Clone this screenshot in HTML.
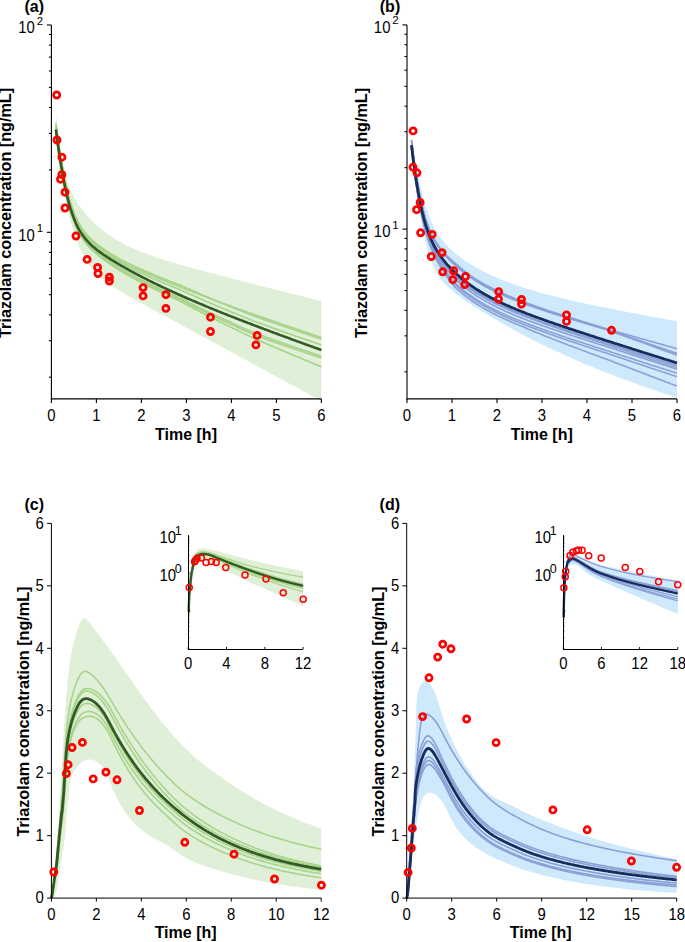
<!DOCTYPE html><html><head><meta charset="utf-8"><style>html,body{margin:0;padding:0;background:#fff;overflow:hidden}svg{display:block}</style></head><body><svg width="685" height="942" viewBox="0 0 685 942" font-family="'Liberation Sans', sans-serif">
<rect width="685" height="942" fill="#fff"/>
<path d="M55.9 113.5L57.0 124.1L58.1 133.6L59.2 142.2L60.3 149.8L61.5 156.5L62.6 162.5L63.7 167.8L64.8 172.4L65.9 176.6L67.0 180.3L68.1 183.7L69.2 186.7L70.3 189.4L71.5 192.0L72.6 194.3L73.7 196.5L74.8 198.5L75.9 200.4L77.0 202.2L78.1 203.9L79.2 205.5L80.3 207.1L81.5 208.6L82.6 210.1L83.7 211.5L84.8 212.8L85.9 214.1L87.0 215.4L88.1 216.7L89.2 217.9L90.3 219.0L91.4 220.2L92.6 221.3L93.7 222.4L94.8 223.4L95.9 224.5L97.0 225.5L98.1 226.5L99.2 227.4L100.3 228.4L101.4 229.3L102.6 230.2L103.7 231.0L104.8 231.9L105.9 232.7L107.0 233.5L108.1 234.3L109.2 235.1L110.3 235.8L111.4 236.6L112.6 237.3L113.7 238.0L114.8 238.7L115.9 239.4L117.0 240.1L118.1 240.7L119.2 241.3L120.3 242.0L121.4 242.6L122.6 243.2L123.7 243.8L124.8 244.3L125.9 244.9L127.0 245.5L128.1 246.0L129.2 246.5L130.3 247.1L131.4 247.6L132.6 248.1L133.7 248.6L134.8 249.1L135.9 249.5L137.0 250.0L138.1 250.5L139.2 250.9L140.3 251.4L141.4 251.8L142.5 252.3L143.7 252.7L144.8 253.1L145.9 253.6L147.0 254.0L148.1 254.4L149.2 254.8L150.3 255.2L151.4 255.6L152.5 256.0L153.7 256.4L154.8 256.7L155.9 257.1L157.0 257.5L158.1 257.9L159.2 258.2L160.3 258.6L161.4 259.0L162.5 259.3L163.7 259.7L164.8 260.0L165.9 260.4L167.0 260.7L168.1 261.1L169.2 261.4L170.3 261.7L171.4 262.1L172.5 262.4L173.7 262.7L174.8 263.1L175.9 263.4L177.0 263.7L178.1 264.1L179.2 264.4L180.3 264.7L181.4 265.0L182.5 265.3L183.7 265.6L184.8 266.0L185.9 266.3L187.0 266.6L188.1 266.9L189.2 267.2L190.3 267.5L191.4 267.8L192.5 268.1L193.6 268.4L194.8 268.7L195.9 269.0L197.0 269.3L198.1 269.6L199.2 269.9L200.3 270.2L201.4 270.5L202.5 270.8L203.6 271.1L204.8 271.4L205.9 271.7L207.0 272.0L208.1 272.3L209.2 272.6L210.3 272.9L211.4 273.2L212.5 273.5L213.6 273.8L214.8 274.1L215.9 274.3L217.0 274.6L218.1 274.9L219.2 275.2L220.3 275.5L221.4 275.8L222.5 276.1L223.6 276.4L224.8 276.6L225.9 276.9L227.0 277.2L228.1 277.5L229.2 277.8L230.3 278.1L231.4 278.4L232.5 278.7L233.6 278.9L234.8 279.2L235.9 279.5L237.0 279.8L238.1 280.1L239.2 280.4L240.3 280.6L241.4 280.9L242.5 281.2L243.6 281.5L244.7 281.8L245.9 282.1L247.0 282.3L248.1 282.6L249.2 282.9L250.3 283.2L251.4 283.5L252.5 283.7L253.6 284.0L254.7 284.3L255.9 284.6L257.0 284.9L258.1 285.2L259.2 285.4L260.3 285.7L261.4 286.0L262.5 286.3L263.6 286.6L264.7 286.8L265.9 287.1L267.0 287.4L268.1 287.7L269.2 288.0L270.3 288.2L271.4 288.5L272.5 288.8L273.6 289.1L274.7 289.4L275.9 289.6L277.0 289.9L278.1 290.2L279.2 290.5L280.3 290.8L281.4 291.0L282.5 291.3L283.6 291.6L284.7 291.9L285.9 292.2L287.0 292.4L288.1 292.7L289.2 293.0L290.3 293.3L291.4 293.6L292.5 293.8L293.6 294.1L294.7 294.4L295.8 294.7L297.0 295.0L298.1 295.2L299.2 295.5L300.3 295.8L301.4 296.1L302.5 296.4L303.6 296.6L304.7 296.9L305.8 297.2L307.0 297.5L308.1 297.8L309.2 298.0L310.3 298.3L311.4 298.6L312.5 298.9L313.6 299.2L314.7 299.4L315.8 299.7L317.0 300.0L318.1 300.3L319.2 300.6L320.3 300.8L321.4 301.1L321.4 401.0L320.3 400.4L319.2 399.8L318.1 399.2L317.0 398.6L315.8 398.0L314.7 397.4L313.6 396.8L312.5 396.2L311.4 395.6L310.3 395.0L309.2 394.4L308.1 393.8L307.0 393.2L305.8 392.6L304.7 392.0L303.6 391.4L302.5 390.8L301.4 390.2L300.3 389.6L299.2 389.0L298.1 388.4L297.0 387.8L295.8 387.1L294.7 386.5L293.6 385.9L292.5 385.3L291.4 384.7L290.3 384.1L289.2 383.5L288.1 382.9L287.0 382.3L285.9 381.7L284.7 381.1L283.6 380.5L282.5 379.9L281.4 379.3L280.3 378.7L279.2 378.1L278.1 377.5L277.0 376.9L275.9 376.3L274.7 375.7L273.6 375.1L272.5 374.5L271.4 373.9L270.3 373.3L269.2 372.7L268.1 372.1L267.0 371.5L265.9 370.9L264.7 370.3L263.6 369.7L262.5 369.1L261.4 368.5L260.3 367.9L259.2 367.3L258.1 366.7L257.0 366.1L255.9 365.5L254.7 364.9L253.6 364.2L252.5 363.6L251.4 363.0L250.3 362.4L249.2 361.8L248.1 361.2L247.0 360.6L245.9 360.0L244.7 359.4L243.6 358.8L242.5 358.2L241.4 357.6L240.3 357.0L239.2 356.4L238.1 355.8L237.0 355.2L235.9 354.6L234.8 354.0L233.6 353.4L232.5 352.8L231.4 352.2L230.3 351.6L229.2 351.0L228.1 350.4L227.0 349.8L225.9 349.2L224.8 348.6L223.6 348.0L222.5 347.4L221.4 346.8L220.3 346.2L219.2 345.6L218.1 345.0L217.0 344.4L215.9 343.8L214.8 343.2L213.6 342.6L212.5 342.0L211.4 341.3L210.3 340.7L209.2 340.1L208.1 339.5L207.0 338.9L205.9 338.3L204.8 337.7L203.6 337.1L202.5 336.5L201.4 335.9L200.3 335.3L199.2 334.7L198.1 334.1L197.0 333.5L195.9 332.9L194.8 332.3L193.6 331.7L192.5 331.1L191.4 330.5L190.3 329.9L189.2 329.3L188.1 328.7L187.0 328.1L185.9 327.5L184.8 326.9L183.7 326.3L182.5 325.7L181.4 325.1L180.3 324.5L179.2 323.9L178.1 323.3L177.0 322.7L175.9 322.1L174.8 321.5L173.7 320.9L172.5 320.3L171.4 319.6L170.3 319.0L169.2 318.4L168.1 317.8L167.0 317.2L165.9 316.6L164.8 316.0L163.7 315.4L162.5 314.8L161.4 314.2L160.3 313.6L159.2 313.0L158.1 312.4L157.0 311.8L155.9 311.2L154.8 310.6L153.7 310.0L152.5 309.4L151.4 308.8L150.3 308.2L149.2 307.5L148.1 306.9L147.0 306.3L145.9 305.7L144.8 305.1L143.7 304.5L142.5 303.9L141.4 303.3L140.3 302.7L139.2 302.1L138.1 301.4L137.0 300.8L135.9 300.2L134.8 299.6L133.7 299.0L132.6 298.3L131.4 297.7L130.3 297.1L129.2 296.4L128.1 295.8L127.0 295.2L125.9 294.5L124.8 293.9L123.7 293.2L122.6 292.6L121.4 291.9L120.3 291.3L119.2 290.6L118.1 289.9L117.0 289.2L115.9 288.5L114.8 287.8L113.7 287.1L112.6 286.4L111.4 285.6L110.3 284.9L109.2 284.1L108.1 283.3L107.0 282.5L105.9 281.7L104.8 280.9L103.7 280.0L102.6 279.1L101.4 278.2L100.3 277.2L99.2 276.2L98.1 275.2L97.0 274.1L95.9 273.0L94.8 271.8L93.7 270.6L92.6 269.3L91.4 267.9L90.3 266.5L89.2 265.0L88.1 263.5L87.0 261.8L85.9 260.0L84.8 258.2L83.7 256.2L82.6 254.1L81.5 251.9L80.3 249.5L79.2 247.0L78.1 244.4L77.0 241.6L75.9 238.6L74.8 235.5L73.7 232.2L72.6 228.7L71.5 225.0L70.3 221.0L69.2 216.9L68.1 212.6L67.0 208.1L65.9 203.3L64.8 198.4L63.7 193.2L62.6 187.8L61.5 182.2L60.3 176.3L59.2 170.2L58.1 163.6L57.0 154.8L55.9 135.0 Z" fill="#e0efd8" stroke="none"/>
<path d="M55.9 123.3L57.0 131.7L58.1 139.7L59.2 147.3L60.3 154.6L61.5 161.4L62.6 167.8L63.7 173.8L64.8 179.4L65.9 184.7L67.0 189.5L68.1 194.0L69.2 198.2L70.3 202.1L71.5 205.6L72.6 208.9L73.7 211.9L74.8 214.7L75.9 217.3L77.0 219.7L78.1 221.9L79.2 223.9L80.3 225.8L81.5 227.6L82.6 229.2L83.7 230.7L84.8 232.2L85.9 233.5L87.0 234.8L88.1 236.0L89.2 237.2L90.3 238.3L91.4 239.4L92.6 240.4L93.7 241.3L94.8 242.3L95.9 243.2L97.0 244.1L98.1 245.0L99.2 245.8L100.3 246.6L101.4 247.4L102.6 248.2L103.7 249.0L104.8 249.7L105.9 250.5L107.0 251.2L108.1 251.9L109.2 252.7L110.3 253.4L111.4 254.1L112.6 254.8L113.7 255.5L114.8 256.1L115.9 256.8L117.0 257.5L118.1 258.1L119.2 258.8L120.3 259.4L121.4 260.0L122.6 260.5L123.7 261.1L124.8 261.6L125.9 262.2L127.0 262.7L128.1 263.2L129.2 263.8L130.3 264.3L131.4 264.8L132.6 265.3L133.7 265.9L134.8 266.4L135.9 266.9L137.0 267.4L138.1 267.9L139.2 268.4L140.3 268.9L141.4 269.4L142.5 269.9L143.7 270.4L144.8 270.9L145.9 271.3L147.0 271.8L148.1 272.3L149.2 272.8L150.3 273.2L151.4 273.7L152.5 274.2L153.7 274.6L154.8 275.1L155.9 275.6L157.0 276.0L158.1 276.5L159.2 276.9L160.3 277.4L161.4 277.8L162.5 278.3L163.7 278.7L164.8 279.2L165.9 279.6L167.0 280.0L168.1 280.5L169.2 280.9L170.3 281.3L171.4 281.8L172.5 282.2L173.7 282.6L174.8 283.0L175.9 283.5L177.0 283.9L178.1 284.3L179.2 284.7L180.3 285.1L181.4 285.6L182.5 286.2L183.7 286.7L184.8 287.2L185.9 287.7L187.0 288.2L188.1 288.7L189.2 289.1L190.3 289.6L191.4 290.1L192.5 290.6L193.6 291.1L194.8 291.6L195.9 292.1L197.0 292.6L198.1 293.1L199.2 293.5L200.3 294.0L201.4 294.5L202.5 295.0L203.6 295.4L204.8 295.9L205.9 296.4L207.0 296.9L208.1 297.3L209.2 297.8L210.3 298.3L211.4 298.8L212.5 299.2L213.6 299.7L214.8 300.2L215.9 300.6L217.0 301.1L218.1 301.5L219.2 302.0L220.3 302.5L221.4 302.9L222.5 303.4L223.6 303.8L224.8 304.3L225.9 304.7L227.0 305.2L228.1 305.7L229.2 306.1L230.3 306.6L231.4 307.0L232.5 307.5L233.6 307.9L234.8 308.4L235.9 308.8L237.0 309.2L238.1 309.7L239.2 310.1L240.3 310.6L241.4 311.0L242.5 311.5L243.6 311.9L244.7 312.4L245.9 312.8L247.0 313.2L248.1 313.7L249.2 314.1L250.3 314.6L251.4 315.0L252.5 315.4L253.6 315.9L254.7 316.3L255.9 316.7L257.0 317.1L258.1 317.5L259.2 317.9L260.3 318.3L261.4 318.6L262.5 319.0L263.6 319.4L264.7 319.8L265.9 320.2L267.0 320.6L268.1 321.0L269.2 321.3L270.3 321.7L271.4 322.1L272.5 322.5L273.6 322.9L274.7 323.3L275.9 323.7L277.0 324.0L278.1 324.4L279.2 324.8L280.3 325.2L281.4 325.6L282.5 325.9L283.6 326.3L284.7 326.7L285.9 327.1L287.0 327.5L288.1 327.8L289.2 328.2L290.3 328.6L291.4 329.0L292.5 329.3L293.6 329.7L294.7 330.1L295.8 330.5L297.0 330.8L298.1 331.2L299.2 331.6L300.3 332.0L301.4 332.3L302.5 332.7L303.6 333.1L304.7 333.5L305.8 333.8L307.0 334.2L308.1 334.6L309.2 335.0L310.3 335.3L311.4 335.7L312.5 336.1L313.6 336.4L314.7 336.8L315.8 337.2L317.0 337.6L318.1 337.9L319.2 338.3L320.3 338.7L321.4 339.0" fill="none" stroke="#a8d48a" stroke-width="1.7"/>
<path d="M55.9 123.3L57.0 131.7L58.1 139.8L59.2 147.4L60.3 154.7L61.5 161.5L62.6 168.0L63.7 174.0L64.8 179.7L65.9 184.9L67.0 189.8L68.1 194.4L69.2 198.6L70.3 202.4L71.5 206.0L72.6 209.3L73.7 212.4L74.8 215.2L75.9 217.8L77.0 220.2L78.1 222.5L79.2 224.5L80.3 226.4L81.5 228.2L82.6 229.9L83.7 231.5L84.8 232.9L85.9 234.3L87.0 235.6L88.1 236.9L89.2 238.1L90.3 239.2L91.4 240.3L92.6 241.3L93.7 242.4L94.8 243.3L95.9 244.3L97.0 245.2L98.1 246.1L99.2 246.9L100.3 247.8L101.4 248.6L102.6 249.4L103.7 250.2L104.8 251.0L105.9 251.8L107.0 252.6L108.1 253.3L109.2 254.1L110.3 254.8L111.4 255.6L112.6 256.3L113.7 257.0L114.8 257.7L115.9 258.4L117.0 259.1L118.1 259.8L119.2 260.5L120.3 261.1L121.4 261.7L122.6 262.2L123.7 262.8L124.8 263.3L125.9 263.9L127.0 264.4L128.1 264.9L129.2 265.5L130.3 266.0L131.4 266.5L132.6 267.0L133.7 267.6L134.8 268.1L135.9 268.6L137.0 269.1L138.1 269.6L139.2 270.1L140.3 270.6L141.4 271.1L142.5 271.6L143.7 272.1L144.8 272.6L145.9 273.0L147.0 273.5L148.1 274.0L149.2 274.5L150.3 274.9L151.4 275.4L152.5 275.9L153.7 276.3L154.8 276.8L155.9 277.3L157.0 277.7L158.1 278.2L159.2 278.6L160.3 279.1L161.4 279.5L162.5 280.0L163.7 280.4L164.8 280.9L165.9 281.3L167.0 281.7L168.1 282.2L169.2 282.6L170.3 283.0L171.4 283.5L172.5 283.9L173.7 284.3L174.8 284.7L175.9 285.2L177.0 285.6L178.1 286.0L179.2 286.4L180.3 286.8L181.4 287.3L182.5 287.7L183.7 288.2L184.8 288.7L185.9 289.1L187.0 289.6L188.1 290.0L189.2 290.4L190.3 290.9L191.4 291.3L192.5 291.8L193.6 292.2L194.8 292.7L195.9 293.1L197.0 293.5L198.1 294.0L199.2 294.4L200.3 294.8L201.4 295.3L202.5 295.7L203.6 296.1L204.8 296.5L205.9 297.0L207.0 297.4L208.1 297.8L209.2 298.2L210.3 298.6L211.4 299.1L212.5 299.5L213.6 299.9L214.8 300.3L215.9 300.7L217.0 301.1L218.1 301.6L219.2 302.0L220.3 302.4L221.4 302.8L222.5 303.2L223.6 303.6L224.8 304.0L225.9 304.4L227.0 304.8L228.1 305.2L229.2 305.6L230.3 306.0L231.4 306.4L232.5 306.8L233.6 307.2L234.8 307.6L235.9 308.0L237.0 308.4L238.1 308.8L239.2 309.2L240.3 309.6L241.4 310.0L242.5 310.4L243.6 310.8L244.7 311.2L245.9 311.6L247.0 312.0L248.1 312.4L249.2 312.8L250.3 313.2L251.4 313.5L252.5 313.9L253.6 314.3L254.7 314.7L255.9 315.1L257.0 315.5L258.1 315.9L259.2 316.3L260.3 316.7L261.4 317.0L262.5 317.4L263.6 317.8L264.7 318.2L265.9 318.6L267.0 319.0L268.1 319.4L269.2 319.7L270.3 320.1L271.4 320.5L272.5 320.9L273.6 321.3L274.7 321.7L275.9 322.1L277.0 322.4L278.1 322.8L279.2 323.2L280.3 323.6L281.4 324.0L282.5 324.3L283.6 324.7L284.7 325.1L285.9 325.5L287.0 325.9L288.1 326.2L289.2 326.6L290.3 327.0L291.4 327.4L292.5 327.7L293.6 328.1L294.7 328.5L295.8 328.9L297.0 329.2L298.1 329.6L299.2 330.0L300.3 330.4L301.4 330.7L302.5 331.1L303.6 331.5L304.7 331.9L305.8 332.2L307.0 332.6L308.1 333.0L309.2 333.4L310.3 333.7L311.4 334.1L312.5 334.5L313.6 334.8L314.7 335.2L315.8 335.6L317.0 336.0L318.1 336.3L319.2 336.7L320.3 337.1L321.4 337.4" fill="none" stroke="#a8d48a" stroke-width="1.7"/>
<path d="M55.9 125.3L57.0 133.7L58.1 141.8L59.2 149.4L60.3 156.7L61.5 163.5L62.6 169.9L63.7 176.0L64.8 181.6L65.9 186.9L67.0 191.8L68.1 196.3L69.2 200.5L70.3 204.4L71.5 208.0L72.6 211.3L73.7 214.3L74.8 217.2L75.9 219.8L77.0 222.2L78.1 224.4L79.2 226.5L80.3 228.4L81.5 230.2L82.6 231.8L83.7 233.4L84.8 234.9L85.9 236.2L87.0 237.6L88.1 238.8L89.2 240.0L90.3 241.1L91.4 242.2L92.6 243.2L93.7 244.2L94.8 245.2L95.9 246.1L97.0 247.1L98.1 247.9L99.2 248.8L100.3 249.7L101.4 250.5L102.6 251.3L103.7 252.1L104.8 252.9L105.9 253.7L107.0 254.4L108.1 255.2L109.2 255.9L110.3 256.7L111.4 257.4L112.6 258.1L113.7 258.8L114.8 259.5L115.9 260.2L117.0 260.9L118.1 261.6L119.2 262.3L120.3 262.9L121.4 263.5L122.6 264.1L123.7 264.6L124.8 265.2L125.9 265.8L127.0 266.3L128.1 266.9L129.2 267.4L130.3 268.0L131.4 268.5L132.6 269.1L133.7 269.6L134.8 270.1L135.9 270.7L137.0 271.2L138.1 271.7L139.2 272.2L140.3 272.8L141.4 273.3L142.5 273.8L143.7 274.3L144.8 274.8L145.9 275.3L147.0 275.8L148.1 276.3L149.2 276.8L150.3 277.3L151.4 277.8L152.5 278.3L153.7 278.8L154.8 279.2L155.9 279.7L157.0 280.2L158.1 280.7L159.2 281.1L160.3 281.6L161.4 282.1L162.5 282.6L163.7 283.0L164.8 283.5L165.9 283.9L167.0 284.4L168.1 284.8L169.2 285.3L170.3 285.8L171.4 286.2L172.5 286.6L173.7 287.1L174.8 287.5L175.9 288.0L177.0 288.4L178.1 288.9L179.2 289.3L180.3 289.7L181.4 290.3L182.5 290.8L183.7 291.3L184.8 291.8L185.9 292.3L187.0 292.8L188.1 293.3L189.2 293.8L190.3 294.3L191.4 294.8L192.5 295.3L193.6 295.8L194.8 296.3L195.9 296.8L197.0 297.3L198.1 297.8L199.2 298.3L200.3 298.8L201.4 299.2L202.5 299.7L203.6 300.2L204.8 300.7L205.9 301.2L207.0 301.7L208.1 302.1L209.2 302.6L210.3 303.1L211.4 303.6L212.5 304.0L213.6 304.5L214.8 305.0L215.9 305.5L217.0 305.9L218.1 306.4L219.2 306.9L220.3 307.3L221.4 307.8L222.5 308.3L223.6 308.7L224.8 309.2L225.9 309.7L227.0 310.1L228.1 310.6L229.2 311.0L230.3 311.5L231.4 312.0L232.5 312.4L233.6 312.9L234.8 313.3L235.9 313.8L237.0 314.2L238.1 314.7L239.2 315.1L240.3 315.6L241.4 316.0L242.5 316.5L243.6 316.9L244.7 317.4L245.9 317.8L247.0 318.3L248.1 318.7L249.2 319.2L250.3 319.6L251.4 320.1L252.5 320.5L253.6 321.0L254.7 321.4L255.9 321.8L257.0 322.2L258.1 322.6L259.2 323.0L260.3 323.4L261.4 323.8L262.5 324.2L263.6 324.6L264.7 325.0L265.9 325.4L267.0 325.8L268.1 326.2L269.2 326.6L270.3 327.0L271.4 327.4L272.5 327.8L273.6 328.2L274.7 328.6L275.9 329.0L277.0 329.4L278.1 329.8L279.2 330.2L280.3 330.6L281.4 331.0L282.5 331.4L283.6 331.8L284.7 332.2L285.9 332.6L287.0 332.9L288.1 333.3L289.2 333.7L290.3 334.1L291.4 334.5L292.5 334.9L293.6 335.3L294.7 335.7L295.8 336.1L297.0 336.5L298.1 336.8L299.2 337.2L300.3 337.6L301.4 338.0L302.5 338.4L303.6 338.8L304.7 339.2L305.8 339.6L307.0 339.9L308.1 340.3L309.2 340.7L310.3 341.1L311.4 341.5L312.5 341.9L313.6 342.3L314.7 342.6L315.8 343.0L317.0 343.4L318.1 343.8L319.2 344.2L320.3 344.6L321.4 344.9" fill="none" stroke="#a8d48a" stroke-width="1.7"/>
<path d="M55.9 130.3L57.0 138.7L58.1 146.8L59.2 154.4L60.3 161.7L61.5 168.5L62.6 175.0L63.7 181.0L64.8 186.7L65.9 191.9L67.0 196.8L68.1 201.4L69.2 205.6L70.3 209.4L71.5 213.0L72.6 216.3L73.7 219.4L74.8 222.2L75.9 224.8L77.0 227.2L78.1 229.5L79.2 231.5L80.3 233.4L81.5 235.2L82.6 236.9L83.7 238.5L84.8 239.9L85.9 241.3L87.0 242.6L88.1 243.9L89.2 245.1L90.3 246.2L91.4 247.3L92.6 248.3L93.7 249.4L94.8 250.3L95.9 251.3L97.0 252.2L98.1 253.1L99.2 253.9L100.3 254.8L101.4 255.6L102.6 256.4L103.7 257.2L104.8 258.0L105.9 258.8L107.0 259.6L108.1 260.3L109.2 261.1L110.3 261.8L111.4 262.6L112.6 263.3L113.7 264.0L114.8 264.7L115.9 265.4L117.0 266.1L118.1 266.8L119.2 267.5L120.3 268.1L121.4 268.8L122.6 269.4L123.7 270.1L124.8 270.7L125.9 271.3L127.0 271.9L128.1 272.5L129.2 273.2L130.3 273.8L131.4 274.4L132.6 275.0L133.7 275.6L134.8 276.2L135.9 276.8L137.0 277.3L138.1 277.9L139.2 278.5L140.3 279.1L141.4 279.7L142.5 280.2L143.7 280.8L144.8 281.4L145.9 281.9L147.0 282.5L148.1 283.1L149.2 283.6L150.3 284.2L151.4 284.7L152.5 285.3L153.7 285.8L154.8 286.4L155.9 286.9L157.0 287.4L158.1 288.0L159.2 288.5L160.3 289.0L161.4 289.6L162.5 290.1L163.7 290.6L164.8 291.1L165.9 291.7L167.0 292.2L168.1 292.7L169.2 293.2L170.3 293.7L171.4 294.2L172.5 294.7L173.7 295.2L174.8 295.7L175.9 296.2L177.0 296.7L178.1 297.2L179.2 297.7L180.3 298.3L181.4 298.8L182.5 299.4L183.7 299.9L184.8 300.5L185.9 301.0L187.0 301.6L188.1 302.1L189.2 302.7L190.3 303.2L191.4 303.8L192.5 304.3L193.6 304.9L194.8 305.4L195.9 306.0L197.0 306.5L198.1 307.0L199.2 307.6L200.3 308.1L201.4 308.7L202.5 309.2L203.6 309.7L204.8 310.2L205.9 310.8L207.0 311.3L208.1 311.8L209.2 312.4L210.3 312.9L211.4 313.4L212.5 313.9L213.6 314.4L214.8 315.0L215.9 315.5L217.0 316.0L218.1 316.5L219.2 317.0L220.3 317.6L221.4 318.1L222.5 318.6L223.6 319.1L224.8 319.6L225.9 320.1L227.0 320.6L228.1 321.1L229.2 321.6L230.3 322.1L231.4 322.6L232.5 323.2L233.6 323.7L234.8 324.2L235.9 324.7L237.0 325.2L238.1 325.7L239.2 326.2L240.3 326.7L241.4 327.2L242.5 327.7L243.6 328.2L244.7 328.7L245.9 329.2L247.0 329.6L248.1 330.1L249.2 330.6L250.3 331.1L251.4 331.6L252.5 332.1L253.6 332.6L254.7 333.1L255.9 333.5L257.0 333.9L258.1 334.3L259.2 334.7L260.3 335.1L261.4 335.5L262.5 335.9L263.6 336.3L264.7 336.7L265.9 337.1L267.0 337.5L268.1 337.8L269.2 338.2L270.3 338.6L271.4 339.0L272.5 339.4L273.6 339.8L274.7 340.2L275.9 340.6L277.0 341.0L278.1 341.4L279.2 341.7L280.3 342.1L281.4 342.5L282.5 342.9L283.6 343.3L284.7 343.7L285.9 344.1L287.0 344.4L288.1 344.8L289.2 345.2L290.3 345.6L291.4 346.0L292.5 346.4L293.6 346.8L294.7 347.1L295.8 347.5L297.0 347.9L298.1 348.3L299.2 348.7L300.3 349.0L301.4 349.4L302.5 349.8L303.6 350.2L304.7 350.6L305.8 350.9L307.0 351.3L308.1 351.7L309.2 352.1L310.3 352.5L311.4 352.8L312.5 353.2L313.6 353.6L314.7 354.0L315.8 354.4L317.0 354.7L318.1 355.1L319.2 355.5L320.3 355.9L321.4 356.2" fill="none" stroke="#a8d48a" stroke-width="1.7"/>
<path d="M55.9 131.3L57.0 139.7L58.1 147.8L59.2 155.5L60.3 162.7L61.5 169.6L62.6 176.1L63.7 182.1L64.8 187.8L65.9 193.1L67.0 198.0L68.1 202.5L69.2 206.8L70.3 210.7L71.5 214.3L72.6 217.6L73.7 220.7L74.8 223.5L75.9 226.1L77.0 228.6L78.1 230.8L79.2 232.9L80.3 234.8L81.5 236.6L82.6 238.3L83.7 239.9L84.8 241.4L85.9 242.8L87.0 244.1L88.1 245.4L89.2 246.6L90.3 247.8L91.4 248.9L92.6 249.9L93.7 250.9L94.8 251.9L95.9 252.9L97.0 253.8L98.1 254.7L99.2 255.6L100.3 256.5L101.4 257.3L102.6 258.2L103.7 259.0L104.8 259.8L105.9 260.6L107.0 261.4L108.1 262.2L109.2 262.9L110.3 263.7L111.4 264.4L112.6 265.2L113.7 265.9L114.8 266.6L115.9 267.3L117.0 268.1L118.1 268.8L119.2 269.5L120.3 270.1L121.4 270.8L122.6 271.4L123.7 272.0L124.8 272.6L125.9 273.2L127.0 273.8L128.1 274.4L129.2 275.0L130.3 275.6L131.4 276.2L132.6 276.8L133.7 277.4L134.8 278.0L135.9 278.6L137.0 279.1L138.1 279.7L139.2 280.3L140.3 280.9L141.4 281.4L142.5 282.0L143.7 282.5L144.8 283.1L145.9 283.6L147.0 284.2L148.1 284.7L149.2 285.3L150.3 285.8L151.4 286.4L152.5 286.9L153.7 287.4L154.8 288.0L155.9 288.5L157.0 289.0L158.1 289.5L159.2 290.0L160.3 290.6L161.4 291.1L162.5 291.6L163.7 292.1L164.8 292.6L165.9 293.1L167.0 293.6L168.1 294.1L169.2 294.6L170.3 295.1L171.4 295.6L172.5 296.1L173.7 296.6L174.8 297.1L175.9 297.6L177.0 298.1L178.1 298.6L179.2 299.1L180.3 299.6L181.4 300.1L182.5 300.7L183.7 301.3L184.8 301.8L185.9 302.4L187.0 303.0L188.1 303.5L189.2 304.1L190.3 304.6L191.4 305.2L192.5 305.8L193.6 306.3L194.8 306.9L195.9 307.4L197.0 308.0L198.1 308.5L199.2 309.1L200.3 309.6L201.4 310.2L202.5 310.7L203.6 311.2L204.8 311.8L205.9 312.3L207.0 312.9L208.1 313.4L209.2 313.9L210.3 314.5L211.4 315.0L212.5 315.5L213.6 316.1L214.8 316.6L215.9 317.1L217.0 317.6L218.1 318.2L219.2 318.7L220.3 319.2L221.4 319.8L222.5 320.3L223.6 320.8L224.8 321.3L225.9 321.8L227.0 322.4L228.1 322.9L229.2 323.4L230.3 323.9L231.4 324.4L232.5 324.9L233.6 325.5L234.8 326.0L235.9 326.5L237.0 327.0L238.1 327.5L239.2 328.0L240.3 328.5L241.4 329.0L242.5 329.5L243.6 330.1L244.7 330.6L245.9 331.1L247.0 331.6L248.1 332.1L249.2 332.6L250.3 333.1L251.4 333.6L252.5 334.1L253.6 334.6L254.7 335.1L255.9 335.5L257.0 335.9L258.1 336.3L259.2 336.7L260.3 337.1L261.4 337.5L262.5 337.9L263.6 338.2L264.7 338.6L265.9 339.0L267.0 339.4L268.1 339.8L269.2 340.2L270.3 340.6L271.4 341.0L272.5 341.4L273.6 341.7L274.7 342.1L275.9 342.5L277.0 342.9L278.1 343.3L279.2 343.7L280.3 344.1L281.4 344.4L282.5 344.8L283.6 345.2L284.7 345.6L285.9 346.0L287.0 346.4L288.1 346.7L289.2 347.1L290.3 347.5L291.4 347.9L292.5 348.3L293.6 348.6L294.7 349.0L295.8 349.4L297.0 349.8L298.1 350.2L299.2 350.5L300.3 350.9L301.4 351.3L302.5 351.7L303.6 352.0L304.7 352.4L305.8 352.8L307.0 353.2L308.1 353.5L309.2 353.9L310.3 354.3L311.4 354.7L312.5 355.1L313.6 355.4L314.7 355.8L315.8 356.2L317.0 356.5L318.1 356.9L319.2 357.3L320.3 357.7L321.4 358.0" fill="none" stroke="#a8d48a" stroke-width="1.7"/>
<path d="M55.9 131.3L57.0 139.7L58.1 147.8L59.2 155.5L60.3 162.8L61.5 169.7L62.6 176.1L63.7 182.2L64.8 187.9L65.9 193.2L67.0 198.1L68.1 202.7L69.2 206.9L70.3 210.8L71.5 214.4L72.6 217.8L73.7 220.8L74.8 223.7L75.9 226.3L77.0 228.8L78.1 231.0L79.2 233.1L80.3 235.1L81.5 236.9L82.6 238.6L83.7 240.2L84.8 241.7L85.9 243.1L87.0 244.4L88.1 245.7L89.2 246.9L90.3 248.1L91.4 249.2L92.6 250.3L93.7 251.3L94.8 252.3L95.9 253.3L97.0 254.2L98.1 255.1L99.2 256.0L100.3 256.9L101.4 257.8L102.6 258.6L103.7 259.4L104.8 260.3L105.9 261.1L107.0 261.9L108.1 262.6L109.2 263.4L110.3 264.2L111.4 264.9L112.6 265.7L113.7 266.4L114.8 267.2L115.9 267.9L117.0 268.6L118.1 269.4L119.2 270.1L120.3 270.7L121.4 271.4L122.6 272.0L123.7 272.7L124.8 273.3L125.9 273.9L127.0 274.6L128.1 275.2L129.2 275.8L130.3 276.4L131.4 277.0L132.6 277.7L133.7 278.3L134.8 278.9L135.9 279.5L137.0 280.1L138.1 280.7L139.2 281.2L140.3 281.8L141.4 282.4L142.5 283.0L143.7 283.6L144.8 284.1L145.9 284.7L147.0 285.3L148.1 285.8L149.2 286.4L150.3 287.0L151.4 287.5L152.5 288.1L153.7 288.6L154.8 289.2L155.9 289.7L157.0 290.3L158.1 290.8L159.2 291.4L160.3 291.9L161.4 292.4L162.5 293.0L163.7 293.5L164.8 294.0L165.9 294.6L167.0 295.1L168.1 295.6L169.2 296.1L170.3 296.7L171.4 297.2L172.5 297.7L173.7 298.2L174.8 298.7L175.9 299.2L177.0 299.7L178.1 300.2L179.2 300.7L180.3 301.3L181.4 301.9L182.5 302.5L183.7 303.1L184.8 303.6L185.9 304.2L187.0 304.8L188.1 305.4L189.2 306.0L190.3 306.6L191.4 307.2L192.5 307.8L193.6 308.4L194.8 308.9L195.9 309.5L197.0 310.1L198.1 310.7L199.2 311.2L200.3 311.8L201.4 312.4L202.5 313.0L203.6 313.5L204.8 314.1L205.9 314.7L207.0 315.2L208.1 315.8L209.2 316.4L210.3 316.9L211.4 317.5L212.5 318.1L213.6 318.6L214.8 319.2L215.9 319.7L217.0 320.3L218.1 320.8L219.2 321.4L220.3 322.0L221.4 322.5L222.5 323.1L223.6 323.6L224.8 324.2L225.9 324.7L227.0 325.3L228.1 325.8L229.2 326.3L230.3 326.9L231.4 327.4L232.5 328.0L233.6 328.5L234.8 329.1L235.9 329.6L237.0 330.1L238.1 330.7L239.2 331.2L240.3 331.8L241.4 332.3L242.5 332.8L243.6 333.4L244.7 333.9L245.9 334.4L247.0 335.0L248.1 335.5L249.2 336.0L250.3 336.6L251.4 337.1L252.5 337.6L253.6 338.2L254.7 338.7L255.9 339.2L257.0 339.7L258.1 340.1L259.2 340.6L260.3 341.1L261.4 341.6L262.5 342.1L263.6 342.5L264.7 343.0L265.9 343.5L267.0 344.0L268.1 344.4L269.2 344.9L270.3 345.4L271.4 345.9L272.5 346.3L273.6 346.8L274.7 347.3L275.9 347.8L277.0 348.2L278.1 348.7L279.2 349.2L280.3 349.6L281.4 350.1L282.5 350.6L283.6 351.1L284.7 351.5L285.9 352.0L287.0 352.5L288.1 352.9L289.2 353.4L290.3 353.9L291.4 354.3L292.5 354.8L293.6 355.3L294.7 355.7L295.8 356.2L297.0 356.7L298.1 357.1L299.2 357.6L300.3 358.1L301.4 358.5L302.5 359.0L303.6 359.5L304.7 359.9L305.8 360.4L307.0 360.8L308.1 361.3L309.2 361.8L310.3 362.2L311.4 362.7L312.5 363.2L313.6 363.6L314.7 364.1L315.8 364.5L317.0 365.0L318.1 365.5L319.2 365.9L320.3 366.4L321.4 366.8" fill="none" stroke="#a8d48a" stroke-width="1.7"/>
<path d="M55.9 129.3L57.0 137.7L58.1 145.7L59.2 153.3L60.3 160.5L61.5 167.3L62.6 173.8L63.7 179.8L64.8 185.4L65.9 190.6L67.0 195.5L68.1 200.0L69.2 204.1L70.3 208.0L71.5 211.5L72.6 214.8L73.7 217.8L74.8 220.6L75.9 223.2L77.0 225.6L78.1 227.8L79.2 229.8L80.3 231.7L81.5 233.4L82.6 235.1L83.7 236.6L84.8 238.0L85.9 239.4L87.0 240.7L88.1 241.9L89.2 243.0L90.3 244.1L91.4 245.2L92.6 246.2L93.7 247.2L94.8 248.1L95.9 249.0L97.0 249.9L98.1 250.8L99.2 251.6L100.3 252.4L101.4 253.2L102.6 254.0L103.7 254.8L104.8 255.5L105.9 256.2L107.0 257.0L108.1 257.7L109.2 258.4L110.3 259.1L111.4 259.8L112.6 260.5L113.7 261.2L114.8 261.9L115.9 262.5L117.0 263.2L118.1 263.8L119.2 264.5L120.3 265.1L121.4 265.8L122.6 266.4L123.7 267.1L124.8 267.7L125.9 268.3L127.0 268.9L128.1 269.5L129.2 270.2L130.3 270.8L131.4 271.4L132.6 272.0L133.7 272.6L134.8 273.2L135.9 273.8L137.0 274.3L138.1 274.9L139.2 275.5L140.3 276.1L141.4 276.7L142.5 277.2L143.7 277.8L144.8 278.4L145.9 278.9L147.0 279.5L148.1 280.1L149.2 280.6L150.3 281.2L151.4 281.7L152.5 282.3L153.7 282.8L154.8 283.4L155.9 283.9L157.0 284.4L158.1 285.0L159.2 285.5L160.3 286.0L161.4 286.6L162.5 287.1L163.7 287.6L164.8 288.1L165.9 288.7L167.0 289.2L168.1 289.7L169.2 290.2L170.3 290.7L171.4 291.2L172.5 291.7L173.7 292.2L174.8 292.7L175.9 293.2L177.0 293.7L178.1 294.2L179.2 294.7L180.3 295.2L181.4 295.7L182.5 296.2L183.7 296.7L184.8 297.2L185.9 297.7L187.0 298.2L188.1 298.7L189.2 299.1L190.3 299.6L191.4 300.1L192.5 300.6L193.6 301.0L194.8 301.5L195.9 302.0L197.0 302.5L198.1 302.9L199.2 303.4L200.3 303.9L201.4 304.3L202.5 304.8L203.6 305.3L204.8 305.7L205.9 306.2L207.0 306.6L208.1 307.1L209.2 307.6L210.3 308.0L211.4 308.5L212.5 308.9L213.6 309.4L214.8 309.8L215.9 310.3L217.0 310.7L218.1 311.2L219.2 311.6L220.3 312.1L221.4 312.5L222.5 313.0L223.6 313.4L224.8 313.9L225.9 314.3L227.0 314.7L228.1 315.2L229.2 315.6L230.3 316.1L231.4 316.5L232.5 316.9L233.6 317.4L234.8 317.8L235.9 318.2L237.0 318.7L238.1 319.1L239.2 319.5L240.3 320.0L241.4 320.4L242.5 320.8L243.6 321.2L244.7 321.7L245.9 322.1L247.0 322.5L248.1 323.0L249.2 323.4L250.3 323.8L251.4 324.2L252.5 324.7L253.6 325.1L254.7 325.5L255.9 325.9L257.0 326.3L258.1 326.8L259.2 327.2L260.3 327.6L261.4 328.0L262.5 328.4L263.6 328.9L264.7 329.3L265.9 329.7L267.0 330.1L268.1 330.5L269.2 330.9L270.3 331.4L271.4 331.8L272.5 332.2L273.6 332.6L274.7 333.0L275.9 333.4L277.0 333.8L278.1 334.2L279.2 334.7L280.3 335.1L281.4 335.5L282.5 335.9L283.6 336.3L284.7 336.7L285.9 337.1L287.0 337.5L288.1 337.9L289.2 338.3L290.3 338.7L291.4 339.2L292.5 339.6L293.6 340.0L294.7 340.4L295.8 340.8L297.0 341.2L298.1 341.6L299.2 342.0L300.3 342.4L301.4 342.8L302.5 343.2L303.6 343.6L304.7 344.0L305.8 344.4L307.0 344.8L308.1 345.2L309.2 345.6L310.3 346.0L311.4 346.4L312.5 346.8L313.6 347.2L314.7 347.6L315.8 348.0L317.0 348.4L318.1 348.8L319.2 349.2L320.3 349.6L321.4 350.0" fill="none" stroke="#325a24" stroke-width="2.6"/>
<path d="M411.5 136.5L412.6 143.8L413.7 150.9L414.8 157.6L415.9 163.9L417.1 169.9L418.2 175.6L419.3 181.0L420.4 186.0L421.5 190.8L422.6 195.2L423.7 199.4L424.8 203.3L425.9 206.9L427.1 210.3L428.2 213.5L429.3 216.4L430.4 219.2L431.5 221.8L432.6 224.2L433.7 226.5L434.8 228.6L435.9 230.6L437.1 232.5L438.2 234.2L439.3 235.9L440.4 237.5L441.5 239.0L442.6 240.5L443.7 241.8L444.8 243.2L445.9 244.4L447.0 245.6L448.2 246.8L449.3 247.9L450.4 249.0L451.5 250.0L452.6 251.0L453.7 252.0L454.8 252.9L455.9 253.8L457.0 254.7L458.2 255.6L459.3 256.5L460.4 257.3L461.5 258.1L462.6 258.9L463.7 259.7L464.8 260.5L465.9 261.2L467.0 261.9L468.2 262.7L469.3 263.4L470.4 264.1L471.5 264.7L472.6 265.4L473.7 266.1L474.8 266.7L475.9 267.4L477.0 268.0L478.2 268.6L479.3 269.2L480.4 269.8L481.5 270.4L482.6 271.0L483.7 271.5L484.8 272.1L485.9 272.7L487.0 273.2L488.2 273.8L489.3 274.3L490.4 274.8L491.5 275.3L492.6 275.8L493.7 276.3L494.8 276.8L495.9 277.3L497.0 277.8L498.1 278.3L499.3 278.7L500.4 279.2L501.5 279.7L502.6 280.1L503.7 280.6L504.8 281.0L505.9 281.4L507.0 281.9L508.1 282.3L509.3 282.7L510.4 283.1L511.5 283.5L512.6 283.9L513.7 284.3L514.8 284.7L515.9 285.1L517.0 285.5L518.1 285.9L519.3 286.2L520.4 286.6L521.5 287.0L522.6 287.3L523.7 287.7L524.8 288.1L525.9 288.4L527.0 288.8L528.1 289.1L529.3 289.4L530.4 289.8L531.5 290.1L532.6 290.5L533.7 290.8L534.8 291.1L535.9 291.4L537.0 291.7L538.1 292.1L539.3 292.4L540.4 292.7L541.5 293.0L542.6 293.3L543.7 293.6L544.8 293.9L545.9 294.2L547.0 294.5L548.1 294.8L549.2 295.1L550.4 295.4L551.5 295.6L552.6 295.9L553.7 296.2L554.8 296.5L555.9 296.8L557.0 297.0L558.1 297.3L559.2 297.6L560.4 297.9L561.5 298.1L562.6 298.4L563.7 298.7L564.8 298.9L565.9 299.2L567.0 299.4L568.1 299.7L569.2 300.0L570.4 300.2L571.5 300.5L572.6 300.7L573.7 301.0L574.8 301.2L575.9 301.5L577.0 301.7L578.1 302.0L579.2 302.2L580.4 302.4L581.5 302.7L582.6 302.9L583.7 303.2L584.8 303.4L585.9 303.7L587.0 303.9L588.1 304.1L589.2 304.4L590.4 304.6L591.5 304.8L592.6 305.1L593.7 305.3L594.8 305.5L595.9 305.8L597.0 306.0L598.1 306.2L599.2 306.4L600.3 306.7L601.5 306.9L602.6 307.1L603.7 307.3L604.8 307.6L605.9 307.8L607.0 308.0L608.1 308.2L609.2 308.5L610.3 308.7L611.5 308.9L612.6 309.1L613.7 309.3L614.8 309.6L615.9 309.8L617.0 310.0L618.1 310.2L619.2 310.4L620.3 310.6L621.5 310.9L622.6 311.1L623.7 311.3L624.8 311.5L625.9 311.7L627.0 311.9L628.1 312.1L629.2 312.4L630.3 312.6L631.5 312.8L632.6 313.0L633.7 313.2L634.8 313.4L635.9 313.6L637.0 313.8L638.1 314.0L639.2 314.3L640.3 314.5L641.5 314.7L642.6 314.9L643.7 315.1L644.8 315.3L645.9 315.5L647.0 315.7L648.1 315.9L649.2 316.1L650.3 316.3L651.4 316.5L652.6 316.7L653.7 317.0L654.8 317.2L655.9 317.4L657.0 317.6L658.1 317.8L659.2 318.0L660.3 318.2L661.4 318.4L662.6 318.6L663.7 318.8L664.8 319.0L665.9 319.2L667.0 319.4L668.1 319.6L669.2 319.8L670.3 320.0L671.4 320.2L672.6 320.4L673.7 320.6L674.8 320.8L675.9 321.0L677.0 321.2L677.0 397.8L675.9 397.5L674.8 397.1L673.7 396.7L672.6 396.4L671.4 396.0L670.3 395.6L669.2 395.3L668.1 394.9L667.0 394.5L665.9 394.2L664.8 393.8L663.7 393.4L662.6 393.0L661.4 392.7L660.3 392.3L659.2 391.9L658.1 391.5L657.0 391.1L655.9 390.8L654.8 390.4L653.7 390.0L652.6 389.6L651.4 389.2L650.3 388.8L649.2 388.5L648.1 388.1L647.0 387.7L645.9 387.3L644.8 386.9L643.7 386.5L642.6 386.1L641.5 385.7L640.3 385.3L639.2 384.9L638.1 384.5L637.0 384.1L635.9 383.7L634.8 383.3L633.7 382.9L632.6 382.5L631.5 382.1L630.3 381.7L629.2 381.3L628.1 380.9L627.0 380.5L625.9 380.1L624.8 379.7L623.7 379.2L622.6 378.8L621.5 378.4L620.3 378.0L619.2 377.6L618.1 377.2L617.0 376.7L615.9 376.3L614.8 375.9L613.7 375.5L612.6 375.0L611.5 374.6L610.3 374.2L609.2 373.7L608.1 373.3L607.0 372.9L605.9 372.4L604.8 372.0L603.7 371.6L602.6 371.1L601.5 370.7L600.3 370.2L599.2 369.8L598.1 369.3L597.0 368.9L595.9 368.4L594.8 368.0L593.7 367.5L592.6 367.1L591.5 366.6L590.4 366.2L589.2 365.7L588.1 365.3L587.0 364.8L585.9 364.3L584.8 363.9L583.7 363.4L582.6 362.9L581.5 362.5L580.4 362.0L579.2 361.5L578.1 361.0L577.0 360.5L575.9 360.1L574.8 359.6L573.7 359.1L572.6 358.6L571.5 358.1L570.4 357.6L569.2 357.1L568.1 356.7L567.0 356.2L565.9 355.7L564.8 355.2L563.7 354.7L562.6 354.2L561.5 353.6L560.4 353.1L559.2 352.6L558.1 352.1L557.0 351.6L555.9 351.1L554.8 350.6L553.7 350.1L552.6 349.5L551.5 349.0L550.4 348.5L549.2 348.0L548.1 347.4L547.0 346.9L545.9 346.4L544.8 345.8L543.7 345.3L542.6 344.7L541.5 344.2L540.4 343.6L539.3 343.1L538.1 342.5L537.0 342.0L535.9 341.4L534.8 340.9L533.7 340.3L532.6 339.8L531.5 339.2L530.4 338.6L529.3 338.1L528.1 337.5L527.0 336.9L525.9 336.3L524.8 335.7L523.7 335.2L522.6 334.6L521.5 334.0L520.4 333.4L519.3 332.8L518.1 332.2L517.0 331.6L515.9 331.0L514.8 330.4L513.7 329.8L512.6 329.2L511.5 328.6L510.4 328.0L509.3 327.4L508.1 326.7L507.0 326.1L505.9 325.5L504.8 324.9L503.7 324.2L502.6 323.6L501.5 323.0L500.4 322.3L499.3 321.7L498.1 321.1L497.0 320.4L495.9 319.8L494.8 319.1L493.7 318.5L492.6 317.8L491.5 317.1L490.4 316.5L489.3 315.8L488.2 315.1L487.0 314.5L485.9 313.8L484.8 313.1L483.7 312.4L482.6 311.8L481.5 311.1L480.4 310.4L479.3 309.7L478.2 309.0L477.0 308.3L475.9 307.6L474.8 306.9L473.7 306.1L472.6 305.4L471.5 304.7L470.4 304.0L469.3 303.2L468.2 302.5L467.0 301.7L465.9 301.0L464.8 300.2L463.7 299.4L462.6 298.7L461.5 297.9L460.4 297.1L459.3 296.3L458.2 295.4L457.0 294.6L455.9 293.7L454.8 292.9L453.7 292.0L452.6 291.1L451.5 290.1L450.4 289.1L449.3 288.1L448.2 287.1L447.0 286.0L445.9 284.9L444.8 283.7L443.7 282.4L442.6 281.1L441.5 279.7L440.4 278.2L439.3 276.6L438.2 274.8L437.1 273.0L435.9 271.0L434.8 268.8L433.7 266.5L432.6 263.9L431.5 261.1L430.4 258.1L429.3 254.8L428.2 251.2L427.1 247.3L425.9 243.1L424.8 238.5L423.7 233.5L422.6 228.1L421.5 222.2L420.4 216.0L419.3 209.3L418.2 202.2L417.1 194.6L415.9 186.6L414.8 178.2L413.7 169.3L412.6 160.1L411.5 150.5 Z" fill="#cde9fb" stroke="none"/>
<path d="M411.5 140.1L412.6 149.3L413.7 157.8L414.8 165.9L415.9 173.4L417.1 180.4L418.2 186.8L419.3 192.8L420.4 198.3L421.5 203.4L422.6 208.0L423.7 212.3L424.8 216.3L425.9 219.9L427.1 223.2L428.2 226.3L429.3 229.2L430.4 231.7L431.5 234.1L432.6 236.3L433.7 238.4L434.8 240.3L435.9 242.1L437.1 243.8L438.2 245.5L439.3 247.0L440.4 248.4L441.5 249.8L442.6 251.2L443.7 252.4L444.8 253.7L445.9 254.8L447.0 256.0L448.2 257.1L449.3 258.1L450.4 259.1L451.5 260.1L452.6 261.1L453.7 262.0L454.8 262.9L455.9 263.9L457.0 264.9L458.2 265.9L459.3 266.9L460.4 267.8L461.5 268.7L462.6 269.6L463.7 270.5L464.8 271.3L465.9 272.2L467.0 273.0L468.2 273.8L469.3 274.6L470.4 275.4L471.5 276.1L472.6 276.9L473.7 277.6L474.8 278.4L475.9 279.1L477.0 279.8L478.2 280.5L479.3 281.1L480.4 281.8L481.5 282.5L482.6 283.1L483.7 283.7L484.8 284.4L485.9 285.0L487.0 285.6L488.2 286.2L489.3 286.8L490.4 287.3L491.5 287.9L492.6 288.5L493.7 289.0L494.8 289.6L495.9 290.1L497.0 290.7L498.1 291.2L499.3 291.7L500.4 292.2L501.5 292.7L502.6 293.2L503.7 293.7L504.8 294.2L505.9 294.7L507.0 295.2L508.1 295.7L509.3 296.1L510.4 296.6L511.5 297.1L512.6 297.5L513.7 298.0L514.8 298.4L515.9 298.9L517.0 299.3L518.1 299.7L519.3 300.2L520.4 300.6L521.5 301.0L522.6 301.4L523.7 301.9L524.8 302.3L525.9 302.7L527.0 303.1L528.1 303.5L529.3 303.9L530.4 304.3L531.5 304.7L532.6 305.1L533.7 305.5L534.8 305.9L535.9 306.3L537.0 306.7L538.1 307.0L539.3 307.4L540.4 307.8L541.5 308.2L542.6 308.6L543.7 308.9L544.8 309.3L545.9 309.7L547.0 310.1L548.1 310.4L549.2 310.8L550.4 311.2L551.5 311.5L552.6 311.9L553.7 312.3L554.8 312.6L555.9 313.0L557.0 313.3L558.1 313.7L559.2 314.1L560.4 314.4L561.5 314.8L562.6 315.1L563.7 315.5L564.8 315.8L565.9 316.2L567.0 316.5L568.1 316.9L569.2 317.2L570.4 317.6L571.5 317.9L572.6 318.3L573.7 318.6L574.8 319.0L575.9 319.3L577.0 319.7L578.1 320.0L579.2 320.4L580.4 320.7L581.5 321.1L582.6 321.4L583.7 321.7L584.8 322.1L585.9 322.4L587.0 322.8L588.1 323.1L589.2 323.5L590.4 323.8L591.5 324.1L592.6 324.5L593.7 324.8L594.8 325.2L595.9 325.5L597.0 325.8L598.1 326.2L599.2 326.5L600.3 326.8L601.5 327.2L602.6 327.5L603.7 327.9L604.8 328.2L605.9 328.5L607.0 328.9L608.1 329.2L609.2 329.5L610.3 329.9L611.5 330.2L612.6 330.5L613.7 330.8L614.8 331.1L615.9 331.4L617.0 331.8L618.1 332.1L619.2 332.4L620.3 332.7L621.5 333.0L622.6 333.3L623.7 333.7L624.8 334.0L625.9 334.3L627.0 334.6L628.1 334.9L629.2 335.2L630.3 335.5L631.5 335.9L632.6 336.2L633.7 336.5L634.8 336.8L635.9 337.1L637.0 337.4L638.1 337.7L639.2 338.1L640.3 338.4L641.5 338.7L642.6 339.0L643.7 339.3L644.8 339.6L645.9 339.9L647.0 340.2L648.1 340.6L649.2 340.9L650.3 341.2L651.4 341.5L652.6 341.8L653.7 342.1L654.8 342.4L655.9 342.8L657.0 343.1L658.1 343.4L659.2 343.7L660.3 344.0L661.4 344.3L662.6 344.6L663.7 344.9L664.8 345.3L665.9 345.6L667.0 345.9L668.1 346.2L669.2 346.5L670.3 346.8L671.4 347.1L672.6 347.4L673.7 347.8L674.8 348.1L675.9 348.4L677.0 348.7" fill="none" stroke="#8b9fd6" stroke-width="1.6"/>
<path d="M411.5 140.1L412.6 149.3L413.7 157.8L414.8 165.9L415.9 173.4L417.1 180.4L418.2 186.8L419.3 192.8L420.4 198.3L421.5 203.4L422.6 208.0L423.7 212.3L424.8 216.3L425.9 219.9L427.1 223.2L428.2 226.3L429.3 229.2L430.4 231.8L431.5 234.2L432.6 236.4L433.7 238.5L434.8 240.5L435.9 242.4L437.1 244.1L438.2 245.8L439.3 247.4L440.4 248.9L441.5 250.3L442.6 251.7L443.7 253.0L444.8 254.3L445.9 255.5L447.0 256.6L448.2 257.8L449.3 258.9L450.4 260.0L451.5 261.0L452.6 262.0L453.7 263.0L454.8 263.9L455.9 264.9L457.0 265.9L458.2 266.9L459.3 267.9L460.4 268.8L461.5 269.7L462.6 270.6L463.7 271.5L464.8 272.3L465.9 273.2L467.0 274.0L468.2 274.8L469.3 275.6L470.4 276.4L471.5 277.1L472.6 277.9L473.7 278.6L474.8 279.4L475.9 280.1L477.0 280.8L478.2 281.5L479.3 282.1L480.4 282.8L481.5 283.5L482.6 284.1L483.7 284.7L484.8 285.4L485.9 286.0L487.0 286.6L488.2 287.2L489.3 287.8L490.4 288.3L491.5 288.9L492.6 289.5L493.7 290.0L494.8 290.6L495.9 291.1L497.0 291.7L498.1 292.2L499.3 292.7L500.4 293.2L501.5 293.7L502.6 294.2L503.7 294.7L504.8 295.2L505.9 295.7L507.0 296.2L508.1 296.7L509.3 297.1L510.4 297.6L511.5 298.1L512.6 298.5L513.7 299.0L514.8 299.4L515.9 299.9L517.0 300.3L518.1 300.7L519.3 301.2L520.4 301.6L521.5 302.0L522.6 302.4L523.7 302.9L524.8 303.3L525.9 303.7L527.0 304.1L528.1 304.5L529.3 304.9L530.4 305.3L531.5 305.7L532.6 306.0L533.7 306.4L534.8 306.8L535.9 307.2L537.0 307.6L538.1 308.0L539.3 308.3L540.4 308.7L541.5 309.1L542.6 309.5L543.7 309.8L544.8 310.2L545.9 310.6L547.0 310.9L548.1 311.3L549.2 311.7L550.4 312.0L551.5 312.4L552.6 312.8L553.7 313.1L554.8 313.5L555.9 313.8L557.0 314.2L558.1 314.5L559.2 314.9L560.4 315.2L561.5 315.6L562.6 315.9L563.7 316.3L564.8 316.6L565.9 317.0L567.0 317.3L568.1 317.7L569.2 318.0L570.4 318.4L571.5 318.7L572.6 319.1L573.7 319.4L574.8 319.7L575.9 320.1L577.0 320.4L578.1 320.8L579.2 321.1L580.4 321.4L581.5 321.8L582.6 322.1L583.7 322.5L584.8 322.8L585.9 323.1L587.0 323.5L588.1 323.8L589.2 324.1L590.4 324.5L591.5 324.8L592.6 325.2L593.7 325.5L594.8 325.8L595.9 326.2L597.0 326.5L598.1 326.8L599.2 327.2L600.3 327.5L601.5 327.8L602.6 328.2L603.7 328.5L604.8 328.8L605.9 329.1L607.0 329.5L608.1 329.8L609.2 330.1L610.3 330.5L611.5 330.9L612.6 331.3L613.7 331.7L614.8 332.0L615.9 332.4L617.0 332.8L618.1 333.2L619.2 333.6L620.3 334.0L621.5 334.3L622.6 334.7L623.7 335.1L624.8 335.5L625.9 335.9L627.0 336.3L628.1 336.6L629.2 337.0L630.3 337.4L631.5 337.8L632.6 338.2L633.7 338.6L634.8 338.9L635.9 339.3L637.0 339.7L638.1 340.1L639.2 340.5L640.3 340.8L641.5 341.2L642.6 341.6L643.7 342.0L644.8 342.4L645.9 342.7L647.0 343.1L648.1 343.5L649.2 343.9L650.3 344.3L651.4 344.6L652.6 345.0L653.7 345.4L654.8 345.8L655.9 346.2L657.0 346.5L658.1 346.9L659.2 347.3L660.3 347.7L661.4 348.1L662.6 348.5L663.7 348.8L664.8 349.2L665.9 349.6L667.0 350.0L668.1 350.4L669.2 350.7L670.3 351.1L671.4 351.5L672.6 351.9L673.7 352.3L674.8 352.6L675.9 353.0L677.0 353.4" fill="none" stroke="#8b9fd6" stroke-width="1.6"/>
<path d="M411.5 141.1L412.6 150.3L413.7 158.8L414.8 166.9L415.9 174.4L417.1 181.4L418.2 187.8L419.3 193.8L420.4 199.3L421.5 204.4L422.6 209.0L423.7 213.3L424.8 217.3L425.9 220.9L427.1 224.2L428.2 227.3L429.3 230.2L430.4 232.8L431.5 235.2L432.6 237.4L433.7 239.5L434.8 241.5L435.9 243.4L437.1 245.1L438.2 246.8L439.3 248.4L440.4 249.9L441.5 251.3L442.6 252.7L443.7 254.0L444.8 255.3L445.9 256.5L447.0 257.6L448.2 258.8L449.3 259.9L450.4 261.0L451.5 262.0L452.6 263.0L453.7 264.0L454.8 264.9L455.9 265.9L457.0 266.9L458.2 267.9L459.3 268.8L460.4 269.8L461.5 270.7L462.6 271.6L463.7 272.4L464.8 273.3L465.9 274.1L467.0 274.9L468.2 275.7L469.3 276.5L470.4 277.3L471.5 278.1L472.6 278.8L473.7 279.5L474.8 280.3L475.9 281.0L477.0 281.7L478.2 282.4L479.3 283.0L480.4 283.7L481.5 284.3L482.6 285.0L483.7 285.6L484.8 286.2L485.9 286.8L487.0 287.4L488.2 288.0L489.3 288.6L490.4 289.2L491.5 289.7L492.6 290.3L493.7 290.9L494.8 291.4L495.9 291.9L497.0 292.5L498.1 293.0L499.3 293.5L500.4 294.0L501.5 294.5L502.6 295.0L503.7 295.5L504.8 296.0L505.9 296.5L507.0 296.9L508.1 297.4L509.3 297.9L510.4 298.3L511.5 298.8L512.6 299.3L513.7 299.7L514.8 300.1L515.9 300.6L517.0 301.0L518.1 301.4L519.3 301.9L520.4 302.3L521.5 302.7L522.6 303.1L523.7 303.5L524.8 304.0L525.9 304.4L527.0 304.8L528.1 305.2L529.3 305.5L530.4 305.9L531.5 306.3L532.6 306.7L533.7 307.1L534.8 307.5L535.9 307.9L537.0 308.2L538.1 308.6L539.3 309.0L540.4 309.4L541.5 309.7L542.6 310.1L543.7 310.5L544.8 310.8L545.9 311.2L547.0 311.6L548.1 311.9L549.2 312.3L550.4 312.6L551.5 313.0L552.6 313.4L553.7 313.7L554.8 314.1L555.9 314.4L557.0 314.8L558.1 315.1L559.2 315.5L560.4 315.8L561.5 316.2L562.6 316.5L563.7 316.9L564.8 317.2L565.9 317.5L567.0 317.9L568.1 318.2L569.2 318.6L570.4 318.9L571.5 319.3L572.6 319.6L573.7 319.9L574.8 320.3L575.9 320.6L577.0 320.9L578.1 321.3L579.2 321.6L580.4 321.9L581.5 322.3L582.6 322.6L583.7 323.0L584.8 323.3L585.9 323.6L587.0 324.0L588.1 324.3L589.2 324.6L590.4 324.9L591.5 325.3L592.6 325.6L593.7 325.9L594.8 326.3L595.9 326.6L597.0 326.9L598.1 327.3L599.2 327.6L600.3 327.9L601.5 328.2L602.6 328.6L603.7 328.9L604.8 329.2L605.9 329.6L607.0 329.9L608.1 330.2L609.2 330.5L610.3 330.9L611.5 331.3L612.6 331.7L613.7 332.1L614.8 332.5L615.9 333.0L617.0 333.4L618.1 333.8L619.2 334.2L620.3 334.6L621.5 335.0L622.6 335.4L623.7 335.8L624.8 336.2L625.9 336.6L627.0 337.0L628.1 337.4L629.2 337.8L630.3 338.2L631.5 338.6L632.6 339.0L633.7 339.4L634.8 339.8L635.9 340.2L637.0 340.6L638.1 341.0L639.2 341.4L640.3 341.8L641.5 342.2L642.6 342.6L643.7 343.0L644.8 343.4L645.9 343.8L647.0 344.2L648.1 344.6L649.2 345.1L650.3 345.5L651.4 345.9L652.6 346.3L653.7 346.7L654.8 347.1L655.9 347.5L657.0 347.9L658.1 348.3L659.2 348.7L660.3 349.1L661.4 349.5L662.6 349.9L663.7 350.3L664.8 350.7L665.9 351.1L667.0 351.5L668.1 351.9L669.2 352.3L670.3 352.7L671.4 353.1L672.6 353.5L673.7 353.9L674.8 354.3L675.9 354.7L677.0 355.1" fill="none" stroke="#8b9fd6" stroke-width="1.6"/>
<path d="M411.5 146.1L412.6 155.3L413.7 164.0L414.8 172.2L415.9 179.8L417.1 186.8L418.2 193.4L419.3 199.4L420.4 205.0L421.5 210.2L422.6 215.0L423.7 219.3L424.8 223.4L425.9 227.1L427.1 230.5L428.2 233.7L429.3 236.6L430.4 239.4L431.5 242.0L432.6 244.4L433.7 246.6L434.8 248.7L435.9 250.8L437.1 252.7L438.2 254.5L439.3 256.2L440.4 257.8L441.5 259.4L442.6 261.0L443.7 262.4L444.8 263.8L445.9 265.2L447.0 266.5L448.2 267.8L449.3 269.1L450.4 270.3L451.5 271.5L452.6 272.7L453.7 273.8L454.8 274.9L455.9 275.9L457.0 277.0L458.2 277.9L459.3 278.9L460.4 279.9L461.5 280.8L462.6 281.7L463.7 282.6L464.8 283.5L465.9 284.3L467.0 285.2L468.2 286.0L469.3 286.8L470.4 287.6L471.5 288.4L472.6 289.2L473.7 289.9L474.8 290.6L475.9 291.4L477.0 292.1L478.2 292.8L479.3 293.5L480.4 294.2L481.5 294.8L482.6 295.5L483.7 296.2L484.8 296.8L485.9 297.4L487.0 298.1L488.2 298.7L489.3 299.3L490.4 299.9L491.5 300.5L492.6 301.0L493.7 301.6L494.8 302.2L495.9 302.7L497.0 303.3L498.1 303.8L499.3 304.4L500.4 304.9L501.5 305.4L502.6 305.9L503.7 306.4L504.8 307.0L505.9 307.5L507.0 308.0L508.1 308.4L509.3 308.9L510.4 309.4L511.5 309.9L512.6 310.4L513.7 310.8L514.8 311.3L515.9 311.8L517.0 312.2L518.1 312.7L519.3 313.1L520.4 313.6L521.5 314.0L522.6 314.4L523.7 314.9L524.8 315.3L525.9 315.7L527.0 316.2L528.1 316.6L529.3 317.0L530.4 317.4L531.5 317.8L532.6 318.3L533.7 318.7L534.8 319.1L535.9 319.5L537.0 319.9L538.1 320.3L539.3 320.7L540.4 321.1L541.5 321.5L542.6 321.9L543.7 322.3L544.8 322.7L545.9 323.0L547.0 323.4L548.1 323.8L549.2 324.2L550.4 324.6L551.5 325.0L552.6 325.4L553.7 325.7L554.8 326.1L555.9 326.5L557.0 326.9L558.1 327.2L559.2 327.6L560.4 328.0L561.5 328.4L562.6 328.7L563.7 329.1L564.8 329.5L565.9 329.8L567.0 330.2L568.1 330.6L569.2 330.9L570.4 331.3L571.5 331.7L572.6 332.0L573.7 332.4L574.8 332.8L575.9 333.1L577.0 333.5L578.1 333.9L579.2 334.2L580.4 334.6L581.5 334.9L582.6 335.3L583.7 335.7L584.8 336.0L585.9 336.4L587.0 336.7L588.1 337.1L589.2 337.5L590.4 337.8L591.5 338.2L592.6 338.5L593.7 338.9L594.8 339.2L595.9 339.6L597.0 339.9L598.1 340.3L599.2 340.7L600.3 341.0L601.5 341.4L602.6 341.7L603.7 342.1L604.8 342.4L605.9 342.8L607.0 343.1L608.1 343.5L609.2 343.8L610.3 344.2L611.5 344.6L612.6 344.9L613.7 345.3L614.8 345.6L615.9 346.0L617.0 346.3L618.1 346.7L619.2 347.1L620.3 347.4L621.5 347.8L622.6 348.1L623.7 348.5L624.8 348.9L625.9 349.2L627.0 349.6L628.1 349.9L629.2 350.3L630.3 350.6L631.5 351.0L632.6 351.4L633.7 351.7L634.8 352.1L635.9 352.4L637.0 352.8L638.1 353.1L639.2 353.5L640.3 353.9L641.5 354.2L642.6 354.6L643.7 354.9L644.8 355.3L645.9 355.6L647.0 356.0L648.1 356.3L649.2 356.7L650.3 357.1L651.4 357.4L652.6 357.8L653.7 358.1L654.8 358.5L655.9 358.8L657.0 359.2L658.1 359.5L659.2 359.9L660.3 360.3L661.4 360.6L662.6 361.0L663.7 361.3L664.8 361.7L665.9 362.0L667.0 362.4L668.1 362.7L669.2 363.1L670.3 363.5L671.4 363.8L672.6 364.2L673.7 364.5L674.8 364.9L675.9 365.2L677.0 365.6" fill="none" stroke="#8b9fd6" stroke-width="1.6"/>
<path d="M411.5 146.6L412.6 155.9L413.7 164.6L414.8 172.8L415.9 180.4L417.1 187.5L418.2 194.1L419.3 200.2L420.4 205.8L421.5 211.0L422.6 215.8L423.7 220.2L424.8 224.2L425.9 228.0L427.1 231.5L428.2 234.7L429.3 237.6L430.4 240.4L431.5 243.0L432.6 245.4L433.7 247.7L434.8 249.9L435.9 251.9L437.1 253.8L438.2 255.7L439.3 257.4L440.4 259.1L441.5 260.7L442.6 262.3L443.7 263.8L444.8 265.2L445.9 266.6L447.0 268.0L448.2 269.3L449.3 270.5L450.4 271.8L451.5 273.0L452.6 274.2L453.7 275.4L454.8 276.5L455.9 277.5L457.0 278.5L458.2 279.5L459.3 280.5L460.4 281.4L461.5 282.3L462.6 283.2L463.7 284.1L464.8 285.0L465.9 285.8L467.0 286.7L468.2 287.5L469.3 288.3L470.4 289.1L471.5 289.8L472.6 290.6L473.7 291.3L474.8 292.1L475.9 292.8L477.0 293.5L478.2 294.2L479.3 294.9L480.4 295.5L481.5 296.2L482.6 296.9L483.7 297.5L484.8 298.1L485.9 298.8L487.0 299.4L488.2 300.0L489.3 300.6L490.4 301.2L491.5 301.7L492.6 302.3L493.7 302.9L494.8 303.4L495.9 304.0L497.0 304.5L498.1 305.0L499.3 305.6L500.4 306.1L501.5 306.6L502.6 307.1L503.7 307.6L504.8 308.1L505.9 308.6L507.0 309.1L508.1 309.6L509.3 310.0L510.4 310.5L511.5 311.0L512.6 311.5L513.7 311.9L514.8 312.4L515.9 312.8L517.0 313.3L518.1 313.7L519.3 314.1L520.4 314.6L521.5 315.0L522.6 315.4L523.7 315.9L524.8 316.3L525.9 316.8L527.0 317.2L528.1 317.6L529.3 318.0L530.4 318.5L531.5 318.9L532.6 319.3L533.7 319.7L534.8 320.1L535.9 320.6L537.0 321.0L538.1 321.4L539.3 321.8L540.4 322.2L541.5 322.6L542.6 323.0L543.7 323.4L544.8 323.8L545.9 324.2L547.0 324.6L548.1 325.0L549.2 325.4L550.4 325.7L551.5 326.1L552.6 326.5L553.7 326.9L554.8 327.3L555.9 327.7L557.0 328.1L558.1 328.4L559.2 328.8L560.4 329.2L561.5 329.6L562.6 330.0L563.7 330.3L564.8 330.7L565.9 331.1L567.0 331.5L568.1 331.8L569.2 332.2L570.4 332.6L571.5 333.0L572.6 333.3L573.7 333.7L574.8 334.1L575.9 334.4L577.0 334.8L578.1 335.2L579.2 335.5L580.4 335.9L581.5 336.3L582.6 336.6L583.7 337.0L584.8 337.4L585.9 337.7L587.0 338.1L588.1 338.5L589.2 338.8L590.4 339.2L591.5 339.6L592.6 339.9L593.7 340.3L594.8 340.7L595.9 341.0L597.0 341.4L598.1 341.7L599.2 342.1L600.3 342.5L601.5 342.8L602.6 343.2L603.7 343.5L604.8 343.9L605.9 344.3L607.0 344.6L608.1 345.0L609.2 345.3L610.3 345.7L611.5 346.1L612.6 346.4L613.7 346.8L614.8 347.2L615.9 347.5L617.0 347.9L618.1 348.3L619.2 348.6L620.3 349.0L621.5 349.4L622.6 349.7L623.7 350.1L624.8 350.4L625.9 350.8L627.0 351.2L628.1 351.5L629.2 351.9L630.3 352.3L631.5 352.6L632.6 353.0L633.7 353.4L634.8 353.7L635.9 354.1L637.0 354.4L638.1 354.8L639.2 355.2L640.3 355.5L641.5 355.9L642.6 356.3L643.7 356.6L644.8 357.0L645.9 357.4L647.0 357.7L648.1 358.1L649.2 358.4L650.3 358.8L651.4 359.2L652.6 359.5L653.7 359.9L654.8 360.3L655.9 360.6L657.0 361.0L658.1 361.3L659.2 361.7L660.3 362.1L661.4 362.4L662.6 362.8L663.7 363.1L664.8 363.5L665.9 363.9L667.0 364.2L668.1 364.6L669.2 365.0L670.3 365.3L671.4 365.7L672.6 366.0L673.7 366.4L674.8 366.8L675.9 367.1L677.0 367.5" fill="none" stroke="#8b9fd6" stroke-width="1.6"/>
<path d="M411.5 147.1L412.6 156.4L413.7 165.2L414.8 173.4L415.9 181.1L417.1 188.3L418.2 194.9L419.3 201.1L420.4 206.8L421.5 212.0L422.6 216.9L423.7 221.4L424.8 225.5L425.9 229.3L427.1 232.8L428.2 236.1L429.3 239.1L430.4 241.9L431.5 244.6L432.6 247.0L433.7 249.4L434.8 251.5L435.9 253.6L437.1 255.6L438.2 257.4L439.3 259.2L440.4 260.9L441.5 262.6L442.6 264.2L443.7 265.7L444.8 267.2L445.9 268.6L447.0 270.0L448.2 271.4L449.3 272.7L450.4 273.9L451.5 275.2L452.6 276.4L453.7 277.6L454.8 278.8L455.9 279.8L457.0 280.9L458.2 281.8L459.3 282.8L460.4 283.8L461.5 284.7L462.6 285.6L463.7 286.5L464.8 287.4L465.9 288.2L467.0 289.1L468.2 289.9L469.3 290.7L470.4 291.5L471.5 292.3L472.6 293.1L473.7 293.8L474.8 294.5L475.9 295.3L477.0 296.0L478.2 296.7L479.3 297.4L480.4 298.1L481.5 298.7L482.6 299.4L483.7 300.1L484.8 300.7L485.9 301.3L487.0 302.0L488.2 302.6L489.3 303.2L490.4 303.8L491.5 304.4L492.6 304.9L493.7 305.5L494.8 306.1L495.9 306.6L497.0 307.2L498.1 307.7L499.3 308.3L500.4 308.8L501.5 309.3L502.6 309.8L503.7 310.3L504.8 310.9L505.9 311.4L507.0 311.9L508.1 312.3L509.3 312.8L510.4 313.3L511.5 313.8L512.6 314.3L513.7 314.7L514.8 315.2L515.9 315.7L517.0 316.1L518.1 316.6L519.3 317.0L520.4 317.5L521.5 317.9L522.6 318.3L523.7 318.8L524.8 319.2L525.9 319.6L527.0 320.0L528.1 320.5L529.3 320.9L530.4 321.3L531.5 321.7L532.6 322.1L533.7 322.5L534.8 322.9L535.9 323.3L537.0 323.7L538.1 324.1L539.3 324.5L540.4 324.9L541.5 325.3L542.6 325.7L543.7 326.1L544.8 326.4L545.9 326.8L547.0 327.2L548.1 327.6L549.2 328.0L550.4 328.4L551.5 328.7L552.6 329.1L553.7 329.5L554.8 329.9L555.9 330.2L557.0 330.6L558.1 331.0L559.2 331.3L560.4 331.7L561.5 332.1L562.6 332.4L563.7 332.8L564.8 333.2L565.9 333.5L567.0 333.9L568.1 334.3L569.2 334.6L570.4 335.0L571.5 335.4L572.6 335.7L573.7 336.1L574.8 336.4L575.9 336.8L577.0 337.1L578.1 337.5L579.2 337.9L580.4 338.2L581.5 338.6L582.6 338.9L583.7 339.3L584.8 339.6L585.9 340.0L587.0 340.3L588.1 340.7L589.2 341.0L590.4 341.4L591.5 341.7L592.6 342.1L593.7 342.5L594.8 342.8L595.9 343.2L597.0 343.5L598.1 343.9L599.2 344.2L600.3 344.6L601.5 344.9L602.6 345.2L603.7 345.6L604.8 345.9L605.9 346.3L607.0 346.6L608.1 347.0L609.2 347.3L610.3 347.7L611.5 348.1L612.6 348.4L613.7 348.8L614.8 349.1L615.9 349.5L617.0 349.9L618.1 350.2L619.2 350.6L620.3 350.9L621.5 351.3L622.6 351.7L623.7 352.0L624.8 352.4L625.9 352.7L627.0 353.1L628.1 353.5L629.2 353.8L630.3 354.2L631.5 354.5L632.6 354.9L633.7 355.2L634.8 355.6L635.9 356.0L637.0 356.3L638.1 356.7L639.2 357.0L640.3 357.4L641.5 357.8L642.6 358.1L643.7 358.5L644.8 358.8L645.9 359.2L647.0 359.5L648.1 359.9L649.2 360.3L650.3 360.6L651.4 361.0L652.6 361.3L653.7 361.7L654.8 362.0L655.9 362.4L657.0 362.8L658.1 363.1L659.2 363.5L660.3 363.8L661.4 364.2L662.6 364.6L663.7 364.9L664.8 365.3L665.9 365.6L667.0 366.0L668.1 366.3L669.2 366.7L670.3 367.0L671.4 367.4L672.6 367.8L673.7 368.1L674.8 368.5L675.9 368.8L677.0 369.2" fill="none" stroke="#8b9fd6" stroke-width="1.6"/>
<path d="M411.5 147.6L412.6 157.0L413.7 165.9L414.8 174.2L415.9 182.0L417.1 189.3L418.2 196.0L419.3 202.2L420.4 208.0L421.5 213.4L422.6 218.3L423.7 222.9L424.8 227.1L425.9 231.0L427.1 234.6L428.2 238.0L429.3 241.1L430.4 244.0L431.5 246.7L432.6 249.3L433.7 251.7L434.8 254.0L435.9 256.1L437.1 258.2L438.2 260.2L439.3 262.0L440.4 263.8L441.5 265.6L442.6 267.2L443.7 268.9L444.8 270.4L445.9 272.0L447.0 273.4L448.2 274.9L449.3 276.3L450.4 277.7L451.5 279.0L452.6 280.3L453.7 281.6L454.8 282.8L455.9 283.9L457.0 284.9L458.2 285.9L459.3 286.9L460.4 287.8L461.5 288.7L462.6 289.6L463.7 290.5L464.8 291.4L465.9 292.2L467.0 293.1L468.2 293.9L469.3 294.7L470.4 295.5L471.5 296.2L472.6 297.0L473.7 297.7L474.8 298.5L475.9 299.2L477.0 299.9L478.2 300.6L479.3 301.3L480.4 301.9L481.5 302.6L482.6 303.3L483.7 303.9L484.8 304.5L485.9 305.2L487.0 305.8L488.2 306.4L489.3 307.0L490.4 307.6L491.5 308.1L492.6 308.7L493.7 309.3L494.8 309.8L495.9 310.4L497.0 310.9L498.1 311.4L499.3 312.0L500.4 312.5L501.5 313.0L502.6 313.5L503.7 314.0L504.8 314.5L505.9 315.0L507.0 315.5L508.1 316.0L509.3 316.4L510.4 316.9L511.5 317.4L512.6 317.9L513.7 318.3L514.8 318.8L515.9 319.2L517.0 319.7L518.1 320.1L519.3 320.5L520.4 321.0L521.5 321.4L522.6 321.8L523.7 322.3L524.8 322.7L525.9 323.1L527.0 323.6L528.1 324.0L529.3 324.4L530.4 324.8L531.5 325.3L532.6 325.7L533.7 326.1L534.8 326.5L535.9 326.9L537.0 327.3L538.1 327.7L539.3 328.1L540.4 328.5L541.5 328.9L542.6 329.3L543.7 329.7L544.8 330.1L545.9 330.5L547.0 330.9L548.1 331.3L549.2 331.7L550.4 332.1L551.5 332.4L552.6 332.8L553.7 333.2L554.8 333.6L555.9 334.0L557.0 334.3L558.1 334.7L559.2 335.1L560.4 335.5L561.5 335.9L562.6 336.2L563.7 336.6L564.8 337.0L565.9 337.3L567.0 337.7L568.1 338.1L569.2 338.5L570.4 338.8L571.5 339.2L572.6 339.6L573.7 339.9L574.8 340.3L575.9 340.7L577.0 341.0L578.1 341.4L579.2 341.8L580.4 342.1L581.5 342.5L582.6 342.8L583.7 343.2L584.8 343.6L585.9 343.9L587.0 344.3L588.1 344.6L589.2 345.0L590.4 345.4L591.5 345.7L592.6 346.1L593.7 346.4L594.8 346.8L595.9 347.2L597.0 347.5L598.1 347.9L599.2 348.2L600.3 348.6L601.5 348.9L602.6 349.3L603.7 349.7L604.8 350.0L605.9 350.4L607.0 350.7L608.1 351.1L609.2 351.4L610.3 351.8L611.5 352.2L612.6 352.5L613.7 352.9L614.8 353.2L615.9 353.6L617.0 353.9L618.1 354.3L619.2 354.7L620.3 355.0L621.5 355.4L622.6 355.7L623.7 356.1L624.8 356.5L625.9 356.8L627.0 357.2L628.1 357.5L629.2 357.9L630.3 358.2L631.5 358.6L632.6 359.0L633.7 359.3L634.8 359.7L635.9 360.0L637.0 360.4L638.1 360.7L639.2 361.1L640.3 361.5L641.5 361.8L642.6 362.2L643.7 362.5L644.8 362.9L645.9 363.2L647.0 363.6L648.1 363.9L649.2 364.3L650.3 364.7L651.4 365.0L652.6 365.4L653.7 365.7L654.8 366.1L655.9 366.4L657.0 366.8L658.1 367.1L659.2 367.5L660.3 367.9L661.4 368.2L662.6 368.6L663.7 368.9L664.8 369.3L665.9 369.6L667.0 370.0L668.1 370.3L669.2 370.7L670.3 371.1L671.4 371.4L672.6 371.8L673.7 372.1L674.8 372.5L675.9 372.8L677.0 373.2" fill="none" stroke="#8b9fd6" stroke-width="1.6"/>
<path d="M411.5 148.1L412.6 157.6L413.7 166.5L414.8 174.8L415.9 182.6L417.1 189.9L418.2 196.7L419.3 203.0L420.4 208.8L421.5 214.1L422.6 219.1L423.7 223.7L424.8 228.0L425.9 231.9L427.1 235.5L428.2 238.9L429.3 242.1L430.4 245.0L431.5 247.8L432.6 250.4L433.7 252.8L434.8 255.1L435.9 257.3L437.1 259.3L438.2 261.3L439.3 263.2L440.4 265.0L441.5 266.8L442.6 268.5L443.7 270.1L444.8 271.7L445.9 273.3L447.0 274.8L448.2 276.2L449.3 277.7L450.4 279.1L451.5 280.4L452.6 281.8L453.7 283.1L454.8 284.3L455.9 285.4L457.0 286.5L458.2 287.4L459.3 288.4L460.4 289.4L461.5 290.3L462.6 291.2L463.7 292.1L464.8 293.0L465.9 293.8L467.0 294.7L468.2 295.5L469.3 296.3L470.4 297.1L471.5 297.9L472.6 298.7L473.7 299.4L474.8 300.1L475.9 300.9L477.0 301.6L478.2 302.3L479.3 303.0L480.4 303.7L481.5 304.3L482.6 305.0L483.7 305.7L484.8 306.3L485.9 306.9L487.0 307.6L488.2 308.2L489.3 308.8L490.4 309.4L491.5 310.0L492.6 310.5L493.7 311.1L494.8 311.7L495.9 312.2L497.0 312.8L498.1 313.3L499.3 313.9L500.4 314.4L501.5 314.9L502.6 315.4L503.7 315.9L504.8 316.5L505.9 317.0L507.0 317.5L508.1 317.9L509.3 318.4L510.4 318.9L511.5 319.4L512.6 319.9L513.7 320.3L514.8 320.8L515.9 321.3L517.0 321.7L518.1 322.2L519.3 322.6L520.4 323.1L521.5 323.5L522.6 323.9L523.7 324.4L524.8 324.8L525.9 325.3L527.0 325.7L528.1 326.1L529.3 326.6L530.4 327.0L531.5 327.4L532.6 327.8L533.7 328.3L534.8 328.7L535.9 329.1L537.0 329.5L538.1 329.9L539.3 330.3L540.4 330.7L541.5 331.1L542.6 331.5L543.7 331.9L544.8 332.3L545.9 332.7L547.0 333.1L548.1 333.5L549.2 333.9L550.4 334.3L551.5 334.7L552.6 335.1L553.7 335.5L554.8 335.9L555.9 336.3L557.0 336.6L558.1 337.0L559.2 337.4L560.4 337.8L561.5 338.2L562.6 338.6L563.7 338.9L564.8 339.3L565.9 339.7L567.0 340.1L568.1 340.4L569.2 340.8L570.4 341.2L571.5 341.6L572.6 341.9L573.7 342.3L574.8 342.7L575.9 343.1L577.0 343.4L578.1 343.8L579.2 344.2L580.4 344.5L581.5 344.9L582.6 345.3L583.7 345.7L584.8 346.0L585.9 346.4L587.0 346.8L588.1 347.1L589.2 347.5L590.4 347.9L591.5 348.2L592.6 348.6L593.7 349.0L594.8 349.3L595.9 349.7L597.0 350.0L598.1 350.4L599.2 350.8L600.3 351.1L601.5 351.5L602.6 351.9L603.7 352.2L604.8 352.6L605.9 352.9L607.0 353.3L608.1 353.7L609.2 354.0L610.3 354.4L611.5 354.8L612.6 355.2L613.7 355.5L614.8 355.9L615.9 356.3L617.0 356.6L618.1 357.0L619.2 357.4L620.3 357.8L621.5 358.1L622.6 358.5L623.7 358.9L624.8 359.3L625.9 359.6L627.0 360.0L628.1 360.4L629.2 360.7L630.3 361.1L631.5 361.5L632.6 361.9L633.7 362.2L634.8 362.6L635.9 363.0L637.0 363.4L638.1 363.7L639.2 364.1L640.3 364.5L641.5 364.8L642.6 365.2L643.7 365.6L644.8 365.9L645.9 366.3L647.0 366.7L648.1 367.1L649.2 367.4L650.3 367.8L651.4 368.2L652.6 368.5L653.7 368.9L654.8 369.3L655.9 369.7L657.0 370.0L658.1 370.4L659.2 370.8L660.3 371.1L661.4 371.5L662.6 371.9L663.7 372.2L664.8 372.6L665.9 373.0L667.0 373.4L668.1 373.7L669.2 374.1L670.3 374.5L671.4 374.8L672.6 375.2L673.7 375.6L674.8 376.0L675.9 376.3L677.0 376.7" fill="none" stroke="#8b9fd6" stroke-width="1.6"/>
<path d="M411.5 148.1L412.6 157.6L413.7 166.6L414.8 175.0L415.9 182.9L417.1 190.2L418.2 197.0L419.3 203.4L420.4 209.3L421.5 214.7L422.6 219.7L423.7 224.4L424.8 228.7L425.9 232.7L427.1 236.4L428.2 239.9L429.3 243.1L430.4 246.1L431.5 248.9L432.6 251.5L433.7 254.0L434.8 256.4L435.9 258.7L437.1 260.8L438.2 262.9L439.3 264.8L440.4 266.7L441.5 268.6L442.6 270.3L443.7 272.0L444.8 273.7L445.9 275.3L447.0 276.9L448.2 278.4L449.3 279.9L450.4 281.4L451.5 282.8L452.6 284.2L453.7 285.6L454.8 286.9L455.9 288.0L457.0 289.1L458.2 290.0L459.3 291.0L460.4 292.0L461.5 292.9L462.6 293.8L463.7 294.7L464.8 295.6L465.9 296.4L467.0 297.3L468.2 298.1L469.3 298.9L470.4 299.7L471.5 300.5L472.6 301.3L473.7 302.0L474.8 302.7L475.9 303.5L477.0 304.2L478.2 304.9L479.3 305.6L480.4 306.3L481.5 306.9L482.6 307.6L483.7 308.3L484.8 308.9L485.9 309.5L487.0 310.2L488.2 310.8L489.3 311.4L490.4 312.0L491.5 312.6L492.6 313.1L493.7 313.7L494.8 314.3L495.9 314.8L497.0 315.4L498.1 315.9L499.3 316.5L500.4 317.0L501.5 317.5L502.6 318.0L503.7 318.5L504.8 319.1L505.9 319.6L507.0 320.1L508.1 320.5L509.3 321.0L510.4 321.5L511.5 322.0L512.6 322.5L513.7 322.9L514.8 323.4L515.9 323.9L517.0 324.3L518.1 324.8L519.3 325.2L520.4 325.7L521.5 326.1L522.6 326.6L523.7 327.1L524.8 327.5L525.9 328.0L527.0 328.5L528.1 329.0L529.3 329.5L530.4 329.9L531.5 330.4L532.6 330.9L533.7 331.3L534.8 331.8L535.9 332.3L537.0 332.7L538.1 333.2L539.3 333.6L540.4 334.1L541.5 334.5L542.6 335.0L543.7 335.4L544.8 335.9L545.9 336.3L547.0 336.8L548.1 337.2L549.2 337.6L550.4 338.1L551.5 338.5L552.6 338.9L553.7 339.4L554.8 339.8L555.9 340.2L557.0 340.7L558.1 341.1L559.2 341.5L560.4 342.0L561.5 342.4L562.6 342.8L563.7 343.2L564.8 343.7L565.9 344.1L567.0 344.5L568.1 344.9L569.2 345.4L570.4 345.8L571.5 346.2L572.6 346.6L573.7 347.0L574.8 347.5L575.9 347.9L577.0 348.3L578.1 348.7L579.2 349.1L580.4 349.5L581.5 350.0L582.6 350.4L583.7 350.8L584.8 351.2L585.9 351.6L587.0 352.0L588.1 352.4L589.2 352.9L590.4 353.3L591.5 353.7L592.6 354.1L593.7 354.5L594.8 354.9L595.9 355.3L597.0 355.7L598.1 356.1L599.2 356.5L600.3 357.0L601.5 357.4L602.6 357.8L603.7 358.2L604.8 358.6L605.9 359.0L607.0 359.4L608.1 359.8L609.2 360.2L610.3 360.6L611.5 361.1L612.6 361.5L613.7 361.9L614.8 362.4L615.9 362.8L617.0 363.2L618.1 363.6L619.2 364.1L620.3 364.5L621.5 364.9L622.6 365.3L623.7 365.8L624.8 366.2L625.9 366.6L627.0 367.0L628.1 367.5L629.2 367.9L630.3 368.3L631.5 368.7L632.6 369.2L633.7 369.6L634.8 370.0L635.9 370.4L637.0 370.9L638.1 371.3L639.2 371.7L640.3 372.1L641.5 372.6L642.6 373.0L643.7 373.4L644.8 373.8L645.9 374.2L647.0 374.7L648.1 375.1L649.2 375.5L650.3 375.9L651.4 376.4L652.6 376.8L653.7 377.2L654.8 377.6L655.9 378.1L657.0 378.5L658.1 378.9L659.2 379.3L660.3 379.7L661.4 380.2L662.6 380.6L663.7 381.0L664.8 381.4L665.9 381.9L667.0 382.3L668.1 382.7L669.2 383.1L670.3 383.6L671.4 384.0L672.6 384.4L673.7 384.8L674.8 385.2L675.9 385.7L677.0 386.1" fill="none" stroke="#8b9fd6" stroke-width="1.6"/>
<path d="M411.5 145.1L412.6 154.3L413.7 163.0L414.8 171.1L415.9 178.6L417.1 185.7L418.2 192.2L419.3 198.2L420.4 203.8L421.5 208.9L422.6 213.6L423.7 218.0L424.8 222.0L425.9 225.7L427.1 229.1L428.2 232.2L429.3 235.2L430.4 237.9L431.5 240.4L432.6 242.7L433.7 245.0L434.8 247.0L435.9 249.0L437.1 250.9L438.2 252.6L439.3 254.3L440.4 255.9L441.5 257.5L442.6 258.9L443.7 260.4L444.8 261.7L445.9 263.1L447.0 264.4L448.2 265.6L449.3 266.8L450.4 268.0L451.5 269.1L452.6 270.3L453.7 271.3L454.8 272.4L455.9 273.4L457.0 274.5L458.2 275.4L459.3 276.4L460.4 277.4L461.5 278.3L462.6 279.2L463.7 280.1L464.8 281.0L465.9 281.8L467.0 282.7L468.2 283.5L469.3 284.3L470.4 285.1L471.5 285.9L472.6 286.7L473.7 287.4L474.8 288.1L475.9 288.9L477.0 289.6L478.2 290.3L479.3 291.0L480.4 291.7L481.5 292.3L482.6 293.0L483.7 293.7L484.8 294.3L485.9 294.9L487.0 295.6L488.2 296.2L489.3 296.8L490.4 297.4L491.5 298.0L492.6 298.5L493.7 299.1L494.8 299.7L495.9 300.2L497.0 300.8L498.1 301.3L499.3 301.9L500.4 302.4L501.5 302.9L502.6 303.4L503.7 303.9L504.8 304.5L505.9 305.0L507.0 305.5L508.1 305.9L509.3 306.4L510.4 306.9L511.5 307.4L512.6 307.9L513.7 308.3L514.8 308.8L515.9 309.3L517.0 309.7L518.1 310.2L519.3 310.6L520.4 311.1L521.5 311.5L522.6 311.9L523.7 312.4L524.8 312.8L525.9 313.2L527.0 313.7L528.1 314.1L529.3 314.5L530.4 314.9L531.5 315.4L532.6 315.8L533.7 316.2L534.8 316.6L535.9 317.0L537.0 317.4L538.1 317.8L539.3 318.2L540.4 318.6L541.5 319.0L542.6 319.4L543.7 319.8L544.8 320.2L545.9 320.6L547.0 321.0L548.1 321.4L549.2 321.8L550.4 322.2L551.5 322.5L552.6 322.9L553.7 323.3L554.8 323.7L555.9 324.1L557.0 324.4L558.1 324.8L559.2 325.2L560.4 325.6L561.5 326.0L562.6 326.3L563.7 326.7L564.8 327.1L565.9 327.4L567.0 327.8L568.1 328.2L569.2 328.6L570.4 328.9L571.5 329.3L572.6 329.7L573.7 330.0L574.8 330.4L575.9 330.8L577.0 331.1L578.1 331.5L579.2 331.9L580.4 332.2L581.5 332.6L582.6 332.9L583.7 333.3L584.8 333.7L585.9 334.0L587.0 334.4L588.1 334.7L589.2 335.1L590.4 335.5L591.5 335.8L592.6 336.2L593.7 336.5L594.8 336.9L595.9 337.3L597.0 337.6L598.1 338.0L599.2 338.3L600.3 338.7L601.5 339.0L602.6 339.4L603.7 339.8L604.8 340.1L605.9 340.5L607.0 340.8L608.1 341.2L609.2 341.5L610.3 341.9L611.5 342.2L612.6 342.6L613.7 343.0L614.8 343.3L615.9 343.7L617.0 344.0L618.1 344.4L619.2 344.7L620.3 345.1L621.5 345.4L622.6 345.8L623.7 346.1L624.8 346.5L625.9 346.8L627.0 347.2L628.1 347.5L629.2 347.9L630.3 348.2L631.5 348.6L632.6 349.0L633.7 349.3L634.8 349.7L635.9 350.0L637.0 350.4L638.1 350.7L639.2 351.1L640.3 351.4L641.5 351.8L642.6 352.1L643.7 352.5L644.8 352.8L645.9 353.2L647.0 353.5L648.1 353.9L649.2 354.2L650.3 354.6L651.4 354.9L652.6 355.3L653.7 355.6L654.8 356.0L655.9 356.3L657.0 356.7L658.1 357.0L659.2 357.4L660.3 357.7L661.4 358.1L662.6 358.4L663.7 358.8L664.8 359.1L665.9 359.5L667.0 359.8L668.1 360.2L669.2 360.5L670.3 360.9L671.4 361.2L672.6 361.6L673.7 361.9L674.8 362.3L675.9 362.6L677.0 363.0" fill="none" stroke="#182d5c" stroke-width="2.8"/>
<path d="M51.4 898.1L51.6 896.7L51.8 895.2L52.0 893.7L52.2 892.2L52.3 890.7L52.5 889.1L52.7 887.4L52.9 885.8L53.1 884.1L53.3 882.4L53.5 880.6L53.7 878.9L53.9 877.0L54.0 875.2L54.2 873.4L54.4 871.5L54.6 869.6L54.8 867.6L55.0 865.7L55.2 863.7L55.4 861.6L55.6 859.5L55.7 857.4L55.9 855.2L56.1 853.0L56.3 850.7L56.5 848.4L56.7 846.1L56.9 843.7L57.1 841.3L57.3 838.9L57.4 836.5L57.6 834.0L57.8 831.5L58.0 829.0L58.2 826.5L58.4 824.8L58.6 822.0L58.8 819.2L59.0 816.2L59.1 813.2L59.3 810.2L59.5 807.1L59.7 803.9L59.9 800.7L60.1 797.4L60.3 794.1L60.5 790.7L60.7 787.3L60.8 783.9L61.0 780.4L61.2 777.0L61.4 773.5L61.6 770.0L61.8 766.5L62.0 763.0L62.2 759.6L62.4 756.2L62.5 752.8L62.7 749.5L62.9 746.2L63.1 742.9L63.3 739.7L63.5 736.6L63.7 733.5L63.9 730.5L64.1 727.5L64.2 724.6L64.4 721.8L64.6 719.0L64.8 716.2L65.0 713.6L65.2 711.0L65.4 708.4L65.6 705.9L65.8 703.5L65.9 701.1L66.1 698.7L66.3 696.4L66.5 694.1L66.7 691.9L66.9 689.8L67.1 687.6L67.3 685.6L67.5 683.5L67.6 681.6L67.8 679.7L68.0 677.8L68.2 676.0L68.4 674.3L68.6 672.6L68.8 671.0L69.0 669.5L69.2 668.0L69.3 666.5L69.5 665.1L69.7 663.8L69.9 662.5L70.1 661.2L70.3 660.0L70.5 658.8L70.7 657.6L70.9 656.5L71.0 655.4L71.2 654.3L71.4 653.3L71.6 652.3L71.8 651.3L72.0 650.4L72.2 649.4L72.4 648.5L72.6 647.6L72.7 646.7L72.9 645.9L73.1 645.1L73.3 644.3L73.5 643.5L73.7 642.7L73.9 641.9L74.7 638.7L75.5 635.8L76.4 633.1L77.2 630.5L78.0 628.2L78.8 625.9L79.7 623.8L80.5 621.9L81.3 620.4L82.2 619.2L83.0 618.4L83.8 618.0L84.6 618.0L85.5 618.3L86.3 618.8L87.1 619.5L87.9 620.4L88.8 621.3L89.6 622.4L90.4 623.5L91.2 624.7L92.1 625.8L92.9 627.0L93.7 628.2L94.6 629.4L95.4 630.5L96.2 631.6L97.0 632.7L97.9 633.8L98.7 634.9L99.5 636.0L100.3 637.1L101.2 638.2L102.0 639.3L102.8 640.4L103.7 641.5L104.5 642.6L105.3 643.7L106.1 644.8L107.0 645.9L107.8 647.0L108.6 648.2L109.4 649.3L110.3 650.4L111.1 651.6L111.9 652.7L112.8 653.9L113.6 655.0L114.4 656.2L115.2 657.4L116.1 658.5L116.9 659.7L117.7 660.9L118.5 662.0L119.4 663.2L120.2 664.4L121.0 665.6L121.8 666.8L122.7 668.0L123.5 669.1L124.3 670.3L125.2 671.5L126.0 672.7L126.8 673.9L127.6 675.1L128.5 676.3L129.3 677.5L130.1 678.7L130.9 679.9L131.8 681.1L132.6 682.3L133.4 683.5L134.3 684.6L135.1 685.8L135.9 687.0L136.7 688.2L137.6 689.4L138.4 690.6L139.2 691.7L140.0 692.9L140.9 694.1L141.7 695.2L142.5 696.4L143.3 697.6L144.2 698.7L145.0 699.9L145.8 701.0L146.7 702.1L147.5 703.3L148.3 704.4L149.1 705.5L150.0 706.7L150.8 707.8L151.6 708.9L152.4 710.0L153.3 711.1L154.1 712.2L154.9 713.3L155.8 714.3L156.6 715.4L157.4 716.5L158.2 717.5L159.1 718.6L159.9 719.6L160.7 720.7L161.5 721.7L162.4 722.7L163.2 723.7L164.0 724.8L164.9 725.8L165.7 726.8L166.5 727.8L167.3 728.7L168.2 729.7L169.0 730.7L169.8 731.6L170.6 732.6L171.5 733.5L172.3 734.5L173.1 735.4L173.9 736.3L174.8 737.3L175.6 738.2L176.4 739.1L177.3 740.0L178.1 740.9L178.9 741.8L179.7 742.6L180.6 743.5L181.4 744.4L182.2 745.2L183.0 746.1L183.9 746.9L184.7 747.7L185.5 748.5L186.4 749.3L187.2 750.1L188.0 750.9L188.8 751.7L189.7 752.5L190.5 753.3L191.3 754.0L192.1 754.8L193.0 755.5L193.8 756.3L194.6 757.0L195.5 757.7L196.3 758.4L197.1 759.2L197.9 759.9L198.8 760.5L199.6 761.2L200.4 761.9L201.2 762.6L202.1 763.3L202.9 763.9L203.7 764.6L204.5 765.2L205.4 765.9L206.2 766.5L207.0 767.1L207.9 767.8L208.7 768.4L209.5 769.0L210.3 769.6L211.2 770.2L212.0 770.8L212.8 771.4L213.6 772.0L214.5 772.6L215.3 773.2L216.1 773.8L217.0 774.4L217.8 775.0L218.6 775.6L219.4 776.1L220.3 776.7L221.1 777.3L221.9 777.9L222.7 778.4L223.6 779.0L224.4 779.6L225.2 780.1L226.1 780.7L226.9 781.3L227.7 781.8L228.5 782.4L229.4 782.9L230.2 783.5L231.0 784.1L231.8 784.6L232.7 785.2L233.5 785.7L234.3 786.3L235.1 786.8L236.0 787.4L236.8 787.9L237.6 788.5L238.5 789.0L239.3 789.5L240.1 790.0L240.9 790.6L241.8 791.1L242.6 791.6L243.4 792.1L244.2 792.6L245.1 793.1L245.9 793.6L246.7 794.1L247.6 794.6L248.4 795.1L249.2 795.6L250.0 796.1L250.9 796.6L251.7 797.1L252.5 797.5L253.3 798.0L254.2 798.5L255.0 799.0L255.8 799.4L256.7 799.9L257.5 800.3L258.3 800.8L259.1 801.3L260.0 801.7L260.8 802.2L261.6 802.6L262.4 803.1L263.3 803.5L264.1 803.9L264.9 804.4L265.7 804.8L266.6 805.2L267.4 805.7L268.2 806.1L269.1 806.5L269.9 806.9L270.7 807.3L271.5 807.8L272.4 808.2L273.2 808.6L274.0 809.0L274.8 809.4L275.7 809.8L276.5 810.2L277.3 810.6L278.2 811.0L279.0 811.4L279.8 811.8L280.6 812.2L281.5 812.5L282.3 812.9L283.1 813.3L283.9 813.7L284.8 814.1L285.6 814.4L286.4 814.8L287.3 815.2L288.1 815.5L288.9 815.9L289.7 816.3L290.6 816.6L291.4 817.0L292.2 817.3L293.0 817.7L293.9 818.0L294.7 818.4L295.5 818.7L296.3 819.1L297.2 819.4L298.0 819.8L298.8 820.1L299.7 820.4L300.5 820.8L301.3 821.1L302.1 821.4L303.0 821.7L303.8 822.1L304.6 822.4L305.4 822.7L306.3 823.0L307.1 823.4L307.9 823.7L308.8 824.0L309.6 824.3L310.4 824.6L311.2 824.9L312.1 825.2L312.9 825.5L313.7 825.8L314.5 826.1L315.4 826.4L316.2 826.7L317.0 827.0L317.9 827.3L318.7 827.6L319.5 827.9L320.3 828.2L321.2 828.5L321.2 889.7L320.3 889.6L319.5 889.5L318.7 889.4L317.9 889.4L317.0 889.3L316.2 889.2L315.4 889.1L314.5 889.0L313.7 888.9L312.9 888.8L312.1 888.7L311.2 888.7L310.4 888.6L309.6 888.5L308.8 888.4L307.9 888.3L307.1 888.2L306.3 888.1L305.4 888.0L304.6 887.9L303.8 887.8L303.0 887.7L302.1 887.6L301.3 887.5L300.5 887.4L299.7 887.3L298.8 887.2L298.0 887.1L297.2 887.0L296.3 886.9L295.5 886.7L294.7 886.6L293.9 886.5L293.0 886.4L292.2 886.3L291.4 886.2L290.6 886.1L289.7 885.9L288.9 885.8L288.1 885.7L287.3 885.6L286.4 885.5L285.6 885.3L284.8 885.2L283.9 885.1L283.1 885.0L282.3 884.8L281.5 884.7L280.6 884.6L279.8 884.4L279.0 884.3L278.2 884.2L277.3 884.0L276.5 883.9L275.7 883.8L274.8 883.6L274.0 883.5L273.2 883.3L272.4 883.2L271.5 883.1L270.7 882.9L269.9 882.8L269.1 882.6L268.2 882.5L267.4 882.3L266.6 882.2L265.7 882.0L264.9 881.8L264.1 881.7L263.3 881.5L262.4 881.4L261.6 881.2L260.8 881.0L260.0 880.9L259.1 880.7L258.3 880.5L257.5 880.4L256.7 880.2L255.8 880.0L255.0 879.8L254.2 879.7L253.3 879.5L252.5 879.3L251.7 879.1L250.9 878.9L250.0 878.7L249.2 878.6L248.4 878.4L247.6 878.2L246.7 878.0L245.9 877.8L245.1 877.6L244.2 877.4L243.4 877.2L242.6 877.0L241.8 876.8L240.9 876.6L240.1 876.4L239.3 876.1L238.5 875.9L237.6 875.7L236.8 875.5L236.0 875.3L235.1 875.0L234.3 874.8L233.5 874.6L232.7 874.4L231.8 874.1L231.0 873.9L230.2 873.7L229.4 873.4L228.5 873.2L227.7 873.0L226.9 872.7L226.1 872.5L225.2 872.2L224.4 872.0L223.6 871.7L222.7 871.5L221.9 871.3L221.1 871.0L220.3 870.8L219.4 870.5L218.6 870.3L217.8 870.0L217.0 869.8L216.1 869.5L215.3 869.3L214.5 869.0L213.6 868.8L212.8 868.5L212.0 868.3L211.2 868.0L210.3 867.7L209.5 867.5L208.7 867.2L207.9 866.9L207.0 866.7L206.2 866.4L205.4 866.1L204.5 865.8L203.7 865.5L202.9 865.3L202.1 865.0L201.2 864.7L200.4 864.4L199.6 864.0L198.8 863.7L197.9 863.4L197.1 863.1L196.3 862.7L195.5 862.4L194.6 862.1L193.8 861.7L193.0 861.3L192.1 861.0L191.3 860.6L190.5 860.2L189.7 859.8L188.8 859.4L188.0 858.9L187.2 858.5L186.4 858.1L185.5 857.6L184.7 857.1L183.9 856.7L183.0 856.2L182.2 855.7L181.4 855.2L180.6 854.6L179.7 854.1L178.9 853.5L178.1 853.0L177.3 852.4L176.4 851.8L175.6 851.3L174.8 850.7L173.9 850.1L173.1 849.5L172.3 848.9L171.5 848.3L170.6 847.8L169.8 847.2L169.0 846.6L168.2 846.1L167.3 845.5L166.5 845.0L165.7 844.5L164.9 844.0L164.0 843.5L163.2 843.0L162.4 842.6L161.5 842.1L160.7 841.7L159.9 841.2L159.1 840.8L158.2 840.4L157.4 839.9L156.6 839.5L155.8 839.1L154.9 838.6L154.1 838.2L153.3 837.7L152.4 837.3L151.6 836.8L150.8 836.3L150.0 835.8L149.1 835.3L148.3 834.8L147.5 834.2L146.7 833.7L145.8 833.1L145.0 832.5L144.2 831.9L143.3 831.3L142.5 830.7L141.7 830.0L140.9 829.3L140.0 828.6L139.2 827.9L138.4 827.2L137.6 826.4L136.7 825.7L135.9 824.9L135.1 824.0L134.3 823.2L133.4 822.3L132.6 821.4L131.8 820.5L130.9 819.6L130.1 818.6L129.3 817.6L128.5 816.5L127.6 815.5L126.8 814.4L126.0 813.2L125.2 812.1L124.3 810.9L123.5 809.6L122.7 808.3L121.8 807.0L121.0 805.6L120.2 804.2L119.4 802.7L118.5 801.2L117.7 799.6L116.9 798.0L116.1 796.3L115.2 794.5L114.4 792.7L113.6 790.7L112.8 788.7L111.9 786.6L111.1 784.5L110.3 782.3L109.4 780.2L108.6 778.1L107.8 776.2L107.0 774.4L106.1 772.7L105.3 771.2L104.5 769.8L103.7 768.5L102.8 767.3L102.0 766.3L101.2 765.3L100.3 764.5L99.5 763.7L98.7 763.0L97.9 762.4L97.0 761.8L96.2 761.3L95.4 760.9L94.6 760.5L93.7 760.2L92.9 759.9L92.1 759.7L91.2 759.5L90.4 759.5L89.6 759.4L88.8 759.5L87.9 759.6L87.1 759.8L86.3 760.0L85.5 760.3L84.6 760.7L83.8 761.1L83.0 761.5L82.2 762.1L81.3 762.6L80.5 763.3L79.7 764.0L78.8 764.8L78.0 765.6L77.2 766.5L76.4 767.6L75.5 768.7L74.7 770.0L73.9 771.4L73.7 771.8L73.5 772.1L73.3 772.5L73.1 772.9L72.9 773.3L72.7 773.8L72.6 774.2L72.4 774.7L72.2 775.2L72.0 775.7L71.8 776.2L71.6 776.8L71.4 777.4L71.2 778.0L71.0 778.6L70.9 779.3L70.7 780.1L70.5 780.9L70.3 781.8L70.1 782.8L69.9 783.8L69.7 785.0L69.5 786.3L69.3 787.8L69.2 789.6L69.0 791.6L68.8 794.1L68.6 796.8L68.4 799.6L68.2 802.2L68.0 800.5L67.8 801.9L67.6 803.5L67.5 805.3L67.3 807.3L67.1 809.4L66.9 811.7L66.7 814.0L66.5 816.4L66.3 818.9L66.1 821.4L65.9 823.9L65.8 826.3L65.6 828.7L65.4 831.0L65.2 833.2L65.0 835.2L64.8 837.1L64.6 838.8L64.4 840.4L64.2 841.9L64.1 843.3L63.9 844.7L63.7 846.1L63.5 847.4L63.3 848.7L63.1 850.0L62.9 851.2L62.7 852.4L62.5 853.6L62.4 854.8L62.2 855.9L62.0 857.1L61.8 858.2L61.6 859.3L61.4 860.4L61.2 861.6L61.0 862.7L60.8 863.9L60.7 865.0L60.5 866.2L60.3 867.4L60.1 868.6L59.9 869.9L59.7 871.2L59.5 872.6L59.3 874.0L59.1 875.4L59.0 876.8L58.8 878.1L58.6 879.5L58.4 880.9L58.2 882.2L58.0 883.5L57.8 884.8L57.6 886.0L57.4 887.1L57.3 888.2L57.1 889.2L56.9 890.1L56.7 890.9L56.5 891.6L56.3 892.2L56.1 892.7L55.9 893.1L55.7 893.5L55.6 893.8L55.4 894.1L55.2 894.5L55.0 894.8L54.8 895.1L54.6 895.4L54.4 895.7L54.2 895.9L54.0 896.2L53.9 896.4L53.7 896.7L53.5 896.9L53.3 897.1L53.1 897.3L52.9 897.4L52.7 897.6L52.5 897.7L52.3 897.8L52.2 897.9L52.0 898.0L51.8 898.1L51.6 898.1L51.4 898.1 Z" fill="#e0efd8" stroke="none"/>
<path d="M51.4 898.1L51.6 897.1L51.8 896.0L52.0 894.9L52.2 893.7L52.3 892.5L52.5 891.1L52.7 889.7L52.9 888.3L53.1 886.8L53.3 885.3L53.5 883.8L53.7 882.3L53.9 880.8L54.0 879.3L54.2 877.8L54.4 876.3L54.6 874.9L54.8 873.5L55.0 872.1L55.2 870.6L55.4 869.2L55.6 867.7L55.7 866.1L55.9 864.5L56.1 862.9L56.3 861.1L56.5 859.3L56.7 857.4L56.9 855.5L57.1 853.4L57.3 851.3L57.4 849.2L57.6 847.0L57.8 844.8L58.0 842.6L58.2 840.4L58.4 838.4L58.6 836.1L58.8 833.8L59.0 831.5L59.1 829.3L59.3 827.0L59.5 824.7L59.7 822.5L59.9 820.2L60.1 817.9L60.3 815.6L60.5 813.2L60.7 810.9L60.8 808.5L61.0 806.1L61.2 803.6L61.4 801.2L61.6 798.7L61.8 796.2L62.0 795.9L62.2 793.3L62.4 790.8L62.5 788.2L62.7 785.7L62.9 783.1L63.1 780.5L63.3 777.8L63.5 775.1L63.7 772.4L63.9 769.7L64.1 766.9L64.2 764.1L64.4 761.2L64.6 758.2L64.8 755.1L65.0 752.0L65.2 748.9L65.4 745.9L65.6 743.0L65.8 740.3L65.9 737.8L66.1 735.5L66.3 733.3L66.5 731.2L66.7 729.2L66.9 727.3L67.1 725.5L67.3 723.8L67.5 722.2L67.6 720.6L67.8 719.1L68.0 717.7L68.2 716.3L68.4 715.0L68.6 713.8L68.8 712.5L69.0 711.3L69.2 710.2L69.3 709.1L69.5 708.1L69.7 707.0L69.9 706.0L70.1 705.1L70.3 704.1L70.5 703.2L70.7 702.3L70.9 701.5L71.0 700.6L71.2 699.8L71.4 699.0L71.6 698.2L71.8 697.5L72.0 696.7L72.2 696.0L72.4 695.3L72.6 694.6L72.7 693.9L72.9 693.3L73.1 692.6L73.3 692.0L73.5 691.3L73.7 690.7L73.9 690.1L74.7 687.6L75.5 685.2L76.4 683.1L77.2 681.0L78.0 679.1L78.8 677.4L79.7 675.9L80.5 674.6L81.3 673.5L82.2 672.6L83.0 671.9L83.8 671.5L84.6 671.3L85.5 671.3L86.3 671.5L87.1 671.8L87.9 672.2L88.8 672.6L89.6 673.2L90.4 673.8L91.2 674.5L92.1 675.2L92.9 675.9L93.7 676.7L94.6 677.5L95.4 678.3L96.2 679.1L97.0 680.0L97.9 680.9L98.7 681.9L99.5 682.9L100.3 683.9L101.2 685.0L102.0 686.1L102.8 687.3L103.7 688.5L104.5 689.7L105.3 691.0L106.1 692.3L107.0 693.6L107.8 695.0L108.6 696.4L109.4 697.8L110.3 699.2L111.1 700.6L111.9 702.1L112.8 703.5L113.6 704.9L114.4 706.3L115.2 707.7L116.1 709.1L116.9 710.4L117.7 711.8L118.5 713.1L119.4 714.5L120.2 715.8L121.0 717.1L121.8 718.4L122.7 719.7L123.5 721.0L124.3 722.3L125.2 723.6L126.0 724.9L126.8 726.1L127.6 727.4L128.5 728.6L129.3 729.8L130.1 731.0L130.9 732.3L131.8 733.4L132.6 734.6L133.4 735.8L134.3 737.0L135.1 738.2L135.9 739.3L136.7 740.5L137.6 741.6L138.4 742.7L139.2 743.8L140.0 744.9L140.9 746.0L141.7 747.1L142.5 748.2L143.3 749.3L144.2 750.4L145.0 751.4L145.8 752.5L146.7 753.5L147.5 754.5L148.3 755.5L149.1 756.6L150.0 757.6L150.8 758.6L151.6 759.5L152.4 760.5L153.3 761.5L154.1 762.5L154.9 763.4L155.8 764.4L156.6 765.3L157.4 766.2L158.2 767.2L159.1 768.1L159.9 769.0L160.7 769.9L161.5 770.8L162.4 771.7L163.2 772.5L164.0 773.4L164.9 774.3L165.7 775.1L166.5 776.0L167.3 776.8L168.2 777.6L169.0 778.5L169.8 779.3L170.6 780.1L171.5 780.9L172.3 781.7L173.1 782.5L173.9 783.3L174.8 784.1L175.6 784.8L176.4 785.6L177.3 786.4L178.1 787.1L178.9 787.9L179.7 788.6L180.6 789.3L181.4 790.1L182.2 790.7L183.0 791.4L183.9 792.0L184.7 792.7L185.5 793.3L186.4 794.0L187.2 794.6L188.0 795.2L188.8 795.8L189.7 796.4L190.5 797.0L191.3 797.6L192.1 798.2L193.0 798.8L193.8 799.3L194.6 799.9L195.5 800.5L196.3 801.0L197.1 801.6L197.9 802.1L198.8 802.7L199.6 803.2L200.4 803.8L201.2 804.3L202.1 804.8L202.9 805.3L203.7 805.8L204.5 806.3L205.4 806.8L206.2 807.3L207.0 807.8L207.9 808.3L208.7 808.8L209.5 809.2L210.3 809.7L211.2 810.2L212.0 810.6L212.8 811.1L213.6 811.6L214.5 812.0L215.3 812.4L216.1 812.9L217.0 813.3L217.8 813.8L218.6 814.2L219.4 814.6L220.3 815.0L221.1 815.5L221.9 815.9L222.7 816.3L223.6 816.7L224.4 817.1L225.2 817.5L226.1 817.9L226.9 818.3L227.7 818.7L228.5 819.1L229.4 819.5L230.2 819.9L231.0 820.3L231.8 820.7L232.7 821.1L233.5 821.5L234.3 821.9L235.1 822.2L236.0 822.6L236.8 823.0L237.6 823.4L238.5 823.7L239.3 824.1L240.1 824.5L240.9 824.8L241.8 825.2L242.6 825.5L243.4 825.9L244.2 826.2L245.1 826.6L245.9 826.9L246.7 827.3L247.6 827.6L248.4 827.9L249.2 828.3L250.0 828.6L250.9 828.9L251.7 829.2L252.5 829.6L253.3 829.9L254.2 830.2L255.0 830.5L255.8 830.8L256.7 831.1L257.5 831.4L258.3 831.7L259.1 832.0L260.0 832.3L260.8 832.6L261.6 832.9L262.4 833.2L263.3 833.5L264.1 833.8L264.9 834.1L265.7 834.4L266.6 834.7L267.4 834.9L268.2 835.2L269.1 835.5L269.9 835.8L270.7 836.0L271.5 836.3L272.4 836.6L273.2 836.8L274.0 837.1L274.8 837.4L275.7 837.6L276.5 837.9L277.3 838.1L278.2 838.4L279.0 838.6L279.8 838.9L280.6 839.1L281.5 839.4L282.3 839.6L283.1 839.8L283.9 840.1L284.8 840.3L285.6 840.6L286.4 840.8L287.3 841.0L288.1 841.3L288.9 841.5L289.7 841.7L290.6 841.9L291.4 842.2L292.2 842.4L293.0 842.6L293.9 842.8L294.7 843.0L295.5 843.3L296.3 843.5L297.2 843.7L298.0 843.9L298.8 844.1L299.7 844.3L300.5 844.5L301.3 844.7L302.1 844.9L303.0 845.1L303.8 845.3L304.6 845.5L305.4 845.7L306.3 845.9L307.1 846.1L307.9 846.3L308.8 846.5L309.6 846.7L310.4 846.9L311.2 847.1L312.1 847.3L312.9 847.4L313.7 847.6L314.5 847.8L315.4 848.0L316.2 848.2L317.0 848.3L317.9 848.5L318.7 848.7L319.5 848.9L320.3 849.0L321.2 849.2" fill="none" stroke="#a8d48a" stroke-width="1.6"/>
<path d="M51.4 898.1L51.6 897.2L51.8 896.3L52.0 895.3L52.2 894.2L52.3 893.1L52.5 891.8L52.7 890.5L52.9 889.2L53.1 887.8L53.3 886.3L53.5 884.9L53.7 883.4L53.9 882.0L54.0 880.6L54.2 879.3L54.4 878.0L54.6 876.7L54.8 875.4L55.0 874.2L55.2 872.9L55.4 871.7L55.6 870.4L55.7 869.0L55.9 867.6L56.1 866.2L56.3 864.6L56.5 863.0L56.7 861.2L56.9 859.4L57.1 857.4L57.3 855.5L57.4 853.4L57.6 851.3L57.8 849.2L58.0 847.1L58.2 845.0L58.4 843.0L58.6 840.8L58.8 838.7L59.0 836.7L59.1 834.6L59.3 832.6L59.5 830.6L59.7 828.7L59.9 826.7L60.1 824.7L60.3 822.7L60.5 820.7L60.7 818.7L60.8 816.7L61.0 814.6L61.2 812.5L61.4 810.4L61.6 808.3L61.8 806.1L62.0 806.8L62.2 804.6L62.4 802.3L62.5 800.1L62.7 797.7L62.9 795.4L63.1 793.0L63.3 790.5L63.5 788.0L63.7 785.4L63.9 782.8L64.1 780.1L64.2 777.2L64.4 774.3L64.6 771.2L64.8 768.0L65.0 764.8L65.2 761.5L65.4 758.4L65.6 755.4L65.8 752.6L65.9 750.1L66.1 747.7L66.3 745.5L66.5 743.5L66.7 741.6L66.9 739.8L67.1 738.2L67.3 736.6L67.5 735.1L67.6 733.7L67.8 732.3L68.0 731.0L68.2 729.8L68.4 728.6L68.6 727.5L68.8 726.4L69.0 725.3L69.2 724.3L69.3 723.3L69.5 722.4L69.7 721.4L69.9 720.5L70.1 719.7L70.3 718.8L70.5 718.0L70.7 717.2L70.9 716.5L71.0 715.7L71.2 715.0L71.4 714.3L71.6 713.5L71.8 712.9L72.0 712.2L72.2 711.5L72.4 710.9L72.6 710.3L72.7 709.7L72.9 709.0L73.1 708.5L73.3 707.9L73.5 707.3L73.7 706.7L73.9 706.2L74.7 703.9L75.5 701.7L76.4 699.7L77.2 697.8L78.0 696.1L78.8 694.6L79.7 693.3L80.5 692.1L81.3 691.1L82.2 690.4L83.0 689.8L83.8 689.4L84.6 689.1L85.5 688.9L86.3 688.7L87.1 688.6L87.9 688.5L88.8 688.6L89.6 688.7L90.4 688.9L91.2 689.2L92.1 689.5L92.9 689.9L93.7 690.3L94.6 690.7L95.4 691.2L96.2 691.7L97.0 692.3L97.9 693.0L98.7 693.6L99.5 694.4L100.3 695.2L101.2 696.0L102.0 696.9L102.8 697.8L103.7 698.8L104.5 699.8L105.3 700.9L106.1 702.0L107.0 703.2L107.8 704.3L108.6 705.5L109.4 706.7L110.3 708.1L111.1 709.7L111.9 711.3L112.8 712.8L113.6 714.3L114.4 715.9L115.2 717.4L116.1 718.9L116.9 720.4L117.7 721.9L118.5 723.4L119.4 724.8L120.2 726.3L121.0 727.7L121.8 729.1L122.7 730.6L123.5 732.0L124.3 733.4L125.2 734.7L126.0 736.1L126.8 737.5L127.6 738.8L128.5 740.2L129.3 741.5L130.1 742.8L130.9 744.1L131.8 745.4L132.6 746.7L133.4 747.9L134.3 749.2L135.1 750.4L135.9 751.7L136.7 752.9L137.6 754.1L138.4 755.3L139.2 756.5L140.0 757.7L140.9 758.9L141.7 760.0L142.5 761.2L143.3 762.3L144.2 763.5L145.0 764.6L145.8 765.7L146.7 766.8L147.5 767.9L148.3 769.0L149.1 770.1L150.0 771.1L150.8 772.2L151.6 773.2L152.4 774.3L153.3 775.3L154.1 776.3L154.9 777.3L155.8 778.3L156.6 779.3L157.4 780.3L158.2 781.2L159.1 782.2L159.9 783.2L160.7 784.1L161.5 785.0L162.4 786.0L163.2 786.9L164.0 787.8L164.9 788.7L165.7 789.6L166.5 790.5L167.3 791.4L168.2 792.2L169.0 793.1L169.8 794.0L170.6 794.8L171.5 795.7L172.3 796.5L173.1 797.3L173.9 798.1L174.8 799.0L175.6 799.8L176.4 800.6L177.3 801.4L178.1 802.2L178.9 802.9L179.7 803.7L180.6 804.5L181.4 805.3L182.2 806.0L183.0 806.7L183.9 807.3L184.7 808.0L185.5 808.7L186.4 809.4L187.2 810.0L188.0 810.7L188.8 811.3L189.7 812.0L190.5 812.6L191.3 813.2L192.1 813.9L193.0 814.5L193.8 815.1L194.6 815.7L195.5 816.3L196.3 816.9L197.1 817.5L197.9 818.1L198.8 818.7L199.6 819.2L200.4 819.8L201.2 820.4L202.1 820.9L202.9 821.5L203.7 822.0L204.5 822.6L205.4 823.1L206.2 823.6L207.0 824.2L207.9 824.7L208.7 825.2L209.5 825.7L210.3 826.2L211.2 826.7L212.0 827.2L212.8 827.7L213.6 828.2L214.5 828.7L215.3 829.1L216.1 829.6L217.0 830.1L217.8 830.5L218.6 831.0L219.4 831.5L220.3 831.9L221.1 832.4L221.9 832.8L222.7 833.2L223.6 833.7L224.4 834.1L225.2 834.5L226.1 835.0L226.9 835.4L227.7 835.8L228.5 836.2L229.4 836.6L230.2 837.0L231.0 837.4L231.8 837.9L232.7 838.3L233.5 838.7L234.3 839.0L235.1 839.4L236.0 839.8L236.8 840.2L237.6 840.6L238.5 841.0L239.3 841.3L240.1 841.7L240.9 842.1L241.8 842.5L242.6 842.8L243.4 843.2L244.2 843.5L245.1 843.9L245.9 844.2L246.7 844.6L247.6 844.9L248.4 845.3L249.2 845.6L250.0 845.9L250.9 846.3L251.7 846.6L252.5 846.9L253.3 847.2L254.2 847.5L255.0 847.9L255.8 848.2L256.7 848.5L257.5 848.8L258.3 849.1L259.1 849.4L260.0 849.7L260.8 850.0L261.6 850.3L262.4 850.6L263.3 850.9L264.1 851.2L264.9 851.4L265.7 851.7L266.6 852.0L267.4 852.3L268.2 852.6L269.1 852.8L269.9 853.1L270.7 853.4L271.5 853.6L272.4 853.9L273.2 854.2L274.0 854.4L274.8 854.7L275.7 854.9L276.5 855.2L277.3 855.4L278.2 855.7L279.0 855.9L279.8 856.2L280.6 856.4L281.5 856.6L282.3 856.9L283.1 857.1L283.9 857.3L284.8 857.6L285.6 857.8L286.4 858.0L287.3 858.2L288.1 858.5L288.9 858.7L289.7 858.9L290.6 859.1L291.4 859.3L292.2 859.5L293.0 859.8L293.9 860.0L294.7 860.2L295.5 860.4L296.3 860.6L297.2 860.8L298.0 861.0L298.8 861.2L299.7 861.4L300.5 861.6L301.3 861.8L302.1 861.9L303.0 862.1L303.8 862.3L304.6 862.5L305.4 862.7L306.3 862.9L307.1 863.1L307.9 863.2L308.8 863.4L309.6 863.6L310.4 863.8L311.2 863.9L312.1 864.1L312.9 864.3L313.7 864.4L314.5 864.6L315.4 864.8L316.2 864.9L317.0 865.1L317.9 865.3L318.7 865.4L319.5 865.6L320.3 865.7L321.2 865.9" fill="none" stroke="#a8d48a" stroke-width="1.6"/>
<path d="M51.4 898.1L51.6 897.2L51.8 896.3L52.0 895.3L52.2 894.3L52.3 893.1L52.5 891.9L52.7 890.6L52.9 889.3L53.1 887.9L53.3 886.5L53.5 885.0L53.7 883.6L53.9 882.2L54.0 880.8L54.2 879.5L54.4 878.2L54.6 876.9L54.8 875.7L55.0 874.5L55.2 873.3L55.4 872.0L55.6 870.7L55.7 869.4L55.9 868.0L56.1 866.6L56.3 865.1L56.5 863.5L56.7 861.7L56.9 859.9L57.1 858.0L57.3 856.0L57.4 854.0L57.6 851.9L57.8 849.8L58.0 847.7L58.2 845.6L58.4 843.6L58.6 841.5L58.8 839.4L59.0 837.4L59.1 835.4L59.3 833.4L59.5 831.4L59.7 829.5L59.9 827.6L60.1 825.6L60.3 823.7L60.5 821.7L60.7 819.8L60.8 817.8L61.0 815.8L61.2 813.8L61.4 811.7L61.6 809.6L61.8 807.5L62.0 808.3L62.2 806.1L62.4 803.9L62.5 801.7L62.7 799.4L62.9 797.1L63.1 794.7L63.3 792.2L63.5 789.8L63.7 787.2L63.9 784.6L64.1 781.9L64.2 779.0L64.4 776.1L64.6 773.0L64.8 769.8L65.0 766.5L65.2 763.2L65.4 760.1L65.6 757.1L65.8 754.3L65.9 751.8L66.1 749.4L66.3 747.2L66.5 745.2L66.7 743.3L66.9 741.6L67.1 739.9L67.3 738.3L67.5 736.9L67.6 735.4L67.8 734.1L68.0 732.8L68.2 731.6L68.4 730.4L68.6 729.3L68.8 728.2L69.0 727.2L69.2 726.2L69.3 725.2L69.5 724.3L69.7 723.4L69.9 722.5L70.1 721.7L70.3 720.9L70.5 720.0L70.7 719.3L70.9 718.5L71.0 717.8L71.2 717.0L71.4 716.3L71.6 715.6L71.8 715.0L72.0 714.3L72.2 713.7L72.4 713.0L72.6 712.4L72.7 711.8L72.9 711.2L73.1 710.6L73.3 710.0L73.5 709.5L73.7 708.9L73.9 708.4L74.7 706.1L75.5 704.0L76.4 702.0L77.2 700.1L78.0 698.5L78.8 697.0L79.7 695.6L80.5 694.5L81.3 693.6L82.2 692.8L83.0 692.2L83.8 691.8L84.6 691.5L85.5 691.3L86.3 691.2L87.1 691.2L87.9 691.2L88.8 691.4L89.6 691.6L90.4 691.9L91.2 692.2L92.1 692.6L92.9 693.0L93.7 693.5L94.6 694.0L95.4 694.6L96.2 695.2L97.0 695.9L97.9 696.6L98.7 697.3L99.5 698.2L100.3 699.0L101.2 700.0L102.0 701.0L102.8 702.0L103.7 703.1L104.5 704.2L105.3 705.4L106.1 706.6L107.0 707.9L107.8 709.2L108.6 710.5L109.4 711.8L110.3 713.3L111.1 714.9L111.9 716.5L112.8 718.1L113.6 719.6L114.4 721.2L115.2 722.7L116.1 724.3L116.9 725.8L117.7 727.3L118.5 728.8L119.4 730.3L120.2 731.7L121.0 733.2L121.8 734.6L122.7 736.1L123.5 737.5L124.3 738.9L125.2 740.3L126.0 741.6L126.8 743.0L127.6 744.4L128.5 745.7L129.3 747.0L130.1 748.3L130.9 749.7L131.8 750.9L132.6 752.2L133.4 753.5L134.3 754.8L135.1 756.0L135.9 757.2L136.7 758.5L137.6 759.7L138.4 760.9L139.2 762.1L140.0 763.2L140.9 764.4L141.7 765.6L142.5 766.7L143.3 767.8L144.2 769.0L145.0 770.1L145.8 771.2L146.7 772.3L147.5 773.3L148.3 774.4L149.1 775.5L150.0 776.5L150.8 777.6L151.6 778.6L152.4 779.6L153.3 780.6L154.1 781.6L154.9 782.6L155.8 783.6L156.6 784.6L157.4 785.5L158.2 786.5L159.1 787.4L159.9 788.4L160.7 789.3L161.5 790.2L162.4 791.2L163.2 792.1L164.0 793.0L164.9 793.8L165.7 794.7L166.5 795.6L167.3 796.5L168.2 797.3L169.0 798.2L169.8 799.0L170.6 799.9L171.5 800.7L172.3 801.5L173.1 802.3L173.9 803.1L174.8 803.9L175.6 804.7L176.4 805.5L177.3 806.3L178.1 807.1L178.9 807.8L179.7 808.6L180.6 809.4L181.4 810.1L182.2 810.8L183.0 811.5L183.9 812.1L184.7 812.8L185.5 813.4L186.4 814.0L187.2 814.7L188.0 815.3L188.8 815.9L189.7 816.5L190.5 817.1L191.3 817.7L192.1 818.3L193.0 818.9L193.8 819.5L194.6 820.1L195.5 820.7L196.3 821.2L197.1 821.8L197.9 822.4L198.8 822.9L199.6 823.5L200.4 824.0L201.2 824.6L202.1 825.1L202.9 825.6L203.7 826.1L204.5 826.7L205.4 827.2L206.2 827.7L207.0 828.2L207.9 828.7L208.7 829.2L209.5 829.7L210.3 830.1L211.2 830.6L212.0 831.1L212.8 831.6L213.6 832.0L214.5 832.5L215.3 832.9L216.1 833.4L217.0 833.8L217.8 834.3L218.6 834.7L219.4 835.1L220.3 835.6L221.1 836.0L221.9 836.4L222.7 836.8L223.6 837.2L224.4 837.6L225.2 838.0L226.1 838.4L226.9 838.8L227.7 839.2L228.5 839.6L229.4 840.0L230.2 840.4L231.0 840.8L231.8 841.2L232.7 841.5L233.5 841.9L234.3 842.3L235.1 842.7L236.0 843.0L236.8 843.4L237.6 843.7L238.5 844.1L239.3 844.4L240.1 844.8L240.9 845.1L241.8 845.5L242.6 845.8L243.4 846.1L244.2 846.5L245.1 846.8L245.9 847.1L246.7 847.5L247.6 847.8L248.4 848.1L249.2 848.4L250.0 848.7L250.9 849.0L251.7 849.3L252.5 849.6L253.3 849.9L254.2 850.2L255.0 850.5L255.8 850.8L256.7 851.1L257.5 851.4L258.3 851.7L259.1 852.0L260.0 852.2L260.8 852.5L261.6 852.8L262.4 853.1L263.3 853.3L264.1 853.6L264.9 853.9L265.7 854.1L266.6 854.4L267.4 854.6L268.2 854.9L269.1 855.1L269.9 855.4L270.7 855.6L271.5 855.9L272.4 856.1L273.2 856.4L274.0 856.6L274.8 856.8L275.7 857.1L276.5 857.3L277.3 857.5L278.2 857.8L279.0 858.0L279.8 858.2L280.6 858.4L281.5 858.6L282.3 858.9L283.1 859.1L283.9 859.3L284.8 859.5L285.6 859.7L286.4 859.9L287.3 860.1L288.1 860.3L288.9 860.5L289.7 860.7L290.6 860.9L291.4 861.1L292.2 861.3L293.0 861.5L293.9 861.7L294.7 861.9L295.5 862.1L296.3 862.3L297.2 862.4L298.0 862.6L298.8 862.8L299.7 863.0L300.5 863.2L301.3 863.3L302.1 863.5L303.0 863.7L303.8 863.9L304.6 864.0L305.4 864.2L306.3 864.4L307.1 864.5L307.9 864.7L308.8 864.9L309.6 865.0L310.4 865.2L311.2 865.3L312.1 865.5L312.9 865.6L313.7 865.8L314.5 866.0L315.4 866.1L316.2 866.3L317.0 866.4L317.9 866.5L318.7 866.7L319.5 866.8L320.3 867.0L321.2 867.1" fill="none" stroke="#a8d48a" stroke-width="1.6"/>
<path d="M51.4 898.1L51.6 897.4L51.8 896.6L52.0 895.7L52.2 894.8L52.3 893.7L52.5 892.6L52.7 891.5L52.9 890.2L53.1 889.0L53.3 887.7L53.5 886.4L53.7 885.1L53.9 883.8L54.0 882.5L54.2 881.3L54.4 880.2L54.6 879.1L54.8 878.0L55.0 876.9L55.2 875.8L55.4 874.7L55.6 873.6L55.7 872.4L55.9 871.2L56.1 869.9L56.3 868.6L56.5 867.1L56.7 865.5L56.9 863.8L57.1 862.0L57.3 860.2L57.4 858.2L57.6 856.3L57.8 854.3L58.0 852.3L58.2 850.3L58.4 848.3L58.6 846.3L58.8 844.3L59.0 842.4L59.1 840.6L59.3 838.8L59.5 837.0L59.7 835.2L59.9 833.4L60.1 831.6L60.3 829.9L60.5 828.1L60.7 826.3L60.8 824.6L61.0 822.8L61.2 820.9L61.4 819.1L61.6 817.2L61.8 815.2L62.0 816.3L62.2 814.3L62.4 812.3L62.5 810.3L62.7 808.2L62.9 806.0L63.1 803.8L63.3 801.5L63.5 799.2L63.7 796.8L63.9 794.3L64.1 791.7L64.2 789.0L64.4 786.2L64.6 783.2L64.8 780.1L65.0 776.8L65.2 773.6L65.4 770.4L65.6 767.5L65.8 764.7L65.9 762.1L66.1 759.8L66.3 757.6L66.5 755.5L66.7 753.6L66.9 751.9L67.1 750.2L67.3 748.7L67.5 747.2L67.6 745.8L67.8 744.5L68.0 743.3L68.2 742.3L68.4 741.1L68.6 739.9L68.8 738.7L69.0 737.6L69.2 736.6L69.3 735.6L69.5 734.7L69.7 733.8L69.9 732.9L70.1 732.1L70.3 731.3L70.5 730.5L70.7 729.7L70.9 729.0L71.0 728.3L71.2 727.6L71.4 726.9L71.6 726.3L71.8 725.7L72.0 725.0L72.2 724.4L72.4 723.8L72.6 723.2L72.7 722.7L72.9 722.1L73.1 721.6L73.3 721.0L73.5 720.5L73.7 720.0L73.9 719.5L74.7 717.3L75.5 715.4L76.4 713.5L77.2 711.8L78.0 710.2L78.8 708.9L79.7 707.6L80.5 706.6L81.3 705.7L82.2 705.0L83.0 704.5L83.8 704.0L84.6 703.7L85.5 703.6L86.3 703.4L87.1 703.4L87.9 703.5L88.8 703.6L89.6 703.8L90.4 704.1L91.2 704.4L92.1 704.8L92.9 705.2L93.7 705.7L94.6 706.2L95.4 706.8L96.2 707.4L97.0 708.1L97.9 708.9L98.7 709.7L99.5 710.6L100.3 711.5L101.2 712.5L102.0 713.6L102.8 714.7L103.7 715.9L104.5 717.2L105.3 718.5L106.1 719.8L107.0 721.2L107.8 722.7L108.6 724.2L109.4 725.7L110.3 727.3L111.1 728.9L111.9 730.5L112.8 732.1L113.6 733.7L114.4 735.3L115.2 736.8L116.1 738.4L116.9 739.9L117.7 741.4L118.5 742.8L119.4 744.3L120.2 745.7L121.0 747.2L121.8 748.6L122.7 750.0L123.5 751.3L124.3 752.7L125.2 754.0L126.0 755.3L126.8 756.7L127.6 757.9L128.5 759.2L129.3 760.5L130.1 761.7L130.9 763.0L131.8 764.2L132.6 765.4L133.4 766.6L134.3 767.7L135.1 768.9L135.9 770.0L136.7 771.2L137.6 772.3L138.4 773.4L139.2 774.5L140.0 775.5L140.9 776.6L141.7 777.7L142.5 778.7L143.3 779.7L144.2 780.8L145.0 781.8L145.8 782.8L146.7 783.7L147.5 784.7L148.3 785.7L149.1 786.6L150.0 787.6L150.8 788.5L151.6 789.4L152.4 790.3L153.3 791.2L154.1 792.1L154.9 793.0L155.8 793.8L156.6 794.7L157.4 795.5L158.2 796.4L159.1 797.2L159.9 798.0L160.7 798.9L161.5 799.7L162.4 800.5L163.2 801.3L164.0 802.1L164.9 802.9L165.7 803.6L166.5 804.4L167.3 805.2L168.2 805.9L169.0 806.7L169.8 807.4L170.6 808.2L171.5 808.9L172.3 809.7L173.1 810.4L173.9 811.1L174.8 811.8L175.6 812.5L176.4 813.2L177.3 813.9L178.1 814.6L178.9 815.3L179.7 816.0L180.6 816.7L181.4 817.3L182.2 818.0L183.0 818.6L183.9 819.3L184.7 819.9L185.5 820.5L186.4 821.1L187.2 821.7L188.0 822.3L188.8 822.9L189.7 823.5L190.5 824.1L191.3 824.7L192.1 825.2L193.0 825.8L193.8 826.4L194.6 826.9L195.5 827.5L196.3 828.0L197.1 828.6L197.9 829.1L198.8 829.6L199.6 830.2L200.4 830.7L201.2 831.2L202.1 831.7L202.9 832.2L203.7 832.7L204.5 833.2L205.4 833.7L206.2 834.2L207.0 834.6L207.9 835.1L208.7 835.6L209.5 836.0L210.3 836.5L211.2 837.0L212.0 837.4L212.8 837.8L213.6 838.3L214.5 838.7L215.3 839.1L216.1 839.6L217.0 840.0L217.8 840.4L218.6 840.8L219.4 841.2L220.3 841.6L221.1 842.0L221.9 842.4L222.7 842.8L223.6 843.2L224.4 843.6L225.2 844.0L226.1 844.4L226.9 844.7L227.7 845.1L228.5 845.5L229.4 845.9L230.2 846.2L231.0 846.6L231.8 846.9L232.7 847.3L233.5 847.7L234.3 848.0L235.1 848.4L236.0 848.7L236.8 849.0L237.6 849.4L238.5 849.7L239.3 850.0L240.1 850.4L240.9 850.7L241.8 851.0L242.6 851.3L243.4 851.7L244.2 852.0L245.1 852.3L245.9 852.6L246.7 852.9L247.6 853.2L248.4 853.5L249.2 853.8L250.0 854.1L250.9 854.4L251.7 854.6L252.5 854.9L253.3 855.2L254.2 855.5L255.0 855.8L255.8 856.0L256.7 856.3L257.5 856.6L258.3 856.9L259.1 857.1L260.0 857.4L260.8 857.6L261.6 857.9L262.4 858.1L263.3 858.4L264.1 858.6L264.9 858.9L265.7 859.1L266.6 859.4L267.4 859.6L268.2 859.9L269.1 860.1L269.9 860.3L270.7 860.6L271.5 860.8L272.4 861.0L273.2 861.2L274.0 861.5L274.8 861.7L275.7 861.9L276.5 862.1L277.3 862.3L278.2 862.5L279.0 862.7L279.8 863.0L280.6 863.2L281.5 863.4L282.3 863.6L283.1 863.8L283.9 864.0L284.8 864.2L285.6 864.4L286.4 864.6L287.3 864.7L288.1 864.9L288.9 865.1L289.7 865.3L290.6 865.5L291.4 865.7L292.2 865.9L293.0 866.0L293.9 866.2L294.7 866.4L295.5 866.6L296.3 866.7L297.2 866.9L298.0 867.1L298.8 867.2L299.7 867.4L300.5 867.6L301.3 867.7L302.1 867.9L303.0 868.1L303.8 868.2L304.6 868.4L305.4 868.5L306.3 868.7L307.1 868.8L307.9 869.0L308.8 869.1L309.6 869.3L310.4 869.4L311.2 869.6L312.1 869.7L312.9 869.9L313.7 870.0L314.5 870.1L315.4 870.3L316.2 870.4L317.0 870.5L317.9 870.7L318.7 870.8L319.5 870.9L320.3 871.1L321.2 871.2" fill="none" stroke="#a8d48a" stroke-width="1.6"/>
<path d="M51.4 898.1L51.6 897.5L51.8 896.8L52.0 896.1L52.2 895.2L52.3 894.4L52.5 893.4L52.7 892.4L52.9 891.3L53.1 890.2L53.3 889.1L53.5 888.0L53.7 886.8L53.9 885.7L54.0 884.6L54.2 883.6L54.4 882.5L54.6 881.6L54.8 880.6L55.0 879.6L55.2 878.7L55.4 877.7L55.6 876.7L55.7 875.6L55.9 874.6L56.1 873.4L56.3 872.2L56.5 870.8L56.7 869.4L56.9 867.8L57.1 866.1L57.3 864.4L57.4 862.6L57.6 860.8L57.8 858.9L58.0 857.0L58.2 855.1L58.4 853.2L58.6 851.3L58.8 849.5L59.0 847.6L59.1 845.9L59.3 844.1L59.5 842.4L59.7 840.7L59.9 839.0L60.1 837.3L60.3 835.6L60.5 833.9L60.7 832.2L60.8 830.5L61.0 828.8L61.2 827.1L61.4 825.4L61.6 823.6L61.8 821.8L62.0 822.5L62.2 820.7L62.4 818.8L62.5 816.9L62.7 814.9L62.9 812.9L63.1 810.8L63.3 808.7L63.5 806.5L63.7 804.3L63.9 802.0L64.1 799.6L64.2 797.1L64.4 794.4L64.6 791.7L64.8 788.7L65.0 785.7L65.2 782.6L65.4 779.6L65.6 776.8L65.8 774.1L65.9 771.5L66.1 769.1L66.3 766.9L66.5 764.8L66.7 762.8L66.9 761.0L67.1 759.2L67.3 757.6L67.5 756.0L67.6 754.6L67.8 753.2L68.0 752.0L68.2 751.4L68.4 750.0L68.6 748.5L68.8 747.1L69.0 745.8L69.2 744.6L69.3 743.5L69.5 742.5L69.7 741.6L69.9 740.6L70.1 739.8L70.3 739.0L70.5 738.2L70.7 737.4L70.9 736.7L71.0 736.0L71.2 735.3L71.4 734.6L71.6 734.0L71.8 733.3L72.0 732.7L72.2 732.1L72.4 731.6L72.6 731.0L72.7 730.4L72.9 729.9L73.1 729.4L73.3 728.9L73.5 728.4L73.7 727.9L73.9 727.4L74.7 725.3L75.5 723.5L76.4 721.7L77.2 720.1L78.0 718.7L78.8 717.4L79.7 716.2L80.5 715.2L81.3 714.4L82.2 713.7L83.0 713.1L83.8 712.7L84.6 712.4L85.5 712.1L86.3 711.8L87.1 711.6L87.9 711.5L88.8 711.5L89.6 711.5L90.4 711.6L91.2 711.7L92.1 711.9L92.9 712.2L93.7 712.5L94.6 712.8L95.4 713.2L96.2 713.7L97.0 714.2L97.9 714.8L98.7 715.5L99.5 716.2L100.3 717.0L101.2 717.8L102.0 718.8L102.8 719.7L103.7 720.8L104.5 721.9L105.3 723.1L106.1 724.3L107.0 725.6L107.8 727.0L108.6 728.4L109.4 729.8L110.3 731.3L111.1 733.0L111.9 734.7L112.8 736.4L113.6 738.0L114.4 739.7L115.2 741.3L116.1 742.9L116.9 744.4L117.7 745.9L118.5 747.5L119.4 749.0L120.2 750.4L121.0 751.9L121.8 753.3L122.7 754.7L123.5 756.1L124.3 757.5L125.2 758.9L126.0 760.2L126.8 761.5L127.6 762.8L128.5 764.1L129.3 765.4L130.1 766.6L130.9 767.9L131.8 769.1L132.6 770.3L133.4 771.5L134.3 772.7L135.1 773.8L135.9 775.0L136.7 776.1L137.6 777.2L138.4 778.3L139.2 779.4L140.0 780.5L140.9 781.5L141.7 782.6L142.5 783.6L143.3 784.6L144.2 785.7L145.0 786.6L145.8 787.6L146.7 788.6L147.5 789.6L148.3 790.5L149.1 791.4L150.0 792.4L150.8 793.3L151.6 794.2L152.4 795.1L153.3 795.9L154.1 796.8L154.9 797.7L155.8 798.5L156.6 799.3L157.4 800.2L158.2 801.0L159.1 801.8L159.9 802.6L160.7 803.4L161.5 804.2L162.4 805.0L163.2 805.8L164.0 806.6L164.9 807.4L165.7 808.1L166.5 808.9L167.3 809.7L168.2 810.4L169.0 811.2L169.8 811.9L170.6 812.7L171.5 813.4L172.3 814.2L173.1 814.9L173.9 815.6L174.8 816.3L175.6 817.1L176.4 817.8L177.3 818.5L178.1 819.2L178.9 819.9L179.7 820.5L180.6 821.2L181.4 821.9L182.2 822.5L183.0 823.2L183.9 823.8L184.7 824.4L185.5 825.0L186.4 825.6L187.2 826.2L188.0 826.8L188.8 827.3L189.7 827.9L190.5 828.5L191.3 829.0L192.1 829.6L193.0 830.1L193.8 830.7L194.6 831.2L195.5 831.7L196.3 832.3L197.1 832.8L197.9 833.3L198.8 833.8L199.6 834.3L200.4 834.8L201.2 835.3L202.1 835.8L202.9 836.3L203.7 836.7L204.5 837.2L205.4 837.7L206.2 838.1L207.0 838.6L207.9 839.0L208.7 839.5L209.5 839.9L210.3 840.4L211.2 840.8L212.0 841.2L212.8 841.6L213.6 842.1L214.5 842.5L215.3 842.9L216.1 843.3L217.0 843.7L217.8 844.1L218.6 844.5L219.4 844.9L220.3 845.3L221.1 845.6L221.9 846.0L222.7 846.4L223.6 846.8L224.4 847.1L225.2 847.5L226.1 847.9L226.9 848.2L227.7 848.6L228.5 849.0L229.4 849.3L230.2 849.7L231.0 850.0L231.8 850.4L232.7 850.7L233.5 851.0L234.3 851.4L235.1 851.7L236.0 852.0L236.8 852.4L237.6 852.7L238.5 853.0L239.3 853.3L240.1 853.6L240.9 854.0L241.8 854.3L242.6 854.6L243.4 854.9L244.2 855.2L245.1 855.5L245.9 855.8L246.7 856.1L247.6 856.4L248.4 856.6L249.2 856.9L250.0 857.2L250.9 857.5L251.7 857.8L252.5 858.0L253.3 858.3L254.2 858.6L255.0 858.8L255.8 859.1L256.7 859.4L257.5 859.6L258.3 859.9L259.1 860.1L260.0 860.4L260.8 860.6L261.6 860.9L262.4 861.1L263.3 861.4L264.1 861.6L264.9 861.8L265.7 862.1L266.6 862.3L267.4 862.5L268.2 862.8L269.1 863.0L269.9 863.2L270.7 863.4L271.5 863.7L272.4 863.9L273.2 864.1L274.0 864.3L274.8 864.5L275.7 864.7L276.5 864.9L277.3 865.1L278.2 865.3L279.0 865.5L279.8 865.7L280.6 865.9L281.5 866.1L282.3 866.3L283.1 866.5L283.9 866.7L284.8 866.9L285.6 867.1L286.4 867.3L287.3 867.5L288.1 867.6L288.9 867.8L289.7 868.0L290.6 868.2L291.4 868.4L292.2 868.5L293.0 868.7L293.9 868.9L294.7 869.0L295.5 869.2L296.3 869.4L297.2 869.5L298.0 869.7L298.8 869.9L299.7 870.0L300.5 870.2L301.3 870.3L302.1 870.5L303.0 870.6L303.8 870.8L304.6 870.9L305.4 871.1L306.3 871.2L307.1 871.4L307.9 871.5L308.8 871.7L309.6 871.8L310.4 872.0L311.2 872.1L312.1 872.2L312.9 872.4L313.7 872.5L314.5 872.6L315.4 872.8L316.2 872.9L317.0 873.0L317.9 873.2L318.7 873.3L319.5 873.4L320.3 873.5L321.2 873.7" fill="none" stroke="#a8d48a" stroke-width="1.6"/>
<path d="M51.4 898.1L51.6 897.5L51.8 896.8L52.0 896.1L52.2 895.3L52.3 894.4L52.5 893.5L52.7 892.5L52.9 891.4L53.1 890.4L53.3 889.3L53.5 888.1L53.7 887.0L53.9 885.9L54.0 884.9L54.2 883.8L54.4 882.8L54.6 881.9L54.8 880.9L55.0 880.0L55.2 879.0L55.4 878.1L55.6 877.1L55.7 876.1L55.9 875.0L56.1 873.9L56.3 872.7L56.5 871.4L56.7 869.9L56.9 868.4L57.1 866.8L57.3 865.1L57.4 863.3L57.6 861.5L57.8 859.7L58.0 857.8L58.2 856.0L58.4 854.1L58.6 852.2L58.8 850.4L59.0 848.6L59.1 846.9L59.3 845.1L59.5 843.4L59.7 841.7L59.9 840.1L60.1 838.4L60.3 836.7L60.5 835.1L60.7 833.5L60.8 831.8L61.0 830.1L61.2 828.5L61.4 826.8L61.6 825.0L61.8 823.3L62.0 823.9L62.2 822.1L62.4 820.3L62.5 818.4L62.7 816.5L62.9 814.6L63.1 812.6L63.3 810.5L63.5 808.4L63.7 806.2L63.9 803.9L64.1 801.6L64.2 799.2L64.4 796.6L64.6 793.9L64.8 791.1L65.0 788.1L65.2 785.1L65.4 782.2L65.6 779.4L65.8 776.7L65.9 774.2L66.1 771.9L66.3 769.6L66.5 767.5L66.7 765.6L66.9 763.7L67.1 762.0L67.3 760.3L67.5 758.8L67.6 757.3L67.8 756.0L68.0 754.7L68.2 754.4L68.4 752.9L68.6 751.4L68.8 749.9L69.0 748.6L69.2 747.3L69.3 746.2L69.5 745.2L69.7 744.2L69.9 743.3L70.1 742.5L70.3 741.7L70.5 740.9L70.7 740.1L70.9 739.4L71.0 738.7L71.2 738.1L71.4 737.4L71.6 736.8L71.8 736.2L72.0 735.6L72.2 735.1L72.4 734.5L72.6 734.0L72.7 733.5L72.9 733.0L73.1 732.5L73.3 732.0L73.5 731.5L73.7 731.0L73.9 730.6L74.7 728.7L75.5 727.0L76.4 725.4L77.2 723.9L78.0 722.6L78.8 721.4L79.7 720.4L80.5 719.6L81.3 718.9L82.2 718.3L83.0 717.8L83.8 717.5L84.6 717.3L85.5 717.1L86.3 716.7L87.1 716.5L87.9 716.4L88.8 716.3L89.6 716.3L90.4 716.4L91.2 716.5L92.1 716.6L92.9 716.9L93.7 717.2L94.6 717.5L95.4 717.9L96.2 718.3L97.0 718.8L97.9 719.4L98.7 720.0L99.5 720.7L100.3 721.5L101.2 722.3L102.0 723.2L102.8 724.2L103.7 725.2L104.5 726.4L105.3 727.5L106.1 728.8L107.0 730.1L107.8 731.5L108.6 732.9L109.4 734.4L110.3 736.0L111.1 737.8L111.9 739.6L112.8 741.4L113.6 743.1L114.4 744.9L115.2 746.6L116.1 748.2L116.9 749.9L117.7 751.5L118.5 753.1L119.4 754.6L120.2 756.2L121.0 757.7L121.8 759.2L122.7 760.7L123.5 762.1L124.3 763.6L125.2 765.0L126.0 766.4L126.8 767.7L127.6 769.1L128.5 770.4L129.3 771.7L130.1 773.0L130.9 774.3L131.8 775.6L132.6 776.8L133.4 778.0L134.3 779.2L135.1 780.4L135.9 781.6L136.7 782.7L137.6 783.9L138.4 785.0L139.2 786.1L140.0 787.2L140.9 788.3L141.7 789.3L142.5 790.4L143.3 791.4L144.2 792.4L145.0 793.4L145.8 794.4L146.7 795.4L147.5 796.3L148.3 797.3L149.1 798.2L150.0 799.1L150.8 800.0L151.6 800.9L152.4 801.8L153.3 802.7L154.1 803.5L154.9 804.4L155.8 805.2L156.6 806.1L157.4 806.9L158.2 807.7L159.1 808.5L159.9 809.3L160.7 810.1L161.5 810.9L162.4 811.7L163.2 812.5L164.0 813.2L164.9 814.0L165.7 814.8L166.5 815.6L167.3 816.3L168.2 817.1L169.0 817.9L169.8 818.6L170.6 819.4L171.5 820.2L172.3 820.9L173.1 821.7L173.9 822.4L174.8 823.2L175.6 823.9L176.4 824.7L177.3 825.4L178.1 826.1L178.9 826.8L179.7 827.5L180.6 828.2L181.4 828.9L182.2 829.6L183.0 830.2L183.9 830.8L184.7 831.4L185.5 832.0L186.4 832.5L187.2 833.1L188.0 833.7L188.8 834.2L189.7 834.8L190.5 835.3L191.3 835.8L192.1 836.4L193.0 836.9L193.8 837.4L194.6 837.9L195.5 838.4L196.3 838.9L197.1 839.4L197.9 839.8L198.8 840.3L199.6 840.8L200.4 841.3L201.2 841.7L202.1 842.2L202.9 842.6L203.7 843.0L204.5 843.5L205.4 843.9L206.2 844.3L207.0 844.8L207.9 845.2L208.7 845.6L209.5 846.0L210.3 846.4L211.2 846.8L212.0 847.2L212.8 847.6L213.6 848.0L214.5 848.4L215.3 848.8L216.1 849.1L217.0 849.5L217.8 849.9L218.6 850.3L219.4 850.6L220.3 851.0L221.1 851.3L221.9 851.7L222.7 852.1L223.6 852.4L224.4 852.8L225.2 853.1L226.1 853.4L226.9 853.8L227.7 854.1L228.5 854.5L229.4 854.8L230.2 855.1L231.0 855.4L231.8 855.8L232.7 856.1L233.5 856.4L234.3 856.7L235.1 857.1L236.0 857.4L236.8 857.7L237.6 858.0L238.5 858.3L239.3 858.6L240.1 858.9L240.9 859.2L241.8 859.5L242.6 859.8L243.4 860.0L244.2 860.3L245.1 860.6L245.9 860.9L246.7 861.2L247.6 861.4L248.4 861.7L249.2 862.0L250.0 862.2L250.9 862.5L251.7 862.8L252.5 863.0L253.3 863.3L254.2 863.5L255.0 863.8L255.8 864.0L256.7 864.3L257.5 864.5L258.3 864.8L259.1 865.0L260.0 865.2L260.8 865.5L261.6 865.7L262.4 865.9L263.3 866.2L264.1 866.4L264.9 866.6L265.7 866.8L266.6 867.0L267.4 867.3L268.2 867.5L269.1 867.7L269.9 867.9L270.7 868.1L271.5 868.3L272.4 868.5L273.2 868.7L274.0 868.9L274.8 869.1L275.7 869.3L276.5 869.5L277.3 869.7L278.2 869.9L279.0 870.1L279.8 870.3L280.6 870.5L281.5 870.7L282.3 870.8L283.1 871.0L283.9 871.2L284.8 871.4L285.6 871.6L286.4 871.7L287.3 871.9L288.1 872.1L288.9 872.3L289.7 872.4L290.6 872.6L291.4 872.8L292.2 872.9L293.0 873.1L293.9 873.2L294.7 873.4L295.5 873.6L296.3 873.7L297.2 873.9L298.0 874.0L298.8 874.2L299.7 874.3L300.5 874.5L301.3 874.6L302.1 874.8L303.0 874.9L303.8 875.1L304.6 875.2L305.4 875.3L306.3 875.5L307.1 875.6L307.9 875.8L308.8 875.9L309.6 876.0L310.4 876.2L311.2 876.3L312.1 876.4L312.9 876.6L313.7 876.7L314.5 876.8L315.4 876.9L316.2 877.1L317.0 877.2L317.9 877.3L318.7 877.4L319.5 877.5L320.3 877.7L321.2 877.8" fill="none" stroke="#a8d48a" stroke-width="1.6"/>
<path d="M51.4 898.1L51.6 897.3L51.8 896.4L52.0 895.5L52.2 894.5L52.3 893.4L52.5 892.2L52.7 890.9L52.9 889.6L53.1 888.2L53.3 886.9L53.5 885.5L53.7 884.1L53.9 882.7L54.0 881.4L54.2 880.1L54.4 878.8L54.6 877.7L54.8 876.5L55.0 875.3L55.2 874.2L55.4 873.0L55.6 871.8L55.7 870.6L55.9 869.3L56.1 868.0L56.3 866.5L56.5 864.9L56.7 863.3L56.9 861.5L57.1 859.6L57.3 857.7L57.4 855.7L57.6 853.7L57.8 851.6L58.0 849.6L58.2 847.5L58.4 845.4L58.6 843.4L58.8 841.4L59.0 839.4L59.1 837.6L59.3 835.7L59.5 833.9L59.7 832.0L59.9 830.2L60.1 828.4L60.3 826.6L60.5 824.8L60.7 823.0L60.8 821.1L61.0 819.3L61.2 817.4L61.4 815.5L61.6 813.5L61.8 811.5L62.0 812.8L62.2 810.7L62.4 808.6L62.5 806.5L62.7 804.3L62.9 802.1L63.1 799.8L63.3 797.4L63.5 795.0L63.7 792.5L63.9 789.9L64.1 787.2L64.2 784.4L64.4 781.5L64.6 778.4L64.8 775.1L65.0 771.7L65.2 768.4L65.4 765.2L65.6 762.1L65.8 759.3L65.9 756.8L66.1 754.4L66.3 752.2L66.5 750.2L66.7 748.4L66.9 746.7L67.1 745.1L67.3 743.6L67.5 742.1L67.6 740.8L67.8 739.5L68.0 738.3L68.2 737.1L68.4 736.0L68.6 734.9L68.8 733.9L69.0 732.9L69.2 732.0L69.3 731.1L69.5 730.2L69.7 729.3L69.9 728.5L70.1 727.7L70.3 726.9L70.5 726.1L70.7 725.4L70.9 724.6L71.0 723.9L71.2 723.2L71.4 722.6L71.6 721.9L71.8 721.3L72.0 720.6L72.2 720.0L72.4 719.4L72.6 718.8L72.7 718.2L72.9 717.7L73.1 717.1L73.3 716.5L73.5 716.0L73.7 715.5L73.9 715.0L74.7 712.8L75.5 710.7L76.4 708.8L77.2 707.0L78.0 705.4L78.8 704.0L79.7 702.7L80.5 701.7L81.3 700.8L82.2 700.1L83.0 699.5L83.8 699.1L84.6 698.8L85.5 698.6L86.3 698.6L87.1 698.7L87.9 698.8L88.8 699.1L89.6 699.4L90.4 699.7L91.2 700.1L92.1 700.6L92.9 701.1L93.7 701.6L94.6 702.2L95.4 702.9L96.2 703.6L97.0 704.4L97.9 705.2L98.7 706.1L99.5 707.0L100.3 708.0L101.2 709.1L102.0 710.3L102.8 711.4L103.7 712.7L104.5 714.0L105.3 715.4L106.1 716.8L107.0 718.2L107.8 719.7L108.6 721.2L109.4 722.8L110.3 724.3L111.1 725.9L111.9 727.5L112.8 729.0L113.6 730.6L114.4 732.1L115.2 733.6L116.1 735.1L116.9 736.6L117.7 738.0L118.5 739.5L119.4 740.9L120.2 742.3L121.0 743.7L121.8 745.1L122.7 746.4L123.5 747.8L124.3 749.1L125.2 750.4L126.0 751.7L126.8 753.0L127.6 754.3L128.5 755.5L129.3 756.8L130.1 758.0L130.9 759.2L131.8 760.4L132.6 761.6L133.4 762.8L134.3 764.0L135.1 765.1L135.9 766.2L136.7 767.4L137.6 768.5L138.4 769.6L139.2 770.7L140.0 771.7L140.9 772.8L141.7 773.9L142.5 774.9L143.3 775.9L144.2 777.0L145.0 778.0L145.8 779.0L146.7 779.9L147.5 780.9L148.3 781.9L149.1 782.8L150.0 783.8L150.8 784.7L151.6 785.6L152.4 786.6L153.3 787.5L154.1 788.4L154.9 789.3L155.8 790.1L156.6 791.0L157.4 791.9L158.2 792.7L159.1 793.6L159.9 794.4L160.7 795.2L161.5 796.0L162.4 796.9L163.2 797.7L164.0 798.5L164.9 799.2L165.7 800.0L166.5 800.8L167.3 801.6L168.2 802.3L169.0 803.1L169.8 803.8L170.6 804.6L171.5 805.3L172.3 806.0L173.1 806.7L173.9 807.5L174.8 808.2L175.6 808.9L176.4 809.6L177.3 810.2L178.1 810.9L178.9 811.6L179.7 812.3L180.6 812.9L181.4 813.6L182.2 814.3L183.0 814.9L183.9 815.5L184.7 816.2L185.5 816.8L186.4 817.4L187.2 818.1L188.0 818.7L188.8 819.3L189.7 819.9L190.5 820.5L191.3 821.1L192.1 821.7L193.0 822.3L193.8 822.8L194.6 823.4L195.5 824.0L196.3 824.6L197.1 825.1L197.9 825.7L198.8 826.2L199.6 826.8L200.4 827.3L201.2 827.8L202.1 828.3L202.9 828.9L203.7 829.4L204.5 829.9L205.4 830.4L206.2 830.9L207.0 831.4L207.9 831.9L208.7 832.4L209.5 832.9L210.3 833.3L211.2 833.8L212.0 834.3L212.8 834.7L213.6 835.2L214.5 835.6L215.3 836.1L216.1 836.5L217.0 837.0L217.8 837.4L218.6 837.8L219.4 838.2L220.3 838.7L221.1 839.1L221.9 839.5L222.7 839.9L223.6 840.3L224.4 840.7L225.2 841.1L226.1 841.5L226.9 841.9L227.7 842.3L228.5 842.6L229.4 843.0L230.2 843.4L231.0 843.8L231.8 844.1L232.7 844.5L233.5 844.9L234.3 845.2L235.1 845.6L236.0 845.9L236.8 846.3L237.6 846.6L238.5 847.0L239.3 847.3L240.1 847.7L240.9 848.0L241.8 848.3L242.6 848.7L243.4 849.0L244.2 849.3L245.1 849.6L245.9 849.9L246.7 850.3L247.6 850.6L248.4 850.9L249.2 851.2L250.0 851.5L250.9 851.8L251.7 852.1L252.5 852.4L253.3 852.7L254.2 853.0L255.0 853.2L255.8 853.5L256.7 853.8L257.5 854.1L258.3 854.4L259.1 854.6L260.0 854.9L260.8 855.2L261.6 855.4L262.4 855.7L263.3 855.9L264.1 856.2L264.9 856.5L265.7 856.7L266.6 857.0L267.4 857.2L268.2 857.4L269.1 857.7L269.9 857.9L270.7 858.2L271.5 858.4L272.4 858.6L273.2 858.9L274.0 859.1L274.8 859.3L275.7 859.6L276.5 859.8L277.3 860.0L278.2 860.2L279.0 860.4L279.8 860.6L280.6 860.9L281.5 861.1L282.3 861.3L283.1 861.5L283.9 861.7L284.8 861.9L285.6 862.1L286.4 862.3L287.3 862.5L288.1 862.7L288.9 862.9L289.7 863.1L290.6 863.3L291.4 863.4L292.2 863.6L293.0 863.8L293.9 864.0L294.7 864.2L295.5 864.4L296.3 864.5L297.2 864.7L298.0 864.9L298.8 865.1L299.7 865.2L300.5 865.4L301.3 865.6L302.1 865.7L303.0 865.9L303.8 866.1L304.6 866.2L305.4 866.4L306.3 866.5L307.1 866.7L307.9 866.9L308.8 867.0L309.6 867.2L310.4 867.3L311.2 867.5L312.1 867.6L312.9 867.8L313.7 867.9L314.5 868.0L315.4 868.2L316.2 868.3L317.0 868.5L317.9 868.6L318.7 868.8L319.5 868.9L320.3 869.0L321.2 869.2" fill="none" stroke="#325a24" stroke-width="2.8"/>
<path d="M188.5 612.1L188.6 608.2L188.7 605.0L188.8 602.3L188.8 599.9L188.9 597.8L189.0 595.9L189.1 594.1L189.2 592.5L189.2 591.1L189.3 589.7L189.4 588.4L189.5 587.2L189.6 586.0L189.6 585.0L189.7 583.9L189.8 582.9L189.9 582.0L190.0 581.1L190.1 580.2L190.1 579.3L190.2 578.5L190.3 577.7L190.4 576.9L190.5 576.1L190.5 575.4L190.6 574.7L190.7 574.0L190.8 573.3L190.9 572.7L190.9 572.0L191.0 571.4L191.1 570.8L191.2 570.5L191.3 569.8L191.3 569.2L191.4 568.6L191.5 568.0L191.6 567.5L191.7 566.9L191.7 566.3L191.8 565.8L191.9 565.2L192.0 564.7L192.1 564.1L192.1 563.6L192.2 563.1L192.3 562.6L192.4 562.2L192.5 561.7L192.5 561.2L192.6 560.8L192.7 560.4L192.8 559.9L192.9 559.5L192.9 559.2L193.0 558.8L193.1 558.4L193.2 558.1L193.3 557.7L193.3 557.4L193.4 557.1L193.5 556.8L193.6 556.5L193.7 556.2L193.8 556.0L193.8 555.7L193.9 555.4L194.0 555.2L194.1 555.0L194.2 554.8L194.2 554.5L194.3 554.3L194.4 554.1L194.5 553.9L194.6 553.7L194.6 553.6L194.7 553.4L194.8 553.2L194.9 553.0L195.0 552.9L195.0 552.7L195.1 552.6L195.2 552.4L195.3 552.3L195.4 552.1L195.4 552.0L195.5 551.9L195.6 551.8L195.7 551.7L195.8 551.6L195.8 551.5L195.9 551.4L196.0 551.3L196.1 551.2L196.2 551.1L196.2 551.0L196.3 550.9L196.4 550.8L196.5 550.8L196.6 550.7L196.6 550.6L196.7 550.5L196.8 550.5L196.9 550.4L197.0 550.3L197.1 550.3L197.1 550.2L197.2 550.2L197.3 550.1L197.4 550.0L197.5 550.0L197.5 549.9L197.6 549.9L197.7 549.8L197.8 549.8L198.1 549.6L198.5 549.4L198.8 549.2L199.2 549.1L199.5 548.9L199.9 548.8L200.2 548.7L200.6 548.5L200.9 548.5L201.3 548.4L201.6 548.3L202.0 548.3L202.4 548.3L202.7 548.3L203.1 548.4L203.4 548.4L203.8 548.5L204.1 548.5L204.5 548.6L204.8 548.6L205.2 548.7L205.5 548.8L205.9 548.9L206.2 548.9L206.6 549.0L206.9 549.1L207.3 549.1L207.6 549.2L208.0 549.3L208.3 549.3L208.7 549.4L209.0 549.5L209.4 549.5L209.8 549.6L210.1 549.7L210.5 549.8L210.8 549.8L211.2 549.9L211.5 550.0L211.9 550.0L212.2 550.1L212.6 550.2L212.9 550.3L213.3 550.3L213.6 550.4L214.0 550.5L214.3 550.6L214.7 550.7L215.0 550.7L215.4 550.8L215.7 550.9L216.1 551.0L216.4 551.1L216.8 551.1L217.1 551.2L217.5 551.3L217.9 551.4L218.2 551.5L218.6 551.6L218.9 551.6L219.3 551.7L219.6 551.8L220.0 551.9L220.3 552.0L220.7 552.1L221.0 552.2L221.4 552.3L221.7 552.3L222.1 552.4L222.4 552.5L222.8 552.6L223.1 552.7L223.5 552.8L223.8 552.9L224.2 553.0L224.5 553.1L224.9 553.2L225.3 553.3L225.6 553.4L226.0 553.5L226.3 553.5L226.7 553.6L227.0 553.7L227.4 553.8L227.7 553.9L228.1 554.0L228.4 554.1L228.8 554.2L229.1 554.3L229.5 554.4L229.8 554.5L230.2 554.6L230.5 554.7L230.9 554.8L231.2 554.9L231.6 555.0L231.9 555.1L232.3 555.2L232.6 555.3L233.0 555.4L233.4 555.5L233.7 555.6L234.1 555.7L234.4 555.8L234.8 555.9L235.1 556.0L235.5 556.0L235.8 556.1L236.2 556.2L236.5 556.3L236.9 556.4L237.2 556.5L237.6 556.6L237.9 556.7L238.3 556.8L238.6 556.9L239.0 557.0L239.3 557.1L239.7 557.2L240.0 557.3L240.4 557.4L240.8 557.5L241.1 557.6L241.5 557.7L241.8 557.8L242.2 557.9L242.5 557.9L242.9 558.0L243.2 558.1L243.6 558.2L243.9 558.3L244.3 558.4L244.6 558.5L245.0 558.6L245.3 558.7L245.7 558.8L246.0 558.9L246.4 558.9L246.7 559.0L247.1 559.1L247.4 559.2L247.8 559.3L248.1 559.4L248.5 559.5L248.9 559.6L249.2 559.6L249.6 559.7L249.9 559.8L250.3 559.9L250.6 560.0L251.0 560.1L251.3 560.1L251.7 560.2L252.0 560.3L252.4 560.4L252.7 560.5L253.1 560.5L253.4 560.6L253.8 560.7L254.1 560.8L254.5 560.9L254.8 560.9L255.2 561.0L255.5 561.1L255.9 561.2L256.2 561.3L256.6 561.3L257.0 561.4L257.3 561.5L257.7 561.6L258.0 561.7L258.4 561.7L258.7 561.8L259.1 561.9L259.4 562.0L259.8 562.0L260.1 562.1L260.5 562.2L260.8 562.3L261.2 562.4L261.5 562.4L261.9 562.5L262.2 562.6L262.6 562.7L262.9 562.8L263.3 562.8L263.6 562.9L264.0 563.0L264.4 563.1L264.7 563.2L265.1 563.2L265.4 563.3L265.8 563.4L266.1 563.5L266.5 563.6L266.8 563.6L267.2 563.7L267.5 563.8L267.9 563.9L268.2 564.0L268.6 564.0L268.9 564.1L269.3 564.2L269.6 564.3L270.0 564.4L270.3 564.4L270.7 564.5L271.0 564.6L271.4 564.7L271.7 564.8L272.1 564.8L272.5 564.9L272.8 565.0L273.2 565.1L273.5 565.2L273.9 565.2L274.2 565.3L274.6 565.4L274.9 565.5L275.3 565.5L275.6 565.6L276.0 565.7L276.3 565.8L276.7 565.9L277.0 565.9L277.4 566.0L277.7 566.1L278.1 566.2L278.4 566.2L278.8 566.3L279.1 566.4L279.5 566.5L279.9 566.5L280.2 566.6L280.6 566.7L280.9 566.8L281.3 566.9L281.6 566.9L282.0 567.0L282.3 567.1L282.7 567.2L283.0 567.2L283.4 567.3L283.7 567.4L284.1 567.5L284.4 567.5L284.8 567.6L285.1 567.7L285.5 567.8L285.8 567.8L286.2 567.9L286.5 568.0L286.9 568.0L287.2 568.1L287.6 568.2L288.0 568.3L288.3 568.3L288.7 568.4L289.0 568.5L289.4 568.6L289.7 568.6L290.1 568.7L290.4 568.8L290.8 568.9L291.1 568.9L291.5 569.0L291.8 569.1L292.2 569.1L292.5 569.2L292.9 569.3L293.2 569.4L293.6 569.4L293.9 569.5L294.3 569.6L294.6 569.6L295.0 569.7L295.4 569.8L295.7 569.9L296.1 569.9L296.4 570.0L296.8 570.1L297.1 570.1L297.5 570.2L297.8 570.3L298.2 570.3L298.5 570.4L298.9 570.5L299.2 570.5L299.6 570.6L299.9 570.7L300.3 570.8L300.6 570.8L301.0 570.9L301.3 571.0L301.7 571.0L302.0 571.1L302.4 571.2L302.7 571.2L303.1 571.3L303.1 606.2L302.7 606.1L302.4 605.9L302.0 605.7L301.7 605.6L301.3 605.4L301.0 605.3L300.6 605.1L300.3 604.9L299.9 604.8L299.6 604.6L299.2 604.5L298.9 604.3L298.5 604.1L298.2 604.0L297.8 603.8L297.5 603.7L297.1 603.5L296.8 603.3L296.4 603.2L296.1 603.0L295.7 602.9L295.4 602.7L295.0 602.5L294.6 602.4L294.3 602.2L293.9 602.1L293.6 601.9L293.2 601.7L292.9 601.6L292.5 601.4L292.2 601.3L291.8 601.1L291.5 600.9L291.1 600.8L290.8 600.6L290.4 600.5L290.1 600.3L289.7 600.1L289.4 600.0L289.0 599.8L288.7 599.7L288.3 599.5L288.0 599.3L287.6 599.2L287.2 599.0L286.9 598.9L286.5 598.7L286.2 598.5L285.8 598.4L285.5 598.2L285.1 598.1L284.8 597.9L284.4 597.7L284.1 597.6L283.7 597.4L283.4 597.3L283.0 597.1L282.7 596.9L282.3 596.8L282.0 596.6L281.6 596.4L281.3 596.3L280.9 596.1L280.6 596.0L280.2 595.8L279.9 595.6L279.5 595.5L279.1 595.3L278.8 595.2L278.4 595.0L278.1 594.8L277.7 594.7L277.4 594.5L277.0 594.4L276.7 594.2L276.3 594.0L276.0 593.9L275.6 593.7L275.3 593.6L274.9 593.4L274.6 593.2L274.2 593.1L273.9 592.9L273.5 592.8L273.2 592.6L272.8 592.4L272.5 592.3L272.1 592.1L271.7 592.0L271.4 591.8L271.0 591.6L270.7 591.5L270.3 591.3L270.0 591.2L269.6 591.0L269.3 590.8L268.9 590.7L268.6 590.5L268.2 590.4L267.9 590.2L267.5 590.0L267.2 589.9L266.8 589.7L266.5 589.6L266.1 589.4L265.8 589.2L265.4 589.1L265.1 588.9L264.7 588.8L264.4 588.6L264.0 588.4L263.6 588.3L263.3 588.1L262.9 588.0L262.6 587.8L262.2 587.7L261.9 587.5L261.5 587.3L261.2 587.2L260.8 587.0L260.5 586.9L260.1 586.7L259.8 586.6L259.4 586.5L259.1 586.3L258.7 586.2L258.4 586.0L258.0 585.9L257.7 585.7L257.3 585.6L257.0 585.4L256.6 585.3L256.2 585.1L255.9 585.0L255.5 584.9L255.2 584.7L254.8 584.6L254.5 584.4L254.1 584.3L253.8 584.1L253.4 584.0L253.1 583.9L252.7 583.7L252.4 583.6L252.0 583.4L251.7 583.3L251.3 583.1L251.0 583.0L250.6 582.8L250.3 582.7L249.9 582.5L249.6 582.3L249.2 582.2L248.9 582.0L248.5 581.8L248.1 581.7L247.8 581.5L247.4 581.3L247.1 581.2L246.7 581.0L246.4 580.8L246.0 580.6L245.7 580.4L245.3 580.3L245.0 580.1L244.6 579.9L244.3 579.7L243.9 579.5L243.6 579.3L243.2 579.1L242.9 578.9L242.5 578.7L242.2 578.5L241.8 578.3L241.5 578.1L241.1 577.9L240.8 577.6L240.4 577.4L240.0 577.2L239.7 577.0L239.3 576.9L239.0 576.7L238.6 576.5L238.3 576.3L237.9 576.1L237.6 575.9L237.2 575.8L236.9 575.6L236.5 575.5L236.2 575.3L235.8 575.2L235.5 575.0L235.1 574.9L234.8 574.8L234.4 574.6L234.1 574.5L233.7 574.4L233.4 574.3L233.0 574.2L232.6 574.0L232.3 573.9L231.9 573.8L231.6 573.7L231.2 573.5L230.9 573.4L230.5 573.3L230.2 573.1L229.8 573.0L229.5 572.9L229.1 572.7L228.8 572.6L228.4 572.4L228.1 572.3L227.7 572.1L227.4 572.0L227.0 571.8L226.7 571.7L226.3 571.5L226.0 571.3L225.6 571.2L225.3 571.0L224.9 570.8L224.5 570.6L224.2 570.5L223.8 570.3L223.5 570.1L223.1 569.9L222.8 569.7L222.4 569.5L222.1 569.3L221.7 569.1L221.4 568.9L221.0 568.7L220.7 568.5L220.3 568.3L220.0 568.0L219.6 567.8L219.3 567.6L218.9 567.3L218.6 567.1L218.2 566.9L217.9 566.6L217.5 566.4L217.1 566.1L216.8 565.8L216.4 565.6L216.1 565.3L215.7 565.0L215.4 564.7L215.0 564.4L214.7 564.2L214.3 563.8L214.0 563.5L213.6 563.2L213.3 562.9L212.9 562.6L212.6 562.3L212.2 562.1L211.9 561.8L211.5 561.6L211.2 561.4L210.8 561.2L210.5 561.0L210.1 560.9L209.8 560.8L209.4 560.6L209.0 560.5L208.7 560.4L208.3 560.4L208.0 560.3L207.6 560.2L207.3 560.1L206.9 560.1L206.6 560.1L206.2 560.0L205.9 560.0L205.5 560.0L205.2 559.9L204.8 559.9L204.5 559.9L204.1 559.9L203.8 559.9L203.4 560.0L203.1 560.0L202.7 560.0L202.4 560.1L202.0 560.1L201.6 560.2L201.3 560.2L200.9 560.3L200.6 560.4L200.2 560.5L199.9 560.6L199.5 560.7L199.2 560.8L198.8 560.9L198.5 561.1L198.1 561.2L197.8 561.4L197.7 561.5L197.6 561.5L197.5 561.6L197.5 561.6L197.4 561.7L197.3 561.7L197.2 561.8L197.1 561.8L197.1 561.9L197.0 562.0L196.9 562.1L196.8 562.1L196.7 562.2L196.6 562.3L196.6 562.4L196.5 562.5L196.4 562.6L196.3 562.7L196.2 562.8L196.2 563.0L196.1 563.1L196.0 563.3L195.9 563.5L195.8 563.7L195.8 564.0L195.7 564.3L195.6 564.7L195.5 565.1L195.4 565.6L195.4 566.0L195.3 565.7L195.2 566.0L195.1 566.2L195.0 566.6L195.0 566.9L194.9 567.3L194.8 567.7L194.7 568.2L194.6 568.7L194.6 569.2L194.5 569.7L194.4 570.2L194.3 570.8L194.2 571.4L194.2 571.9L194.1 572.5L194.0 573.0L193.9 573.5L193.8 574.0L193.8 574.4L193.7 574.8L193.6 575.3L193.5 575.7L193.4 576.1L193.3 576.5L193.3 577.0L193.2 577.4L193.1 577.8L193.0 578.3L192.9 578.7L192.9 579.1L192.8 579.6L192.7 580.0L192.6 580.5L192.5 581.0L192.5 581.5L192.4 582.0L192.3 582.5L192.2 583.0L192.1 583.6L192.1 584.2L192.0 584.8L191.9 585.5L191.8 586.2L191.7 587.0L191.7 587.9L191.6 588.8L191.5 589.8L191.4 590.8L191.3 591.9L191.3 593.1L191.2 594.4L191.1 595.7L191.0 597.1L190.9 598.6L190.9 600.2L190.8 601.8L190.7 603.5L190.6 605.2L190.5 607.0L190.5 608.8L190.4 610.5L190.3 612.2L190.2 613.7L190.1 614.9L190.1 616.1L190.0 616.6L189.9 616.6L189.8 616.6L189.7 616.6L189.6 616.6L189.6 616.6L189.5 616.6L189.4 616.6L189.3 616.6L189.2 616.6L189.2 616.6L189.1 616.6L189.0 616.6L188.9 616.6L188.8 616.6L188.8 616.6L188.7 616.6L188.6 616.6L188.5 616.6 Z" fill="#e0efd8" stroke="none"/>
<path d="M188.6 612.8L188.7 609.3L188.8 606.3L188.8 603.7L188.9 601.4L189.0 599.3L189.1 597.5L189.2 595.8L189.2 594.3L189.3 592.9L189.4 591.7L189.5 590.5L189.6 589.5L189.6 588.5L189.7 587.5L189.8 586.7L189.9 585.8L190.0 585.0L190.1 584.1L190.1 583.3L190.2 582.6L190.3 581.8L190.4 581.0L190.5 580.2L190.5 579.4L190.6 578.6L190.7 577.9L190.8 577.1L190.9 576.4L190.9 575.7L191.0 575.0L191.1 574.4L191.2 573.9L191.3 573.2L191.3 572.6L191.4 572.0L191.5 571.5L191.6 571.0L191.7 570.4L191.7 569.9L191.8 569.4L191.9 569.0L192.0 568.5L192.1 568.0L192.1 567.6L192.2 567.1L192.3 566.7L192.4 566.3L192.5 565.8L192.5 565.4L192.6 565.0L192.7 565.0L192.8 564.6L192.9 564.2L192.9 563.8L193.0 563.4L193.1 563.0L193.2 562.6L193.3 562.3L193.3 561.9L193.4 561.6L193.5 561.2L193.6 560.8L193.7 560.5L193.8 560.1L193.8 559.8L193.9 559.4L194.0 559.1L194.1 558.7L194.2 558.4L194.2 558.1L194.3 557.8L194.4 557.5L194.5 557.3L194.6 557.1L194.6 556.9L194.7 556.7L194.8 556.5L194.9 556.3L195.0 556.2L195.0 556.0L195.1 555.9L195.2 555.7L195.3 555.6L195.4 555.5L195.4 555.3L195.5 555.2L195.6 555.1L195.7 555.0L195.8 554.9L195.8 554.8L195.9 554.7L196.0 554.6L196.1 554.5L196.2 554.5L196.2 554.4L196.3 554.3L196.4 554.2L196.5 554.2L196.6 554.1L196.6 554.0L196.7 554.0L196.8 553.9L196.9 553.8L197.0 553.8L197.1 553.7L197.1 553.6L197.2 553.6L197.3 553.5L197.4 553.5L197.5 553.4L197.5 553.4L197.6 553.3L197.7 553.3L197.8 553.2L198.1 553.0L198.5 552.8L198.8 552.7L199.2 552.5L199.5 552.4L199.9 552.3L200.2 552.1L200.6 552.0L200.9 552.0L201.3 551.9L201.6 551.8L202.0 551.8L202.4 551.8L202.7 551.8L203.1 551.8L203.4 551.8L203.8 551.9L204.1 551.9L204.5 551.9L204.8 552.0L205.2 552.0L205.5 552.1L205.9 552.1L206.2 552.2L206.6 552.3L206.9 552.3L207.3 552.4L207.6 552.4L208.0 552.5L208.3 552.6L208.7 552.7L209.0 552.7L209.4 552.8L209.8 552.9L210.1 553.0L210.5 553.1L210.8 553.2L211.2 553.3L211.5 553.4L211.9 553.5L212.2 553.6L212.6 553.7L212.9 553.9L213.3 554.0L213.6 554.1L214.0 554.2L214.3 554.3L214.7 554.4L215.0 554.6L215.4 554.7L215.7 554.8L216.1 554.9L216.4 555.0L216.8 555.2L217.1 555.3L217.5 555.4L217.9 555.5L218.2 555.6L218.6 555.8L218.9 555.9L219.3 556.0L219.6 556.1L220.0 556.2L220.3 556.4L220.7 556.5L221.0 556.6L221.4 556.7L221.7 556.8L222.1 557.0L222.4 557.1L222.8 557.2L223.1 557.3L223.5 557.4L223.8 557.6L224.2 557.7L224.5 557.8L224.9 557.9L225.3 558.0L225.6 558.2L226.0 558.3L226.3 558.4L226.7 558.5L227.0 558.6L227.4 558.8L227.7 558.9L228.1 559.0L228.4 559.1L228.8 559.2L229.1 559.4L229.5 559.5L229.8 559.6L230.2 559.7L230.5 559.8L230.9 559.9L231.2 560.1L231.6 560.2L231.9 560.3L232.3 560.4L232.6 560.5L233.0 560.6L233.4 560.8L233.7 560.9L234.1 561.0L234.4 561.1L234.8 561.2L235.1 561.3L235.5 561.4L235.8 561.6L236.2 561.7L236.5 561.8L236.9 561.9L237.2 562.0L237.6 562.1L237.9 562.2L238.3 562.4L238.6 562.5L239.0 562.6L239.3 562.7L239.7 562.8L240.0 562.9L240.4 563.0L240.8 563.2L241.1 563.3L241.5 563.4L241.8 563.5L242.2 563.6L242.5 563.7L242.9 563.8L243.2 563.9L243.6 564.0L243.9 564.2L244.3 564.3L244.6 564.4L245.0 564.5L245.3 564.6L245.7 564.7L246.0 564.8L246.4 564.9L246.7 564.9L247.1 565.0L247.4 565.1L247.8 565.2L248.1 565.3L248.5 565.4L248.9 565.5L249.2 565.6L249.6 565.7L249.9 565.8L250.3 565.9L250.6 566.0L251.0 566.1L251.3 566.2L251.7 566.3L252.0 566.4L252.4 566.5L252.7 566.6L253.1 566.7L253.4 566.7L253.8 566.8L254.1 566.9L254.5 567.0L254.8 567.1L255.2 567.2L255.5 567.3L255.9 567.4L256.2 567.5L256.6 567.5L257.0 567.6L257.3 567.7L257.7 567.8L258.0 567.9L258.4 568.0L258.7 568.1L259.1 568.1L259.4 568.2L259.8 568.3L260.1 568.4L260.5 568.5L260.8 568.6L261.2 568.6L261.5 568.7L261.9 568.8L262.2 568.9L262.6 569.0L262.9 569.1L263.3 569.1L263.6 569.2L264.0 569.3L264.4 569.4L264.7 569.5L265.1 569.6L265.4 569.6L265.8 569.7L266.1 569.8L266.5 569.9L266.8 570.0L267.2 570.1L267.5 570.1L267.9 570.2L268.2 570.3L268.6 570.4L268.9 570.5L269.3 570.5L269.6 570.6L270.0 570.7L270.3 570.8L270.7 570.9L271.0 570.9L271.4 571.0L271.7 571.1L272.1 571.2L272.5 571.3L272.8 571.3L273.2 571.4L273.5 571.5L273.9 571.6L274.2 571.6L274.6 571.7L274.9 571.8L275.3 571.9L275.6 571.9L276.0 572.0L276.3 572.1L276.7 572.2L277.0 572.2L277.4 572.3L277.7 572.4L278.1 572.5L278.4 572.5L278.8 572.6L279.1 572.7L279.5 572.8L279.9 572.8L280.2 572.9L280.6 573.0L280.9 573.1L281.3 573.1L281.6 573.2L282.0 573.3L282.3 573.3L282.7 573.4L283.0 573.5L283.4 573.6L283.7 573.6L284.1 573.7L284.4 573.8L284.8 573.8L285.1 573.9L285.5 574.0L285.8 574.0L286.2 574.1L286.5 574.2L286.9 574.2L287.2 574.3L287.6 574.4L288.0 574.5L288.3 574.5L288.7 574.6L289.0 574.7L289.4 574.7L289.7 574.8L290.1 574.9L290.4 574.9L290.8 575.0L291.1 575.1L291.5 575.1L291.8 575.2L292.2 575.2L292.5 575.3L292.9 575.4L293.2 575.4L293.6 575.5L293.9 575.6L294.3 575.6L294.6 575.7L295.0 575.8L295.4 575.8L295.7 575.9L296.1 575.9L296.4 576.0L296.8 576.1L297.1 576.1L297.5 576.2L297.8 576.3L298.2 576.3L298.5 576.4L298.9 576.4L299.2 576.5L299.6 576.6L299.9 576.6L300.3 576.7L300.6 576.7L301.0 576.8L301.3 576.9L301.7 576.9L302.0 577.0L302.4 577.0L302.7 577.1L303.1 577.1" fill="none" stroke="#a8d48a" stroke-width="1.3"/>
<path d="M188.7 611.0L188.8 607.9L188.8 605.2L188.9 602.8L189.0 600.7L189.1 598.7L189.2 597.0L189.2 595.5L189.3 594.1L189.4 592.9L189.5 591.8L189.6 590.8L189.6 589.8L189.7 589.0L189.8 588.1L189.9 587.3L190.0 586.5L190.1 585.7L190.1 584.9L190.2 584.2L190.3 583.4L190.4 582.6L190.5 581.8L190.5 581.0L190.6 580.2L190.7 579.4L190.8 578.6L190.9 577.9L190.9 577.1L191.0 576.4L191.1 575.8L191.2 575.2L191.3 574.5L191.3 573.9L191.4 573.4L191.5 572.8L191.6 572.3L191.7 571.8L191.7 571.3L191.8 570.9L191.9 570.4L192.0 570.0L192.1 569.6L192.1 569.1L192.2 568.7L192.3 568.3L192.4 567.9L192.5 567.5L192.5 567.1L192.6 566.7L192.7 566.8L192.8 566.4L192.9 566.0L192.9 565.7L193.0 565.3L193.1 564.9L193.2 564.5L193.3 564.1L193.3 563.7L193.4 563.4L193.5 563.0L193.6 562.6L193.7 562.2L193.8 561.8L193.8 561.4L193.9 561.0L194.0 560.6L194.1 560.2L194.2 559.8L194.2 559.5L194.3 559.1L194.4 558.8L194.5 558.6L194.6 558.3L194.6 558.1L194.7 557.9L194.8 557.7L194.9 557.6L195.0 557.4L195.0 557.3L195.1 557.1L195.2 557.0L195.3 556.8L195.4 556.7L195.4 556.6L195.5 556.5L195.6 556.4L195.7 556.3L195.8 556.2L195.8 556.1L195.9 556.0L196.0 555.9L196.1 555.8L196.2 555.8L196.2 555.7L196.3 555.6L196.4 555.5L196.5 555.5L196.6 555.4L196.6 555.3L196.7 555.3L196.8 555.2L196.9 555.1L197.0 555.1L197.1 555.0L197.1 555.0L197.2 554.9L197.3 554.9L197.4 554.8L197.5 554.8L197.5 554.7L197.6 554.7L197.7 554.6L197.8 554.6L198.1 554.4L198.5 554.2L198.8 554.0L199.2 553.9L199.5 553.7L199.9 553.6L200.2 553.5L200.6 553.4L200.9 553.3L201.3 553.2L201.6 553.2L202.0 553.2L202.4 553.1L202.7 553.1L203.1 553.1L203.4 553.1L203.8 553.1L204.1 553.1L204.5 553.1L204.8 553.1L205.2 553.2L205.5 553.2L205.9 553.2L206.2 553.2L206.6 553.3L206.9 553.3L207.3 553.4L207.6 553.4L208.0 553.5L208.3 553.5L208.7 553.6L209.0 553.6L209.4 553.7L209.8 553.8L210.1 553.9L210.5 553.9L210.8 554.0L211.2 554.1L211.5 554.2L211.9 554.3L212.2 554.4L212.6 554.5L212.9 554.6L213.3 554.7L213.6 554.9L214.0 555.0L214.3 555.1L214.7 555.3L215.0 555.4L215.4 555.6L215.7 555.7L216.1 555.8L216.4 556.0L216.8 556.1L217.1 556.2L217.5 556.4L217.9 556.5L218.2 556.7L218.6 556.8L218.9 556.9L219.3 557.1L219.6 557.2L220.0 557.4L220.3 557.5L220.7 557.6L221.0 557.8L221.4 557.9L221.7 558.1L222.1 558.2L222.4 558.3L222.8 558.5L223.1 558.6L223.5 558.7L223.8 558.9L224.2 559.0L224.5 559.2L224.9 559.3L225.3 559.4L225.6 559.6L226.0 559.7L226.3 559.9L226.7 560.0L227.0 560.1L227.4 560.3L227.7 560.4L228.1 560.6L228.4 560.7L228.8 560.8L229.1 561.0L229.5 561.1L229.8 561.2L230.2 561.4L230.5 561.5L230.9 561.7L231.2 561.8L231.6 561.9L231.9 562.1L232.3 562.2L232.6 562.3L233.0 562.5L233.4 562.6L233.7 562.8L234.1 562.9L234.4 563.0L234.8 563.2L235.1 563.3L235.5 563.4L235.8 563.6L236.2 563.7L236.5 563.8L236.9 564.0L237.2 564.1L237.6 564.2L237.9 564.4L238.3 564.5L238.6 564.7L239.0 564.8L239.3 564.9L239.7 565.1L240.0 565.2L240.4 565.3L240.8 565.5L241.1 565.6L241.5 565.7L241.8 565.9L242.2 566.0L242.5 566.1L242.9 566.3L243.2 566.4L243.6 566.6L243.9 566.7L244.3 566.8L244.6 566.9L245.0 567.1L245.3 567.2L245.7 567.3L246.0 567.4L246.4 567.5L246.7 567.7L247.1 567.8L247.4 567.9L247.8 568.0L248.1 568.2L248.5 568.3L248.9 568.4L249.2 568.5L249.6 568.6L249.9 568.8L250.3 568.9L250.6 569.0L251.0 569.1L251.3 569.2L251.7 569.4L252.0 569.5L252.4 569.6L252.7 569.7L253.1 569.8L253.4 570.0L253.8 570.1L254.1 570.2L254.5 570.3L254.8 570.4L255.2 570.5L255.5 570.7L255.9 570.8L256.2 570.9L256.6 571.0L257.0 571.1L257.3 571.2L257.7 571.3L258.0 571.5L258.4 571.6L258.7 571.7L259.1 571.8L259.4 571.9L259.8 572.0L260.1 572.1L260.5 572.3L260.8 572.4L261.2 572.5L261.5 572.6L261.9 572.7L262.2 572.8L262.6 572.9L262.9 573.0L263.3 573.1L263.6 573.3L264.0 573.4L264.4 573.5L264.7 573.6L265.1 573.7L265.4 573.8L265.8 573.9L266.1 574.0L266.5 574.1L266.8 574.2L267.2 574.4L267.5 574.5L267.9 574.6L268.2 574.7L268.6 574.8L268.9 574.9L269.3 575.0L269.6 575.1L270.0 575.2L270.3 575.3L270.7 575.4L271.0 575.5L271.4 575.6L271.7 575.8L272.1 575.9L272.5 576.0L272.8 576.1L273.2 576.2L273.5 576.3L273.9 576.4L274.2 576.5L274.6 576.6L274.9 576.7L275.3 576.8L275.6 576.9L276.0 577.0L276.3 577.1L276.7 577.2L277.0 577.3L277.4 577.4L277.7 577.5L278.1 577.6L278.4 577.7L278.8 577.8L279.1 577.9L279.5 578.0L279.9 578.1L280.2 578.2L280.6 578.3L280.9 578.4L281.3 578.5L281.6 578.6L282.0 578.7L282.3 578.8L282.7 578.9L283.0 579.0L283.4 579.1L283.7 579.2L284.1 579.3L284.4 579.4L284.8 579.5L285.1 579.6L285.5 579.7L285.8 579.8L286.2 579.9L286.5 580.0L286.9 580.1L287.2 580.1L287.6 580.2L288.0 580.3L288.3 580.4L288.7 580.5L289.0 580.6L289.4 580.7L289.7 580.8L290.1 580.9L290.4 581.0L290.8 581.1L291.1 581.2L291.5 581.2L291.8 581.3L292.2 581.4L292.5 581.5L292.9 581.6L293.2 581.7L293.6 581.8L293.9 581.9L294.3 582.0L294.6 582.0L295.0 582.1L295.4 582.2L295.7 582.3L296.1 582.4L296.4 582.5L296.8 582.6L297.1 582.6L297.5 582.7L297.8 582.8L298.2 582.9L298.5 583.0L298.9 583.1L299.2 583.1L299.6 583.2L299.9 583.3L300.3 583.4L300.6 583.5L301.0 583.6L301.3 583.6L301.7 583.7L302.0 583.8L302.4 583.9L302.7 584.0L303.1 584.0" fill="none" stroke="#a8d48a" stroke-width="1.3"/>
<path d="M188.7 611.3L188.8 608.1L188.8 605.4L188.9 603.0L189.0 600.8L189.1 598.9L189.2 597.2L189.2 595.7L189.3 594.3L189.4 593.1L189.5 592.0L189.6 591.0L189.6 590.0L189.7 589.2L189.8 588.3L189.9 587.5L190.0 586.7L190.1 586.0L190.1 585.2L190.2 584.4L190.3 583.6L190.4 582.8L190.5 582.0L190.5 581.2L190.6 580.4L190.7 579.6L190.8 578.8L190.9 578.1L190.9 577.4L191.0 576.6L191.1 576.0L191.2 575.3L191.3 574.7L191.3 574.1L191.4 573.6L191.5 573.0L191.6 572.5L191.7 572.0L191.7 571.5L191.8 571.1L191.9 570.6L192.0 570.2L192.1 569.8L192.1 569.4L192.2 568.9L192.3 568.5L192.4 568.1L192.5 567.7L192.5 567.3L192.6 566.9L192.7 567.1L192.8 566.7L192.9 566.3L192.9 565.9L193.0 565.5L193.1 565.2L193.2 564.8L193.3 564.4L193.3 564.0L193.4 563.6L193.5 563.2L193.6 562.8L193.7 562.4L193.8 562.0L193.8 561.6L193.9 561.2L194.0 560.8L194.1 560.4L194.2 560.0L194.2 559.6L194.3 559.3L194.4 559.0L194.5 558.8L194.6 558.5L194.6 558.3L194.7 558.1L194.8 557.9L194.9 557.7L195.0 557.6L195.0 557.4L195.1 557.3L195.2 557.2L195.3 557.0L195.4 556.9L195.4 556.8L195.5 556.7L195.6 556.6L195.7 556.5L195.8 556.4L195.8 556.3L195.9 556.2L196.0 556.1L196.1 556.0L196.2 555.9L196.2 555.9L196.3 555.8L196.4 555.7L196.5 555.7L196.6 555.6L196.6 555.5L196.7 555.5L196.8 555.4L196.9 555.3L197.0 555.3L197.1 555.2L197.1 555.2L197.2 555.1L197.3 555.0L197.4 555.0L197.5 554.9L197.5 554.9L197.6 554.8L197.7 554.8L197.8 554.7L198.1 554.6L198.5 554.4L198.8 554.2L199.2 554.0L199.5 553.9L199.9 553.8L200.2 553.7L200.6 553.6L200.9 553.5L201.3 553.4L201.6 553.4L202.0 553.4L202.4 553.3L202.7 553.3L203.1 553.3L203.4 553.3L203.8 553.3L204.1 553.3L204.5 553.3L204.8 553.4L205.2 553.4L205.5 553.4L205.9 553.5L206.2 553.5L206.6 553.5L206.9 553.6L207.3 553.6L207.6 553.7L208.0 553.8L208.3 553.8L208.7 553.9L209.0 554.0L209.4 554.0L209.8 554.1L210.1 554.2L210.5 554.3L210.8 554.4L211.2 554.5L211.5 554.6L211.9 554.7L212.2 554.8L212.6 554.9L212.9 555.1L213.3 555.2L213.6 555.3L214.0 555.5L214.3 555.6L214.7 555.8L215.0 555.9L215.4 556.0L215.7 556.2L216.1 556.3L216.4 556.5L216.8 556.6L217.1 556.8L217.5 556.9L217.9 557.1L218.2 557.2L218.6 557.4L218.9 557.5L219.3 557.6L219.6 557.8L220.0 557.9L220.3 558.1L220.7 558.2L221.0 558.4L221.4 558.5L221.7 558.7L222.1 558.8L222.4 558.9L222.8 559.1L223.1 559.2L223.5 559.4L223.8 559.5L224.2 559.7L224.5 559.8L224.9 560.0L225.3 560.1L225.6 560.2L226.0 560.4L226.3 560.5L226.7 560.7L227.0 560.8L227.4 561.0L227.7 561.1L228.1 561.2L228.4 561.4L228.8 561.5L229.1 561.7L229.5 561.8L229.8 562.0L230.2 562.1L230.5 562.2L230.9 562.4L231.2 562.5L231.6 562.7L231.9 562.8L232.3 562.9L232.6 563.1L233.0 563.2L233.4 563.4L233.7 563.5L234.1 563.7L234.4 563.8L234.8 563.9L235.1 564.1L235.5 564.2L235.8 564.4L236.2 564.5L236.5 564.6L236.9 564.8L237.2 564.9L237.6 565.1L237.9 565.2L238.3 565.3L238.6 565.5L239.0 565.6L239.3 565.8L239.7 565.9L240.0 566.0L240.4 566.2L240.8 566.3L241.1 566.5L241.5 566.6L241.8 566.7L242.2 566.9L242.5 567.0L242.9 567.2L243.2 567.3L243.6 567.4L243.9 567.6L244.3 567.7L244.6 567.8L245.0 567.9L245.3 568.1L245.7 568.2L246.0 568.3L246.4 568.4L246.7 568.6L247.1 568.7L247.4 568.8L247.8 568.9L248.1 569.1L248.5 569.2L248.9 569.3L249.2 569.4L249.6 569.5L249.9 569.7L250.3 569.8L250.6 569.9L251.0 570.0L251.3 570.2L251.7 570.3L252.0 570.4L252.4 570.5L252.7 570.6L253.1 570.8L253.4 570.9L253.8 571.0L254.1 571.1L254.5 571.2L254.8 571.4L255.2 571.5L255.5 571.6L255.9 571.7L256.2 571.8L256.6 571.9L257.0 572.1L257.3 572.2L257.7 572.3L258.0 572.4L258.4 572.5L258.7 572.6L259.1 572.7L259.4 572.9L259.8 573.0L260.1 573.1L260.5 573.2L260.8 573.3L261.2 573.4L261.5 573.5L261.9 573.6L262.2 573.7L262.6 573.9L262.9 574.0L263.3 574.1L263.6 574.2L264.0 574.3L264.4 574.4L264.7 574.5L265.1 574.6L265.4 574.7L265.8 574.8L266.1 575.0L266.5 575.1L266.8 575.2L267.2 575.3L267.5 575.4L267.9 575.5L268.2 575.6L268.6 575.7L268.9 575.8L269.3 575.9L269.6 576.0L270.0 576.1L270.3 576.2L270.7 576.4L271.0 576.5L271.4 576.6L271.7 576.7L272.1 576.8L272.5 576.9L272.8 577.0L273.2 577.1L273.5 577.2L273.9 577.3L274.2 577.4L274.6 577.5L274.9 577.6L275.3 577.7L275.6 577.8L276.0 577.9L276.3 578.0L276.7 578.1L277.0 578.2L277.4 578.3L277.7 578.4L278.1 578.5L278.4 578.6L278.8 578.7L279.1 578.8L279.5 578.9L279.9 579.0L280.2 579.1L280.6 579.2L280.9 579.3L281.3 579.4L281.6 579.5L282.0 579.6L282.3 579.7L282.7 579.8L283.0 579.8L283.4 579.9L283.7 580.0L284.1 580.1L284.4 580.2L284.8 580.3L285.1 580.4L285.5 580.5L285.8 580.6L286.2 580.7L286.5 580.8L286.9 580.9L287.2 581.0L287.6 581.0L288.0 581.1L288.3 581.2L288.7 581.3L289.0 581.4L289.4 581.5L289.7 581.6L290.1 581.7L290.4 581.8L290.8 581.8L291.1 581.9L291.5 582.0L291.8 582.1L292.2 582.2L292.5 582.3L292.9 582.4L293.2 582.4L293.6 582.5L293.9 582.6L294.3 582.7L294.6 582.8L295.0 582.9L295.4 582.9L295.7 583.0L296.1 583.1L296.4 583.2L296.8 583.3L297.1 583.4L297.5 583.4L297.8 583.5L298.2 583.6L298.5 583.7L298.9 583.8L299.2 583.8L299.6 583.9L299.9 584.0L300.3 584.1L300.6 584.1L301.0 584.2L301.3 584.3L301.7 584.4L302.0 584.5L302.4 584.5L302.7 584.6L303.1 584.7" fill="none" stroke="#a8d48a" stroke-width="1.3"/>
<path d="M188.8 610.1L188.8 607.3L188.9 604.9L189.0 602.7L189.1 600.7L189.2 599.0L189.2 597.4L189.3 596.1L189.4 594.8L189.5 593.7L189.6 592.7L189.6 591.8L189.7 590.9L189.8 590.1L189.9 589.3L190.0 588.6L190.1 587.8L190.1 587.0L190.2 586.3L190.3 585.5L190.4 584.7L190.5 583.8L190.5 583.0L190.6 582.2L190.7 581.3L190.8 580.5L190.9 579.7L190.9 579.0L191.0 578.2L191.1 577.5L191.2 576.8L191.3 576.2L191.3 575.6L191.4 575.0L191.5 574.5L191.6 573.9L191.7 573.4L191.7 573.0L191.8 572.5L191.9 572.1L192.0 571.6L192.1 571.2L192.1 570.8L192.2 570.4L192.3 570.0L192.4 569.6L192.5 569.2L192.5 568.8L192.6 568.4L192.7 568.6L192.8 568.3L192.9 567.9L192.9 567.5L193.0 567.1L193.1 566.7L193.2 566.3L193.3 565.9L193.3 565.5L193.4 565.1L193.5 564.7L193.6 564.3L193.7 563.9L193.8 563.5L193.8 563.0L193.9 562.6L194.0 562.1L194.1 561.7L194.2 561.3L194.2 560.9L194.3 560.6L194.4 560.2L194.5 560.0L194.6 559.7L194.6 559.5L194.7 559.2L194.8 559.0L194.9 558.9L195.0 558.7L195.0 558.5L195.1 558.4L195.2 558.2L195.3 558.1L195.4 558.0L195.4 557.9L195.5 557.7L195.6 557.6L195.7 557.5L195.8 557.4L195.8 557.3L195.9 557.2L196.0 557.1L196.1 557.0L196.2 557.0L196.2 556.9L196.3 556.8L196.4 556.7L196.5 556.6L196.6 556.6L196.6 556.5L196.7 556.4L196.8 556.4L196.9 556.3L197.0 556.3L197.1 556.2L197.1 556.1L197.2 556.1L197.3 556.0L197.4 556.0L197.5 555.9L197.5 555.9L197.6 555.8L197.7 555.8L197.8 555.7L198.1 555.5L198.5 555.4L198.8 555.2L199.2 555.0L199.5 554.9L199.9 554.8L200.2 554.7L200.6 554.6L200.9 554.5L201.3 554.5L201.6 554.4L202.0 554.4L202.4 554.3L202.7 554.3L203.1 554.3L203.4 554.3L203.8 554.3L204.1 554.3L204.5 554.4L204.8 554.4L205.2 554.4L205.5 554.4L205.9 554.5L206.2 554.5L206.6 554.6L206.9 554.6L207.3 554.7L207.6 554.7L208.0 554.8L208.3 554.9L208.7 554.9L209.0 555.0L209.4 555.1L209.8 555.2L210.1 555.3L210.5 555.4L210.8 555.5L211.2 555.6L211.5 555.8L211.9 555.9L212.2 556.0L212.6 556.2L212.9 556.3L213.3 556.5L213.6 556.6L214.0 556.8L214.3 557.0L214.7 557.1L215.0 557.3L215.4 557.4L215.7 557.6L216.1 557.7L216.4 557.9L216.8 558.1L217.1 558.2L217.5 558.4L217.9 558.5L218.2 558.7L218.6 558.8L218.9 559.0L219.3 559.1L219.6 559.3L220.0 559.4L220.3 559.6L220.7 559.7L221.0 559.9L221.4 560.0L221.7 560.2L222.1 560.3L222.4 560.5L222.8 560.6L223.1 560.8L223.5 560.9L223.8 561.1L224.2 561.2L224.5 561.4L224.9 561.5L225.3 561.7L225.6 561.8L226.0 562.0L226.3 562.1L226.7 562.3L227.0 562.4L227.4 562.5L227.7 562.7L228.1 562.8L228.4 563.0L228.8 563.1L229.1 563.2L229.5 563.4L229.8 563.5L230.2 563.7L230.5 563.8L230.9 563.9L231.2 564.1L231.6 564.2L231.9 564.4L232.3 564.5L232.6 564.6L233.0 564.8L233.4 564.9L233.7 565.0L234.1 565.2L234.4 565.3L234.8 565.5L235.1 565.6L235.5 565.7L235.8 565.9L236.2 566.0L236.5 566.1L236.9 566.3L237.2 566.4L237.6 566.5L237.9 566.7L238.3 566.8L238.6 566.9L239.0 567.1L239.3 567.2L239.7 567.4L240.0 567.5L240.4 567.6L240.8 567.8L241.1 567.9L241.5 568.0L241.8 568.2L242.2 568.3L242.5 568.4L242.9 568.6L243.2 568.7L243.6 568.9L243.9 569.0L244.3 569.1L244.6 569.2L245.0 569.4L245.3 569.5L245.7 569.6L246.0 569.8L246.4 569.9L246.7 570.0L247.1 570.2L247.4 570.3L247.8 570.4L248.1 570.6L248.5 570.7L248.9 570.8L249.2 570.9L249.6 571.1L249.9 571.2L250.3 571.3L250.6 571.5L251.0 571.6L251.3 571.7L251.7 571.8L252.0 572.0L252.4 572.1L252.7 572.2L253.1 572.3L253.4 572.5L253.8 572.6L254.1 572.7L254.5 572.8L254.8 573.0L255.2 573.1L255.5 573.2L255.9 573.3L256.2 573.4L256.6 573.6L257.0 573.7L257.3 573.8L257.7 573.9L258.0 574.1L258.4 574.2L258.7 574.3L259.1 574.4L259.4 574.5L259.8 574.6L260.1 574.8L260.5 574.9L260.8 575.0L261.2 575.1L261.5 575.2L261.9 575.4L262.2 575.5L262.6 575.6L262.9 575.7L263.3 575.8L263.6 575.9L264.0 576.0L264.4 576.2L264.7 576.3L265.1 576.4L265.4 576.5L265.8 576.6L266.1 576.7L266.5 576.9L266.8 577.0L267.2 577.1L267.5 577.2L267.9 577.3L268.2 577.4L268.6 577.5L268.9 577.7L269.3 577.8L269.6 577.9L270.0 578.0L270.3 578.1L270.7 578.2L271.0 578.3L271.4 578.4L271.7 578.5L272.1 578.7L272.5 578.8L272.8 578.9L273.2 579.0L273.5 579.1L273.9 579.2L274.2 579.3L274.6 579.4L274.9 579.5L275.3 579.6L275.6 579.7L276.0 579.8L276.3 579.9L276.7 580.1L277.0 580.2L277.4 580.3L277.7 580.4L278.1 580.5L278.4 580.6L278.8 580.7L279.1 580.8L279.5 580.9L279.9 581.0L280.2 581.1L280.6 581.2L280.9 581.3L281.3 581.4L281.6 581.5L282.0 581.6L282.3 581.7L282.7 581.8L283.0 581.9L283.4 582.0L283.7 582.1L284.1 582.2L284.4 582.3L284.8 582.4L285.1 582.5L285.5 582.6L285.8 582.7L286.2 582.8L286.5 582.9L286.9 583.0L287.2 583.1L287.6 583.2L288.0 583.3L288.3 583.4L288.7 583.5L289.0 583.6L289.4 583.6L289.7 583.7L290.1 583.8L290.4 583.9L290.8 584.0L291.1 584.1L291.5 584.2L291.8 584.3L292.2 584.4L292.5 584.5L292.9 584.6L293.2 584.7L293.6 584.7L293.9 584.8L294.3 584.9L294.6 585.0L295.0 585.1L295.4 585.2L295.7 585.3L296.1 585.4L296.4 585.4L296.8 585.5L297.1 585.6L297.5 585.7L297.8 585.8L298.2 585.9L298.5 586.0L298.9 586.0L299.2 586.1L299.6 586.2L299.9 586.3L300.3 586.4L300.6 586.5L301.0 586.5L301.3 586.6L301.7 586.7L302.0 586.8L302.4 586.9L302.7 586.9L303.1 587.0" fill="none" stroke="#a8d48a" stroke-width="1.3"/>
<path d="M188.8 612.6L188.8 609.8L188.9 607.3L189.0 605.1L189.1 603.2L189.2 601.4L189.2 599.8L189.3 598.4L189.4 597.2L189.5 596.1L189.6 595.0L189.6 594.1L189.7 593.2L189.8 592.4L189.9 591.6L190.0 590.8L190.1 590.0L190.1 589.2L190.2 588.4L190.3 587.6L190.4 586.8L190.5 585.9L190.5 585.0L190.6 584.2L190.7 583.3L190.8 582.4L190.9 581.6L190.9 580.8L191.0 580.0L191.1 579.3L191.2 578.6L191.3 577.9L191.3 577.2L191.4 576.6L191.5 576.1L191.6 575.5L191.7 575.0L191.7 574.5L191.8 574.0L191.9 573.5L192.0 573.1L192.1 572.6L192.1 572.2L192.2 571.8L192.3 571.4L192.4 571.0L192.5 570.6L192.5 570.2L192.6 569.8L192.7 569.9L192.8 569.5L192.9 569.2L192.9 568.8L193.0 568.4L193.1 568.0L193.2 567.6L193.3 567.2L193.3 566.8L193.4 566.4L193.5 566.0L193.6 565.6L193.7 565.2L193.8 564.7L193.8 564.3L193.9 563.8L194.0 563.4L194.1 562.9L194.2 562.5L194.2 562.1L194.3 561.8L194.4 561.4L194.5 561.1L194.6 560.8L194.6 560.6L194.7 560.3L194.8 560.1L194.9 559.9L195.0 559.7L195.0 559.5L195.1 559.4L195.2 559.2L195.3 559.1L195.4 559.0L195.4 558.8L195.5 558.7L195.6 558.5L195.7 558.4L195.8 558.3L195.8 558.1L195.9 558.0L196.0 557.9L196.1 557.8L196.2 557.7L196.2 557.7L196.3 557.6L196.4 557.5L196.5 557.4L196.6 557.3L196.6 557.3L196.7 557.2L196.8 557.1L196.9 557.1L197.0 557.0L197.1 557.0L197.1 556.9L197.2 556.8L197.3 556.8L197.4 556.7L197.5 556.7L197.5 556.6L197.6 556.6L197.7 556.5L197.8 556.5L198.1 556.3L198.5 556.1L198.8 556.0L199.2 555.8L199.5 555.7L199.9 555.5L200.2 555.4L200.6 555.4L200.9 555.3L201.3 555.2L201.6 555.2L202.0 555.1L202.4 555.1L202.7 555.1L203.1 555.1L203.4 555.0L203.8 555.0L204.1 555.0L204.5 555.0L204.8 555.0L205.2 555.0L205.5 555.1L205.9 555.1L206.2 555.1L206.6 555.1L206.9 555.2L207.3 555.2L207.6 555.3L208.0 555.3L208.3 555.4L208.7 555.4L209.0 555.5L209.4 555.6L209.8 555.7L210.1 555.8L210.5 555.9L210.8 556.0L211.2 556.1L211.5 556.2L211.9 556.3L212.2 556.5L212.6 556.6L212.9 556.7L213.3 556.9L213.6 557.0L214.0 557.2L214.3 557.4L214.7 557.6L215.0 557.7L215.4 557.9L215.7 558.1L216.1 558.2L216.4 558.4L216.8 558.6L217.1 558.7L217.5 558.9L217.9 559.0L218.2 559.2L218.6 559.4L218.9 559.5L219.3 559.7L219.6 559.9L220.0 560.0L220.3 560.2L220.7 560.3L221.0 560.5L221.4 560.7L221.7 560.8L222.1 561.0L222.4 561.1L222.8 561.3L223.1 561.4L223.5 561.6L223.8 561.7L224.2 561.9L224.5 562.0L224.9 562.2L225.3 562.3L225.6 562.5L226.0 562.6L226.3 562.8L226.7 562.9L227.0 563.1L227.4 563.2L227.7 563.4L228.1 563.5L228.4 563.7L228.8 563.8L229.1 564.0L229.5 564.1L229.8 564.3L230.2 564.4L230.5 564.5L230.9 564.7L231.2 564.8L231.6 565.0L231.9 565.1L232.3 565.3L232.6 565.4L233.0 565.5L233.4 565.7L233.7 565.8L234.1 565.9L234.4 566.1L234.8 566.2L235.1 566.4L235.5 566.5L235.8 566.6L236.2 566.8L236.5 566.9L236.9 567.1L237.2 567.2L237.6 567.4L237.9 567.5L238.3 567.6L238.6 567.8L239.0 567.9L239.3 568.1L239.7 568.2L240.0 568.4L240.4 568.5L240.8 568.6L241.1 568.8L241.5 568.9L241.8 569.1L242.2 569.2L242.5 569.4L242.9 569.5L243.2 569.7L243.6 569.8L243.9 570.0L244.3 570.1L244.6 570.2L245.0 570.4L245.3 570.5L245.7 570.6L246.0 570.8L246.4 570.9L246.7 571.0L247.1 571.2L247.4 571.3L247.8 571.4L248.1 571.6L248.5 571.7L248.9 571.8L249.2 572.0L249.6 572.1L249.9 572.2L250.3 572.4L250.6 572.5L251.0 572.6L251.3 572.7L251.7 572.9L252.0 573.0L252.4 573.1L252.7 573.3L253.1 573.4L253.4 573.5L253.8 573.6L254.1 573.8L254.5 573.9L254.8 574.0L255.2 574.1L255.5 574.3L255.9 574.4L256.2 574.5L256.6 574.6L257.0 574.8L257.3 574.9L257.7 575.0L258.0 575.1L258.4 575.3L258.7 575.4L259.1 575.5L259.4 575.6L259.8 575.7L260.1 575.9L260.5 576.0L260.8 576.1L261.2 576.2L261.5 576.3L261.9 576.5L262.2 576.6L262.6 576.7L262.9 576.8L263.3 576.9L263.6 577.1L264.0 577.2L264.4 577.3L264.7 577.4L265.1 577.5L265.4 577.7L265.8 577.8L266.1 577.9L266.5 578.0L266.8 578.1L267.2 578.2L267.5 578.4L267.9 578.5L268.2 578.6L268.6 578.7L268.9 578.8L269.3 578.9L269.6 579.1L270.0 579.2L270.3 579.3L270.7 579.4L271.0 579.5L271.4 579.6L271.7 579.8L272.1 579.9L272.5 580.0L272.8 580.1L273.2 580.2L273.5 580.3L273.9 580.4L274.2 580.5L274.6 580.7L274.9 580.8L275.3 580.9L275.6 581.0L276.0 581.1L276.3 581.2L276.7 581.3L277.0 581.4L277.4 581.5L277.7 581.6L278.1 581.8L278.4 581.9L278.8 582.0L279.1 582.1L279.5 582.2L279.9 582.3L280.2 582.4L280.6 582.5L280.9 582.6L281.3 582.7L281.6 582.8L282.0 582.9L282.3 583.0L282.7 583.1L283.0 583.2L283.4 583.3L283.7 583.4L284.1 583.6L284.4 583.7L284.8 583.8L285.1 583.9L285.5 584.0L285.8 584.1L286.2 584.2L286.5 584.3L286.9 584.4L287.2 584.5L287.6 584.6L288.0 584.7L288.3 584.8L288.7 584.9L289.0 585.0L289.4 585.1L289.7 585.2L290.1 585.3L290.4 585.3L290.8 585.4L291.1 585.5L291.5 585.6L291.8 585.7L292.2 585.8L292.5 585.9L292.9 586.0L293.2 586.1L293.6 586.2L293.9 586.3L294.3 586.4L294.6 586.5L295.0 586.6L295.4 586.7L295.7 586.8L296.1 586.9L296.4 586.9L296.8 587.0L297.1 587.1L297.5 587.2L297.8 587.3L298.2 587.4L298.5 587.5L298.9 587.6L299.2 587.7L299.6 587.7L299.9 587.8L300.3 587.9L300.6 588.0L301.0 588.1L301.3 588.2L301.7 588.3L302.0 588.4L302.4 588.4L302.7 588.5L303.1 588.6" fill="none" stroke="#a8d48a" stroke-width="1.3"/>
<path d="M188.8 610.1L188.9 607.6L189.0 605.4L189.1 603.4L189.2 601.7L189.2 600.1L189.3 598.7L189.4 597.5L189.5 596.4L189.6 595.3L189.6 594.4L189.7 593.5L189.8 592.7L189.9 591.9L190.0 591.1L190.1 590.3L190.1 589.5L190.2 588.8L190.3 588.0L190.4 587.1L190.5 586.3L190.5 585.4L190.6 584.5L190.7 583.6L190.8 582.8L190.9 581.9L190.9 581.1L191.0 580.3L191.1 579.6L191.2 578.9L191.3 578.2L191.3 577.6L191.4 576.9L191.5 576.4L191.6 575.8L191.7 575.3L191.7 574.8L191.8 574.3L191.9 573.8L192.0 573.4L192.1 573.0L192.1 572.5L192.2 572.1L192.3 571.7L192.4 571.3L192.5 570.9L192.5 570.5L192.6 570.1L192.7 570.3L192.8 569.9L192.9 569.5L192.9 569.1L193.0 568.7L193.1 568.3L193.2 567.9L193.3 567.5L193.3 567.1L193.4 566.7L193.5 566.3L193.6 565.9L193.7 565.5L193.8 565.1L193.8 564.6L193.9 564.2L194.0 563.8L194.1 563.3L194.2 562.9L194.2 562.5L194.3 562.1L194.4 561.8L194.5 561.5L194.6 561.2L194.6 560.9L194.7 560.7L194.8 560.4L194.9 560.2L195.0 560.0L195.0 559.8L195.1 559.7L195.2 559.5L195.3 559.4L195.4 559.3L195.4 559.2L195.5 559.0L195.6 558.8L195.7 558.7L195.8 558.5L195.8 558.4L195.9 558.3L196.0 558.2L196.1 558.1L196.2 558.0L196.2 557.9L196.3 557.9L196.4 557.8L196.5 557.7L196.6 557.6L196.6 557.6L196.7 557.5L196.8 557.4L196.9 557.4L197.0 557.3L197.1 557.3L197.1 557.2L197.2 557.1L197.3 557.1L197.4 557.0L197.5 557.0L197.5 556.9L197.6 556.9L197.7 556.8L197.8 556.8L198.1 556.6L198.5 556.4L198.8 556.3L199.2 556.2L199.5 556.0L199.9 555.9L200.2 555.8L200.6 555.8L200.9 555.7L201.3 555.6L201.6 555.6L202.0 555.6L202.4 555.5L202.7 555.5L203.1 555.5L203.4 555.5L203.8 555.5L204.1 555.5L204.5 555.5L204.8 555.5L205.2 555.5L205.5 555.5L205.9 555.5L206.2 555.5L206.6 555.6L206.9 555.6L207.3 555.6L207.6 555.7L208.0 555.7L208.3 555.8L208.7 555.9L209.0 555.9L209.4 556.0L209.8 556.1L210.1 556.2L210.5 556.3L210.8 556.4L211.2 556.5L211.5 556.6L211.9 556.8L212.2 556.9L212.6 557.0L212.9 557.2L213.3 557.3L213.6 557.5L214.0 557.7L214.3 557.9L214.7 558.1L215.0 558.3L215.4 558.5L215.7 558.6L216.1 558.8L216.4 559.0L216.8 559.2L217.1 559.4L217.5 559.5L217.9 559.7L218.2 559.9L218.6 560.1L218.9 560.2L219.3 560.4L219.6 560.6L220.0 560.8L220.3 560.9L220.7 561.1L221.0 561.3L221.4 561.5L221.7 561.6L222.1 561.8L222.4 562.0L222.8 562.1L223.1 562.3L223.5 562.5L223.8 562.6L224.2 562.8L224.5 563.0L224.9 563.1L225.3 563.3L225.6 563.5L226.0 563.6L226.3 563.8L226.7 563.9L227.0 564.1L227.4 564.3L227.7 564.4L228.1 564.6L228.4 564.7L228.8 564.9L229.1 565.0L229.5 565.2L229.8 565.3L230.2 565.5L230.5 565.6L230.9 565.8L231.2 565.9L231.6 566.1L231.9 566.2L232.3 566.4L232.6 566.5L233.0 566.7L233.4 566.8L233.7 567.0L234.1 567.1L234.4 567.3L234.8 567.4L235.1 567.6L235.5 567.7L235.8 567.9L236.2 568.0L236.5 568.2L236.9 568.3L237.2 568.5L237.6 568.6L237.9 568.8L238.3 569.0L238.6 569.1L239.0 569.3L239.3 569.4L239.7 569.6L240.0 569.8L240.4 569.9L240.8 570.1L241.1 570.3L241.5 570.4L241.8 570.6L242.2 570.8L242.5 570.9L242.9 571.1L243.2 571.2L243.6 571.4L243.9 571.6L244.3 571.7L244.6 571.9L245.0 572.0L245.3 572.2L245.7 572.3L246.0 572.4L246.4 572.6L246.7 572.7L247.1 572.9L247.4 573.0L247.8 573.1L248.1 573.3L248.5 573.4L248.9 573.6L249.2 573.7L249.6 573.8L249.9 574.0L250.3 574.1L250.6 574.2L251.0 574.4L251.3 574.5L251.7 574.7L252.0 574.8L252.4 574.9L252.7 575.1L253.1 575.2L253.4 575.3L253.8 575.4L254.1 575.6L254.5 575.7L254.8 575.8L255.2 576.0L255.5 576.1L255.9 576.2L256.2 576.4L256.6 576.5L257.0 576.6L257.3 576.7L257.7 576.9L258.0 577.0L258.4 577.1L258.7 577.2L259.1 577.4L259.4 577.5L259.8 577.6L260.1 577.8L260.5 577.9L260.8 578.0L261.2 578.1L261.5 578.3L261.9 578.4L262.2 578.5L262.6 578.6L262.9 578.8L263.3 578.9L263.6 579.0L264.0 579.1L264.4 579.3L264.7 579.4L265.1 579.5L265.4 579.7L265.8 579.8L266.1 579.9L266.5 580.0L266.8 580.2L267.2 580.3L267.5 580.4L267.9 580.5L268.2 580.7L268.6 580.8L268.9 580.9L269.3 581.0L269.6 581.2L270.0 581.3L270.3 581.4L270.7 581.5L271.0 581.6L271.4 581.8L271.7 581.9L272.1 582.0L272.5 582.1L272.8 582.3L273.2 582.4L273.5 582.5L273.9 582.6L274.2 582.7L274.6 582.9L274.9 583.0L275.3 583.1L275.6 583.2L276.0 583.3L276.3 583.5L276.7 583.6L277.0 583.7L277.4 583.8L277.7 583.9L278.1 584.1L278.4 584.2L278.8 584.3L279.1 584.4L279.5 584.5L279.9 584.6L280.2 584.8L280.6 584.9L280.9 585.0L281.3 585.1L281.6 585.2L282.0 585.3L282.3 585.4L282.7 585.6L283.0 585.7L283.4 585.8L283.7 585.9L284.1 586.0L284.4 586.1L284.8 586.2L285.1 586.3L285.5 586.5L285.8 586.6L286.2 586.7L286.5 586.8L286.9 586.9L287.2 587.0L287.6 587.1L288.0 587.2L288.3 587.3L288.7 587.5L289.0 587.6L289.4 587.7L289.7 587.8L290.1 587.9L290.4 588.0L290.8 588.1L291.1 588.2L291.5 588.3L291.8 588.4L292.2 588.5L292.5 588.6L292.9 588.7L293.2 588.8L293.6 588.9L293.9 589.0L294.3 589.2L294.6 589.3L295.0 589.4L295.4 589.5L295.7 589.6L296.1 589.7L296.4 589.8L296.8 589.9L297.1 590.0L297.5 590.1L297.8 590.2L298.2 590.3L298.5 590.4L298.9 590.5L299.2 590.6L299.6 590.7L299.9 590.8L300.3 590.9L300.6 591.0L301.0 591.1L301.3 591.2L301.7 591.3L302.0 591.4L302.4 591.5L302.7 591.5L303.1 591.6" fill="none" stroke="#a8d48a" stroke-width="1.3"/>
<path d="M188.7 612.1L188.8 608.9L188.8 606.1L188.9 603.6L189.0 601.4L189.1 599.5L189.2 597.8L189.2 596.2L189.3 594.8L189.4 593.6L189.5 592.5L189.6 591.5L189.6 590.6L189.7 589.8L189.8 589.0L189.9 588.2L190.0 587.4L190.1 586.7L190.1 585.9L190.2 585.1L190.3 584.4L190.4 583.6L190.5 582.7L190.5 581.9L190.6 581.1L190.7 580.3L190.8 579.5L190.9 578.7L190.9 578.0L191.0 577.3L191.1 576.6L191.2 575.9L191.3 575.3L191.3 574.7L191.4 574.1L191.5 573.6L191.6 573.1L191.7 572.6L191.7 572.2L191.8 571.7L191.9 571.3L192.0 570.9L192.1 570.5L192.1 570.0L192.2 569.6L192.3 569.3L192.4 568.9L192.5 568.5L192.5 568.1L192.6 567.7L192.7 567.9L192.8 567.6L192.9 567.2L192.9 566.8L193.0 566.4L193.1 566.0L193.2 565.6L193.3 565.2L193.3 564.8L193.4 564.4L193.5 564.0L193.6 563.6L193.7 563.2L193.8 562.8L193.8 562.4L193.9 561.9L194.0 561.5L194.1 561.0L194.2 560.6L194.2 560.3L194.3 559.9L194.4 559.6L194.5 559.3L194.6 559.1L194.6 558.9L194.7 558.7L194.8 558.5L194.9 558.3L195.0 558.1L195.0 558.0L195.1 557.8L195.2 557.7L195.3 557.6L195.4 557.5L195.4 557.3L195.5 557.2L195.6 557.1L195.7 557.0L195.8 556.9L195.8 556.8L195.9 556.8L196.0 556.7L196.1 556.6L196.2 556.5L196.2 556.4L196.3 556.4L196.4 556.3L196.5 556.2L196.6 556.2L196.6 556.1L196.7 556.0L196.8 556.0L196.9 555.9L197.0 555.8L197.1 555.8L197.1 555.7L197.2 555.7L197.3 555.6L197.4 555.6L197.5 555.5L197.5 555.5L197.6 555.4L197.7 555.4L197.8 555.3L198.1 555.1L198.5 555.0L198.8 554.8L199.2 554.6L199.5 554.5L199.9 554.4L200.2 554.3L200.6 554.2L200.9 554.1L201.3 554.0L201.6 554.0L202.0 554.0L202.4 553.9L202.7 553.9L203.1 553.9L203.4 553.9L203.8 553.9L204.1 554.0L204.5 554.0L204.8 554.0L205.2 554.0L205.5 554.1L205.9 554.1L206.2 554.2L206.6 554.2L206.9 554.3L207.3 554.3L207.6 554.4L208.0 554.5L208.3 554.5L208.7 554.6L209.0 554.7L209.4 554.8L209.8 554.9L210.1 555.0L210.5 555.1L210.8 555.2L211.2 555.4L211.5 555.5L211.9 555.6L212.2 555.8L212.6 555.9L212.9 556.1L213.3 556.2L213.6 556.3L214.0 556.5L214.3 556.7L214.7 556.8L215.0 557.0L215.4 557.1L215.7 557.3L216.1 557.4L216.4 557.6L216.8 557.7L217.1 557.9L217.5 558.0L217.9 558.1L218.2 558.3L218.6 558.4L218.9 558.6L219.3 558.7L219.6 558.9L220.0 559.0L220.3 559.2L220.7 559.3L221.0 559.5L221.4 559.6L221.7 559.8L222.1 559.9L222.4 560.0L222.8 560.2L223.1 560.3L223.5 560.5L223.8 560.6L224.2 560.8L224.5 560.9L224.9 561.0L225.3 561.2L225.6 561.3L226.0 561.5L226.3 561.6L226.7 561.7L227.0 561.9L227.4 562.0L227.7 562.2L228.1 562.3L228.4 562.4L228.8 562.6L229.1 562.7L229.5 562.8L229.8 563.0L230.2 563.1L230.5 563.3L230.9 563.4L231.2 563.5L231.6 563.7L231.9 563.8L232.3 563.9L232.6 564.1L233.0 564.2L233.4 564.3L233.7 564.5L234.1 564.6L234.4 564.7L234.8 564.9L235.1 565.0L235.5 565.1L235.8 565.3L236.2 565.4L236.5 565.5L236.9 565.6L237.2 565.8L237.6 565.9L237.9 566.0L238.3 566.2L238.6 566.3L239.0 566.4L239.3 566.6L239.7 566.7L240.0 566.8L240.4 566.9L240.8 567.1L241.1 567.2L241.5 567.3L241.8 567.5L242.2 567.6L242.5 567.7L242.9 567.8L243.2 568.0L243.6 568.1L243.9 568.2L244.3 568.4L244.6 568.5L245.0 568.6L245.3 568.7L245.7 568.9L246.0 569.0L246.4 569.1L246.7 569.3L247.1 569.4L247.4 569.5L247.8 569.6L248.1 569.8L248.5 569.9L248.9 570.0L249.2 570.1L249.6 570.3L249.9 570.4L250.3 570.5L250.6 570.6L251.0 570.8L251.3 570.9L251.7 571.0L252.0 571.1L252.4 571.3L252.7 571.4L253.1 571.5L253.4 571.6L253.8 571.8L254.1 571.9L254.5 572.0L254.8 572.1L255.2 572.3L255.5 572.4L255.9 572.5L256.2 572.6L256.6 572.7L257.0 572.9L257.3 573.0L257.7 573.1L258.0 573.2L258.4 573.3L258.7 573.4L259.1 573.6L259.4 573.7L259.8 573.8L260.1 573.9L260.5 574.0L260.8 574.1L261.2 574.3L261.5 574.4L261.9 574.5L262.2 574.6L262.6 574.7L262.9 574.8L263.3 574.9L263.6 575.1L264.0 575.2L264.4 575.3L264.7 575.4L265.1 575.5L265.4 575.6L265.8 575.7L266.1 575.9L266.5 576.0L266.8 576.1L267.2 576.2L267.5 576.3L267.9 576.4L268.2 576.5L268.6 576.6L268.9 576.7L269.3 576.9L269.6 577.0L270.0 577.1L270.3 577.2L270.7 577.3L271.0 577.4L271.4 577.5L271.7 577.6L272.1 577.7L272.5 577.8L272.8 577.9L273.2 578.0L273.5 578.1L273.9 578.2L274.2 578.4L274.6 578.5L274.9 578.6L275.3 578.7L275.6 578.8L276.0 578.9L276.3 579.0L276.7 579.1L277.0 579.2L277.4 579.3L277.7 579.4L278.1 579.5L278.4 579.6L278.8 579.7L279.1 579.8L279.5 579.9L279.9 580.0L280.2 580.1L280.6 580.2L280.9 580.3L281.3 580.4L281.6 580.5L282.0 580.6L282.3 580.7L282.7 580.8L283.0 580.9L283.4 581.0L283.7 581.1L284.1 581.2L284.4 581.3L284.8 581.4L285.1 581.4L285.5 581.5L285.8 581.6L286.2 581.7L286.5 581.8L286.9 581.9L287.2 582.0L287.6 582.1L288.0 582.2L288.3 582.3L288.7 582.4L289.0 582.5L289.4 582.6L289.7 582.6L290.1 582.7L290.4 582.8L290.8 582.9L291.1 583.0L291.5 583.1L291.8 583.2L292.2 583.3L292.5 583.4L292.9 583.4L293.2 583.5L293.6 583.6L293.9 583.7L294.3 583.8L294.6 583.9L295.0 584.0L295.4 584.0L295.7 584.1L296.1 584.2L296.4 584.3L296.8 584.4L297.1 584.5L297.5 584.5L297.8 584.6L298.2 584.7L298.5 584.8L298.9 584.9L299.2 584.9L299.6 585.0L299.9 585.1L300.3 585.2L300.6 585.3L301.0 585.3L301.3 585.4L301.7 585.5L302.0 585.6L302.4 585.6L302.7 585.7L303.1 585.8" fill="none" stroke="#325a24" stroke-width="2.3"/>
<path d="M406.7 898.1L406.8 896.8L407.0 895.5L407.1 894.1L407.2 892.7L407.3 891.2L407.5 889.7L407.6 888.2L407.7 886.6L407.8 885.0L408.0 883.4L408.1 881.7L408.2 880.0L408.3 878.3L408.5 876.5L408.6 874.7L408.7 872.9L408.8 871.0L409.0 869.1L409.1 867.2L409.2 865.3L409.3 863.3L409.5 861.3L409.6 859.3L409.7 857.3L409.9 855.2L410.0 853.1L410.1 851.0L410.2 848.9L410.4 846.7L410.5 844.4L410.6 842.0L410.7 839.6L410.9 837.2L411.0 834.6L411.1 832.1L411.2 829.5L411.4 826.8L411.5 824.1L411.6 821.4L411.7 818.7L411.9 816.0L412.0 813.2L412.1 810.5L412.2 807.8L412.4 805.0L412.5 802.3L412.6 804.1L412.8 801.7L412.9 799.2L413.0 796.7L413.1 794.2L413.3 791.7L413.4 789.1L413.5 786.5L413.6 783.8L413.8 781.1L413.9 778.3L414.0 775.5L414.1 772.6L414.3 769.7L414.4 766.7L414.5 763.7L414.6 760.6L414.8 757.4L414.9 754.1L415.0 750.7L415.1 747.3L415.3 743.7L415.4 740.0L415.5 736.2L415.6 732.2L415.8 728.1L415.9 723.8L416.0 719.3L416.2 714.5L416.3 709.4L416.4 705.3L416.5 702.6L416.7 700.7L416.8 699.3L416.9 698.1L417.0 697.1L417.2 696.1L417.3 695.3L417.4 694.6L417.5 693.9L417.7 693.3L417.8 692.8L417.9 692.2L418.0 691.7L418.2 691.2L418.3 690.8L418.4 690.4L418.5 690.0L418.7 689.6L418.8 689.2L418.9 688.8L419.1 688.5L419.2 688.2L419.3 687.9L419.4 687.6L419.6 687.3L419.7 687.0L419.8 686.7L419.9 686.4L420.1 686.2L420.2 685.9L420.3 685.7L420.4 685.5L420.6 685.2L420.7 685.0L420.8 684.8L420.9 684.6L421.1 684.4L421.2 684.2L421.3 684.0L421.4 683.8L421.6 683.6L421.7 683.4L422.6 682.4L423.4 681.6L424.3 681.0L425.1 680.8L426.0 680.8L426.8 681.1L427.7 681.7L428.5 682.4L429.4 683.3L430.2 684.4L431.1 685.6L431.9 686.9L432.8 688.4L433.6 690.0L434.5 691.8L435.3 693.8L436.2 696.0L437.1 698.4L437.9 700.9L438.8 703.7L439.6 706.5L440.5 709.3L441.3 712.1L442.2 714.8L443.0 717.4L443.9 719.9L444.7 722.3L445.6 724.7L446.4 726.9L447.3 729.1L448.1 731.3L449.0 733.3L449.8 735.3L450.7 737.3L451.5 739.2L452.4 741.1L453.3 742.9L454.1 744.7L455.0 746.4L455.8 748.1L456.7 749.7L457.5 751.3L458.4 752.9L459.2 754.5L460.1 756.0L460.9 757.5L461.8 759.0L462.6 760.4L463.5 761.9L464.3 763.3L465.2 764.7L466.0 766.0L466.9 767.4L467.8 768.7L468.6 770.0L469.5 771.3L470.3 772.5L471.2 773.8L472.0 775.0L472.9 776.2L473.7 777.4L474.6 778.5L475.4 779.6L476.3 780.7L477.1 781.8L478.0 782.9L478.8 783.9L479.7 784.9L480.5 785.9L481.4 786.8L482.3 787.7L483.1 788.6L484.0 789.5L484.8 790.3L485.7 791.2L486.5 792.0L487.4 792.7L488.2 793.4L489.1 794.1L489.9 794.8L490.8 795.4L491.6 796.0L492.5 796.5L493.3 797.0L494.2 797.5L495.0 798.0L495.9 798.5L496.8 798.9L497.6 799.3L498.5 799.7L499.3 800.1L500.2 800.5L501.0 800.9L501.9 801.3L502.7 801.7L503.6 802.0L504.4 802.4L505.3 802.8L506.1 803.1L507.0 803.5L507.8 803.9L508.7 804.3L509.5 804.7L510.4 805.1L511.2 805.5L512.1 805.9L513.0 806.3L513.8 806.7L514.7 807.1L515.5 807.5L516.4 808.0L517.2 808.4L518.1 808.8L518.9 809.3L519.8 809.7L520.6 810.1L521.5 810.5L522.3 811.0L523.2 811.4L524.0 811.8L524.9 812.2L525.7 812.6L526.6 813.0L527.5 813.4L528.3 813.8L529.2 814.2L530.0 814.6L530.9 815.0L531.7 815.4L532.6 815.8L533.4 816.1L534.3 816.5L535.1 816.9L536.0 817.3L536.8 817.6L537.7 818.0L538.5 818.4L539.4 818.7L540.2 819.1L541.1 819.4L542.0 819.8L542.8 820.2L543.7 820.5L544.5 820.9L545.4 821.2L546.2 821.6L547.1 821.9L547.9 822.2L548.8 822.6L549.6 822.9L550.5 823.3L551.3 823.6L552.2 823.9L553.0 824.3L553.9 824.6L554.7 824.9L555.6 825.3L556.4 825.6L557.3 825.9L558.2 826.2L559.0 826.5L559.9 826.9L560.7 827.2L561.6 827.5L562.4 827.8L563.3 828.1L564.1 828.4L565.0 828.7L565.8 829.0L566.7 829.3L567.5 829.7L568.4 830.0L569.2 830.3L570.1 830.6L570.9 830.9L571.8 831.2L572.7 831.4L573.5 831.7L574.4 832.0L575.2 832.3L576.1 832.6L576.9 832.9L577.8 833.2L578.6 833.5L579.5 833.8L580.3 834.0L581.2 834.3L582.0 834.6L582.9 834.9L583.7 835.2L584.6 835.4L585.4 835.7L586.3 836.0L587.2 836.3L588.0 836.5L588.9 836.8L589.7 837.1L590.6 837.3L591.4 837.6L592.3 837.9L593.1 838.1L594.0 838.4L594.8 838.7L595.7 838.9L596.5 839.2L597.4 839.4L598.2 839.7L599.1 840.0L599.9 840.2L600.8 840.5L601.6 840.7L602.5 841.0L603.4 841.2L604.2 841.5L605.1 841.7L605.9 842.0L606.8 842.2L607.6 842.5L608.5 842.7L609.3 842.9L610.2 843.2L611.0 843.4L611.9 843.7L612.7 843.9L613.6 844.1L614.4 844.4L615.3 844.6L616.1 844.8L617.0 845.1L617.9 845.3L618.7 845.5L619.6 845.8L620.4 846.0L621.3 846.2L622.1 846.5L623.0 846.7L623.8 846.9L624.7 847.1L625.5 847.4L626.4 847.6L627.2 847.8L628.1 848.0L628.9 848.2L629.8 848.5L630.6 848.7L631.5 848.9L632.4 849.1L633.2 849.3L634.1 849.5L634.9 849.7L635.8 850.0L636.6 850.2L637.5 850.4L638.3 850.6L639.2 850.8L640.0 851.0L640.9 851.2L641.7 851.4L642.6 851.6L643.4 851.8L644.3 852.0L645.1 852.2L646.0 852.4L646.9 852.6L647.7 852.8L648.6 853.0L649.4 853.2L650.3 853.4L651.1 853.6L652.0 853.8L652.8 854.0L653.7 854.2L654.5 854.4L655.4 854.6L656.2 854.8L657.1 855.0L657.9 855.1L658.8 855.3L659.6 855.5L660.5 855.7L661.3 855.9L662.2 856.1L663.1 856.3L663.9 856.4L664.8 856.6L665.6 856.8L666.5 857.0L667.3 857.2L668.2 857.3L669.0 857.5L669.9 857.7L670.7 857.9L671.6 858.1L672.4 858.2L673.3 858.4L674.1 858.6L675.0 858.8L675.8 858.9L676.7 859.1L676.7 892.9L675.8 892.8L675.0 892.8L674.1 892.7L673.3 892.7L672.4 892.6L671.6 892.6L670.7 892.5L669.9 892.5L669.0 892.4L668.2 892.4L667.3 892.3L666.5 892.3L665.6 892.2L664.8 892.1L663.9 892.1L663.1 892.0L662.2 892.0L661.3 891.9L660.5 891.9L659.6 891.8L658.8 891.7L657.9 891.7L657.1 891.6L656.2 891.6L655.4 891.5L654.5 891.4L653.7 891.4L652.8 891.3L652.0 891.2L651.1 891.2L650.3 891.1L649.4 891.0L648.6 891.0L647.7 890.9L646.9 890.8L646.0 890.8L645.1 890.7L644.3 890.6L643.4 890.6L642.6 890.5L641.7 890.4L640.9 890.3L640.0 890.3L639.2 890.2L638.3 890.1L637.5 890.1L636.6 890.0L635.8 889.9L634.9 889.8L634.1 889.7L633.2 889.7L632.4 889.6L631.5 889.5L630.6 889.4L629.8 889.3L628.9 889.3L628.1 889.2L627.2 889.1L626.4 889.0L625.5 888.9L624.7 888.8L623.8 888.7L623.0 888.7L622.1 888.6L621.3 888.5L620.4 888.4L619.6 888.3L618.7 888.2L617.9 888.1L617.0 888.0L616.1 887.9L615.3 887.8L614.4 887.7L613.6 887.6L612.7 887.5L611.9 887.4L611.0 887.3L610.2 887.2L609.3 887.1L608.5 887.0L607.6 886.9L606.8 886.8L605.9 886.7L605.1 886.6L604.2 886.5L603.4 886.4L602.5 886.3L601.6 886.1L600.8 886.0L599.9 885.9L599.1 885.8L598.2 885.7L597.4 885.6L596.5 885.5L595.7 885.3L594.8 885.2L594.0 885.1L593.1 885.0L592.3 884.8L591.4 884.7L590.6 884.6L589.7 884.5L588.9 884.3L588.0 884.2L587.2 884.1L586.3 883.9L585.4 883.8L584.6 883.7L583.7 883.5L582.9 883.4L582.0 883.3L581.2 883.1L580.3 883.0L579.5 882.8L578.6 882.7L577.8 882.5L576.9 882.4L576.1 882.2L575.2 882.1L574.4 881.9L573.5 881.8L572.7 881.6L571.8 881.5L570.9 881.3L570.1 881.2L569.2 881.0L568.4 880.8L567.5 880.7L566.7 880.5L565.8 880.3L565.0 880.2L564.1 880.0L563.3 879.8L562.4 879.7L561.6 879.5L560.7 879.3L559.9 879.1L559.0 878.9L558.2 878.8L557.3 878.6L556.4 878.4L555.6 878.2L554.7 878.0L553.9 877.8L553.0 877.6L552.2 877.4L551.3 877.2L550.5 877.0L549.6 876.8L548.8 876.6L547.9 876.4L547.1 876.2L546.2 876.0L545.4 875.8L544.5 875.6L543.7 875.4L542.8 875.2L542.0 874.9L541.1 874.7L540.2 874.5L539.4 874.3L538.5 874.0L537.7 873.8L536.8 873.6L536.0 873.3L535.1 873.1L534.3 872.9L533.4 872.6L532.6 872.4L531.7 872.1L530.9 871.9L530.0 871.6L529.2 871.4L528.3 871.1L527.5 870.8L526.6 870.6L525.7 870.3L524.9 870.0L524.0 869.7L523.2 869.4L522.3 869.2L521.5 868.9L520.6 868.6L519.8 868.3L518.9 867.9L518.1 867.6L517.2 867.3L516.4 867.0L515.5 866.7L514.7 866.4L513.8 866.0L513.0 865.7L512.1 865.4L511.2 865.1L510.4 864.7L509.5 864.4L508.7 864.1L507.8 863.7L507.0 863.4L506.1 863.0L505.3 862.7L504.4 862.3L503.6 862.0L502.7 861.6L501.9 861.3L501.0 860.9L500.2 860.6L499.3 860.2L498.5 859.8L497.6 859.5L496.8 859.1L495.9 858.7L495.0 858.3L494.2 857.9L493.3 857.5L492.5 857.1L491.6 856.7L490.8 856.3L489.9 855.8L489.1 855.4L488.2 854.9L487.4 854.5L486.5 854.0L485.7 853.5L484.8 853.1L484.0 852.6L483.1 852.1L482.3 851.6L481.4 851.0L480.5 850.5L479.7 850.0L478.8 849.4L478.0 848.8L477.1 848.2L476.3 847.7L475.4 847.0L474.6 846.4L473.7 845.8L472.9 845.1L472.0 844.5L471.2 843.8L470.3 843.1L469.5 842.3L468.6 841.6L467.8 840.8L466.9 840.0L466.0 839.2L465.2 838.4L464.3 837.5L463.5 836.6L462.6 835.7L461.8 834.7L460.9 833.8L460.1 832.7L459.2 831.7L458.4 830.6L457.5 829.4L456.7 828.2L455.8 827.0L455.0 825.7L454.1 824.3L453.3 822.8L452.4 821.3L451.5 819.7L450.7 818.0L449.8 816.2L449.0 814.4L448.1 812.6L447.3 810.8L446.4 809.1L445.6 807.5L444.7 805.9L443.9 804.4L443.0 803.1L442.2 801.8L441.3 800.6L440.5 799.5L439.6 798.5L438.8 797.6L437.9 796.7L437.1 795.9L436.2 795.2L435.3 794.6L434.5 794.0L433.6 793.5L432.8 793.2L431.9 792.9L431.1 792.7L430.2 792.6L429.4 792.7L428.5 792.8L427.7 793.1L426.8 793.5L426.0 794.1L425.1 794.9L424.3 795.9L423.4 797.1L422.6 798.7L421.7 800.6L421.6 801.0L421.4 801.3L421.3 801.6L421.2 802.0L421.1 802.4L420.9 802.7L420.8 803.1L420.7 803.5L420.6 804.0L420.4 804.4L420.3 804.8L420.2 805.3L420.1 805.7L419.9 806.2L419.8 806.7L419.7 807.2L419.6 807.8L419.4 808.3L419.3 808.9L419.2 809.5L419.1 810.0L418.9 810.7L418.8 811.3L418.7 811.9L418.5 812.6L418.4 813.2L418.3 813.9L418.2 814.6L418.0 815.3L417.9 816.0L417.8 816.7L417.7 818.1L417.5 818.7L417.4 819.2L417.3 819.8L417.2 820.4L417.0 821.0L416.9 821.7L416.8 822.3L416.7 823.0L416.5 823.7L416.4 824.4L416.3 825.1L416.2 825.8L416.0 826.5L415.9 827.3L415.8 828.1L415.6 828.9L415.5 829.7L415.4 830.5L415.3 831.3L415.1 832.1L415.0 833.0L414.9 833.8L414.8 834.7L414.6 835.6L414.5 836.5L414.4 837.4L414.3 838.3L414.1 839.2L414.0 840.1L413.9 841.1L413.8 842.0L413.6 843.0L413.5 844.0L413.4 844.9L413.3 845.9L413.1 846.9L413.0 847.9L412.9 848.9L412.8 849.9L412.6 850.9L412.5 851.9L412.4 853.1L412.2 854.2L412.1 855.5L412.0 856.8L411.9 858.1L411.7 859.5L411.6 860.9L411.5 862.3L411.4 863.8L411.2 865.3L411.1 866.8L411.0 868.3L410.9 869.8L410.7 871.3L410.6 872.8L410.5 874.2L410.4 875.7L410.2 877.1L410.1 878.4L410.0 879.8L409.9 881.1L409.7 882.3L409.6 883.5L409.5 884.6L409.3 885.6L409.2 886.5L409.1 887.4L409.0 888.2L408.8 888.9L408.7 889.7L408.6 890.4L408.5 891.1L408.3 891.7L408.2 892.4L408.1 893.0L408.0 893.6L407.8 894.2L407.7 894.8L407.6 895.3L407.5 895.8L407.3 896.3L407.2 896.7L407.1 897.1L407.0 897.5L406.8 897.8L406.7 898.1 Z" fill="#cde9fb" stroke="none"/>
<path d="M406.7 898.1L406.8 897.5L407.0 896.9L407.1 896.2L407.2 895.4L407.3 894.6L407.5 893.7L407.6 892.8L407.7 891.7L407.8 890.6L408.0 889.4L408.1 888.0L408.2 886.6L408.3 885.1L408.5 883.6L408.6 882.0L408.7 880.3L408.8 878.7L409.0 876.9L409.1 875.2L409.2 873.4L409.3 871.7L409.5 869.9L409.6 868.2L409.7 866.4L409.9 864.7L410.0 863.0L410.1 861.3L410.2 859.7L410.4 858.0L410.5 856.3L410.6 854.6L410.7 852.8L410.9 851.0L411.0 849.2L411.1 847.3L411.2 845.5L411.4 843.6L411.5 841.7L411.6 839.9L411.7 838.0L411.9 836.1L412.0 834.2L412.1 832.3L412.2 830.4L412.4 828.5L412.5 826.6L412.6 825.5L412.8 823.7L412.9 821.9L413.0 820.1L413.1 818.3L413.3 816.4L413.4 814.6L413.5 812.9L413.6 811.1L413.8 809.3L413.9 807.5L414.0 805.8L414.1 804.0L414.3 802.3L414.4 800.5L414.5 798.8L414.6 797.1L414.8 795.5L414.9 793.8L415.0 792.1L415.1 790.5L415.3 782.4L415.4 780.7L415.5 779.1L415.6 777.4L415.8 775.8L415.9 774.1L416.0 772.5L416.2 770.8L416.3 769.2L416.4 767.7L416.5 766.5L416.7 765.5L416.8 764.6L416.9 763.7L417.0 763.0L417.2 762.2L417.3 761.5L417.4 760.8L417.5 760.1L417.7 759.5L417.8 758.9L417.9 758.3L418.0 757.7L418.2 757.1L418.3 756.5L418.4 756.0L418.5 755.5L418.7 754.9L418.8 754.4L418.9 753.9L419.1 753.5L419.2 753.0L419.3 752.5L419.4 752.1L419.6 751.6L419.7 751.2L419.8 750.7L419.9 750.3L420.1 749.9L420.2 749.5L420.3 749.0L420.4 748.6L420.6 748.2L420.7 747.9L420.8 747.5L420.9 747.1L421.1 746.7L421.2 746.3L421.3 746.0L421.4 745.6L421.6 745.3L421.7 744.9L422.6 742.7L423.4 740.8L424.3 739.2L425.1 737.8L426.0 736.9L426.8 736.2L427.7 735.9L428.5 735.9L429.4 736.3L430.2 736.8L431.1 737.7L431.9 738.6L432.8 739.8L433.6 741.1L434.5 742.5L435.3 744.1L436.2 745.7L437.1 747.4L437.9 749.2L438.8 751.0L439.6 752.9L440.5 754.8L441.3 756.6L442.2 758.5L443.0 760.3L443.9 762.1L444.7 763.9L445.6 765.7L446.4 767.4L447.3 769.2L448.1 770.9L449.0 772.6L449.8 774.3L450.7 775.9L451.5 777.6L452.4 779.2L453.3 780.8L454.1 782.3L455.0 783.9L455.8 785.4L456.7 786.8L457.5 788.3L458.4 789.7L459.2 791.1L460.1 792.5L460.9 793.9L461.8 795.2L462.6 796.5L463.5 797.8L464.3 799.0L465.2 800.3L466.0 801.5L466.9 802.7L467.8 803.9L468.6 805.0L469.5 806.1L470.3 807.2L471.2 808.3L472.0 809.4L472.9 810.4L473.7 811.5L474.6 812.5L475.4 813.5L476.3 814.4L477.1 815.4L478.0 816.3L478.8 817.2L479.7 818.1L480.5 818.9L481.4 819.8L482.3 820.6L483.1 821.4L484.0 822.2L484.8 822.9L485.7 823.7L486.5 824.4L487.4 825.1L488.2 825.8L489.1 826.5L489.9 827.1L490.8 827.7L491.6 828.3L492.5 828.9L493.3 829.5L494.2 830.0L495.0 830.6L495.9 831.1L496.8 831.6L497.6 832.0L498.5 832.5L499.3 833.0L500.2 833.4L501.0 833.9L501.9 834.3L502.7 834.7L503.6 835.2L504.4 835.6L505.3 836.0L506.1 836.4L507.0 836.8L507.8 837.3L508.7 837.7L509.5 838.1L510.4 838.5L511.2 838.9L512.1 839.3L513.0 839.7L513.8 840.0L514.7 840.4L515.5 840.8L516.4 841.2L517.2 841.6L518.1 842.0L518.9 842.4L519.8 842.7L520.6 843.1L521.5 843.5L522.3 843.9L523.2 844.2L524.0 844.6L524.9 844.9L525.7 845.3L526.6 845.6L527.5 845.9L528.3 846.3L529.2 846.6L530.0 846.9L530.9 847.2L531.7 847.6L532.6 847.9L533.4 848.2L534.3 848.5L535.1 848.8L536.0 849.1L536.8 849.4L537.7 849.7L538.5 850.0L539.4 850.2L540.2 850.5L541.1 850.8L542.0 851.1L542.8 851.4L543.7 851.6L544.5 851.9L545.4 852.2L546.2 852.4L547.1 852.7L547.9 852.9L548.8 853.2L549.6 853.4L550.5 853.7L551.3 853.9L552.2 854.2L553.0 854.4L553.9 854.7L554.7 854.9L555.6 855.1L556.4 855.4L557.3 855.6L558.2 855.8L559.0 856.1L559.9 856.3L560.7 856.5L561.6 856.7L562.4 857.0L563.3 857.2L564.1 857.4L565.0 857.6L565.8 857.8L566.7 858.0L567.5 858.2L568.4 858.5L569.2 858.7L570.1 858.9L570.9 859.1L571.8 859.3L572.7 859.5L573.5 859.7L574.4 859.9L575.2 860.1L576.1 860.3L576.9 860.4L577.8 860.6L578.6 860.8L579.5 861.0L580.3 861.2L581.2 861.4L582.0 861.6L582.9 861.8L583.7 861.9L584.6 862.1L585.4 862.3L586.3 862.5L587.2 862.6L588.0 862.8L588.9 863.0L589.7 863.2L590.6 863.3L591.4 863.5L592.3 863.7L593.1 863.9L594.0 864.0L594.8 864.2L595.7 864.3L596.5 864.5L597.4 864.7L598.2 864.8L599.1 865.0L599.9 865.2L600.8 865.3L601.6 865.5L602.5 865.6L603.4 865.8L604.2 865.9L605.1 866.1L605.9 866.2L606.8 866.4L607.6 866.6L608.5 866.7L609.3 866.8L610.2 867.0L611.0 867.1L611.9 867.3L612.7 867.4L613.6 867.6L614.4 867.7L615.3 867.9L616.1 868.0L617.0 868.2L617.9 868.3L618.7 868.4L619.6 868.6L620.4 868.7L621.3 868.8L622.1 869.0L623.0 869.1L623.8 869.3L624.7 869.4L625.5 869.5L626.4 869.7L627.2 869.8L628.1 869.9L628.9 870.1L629.8 870.2L630.6 870.3L631.5 870.4L632.4 870.6L633.2 870.7L634.1 870.8L634.9 870.9L635.8 871.1L636.6 871.2L637.5 871.3L638.3 871.4L639.2 871.6L640.0 871.7L640.9 871.8L641.7 871.9L642.6 872.1L643.4 872.2L644.3 872.3L645.1 872.4L646.0 872.5L646.9 872.6L647.7 872.8L648.6 872.9L649.4 873.0L650.3 873.1L651.1 873.2L652.0 873.3L652.8 873.4L653.7 873.6L654.5 873.7L655.4 873.8L656.2 873.9L657.1 874.0L657.9 874.1L658.8 874.2L659.6 874.3L660.5 874.4L661.3 874.5L662.2 874.7L663.1 874.8L663.9 874.9L664.8 875.0L665.6 875.1L666.5 875.2L667.3 875.3L668.2 875.4L669.0 875.5L669.9 875.6L670.7 875.7L671.6 875.8L672.4 875.9L673.3 876.0L674.1 876.1L675.0 876.2L675.8 876.3L676.7 876.4" fill="none" stroke="#8b9fd6" stroke-width="1.6"/>
<path d="M406.7 898.1L406.8 897.6L407.0 897.0L407.1 896.4L407.2 895.7L407.3 894.9L407.5 894.1L407.6 893.2L407.7 892.2L407.8 891.1L408.0 889.9L408.1 888.6L408.2 887.3L408.3 885.8L408.5 884.3L408.6 882.7L408.7 881.1L408.8 879.4L409.0 877.7L409.1 876.0L409.2 874.3L409.3 872.5L409.5 870.8L409.6 869.0L409.7 867.3L409.9 865.6L410.0 864.0L410.1 862.4L410.2 860.8L410.4 859.1L410.5 857.5L410.6 855.8L410.7 854.1L410.9 852.4L411.0 850.6L411.1 848.9L411.2 847.1L411.4 845.3L411.5 843.5L411.6 841.7L411.7 839.9L411.9 838.0L412.0 836.2L412.1 834.4L412.2 832.6L412.4 830.8L412.5 829.0L412.6 827.6L412.8 825.9L412.9 824.1L413.0 822.4L413.1 820.6L413.3 818.9L413.4 817.2L413.5 815.5L413.6 813.8L413.8 812.1L413.9 810.4L414.0 808.7L414.1 807.1L414.3 805.5L414.4 803.9L414.5 802.3L414.6 800.8L414.8 799.2L414.9 797.7L415.0 796.2L415.1 794.7L415.3 786.2L415.4 784.7L415.5 783.3L415.6 781.9L415.8 780.5L415.9 779.1L416.0 777.8L416.2 776.4L416.3 775.1L416.4 773.8L416.5 772.8L416.7 771.9L416.8 771.0L416.9 770.2L417.0 769.5L417.2 768.7L417.3 768.0L417.4 767.3L417.5 766.7L417.7 766.0L417.8 765.4L417.9 764.8L418.0 764.2L418.2 763.6L418.3 763.0L418.4 762.5L418.5 761.9L418.7 761.4L418.8 760.9L418.9 760.4L419.1 759.9L419.2 759.4L419.3 758.9L419.4 758.4L419.6 758.0L419.7 757.5L419.8 757.0L419.9 756.6L420.1 756.2L420.2 755.7L420.3 755.3L420.4 754.9L420.6 754.5L420.7 754.1L420.8 753.7L420.9 753.3L421.1 752.9L421.2 752.5L421.3 752.1L421.4 751.7L421.6 751.4L421.7 751.0L422.6 748.7L423.4 746.6L424.3 744.9L425.1 743.5L426.0 742.4L426.8 741.7L427.7 741.3L428.5 741.2L429.4 741.5L430.2 742.0L431.1 742.7L431.9 743.7L432.8 744.8L433.6 746.0L434.5 747.4L435.3 748.9L436.2 750.4L437.1 752.1L437.9 753.7L438.8 755.5L439.6 757.2L440.5 759.0L441.3 760.7L442.2 762.5L443.0 764.2L443.9 765.9L444.7 767.7L445.6 769.4L446.4 771.1L447.3 772.8L448.1 774.4L449.0 776.1L449.8 777.7L450.7 779.3L451.5 780.9L452.4 782.5L453.3 784.0L454.1 785.6L455.0 787.1L455.8 788.5L456.7 790.0L457.5 791.4L458.4 792.8L459.2 794.2L460.1 795.5L460.9 796.9L461.8 798.2L462.6 799.5L463.5 800.7L464.3 801.9L465.2 803.2L466.0 804.3L466.9 805.5L467.8 806.6L468.6 807.8L469.5 808.9L470.3 810.0L471.2 811.0L472.0 812.1L472.9 813.1L473.7 814.1L474.6 815.0L475.4 816.0L476.3 816.9L477.1 817.9L478.0 818.8L478.8 819.6L479.7 820.5L480.5 821.3L481.4 822.2L482.3 823.0L483.1 823.7L484.0 824.5L484.8 825.2L485.7 826.0L486.5 826.7L487.4 827.4L488.2 828.1L489.1 828.7L489.9 829.3L490.8 829.9L491.6 830.5L492.5 831.1L493.3 831.7L494.2 832.2L495.0 832.7L495.9 833.2L496.8 833.7L497.6 834.2L498.5 834.6L499.3 835.1L500.2 835.5L501.0 835.9L501.9 836.4L502.7 836.8L503.6 837.2L504.4 837.6L505.3 838.0L506.1 838.4L507.0 838.8L507.8 839.3L508.7 839.7L509.5 840.1L510.4 840.5L511.2 840.8L512.1 841.2L513.0 841.6L513.8 842.0L514.7 842.4L515.5 842.8L516.4 843.2L517.2 843.6L518.1 844.0L518.9 844.4L519.8 844.7L520.6 845.1L521.5 845.5L522.3 845.9L523.2 846.2L524.0 846.6L524.9 846.9L525.7 847.3L526.6 847.6L527.5 847.9L528.3 848.3L529.2 848.6L530.0 848.9L530.9 849.2L531.7 849.6L532.6 849.9L533.4 850.2L534.3 850.5L535.1 850.8L536.0 851.1L536.8 851.4L537.7 851.7L538.5 852.0L539.4 852.2L540.2 852.5L541.1 852.8L542.0 853.1L542.8 853.3L543.7 853.6L544.5 853.9L545.4 854.1L546.2 854.4L547.1 854.7L547.9 854.9L548.8 855.2L549.6 855.4L550.5 855.7L551.3 855.9L552.2 856.2L553.0 856.4L553.9 856.6L554.7 856.9L555.6 857.1L556.4 857.3L557.3 857.6L558.2 857.8L559.0 858.0L559.9 858.3L560.7 858.5L561.6 858.7L562.4 858.9L563.3 859.1L564.1 859.3L565.0 859.6L565.8 859.8L566.7 860.0L567.5 860.2L568.4 860.4L569.2 860.6L570.1 860.8L570.9 861.0L571.8 861.2L572.7 861.4L573.5 861.6L574.4 861.8L575.2 862.0L576.1 862.2L576.9 862.3L577.8 862.5L578.6 862.7L579.5 862.9L580.3 863.1L581.2 863.3L582.0 863.5L582.9 863.6L583.7 863.8L584.6 864.0L585.4 864.2L586.3 864.3L587.2 864.5L588.0 864.7L588.9 864.9L589.7 865.0L590.6 865.2L591.4 865.4L592.3 865.5L593.1 865.7L594.0 865.8L594.8 866.0L595.7 866.2L596.5 866.3L597.4 866.5L598.2 866.7L599.1 866.8L599.9 867.0L600.8 867.1L601.6 867.3L602.5 867.4L603.4 867.6L604.2 867.7L605.1 867.9L605.9 868.0L606.8 868.2L607.6 868.3L608.5 868.5L609.3 868.6L610.2 868.8L611.0 868.9L611.9 869.0L612.7 869.2L613.6 869.3L614.4 869.5L615.3 869.6L616.1 869.7L617.0 869.9L617.9 870.0L618.7 870.2L619.6 870.3L620.4 870.4L621.3 870.6L622.1 870.7L623.0 870.8L623.8 871.0L624.7 871.1L625.5 871.2L626.4 871.3L627.2 871.5L628.1 871.6L628.9 871.7L629.8 871.9L630.6 872.0L631.5 872.1L632.4 872.2L633.2 872.4L634.1 872.5L634.9 872.6L635.8 872.7L636.6 872.8L637.5 873.0L638.3 873.1L639.2 873.2L640.0 873.3L640.9 873.4L641.7 873.6L642.6 873.7L643.4 873.8L644.3 873.9L645.1 874.0L646.0 874.1L646.9 874.2L647.7 874.4L648.6 874.5L649.4 874.6L650.3 874.7L651.1 874.8L652.0 874.9L652.8 875.0L653.7 875.1L654.5 875.2L655.4 875.3L656.2 875.4L657.1 875.6L657.9 875.7L658.8 875.8L659.6 875.9L660.5 876.0L661.3 876.1L662.2 876.2L663.1 876.3L663.9 876.4L664.8 876.5L665.6 876.6L666.5 876.7L667.3 876.8L668.2 876.9L669.0 877.0L669.9 877.1L670.7 877.2L671.6 877.3L672.4 877.4L673.3 877.5L674.1 877.6L675.0 877.7L675.8 877.8L676.7 877.8" fill="none" stroke="#8b9fd6" stroke-width="1.6"/>
<path d="M406.7 898.1L406.8 897.7L407.0 897.3L407.1 896.8L407.2 896.2L407.3 895.6L407.5 894.9L407.6 894.1L407.7 893.3L407.8 892.3L408.0 891.3L408.1 890.2L408.2 889.0L408.3 887.7L408.5 886.4L408.6 885.0L408.7 883.5L408.8 882.1L409.0 880.6L409.1 879.0L409.2 877.5L409.3 875.9L409.5 874.3L409.6 872.7L409.7 871.2L409.9 869.6L410.0 868.1L410.1 866.5L410.2 865.0L410.4 863.5L410.5 862.0L410.6 860.4L410.7 858.8L410.9 857.2L411.0 855.6L411.1 853.9L411.2 852.3L411.4 850.7L411.5 849.0L411.6 847.4L411.7 845.7L411.9 844.1L412.0 842.4L412.1 840.8L412.2 839.2L412.4 837.6L412.5 836.0L412.6 834.4L412.8 832.9L412.9 831.3L413.0 829.8L413.1 828.3L413.3 826.8L413.4 825.3L413.5 823.8L413.6 822.3L413.8 820.9L413.9 819.4L414.0 818.0L414.1 816.7L414.3 815.3L414.4 814.0L414.5 812.7L414.6 811.4L414.8 810.1L414.9 808.9L415.0 807.8L415.1 806.6L415.3 799.0L415.4 797.9L415.5 796.8L415.6 795.8L415.8 794.8L415.9 793.8L416.0 792.9L416.2 792.0L416.3 791.1L416.4 790.3L416.5 789.5L416.7 788.7L416.8 788.0L416.9 787.2L417.0 786.5L417.2 785.8L417.3 785.1L417.4 784.5L417.5 783.8L417.7 783.2L417.8 782.4L417.9 781.8L418.0 781.2L418.2 780.5L418.3 779.9L418.4 779.3L418.5 778.8L418.7 778.2L418.8 777.6L418.9 777.1L419.1 776.6L419.2 776.0L419.3 775.5L419.4 775.0L419.6 774.5L419.7 774.0L419.8 773.5L419.9 773.1L420.1 772.6L420.2 772.1L420.3 771.7L420.4 771.2L420.6 770.8L420.7 770.4L420.8 770.0L420.9 769.5L421.1 769.1L421.2 768.7L421.3 768.3L421.4 767.9L421.6 767.6L421.7 767.2L422.6 764.8L423.4 762.7L424.3 761.0L425.1 759.5L426.0 758.4L426.8 757.6L427.7 757.1L428.5 756.9L429.4 757.0L430.2 757.4L431.1 757.9L431.9 758.7L432.8 759.6L433.6 760.6L434.5 761.8L435.3 763.0L436.2 764.4L437.1 765.7L437.9 767.2L438.8 768.6L439.6 770.1L440.5 771.6L441.3 773.2L442.2 774.7L443.0 776.3L443.9 777.8L444.7 779.4L445.6 781.1L446.4 782.7L447.3 784.3L448.1 786.0L449.0 787.6L449.8 789.2L450.7 790.8L451.5 792.4L452.4 794.0L453.3 795.5L454.1 797.0L455.0 798.4L455.8 799.9L456.7 801.3L457.5 802.6L458.4 804.0L459.2 805.3L460.1 806.5L460.9 807.8L461.8 809.0L462.6 810.2L463.5 811.4L464.3 812.5L465.2 813.7L466.0 814.8L466.9 815.8L467.8 816.9L468.6 817.9L469.5 818.9L470.3 819.9L471.2 820.9L472.0 821.9L472.9 822.8L473.7 823.7L474.6 824.6L475.4 825.5L476.3 826.3L477.1 827.2L478.0 828.0L478.8 828.8L479.7 829.6L480.5 830.4L481.4 831.1L482.3 831.8L483.1 832.6L484.0 833.3L484.8 833.9L485.7 834.6L486.5 835.3L487.4 835.9L488.2 836.5L489.1 837.1L489.9 837.7L490.8 838.3L491.6 838.9L492.5 839.4L493.3 839.9L494.2 840.4L495.0 840.9L495.9 841.4L496.8 841.9L497.6 842.3L498.5 842.8L499.3 843.2L500.2 843.7L501.0 844.1L501.9 844.5L502.7 844.9L503.6 845.3L504.4 845.7L505.3 846.1L506.1 846.5L507.0 846.9L507.8 847.3L508.7 847.7L509.5 848.1L510.4 848.5L511.2 848.8L512.1 849.2L513.0 849.6L513.8 850.0L514.7 850.4L515.5 850.8L516.4 851.1L517.2 851.5L518.1 851.9L518.9 852.2L519.8 852.6L520.6 853.0L521.5 853.3L522.3 853.7L523.2 854.0L524.0 854.4L524.9 854.7L525.7 855.0L526.6 855.4L527.5 855.7L528.3 856.0L529.2 856.3L530.0 856.6L530.9 856.9L531.7 857.2L532.6 857.5L533.4 857.8L534.3 858.1L535.1 858.4L536.0 858.7L536.8 859.0L537.7 859.2L538.5 859.5L539.4 859.8L540.2 860.0L541.1 860.3L542.0 860.6L542.8 860.8L543.7 861.1L544.5 861.3L545.4 861.6L546.2 861.8L547.1 862.1L547.9 862.3L548.8 862.6L549.6 862.8L550.5 863.0L551.3 863.3L552.2 863.5L553.0 863.7L553.9 864.0L554.7 864.2L555.6 864.4L556.4 864.6L557.3 864.8L558.2 865.1L559.0 865.3L559.9 865.5L560.7 865.7L561.6 865.9L562.4 866.1L563.3 866.3L564.1 866.5L565.0 866.7L565.8 866.9L566.7 867.1L567.5 867.3L568.4 867.5L569.2 867.7L570.1 867.9L570.9 868.0L571.8 868.2L572.7 868.4L573.5 868.6L574.4 868.8L575.2 869.0L576.1 869.1L576.9 869.3L577.8 869.5L578.6 869.7L579.5 869.8L580.3 870.0L581.2 870.2L582.0 870.3L582.9 870.5L583.7 870.7L584.6 870.8L585.4 871.0L586.3 871.2L587.2 871.3L588.0 871.5L588.9 871.6L589.7 871.8L590.6 871.9L591.4 872.1L592.3 872.2L593.1 872.4L594.0 872.5L594.8 872.7L595.7 872.8L596.5 873.0L597.4 873.1L598.2 873.3L599.1 873.4L599.9 873.6L600.8 873.7L601.6 873.8L602.5 874.0L603.4 874.1L604.2 874.3L605.1 874.4L605.9 874.5L606.8 874.7L607.6 874.8L608.5 874.9L609.3 875.1L610.2 875.2L611.0 875.3L611.9 875.5L612.7 875.6L613.6 875.7L614.4 875.8L615.3 876.0L616.1 876.1L617.0 876.2L617.9 876.3L618.7 876.5L619.6 876.6L620.4 876.7L621.3 876.8L622.1 876.9L623.0 877.1L623.8 877.2L624.7 877.3L625.5 877.4L626.4 877.5L627.2 877.6L628.1 877.7L628.9 877.9L629.8 878.0L630.6 878.1L631.5 878.2L632.4 878.3L633.2 878.4L634.1 878.5L634.9 878.6L635.8 878.7L636.6 878.8L637.5 878.9L638.3 879.0L639.2 879.2L640.0 879.3L640.9 879.4L641.7 879.5L642.6 879.6L643.4 879.7L644.3 879.8L645.1 879.9L646.0 880.0L646.9 880.1L647.7 880.2L648.6 880.3L649.4 880.4L650.3 880.5L651.1 880.5L652.0 880.6L652.8 880.7L653.7 880.8L654.5 880.9L655.4 881.0L656.2 881.1L657.1 881.2L657.9 881.3L658.8 881.4L659.6 881.5L660.5 881.6L661.3 881.7L662.2 881.7L663.1 881.8L663.9 881.9L664.8 882.0L665.6 882.1L666.5 882.2L667.3 882.3L668.2 882.3L669.0 882.4L669.9 882.5L670.7 882.6L671.6 882.7L672.4 882.8L673.3 882.8L674.1 882.9L675.0 883.0L675.8 883.1L676.7 883.2" fill="none" stroke="#8b9fd6" stroke-width="1.6"/>
<path d="M406.7 898.1L406.8 897.7L407.0 897.3L407.1 896.8L407.2 896.2L407.3 895.6L407.5 895.0L407.6 894.3L407.7 893.4L407.8 892.5L408.0 891.5L408.1 890.5L408.2 889.3L408.3 888.1L408.5 886.8L408.6 885.5L408.7 884.1L408.8 882.7L409.0 881.3L409.1 879.9L409.2 878.4L409.3 876.9L409.5 875.3L409.6 873.8L409.7 872.3L409.9 870.7L410.0 869.2L410.1 867.7L410.2 866.2L410.4 864.7L410.5 863.2L410.6 861.6L410.7 860.0L410.9 858.4L411.0 856.8L411.1 855.2L411.2 853.6L411.4 852.0L411.5 850.3L411.6 848.7L411.7 847.1L411.9 845.4L412.0 843.8L412.1 842.2L412.2 840.7L412.4 839.1L412.5 837.6L412.6 836.1L412.8 834.6L412.9 833.1L413.0 831.6L413.1 830.1L413.3 828.6L413.4 827.2L413.5 825.8L413.6 824.4L413.8 823.0L413.9 821.6L414.0 820.2L414.1 818.9L414.3 817.6L414.4 816.3L414.5 815.0L414.6 813.8L414.8 812.6L414.9 811.4L415.0 810.2L415.1 809.1L415.3 802.2L415.4 801.1L415.5 800.1L415.6 799.0L415.8 798.1L415.9 797.1L416.0 796.2L416.2 795.3L416.3 794.5L416.4 793.7L416.5 792.9L416.7 792.1L416.8 791.4L416.9 790.6L417.0 789.9L417.2 789.2L417.3 788.6L417.4 787.9L417.5 787.3L417.7 786.7L417.8 785.8L417.9 785.2L418.0 784.5L418.2 783.9L418.3 783.3L418.4 782.7L418.5 782.1L418.7 781.5L418.8 781.0L418.9 780.4L419.1 779.9L419.2 779.3L419.3 778.8L419.4 778.3L419.6 777.8L419.7 777.3L419.8 776.8L419.9 776.3L420.1 775.9L420.2 775.4L420.3 775.0L420.4 774.5L420.6 774.1L420.7 773.7L420.8 773.2L420.9 772.8L421.1 772.4L421.2 772.0L421.3 771.6L421.4 771.2L421.6 770.9L421.7 770.5L422.6 768.2L423.4 766.1L424.3 764.4L425.1 763.0L426.0 761.9L426.8 761.1L427.7 760.7L428.5 760.5L429.4 760.6L430.2 760.9L431.1 761.5L431.9 762.2L432.8 763.1L433.6 764.2L434.5 765.3L435.3 766.5L436.2 767.8L437.1 769.1L437.9 770.5L438.8 772.0L439.6 773.4L440.5 774.9L441.3 776.4L442.2 778.0L443.0 779.6L443.9 781.1L444.7 782.8L445.6 784.4L446.4 786.1L447.3 787.8L448.1 789.5L449.0 791.2L449.8 792.9L450.7 794.5L451.5 796.2L452.4 797.8L453.3 799.3L454.1 800.8L455.0 802.3L455.8 803.8L456.7 805.2L457.5 806.6L458.4 807.9L459.2 809.2L460.1 810.5L460.9 811.8L461.8 813.0L462.6 814.2L463.5 815.4L464.3 816.5L465.2 817.6L466.0 818.7L466.9 819.8L467.8 820.8L468.6 821.9L469.5 822.9L470.3 823.8L471.2 824.8L472.0 825.7L472.9 826.7L473.7 827.6L474.6 828.5L475.4 829.3L476.3 830.2L477.1 831.0L478.0 831.8L478.8 832.6L479.7 833.4L480.5 834.1L481.4 834.9L482.3 835.6L483.1 836.3L484.0 837.0L484.8 837.7L485.7 838.3L486.5 839.0L487.4 839.6L488.2 840.2L489.1 840.8L489.9 841.4L490.8 842.0L491.6 842.5L492.5 843.1L493.3 843.6L494.2 844.1L495.0 844.6L495.9 845.1L496.8 845.6L497.6 846.0L498.5 846.5L499.3 846.9L500.2 847.4L501.0 847.8L501.9 848.2L502.7 848.7L503.6 849.1L504.4 849.5L505.3 849.9L506.1 850.3L507.0 850.7L507.8 851.1L508.7 851.5L509.5 851.9L510.4 852.3L511.2 852.7L512.1 853.1L513.0 853.4L513.8 853.8L514.7 854.2L515.5 854.5L516.4 854.9L517.2 855.2L518.1 855.6L518.9 855.9L519.8 856.3L520.6 856.6L521.5 857.0L522.3 857.3L523.2 857.7L524.0 858.0L524.9 858.3L525.7 858.6L526.6 858.9L527.5 859.2L528.3 859.5L529.2 859.8L530.0 860.1L530.9 860.4L531.7 860.7L532.6 861.0L533.4 861.3L534.3 861.5L535.1 861.8L536.0 862.1L536.8 862.3L537.7 862.6L538.5 862.9L539.4 863.1L540.2 863.4L541.1 863.6L542.0 863.9L542.8 864.1L543.7 864.4L544.5 864.6L545.4 864.9L546.2 865.1L547.1 865.3L547.9 865.6L548.8 865.8L549.6 866.0L550.5 866.2L551.3 866.5L552.2 866.7L553.0 866.9L553.9 867.1L554.7 867.3L555.6 867.5L556.4 867.8L557.3 868.0L558.2 868.2L559.0 868.4L559.9 868.6L560.7 868.8L561.6 869.0L562.4 869.2L563.3 869.4L564.1 869.5L565.0 869.7L565.8 869.9L566.7 870.1L567.5 870.3L568.4 870.5L569.2 870.7L570.1 870.8L570.9 871.0L571.8 871.2L572.7 871.4L573.5 871.5L574.4 871.7L575.2 871.9L576.1 872.1L576.9 872.2L577.8 872.4L578.6 872.6L579.5 872.7L580.3 872.9L581.2 873.0L582.0 873.2L582.9 873.4L583.7 873.5L584.6 873.7L585.4 873.8L586.3 874.0L587.2 874.1L588.0 874.3L588.9 874.4L589.7 874.6L590.6 874.7L591.4 874.9L592.3 875.0L593.1 875.2L594.0 875.3L594.8 875.4L595.7 875.6L596.5 875.7L597.4 875.9L598.2 876.0L599.1 876.1L599.9 876.3L600.8 876.4L601.6 876.5L602.5 876.7L603.4 876.8L604.2 876.9L605.1 877.0L605.9 877.2L606.8 877.3L607.6 877.4L608.5 877.5L609.3 877.7L610.2 877.8L611.0 877.9L611.9 878.0L612.7 878.1L613.6 878.3L614.4 878.4L615.3 878.5L616.1 878.6L617.0 878.7L617.9 878.8L618.7 879.0L619.6 879.1L620.4 879.2L621.3 879.3L622.1 879.4L623.0 879.5L623.8 879.6L624.7 879.7L625.5 879.8L626.4 879.9L627.2 880.1L628.1 880.2L628.9 880.3L629.8 880.4L630.6 880.5L631.5 880.6L632.4 880.7L633.2 880.8L634.1 880.9L634.9 881.0L635.8 881.1L636.6 881.2L637.5 881.3L638.3 881.4L639.2 881.5L640.0 881.6L640.9 881.7L641.7 881.7L642.6 881.8L643.4 881.9L644.3 882.0L645.1 882.1L646.0 882.2L646.9 882.3L647.7 882.4L648.6 882.5L649.4 882.6L650.3 882.7L651.1 882.7L652.0 882.8L652.8 882.9L653.7 883.0L654.5 883.1L655.4 883.2L656.2 883.3L657.1 883.3L657.9 883.4L658.8 883.5L659.6 883.6L660.5 883.7L661.3 883.7L662.2 883.8L663.1 883.9L663.9 884.0L664.8 884.1L665.6 884.1L666.5 884.2L667.3 884.3L668.2 884.4L669.0 884.4L669.9 884.5L670.7 884.6L671.6 884.7L672.4 884.7L673.3 884.8L674.1 884.9L675.0 885.0L675.8 885.0L676.7 885.1" fill="none" stroke="#8b9fd6" stroke-width="1.6"/>
<path d="M406.7 898.1L406.8 897.7L407.0 897.3L407.1 896.8L407.2 896.3L407.3 895.7L407.5 895.1L407.6 894.4L407.7 893.6L407.8 892.7L408.0 891.8L408.1 890.8L408.2 889.7L408.3 888.5L408.5 887.3L408.6 886.1L408.7 884.8L408.8 883.5L409.0 882.2L409.1 880.8L409.2 879.4L409.3 877.9L409.5 876.5L409.6 875.0L409.7 873.5L409.9 872.0L410.0 870.5L410.1 869.0L410.2 867.6L410.4 866.1L410.5 864.5L410.6 863.0L410.7 861.4L410.9 859.8L411.0 858.2L411.1 856.6L411.2 855.0L411.4 853.4L411.5 851.8L411.6 850.2L411.7 848.6L411.9 847.0L412.0 845.4L412.1 843.9L412.2 842.3L412.4 840.8L412.5 839.3L412.6 837.9L412.8 836.4L412.9 835.0L413.0 833.6L413.1 832.2L413.3 830.8L413.4 829.4L413.5 828.0L413.6 826.7L413.8 825.3L413.9 824.0L414.0 822.7L414.1 821.4L414.3 820.1L414.4 818.9L414.5 817.7L414.6 816.5L414.8 815.3L414.9 814.2L415.0 813.0L415.1 812.0L415.3 805.8L415.4 804.7L415.5 803.7L415.6 802.7L415.8 801.8L415.9 800.8L416.0 800.0L416.2 799.1L416.3 798.3L416.4 797.5L416.5 796.7L416.7 795.9L416.8 795.2L416.9 794.5L417.0 793.8L417.2 793.1L417.3 792.4L417.4 791.8L417.5 791.1L417.7 790.5L417.8 789.6L417.9 789.0L418.0 788.3L418.2 787.7L418.3 787.1L418.4 786.5L418.5 785.9L418.7 785.3L418.8 784.7L418.9 784.1L419.1 783.6L419.2 783.0L419.3 782.5L419.4 782.0L419.6 781.5L419.7 781.0L419.8 780.5L419.9 780.0L420.1 779.5L420.2 779.1L420.3 778.6L420.4 778.2L420.6 777.8L420.7 777.3L420.8 776.9L420.9 776.5L421.1 776.1L421.2 775.7L421.3 775.3L421.4 774.9L421.6 774.6L421.7 774.2L422.6 771.9L423.4 770.0L424.3 768.3L425.1 767.0L426.0 765.9L426.8 765.1L427.7 764.7L428.5 764.4L429.4 764.5L430.2 764.8L431.1 765.3L431.9 766.0L432.8 766.8L433.6 767.7L434.5 768.8L435.3 769.9L436.2 771.1L437.1 772.4L437.9 773.7L438.8 775.1L439.6 776.5L440.5 777.9L441.3 779.3L442.2 780.8L443.0 782.4L443.9 783.9L444.7 785.5L445.6 787.2L446.4 788.8L447.3 790.5L448.1 792.2L449.0 793.9L449.8 795.6L450.7 797.3L451.5 798.9L452.4 800.5L453.3 802.1L454.1 803.6L455.0 805.0L455.8 806.5L456.7 807.9L457.5 809.2L458.4 810.5L459.2 811.8L460.1 813.1L460.9 814.3L461.8 815.5L462.6 816.6L463.5 817.8L464.3 818.9L465.2 820.0L466.0 821.0L466.9 822.1L467.8 823.1L468.6 824.1L469.5 825.0L470.3 826.0L471.2 826.9L472.0 827.8L472.9 828.7L473.7 829.6L474.6 830.4L475.4 831.3L476.3 832.1L477.1 832.9L478.0 833.7L478.8 834.4L479.7 835.2L480.5 835.9L481.4 836.6L482.3 837.3L483.1 838.0L484.0 838.7L484.8 839.3L485.7 839.9L486.5 840.6L487.4 841.2L488.2 841.8L489.1 842.4L489.9 842.9L490.8 843.5L491.6 844.0L492.5 844.5L493.3 845.0L494.2 845.5L495.0 846.0L495.9 846.5L496.8 847.0L497.6 847.4L498.5 847.9L499.3 848.3L500.2 848.7L501.0 849.1L501.9 849.6L502.7 850.0L503.6 850.4L504.4 850.8L505.3 851.2L506.1 851.6L507.0 852.0L507.8 852.4L508.7 852.8L509.5 853.2L510.4 853.5L511.2 853.9L512.1 854.3L513.0 854.7L513.8 855.0L514.7 855.4L515.5 855.8L516.4 856.1L517.2 856.5L518.1 856.8L518.9 857.2L519.8 857.5L520.6 857.9L521.5 858.2L522.3 858.6L523.2 858.9L524.0 859.2L524.9 859.5L525.7 859.9L526.6 860.2L527.5 860.5L528.3 860.8L529.2 861.1L530.0 861.4L530.9 861.7L531.7 861.9L532.6 862.2L533.4 862.5L534.3 862.8L535.1 863.1L536.0 863.3L536.8 863.6L537.7 863.9L538.5 864.1L539.4 864.4L540.2 864.6L541.1 864.9L542.0 865.2L542.8 865.4L543.7 865.6L544.5 865.9L545.4 866.1L546.2 866.4L547.1 866.6L547.9 866.8L548.8 867.1L549.6 867.3L550.5 867.5L551.3 867.8L552.2 868.0L553.0 868.2L553.9 868.4L554.7 868.6L555.6 868.8L556.4 869.0L557.3 869.3L558.2 869.5L559.0 869.7L559.9 869.9L560.7 870.1L561.6 870.3L562.4 870.5L563.3 870.7L564.1 870.9L565.0 871.1L565.8 871.2L566.7 871.4L567.5 871.6L568.4 871.8L569.2 872.0L570.1 872.2L570.9 872.4L571.8 872.5L572.7 872.7L573.5 872.9L574.4 873.1L575.2 873.2L576.1 873.4L576.9 873.6L577.8 873.7L578.6 873.9L579.5 874.1L580.3 874.2L581.2 874.4L582.0 874.6L582.9 874.7L583.7 874.9L584.6 875.0L585.4 875.2L586.3 875.3L587.2 875.5L588.0 875.6L588.9 875.8L589.7 875.9L590.6 876.1L591.4 876.2L592.3 876.4L593.1 876.5L594.0 876.7L594.8 876.8L595.7 877.0L596.5 877.1L597.4 877.2L598.2 877.4L599.1 877.5L599.9 877.6L600.8 877.8L601.6 877.9L602.5 878.0L603.4 878.2L604.2 878.3L605.1 878.4L605.9 878.6L606.8 878.7L607.6 878.8L608.5 878.9L609.3 879.1L610.2 879.2L611.0 879.3L611.9 879.4L612.7 879.6L613.6 879.7L614.4 879.8L615.3 879.9L616.1 880.0L617.0 880.1L617.9 880.3L618.7 880.4L619.6 880.5L620.4 880.6L621.3 880.7L622.1 880.8L623.0 880.9L623.8 881.0L624.7 881.2L625.5 881.3L626.4 881.4L627.2 881.5L628.1 881.6L628.9 881.7L629.8 881.8L630.6 881.9L631.5 882.0L632.4 882.1L633.2 882.2L634.1 882.3L634.9 882.4L635.8 882.5L636.6 882.6L637.5 882.7L638.3 882.8L639.2 882.9L640.0 883.0L640.9 883.1L641.7 883.2L642.6 883.3L643.4 883.4L644.3 883.5L645.1 883.5L646.0 883.6L646.9 883.7L647.7 883.8L648.6 883.9L649.4 884.0L650.3 884.1L651.1 884.2L652.0 884.3L652.8 884.3L653.7 884.4L654.5 884.5L655.4 884.6L656.2 884.7L657.1 884.8L657.9 884.9L658.8 884.9L659.6 885.0L660.5 885.1L661.3 885.2L662.2 885.3L663.1 885.3L663.9 885.4L664.8 885.5L665.6 885.6L666.5 885.6L667.3 885.7L668.2 885.8L669.0 885.9L669.9 886.0L670.7 886.0L671.6 886.1L672.4 886.2L673.3 886.2L674.1 886.3L675.0 886.4L675.8 886.5L676.7 886.5" fill="none" stroke="#8b9fd6" stroke-width="1.6"/>
<path d="M406.7 898.1L406.8 896.4L407.0 894.8L407.1 893.1L407.2 891.4L407.3 889.8L407.5 888.1L407.6 886.4L407.7 884.8L407.8 883.1L408.0 881.4L408.1 879.8L408.2 878.1L408.3 876.4L408.5 874.7L408.6 873.1L408.7 871.4L408.8 869.7L409.0 868.0L409.1 866.4L409.2 864.7L409.3 863.0L409.5 861.3L409.6 859.7L409.7 858.0L409.9 856.3L410.0 854.6L410.1 852.9L410.2 851.3L410.4 849.6L410.5 847.9L410.6 846.2L410.7 844.6L410.9 842.9L411.0 841.2L411.1 839.5L411.2 837.9L411.4 836.2L411.5 834.5L411.6 832.8L411.7 831.1L411.9 829.5L412.0 827.8L412.1 826.1L412.2 824.4L412.4 822.7L412.5 821.1L412.6 819.4L412.8 817.7L412.9 816.0L413.0 814.4L413.1 812.7L413.3 811.0L413.4 809.3L413.5 807.6L413.6 806.4L413.8 804.7L413.9 803.1L414.0 801.4L414.1 799.7L414.3 798.1L414.4 796.4L414.5 794.7L414.6 793.0L414.8 791.4L414.9 789.7L415.0 788.0L415.1 786.3L415.3 784.6L415.4 782.9L415.5 781.2L415.6 779.5L415.8 777.8L415.9 776.1L416.0 774.4L416.2 772.7L416.3 771.0L416.4 769.2L416.5 767.5L416.7 765.8L416.8 764.0L416.9 762.3L417.0 760.5L417.2 758.8L417.3 757.1L417.4 755.5L417.5 753.9L417.7 752.3L417.8 750.7L417.9 749.2L418.0 747.8L418.2 746.4L418.3 745.0L418.4 743.7L418.5 742.4L418.7 741.1L418.8 739.9L418.9 738.7L419.1 737.5L419.2 736.4L419.3 735.3L419.4 734.2L419.6 733.1L419.7 732.0L419.8 731.0L419.9 729.9L420.1 728.9L420.2 728.0L420.3 727.0L420.4 726.2L420.6 725.3L420.7 724.6L420.8 723.8L420.9 723.1L421.1 722.5L421.2 721.9L421.3 721.3L421.4 720.8L421.6 720.3L421.7 719.8L422.6 717.2L423.4 715.6L424.3 714.6L425.1 714.1L426.0 713.9L426.8 714.0L427.7 714.3L428.5 714.7L429.4 715.2L430.2 715.8L431.1 716.4L431.9 717.2L432.8 718.0L433.6 718.9L434.5 719.9L435.3 721.0L436.2 722.2L437.1 723.4L437.9 724.8L438.8 726.2L439.6 727.7L440.5 729.2L441.3 730.8L442.2 732.5L443.0 734.1L443.9 735.8L444.7 737.4L445.6 739.1L446.4 740.7L447.3 742.3L448.1 743.9L449.0 745.4L449.8 747.0L450.7 748.5L451.5 750.0L452.4 751.4L453.3 752.9L454.1 754.3L455.0 755.7L455.8 757.1L456.7 758.4L457.5 759.8L458.4 761.1L459.2 762.4L460.1 763.7L460.9 765.0L461.8 766.2L462.6 767.5L463.5 768.7L464.3 769.9L465.2 771.1L466.0 772.2L466.9 773.4L467.8 774.5L468.6 775.6L469.5 776.7L470.3 777.8L471.2 778.9L472.0 780.0L472.9 781.0L473.7 782.0L474.6 783.0L475.4 784.0L476.3 785.0L477.1 786.0L478.0 787.0L478.8 787.9L479.7 788.9L480.5 789.8L481.4 790.7L482.3 791.6L483.1 792.5L484.0 793.3L484.8 794.2L485.7 795.0L486.5 795.9L487.4 796.7L488.2 797.5L489.1 798.3L489.9 799.0L490.8 799.8L491.6 800.5L492.5 801.3L493.3 802.0L494.2 802.7L495.0 803.4L495.9 804.0L496.8 804.7L497.6 805.3L498.5 805.9L499.3 806.5L500.2 807.1L501.0 807.7L501.9 808.3L502.7 808.9L503.6 809.4L504.4 810.0L505.3 810.5L506.1 811.0L507.0 811.5L507.8 812.1L508.7 812.6L509.5 813.1L510.4 813.6L511.2 814.0L512.1 814.5L513.0 815.0L513.8 815.5L514.7 815.9L515.5 816.4L516.4 816.9L517.2 817.3L518.1 817.8L518.9 818.2L519.8 818.7L520.6 819.2L521.5 819.6L522.3 820.1L523.2 820.5L524.0 821.0L524.9 821.4L525.7 821.9L526.6 822.3L527.5 822.7L528.3 823.2L529.2 823.6L530.0 824.0L530.9 824.4L531.7 824.8L532.6 825.2L533.4 825.6L534.3 826.0L535.1 826.4L536.0 826.8L536.8 827.2L537.7 827.6L538.5 827.9L539.4 828.3L540.2 828.7L541.1 829.0L542.0 829.4L542.8 829.7L543.7 830.1L544.5 830.4L545.4 830.8L546.2 831.1L547.1 831.5L547.9 831.8L548.8 832.1L549.6 832.4L550.5 832.8L551.3 833.1L552.2 833.4L553.0 833.7L553.9 834.0L554.7 834.3L555.6 834.6L556.4 834.9L557.3 835.2L558.2 835.5L559.0 835.8L559.9 836.1L560.7 836.4L561.6 836.7L562.4 837.0L563.3 837.2L564.1 837.5L565.0 837.8L565.8 838.1L566.7 838.3L567.5 838.6L568.4 838.9L569.2 839.1L570.1 839.4L570.9 839.6L571.8 839.9L572.7 840.1L573.5 840.4L574.4 840.6L575.2 840.9L576.1 841.1L576.9 841.4L577.8 841.6L578.6 841.9L579.5 842.1L580.3 842.3L581.2 842.6L582.0 842.8L582.9 843.0L583.7 843.2L584.6 843.5L585.4 843.7L586.3 843.9L587.2 844.1L588.0 844.4L588.9 844.6L589.7 844.8L590.6 845.0L591.4 845.2L592.3 845.4L593.1 845.6L594.0 845.8L594.8 846.0L595.7 846.2L596.5 846.4L597.4 846.6L598.2 846.8L599.1 847.0L599.9 847.2L600.8 847.4L601.6 847.6L602.5 847.8L603.4 848.0L604.2 848.2L605.1 848.4L605.9 848.6L606.8 848.8L607.6 848.9L608.5 849.1L609.3 849.3L610.2 849.5L611.0 849.7L611.9 849.8L612.7 850.0L613.6 850.2L614.4 850.4L615.3 850.5L616.1 850.7L617.0 850.9L617.9 851.0L618.7 851.2L619.6 851.4L620.4 851.6L621.3 851.7L622.1 851.9L623.0 852.0L623.8 852.2L624.7 852.4L625.5 852.5L626.4 852.7L627.2 852.8L628.1 853.0L628.9 853.2L629.8 853.3L630.6 853.5L631.5 853.6L632.4 853.8L633.2 853.9L634.1 854.1L634.9 854.2L635.8 854.4L636.6 854.5L637.5 854.7L638.3 854.8L639.2 855.0L640.0 855.1L640.9 855.3L641.7 855.4L642.6 855.6L643.4 855.7L644.3 855.8L645.1 856.0L646.0 856.1L646.9 856.3L647.7 856.4L648.6 856.5L649.4 856.7L650.3 856.8L651.1 856.9L652.0 857.1L652.8 857.2L653.7 857.4L654.5 857.5L655.4 857.6L656.2 857.7L657.1 857.9L657.9 858.0L658.8 858.1L659.6 858.3L660.5 858.4L661.3 858.5L662.2 858.7L663.1 858.8L663.9 858.9L664.8 859.0L665.6 859.2L666.5 859.3L667.3 859.4L668.2 859.5L669.0 859.7L669.9 859.8L670.7 859.9L671.6 860.0L672.4 860.1L673.3 860.3L674.1 860.4L675.0 860.5L675.8 860.6L676.7 860.7" fill="none" stroke="#8b9fd6" stroke-width="1.6"/>
<path d="M406.7 898.1L406.8 897.7L407.0 897.2L407.1 896.7L407.2 896.1L407.3 895.4L407.5 894.7L407.6 893.9L407.7 892.9L407.8 891.9L408.0 890.7L408.1 889.5L408.2 888.2L408.3 886.7L408.5 885.3L408.6 883.7L408.7 882.1L408.8 880.5L409.0 878.8L409.1 877.1L409.2 875.4L409.3 873.6L409.5 871.9L409.6 870.2L409.7 868.6L409.9 866.9L410.0 865.3L410.1 863.8L410.2 862.2L410.4 860.7L410.5 859.1L410.6 857.5L410.7 855.9L410.9 854.2L411.0 852.6L411.1 850.9L411.2 849.3L411.4 847.6L411.5 845.9L411.6 844.2L411.7 842.5L411.9 840.8L412.0 839.1L412.1 837.4L412.2 835.7L412.4 834.0L412.5 832.3L412.6 830.6L412.8 828.9L412.9 827.2L413.0 825.5L413.1 823.9L413.3 822.3L413.4 820.6L413.5 819.0L413.6 817.5L413.8 815.9L413.9 814.4L414.0 812.9L414.1 811.4L414.3 809.9L414.4 808.5L414.5 807.1L414.6 805.7L414.8 804.4L414.9 803.1L415.0 801.8L415.1 800.6L415.3 791.5L415.4 790.3L415.5 789.1L415.6 788.0L415.8 787.0L415.9 786.0L416.0 785.0L416.2 784.1L416.3 783.2L416.4 782.3L416.5 781.5L416.7 780.7L416.8 779.9L416.9 779.1L417.0 778.4L417.2 777.7L417.3 777.0L417.4 776.3L417.5 775.7L417.7 775.0L417.8 774.4L417.9 773.7L418.0 773.1L418.2 772.5L418.3 772.0L418.4 771.4L418.5 770.8L418.7 770.3L418.8 769.7L418.9 769.2L419.1 768.7L419.2 768.2L419.3 767.7L419.4 767.2L419.6 766.7L419.7 766.2L419.8 765.7L419.9 765.3L420.1 764.8L420.2 764.4L420.3 763.9L420.4 763.5L420.6 763.0L420.7 762.6L420.8 762.2L420.9 761.8L421.1 761.3L421.2 760.9L421.3 760.5L421.4 760.1L421.6 759.7L421.7 759.3L422.6 756.9L423.4 754.7L424.3 752.8L425.1 751.2L426.0 750.0L426.8 749.2L427.7 748.6L428.5 748.5L429.4 748.6L430.2 749.1L431.1 749.8L431.9 750.7L432.8 751.7L433.6 752.9L434.5 754.2L435.3 755.6L436.2 757.1L437.1 758.6L437.9 760.2L438.8 761.8L439.6 763.4L440.5 765.0L441.3 766.6L442.2 768.3L443.0 769.9L443.9 771.5L444.7 773.2L445.6 774.8L446.4 776.4L447.3 778.0L448.1 779.6L449.0 781.2L449.8 782.8L450.7 784.4L451.5 785.9L452.4 787.5L453.3 789.0L454.1 790.5L455.0 791.9L455.8 793.4L456.7 794.8L457.5 796.2L458.4 797.6L459.2 798.9L460.1 800.2L460.9 801.5L461.8 802.8L462.6 804.1L463.5 805.3L464.3 806.5L465.2 807.7L466.0 808.9L466.9 810.0L467.8 811.1L468.6 812.2L469.5 813.3L470.3 814.3L471.2 815.4L472.0 816.4L472.9 817.4L473.7 818.3L474.6 819.3L475.4 820.2L476.3 821.1L477.1 822.0L478.0 822.9L478.8 823.8L479.7 824.6L480.5 825.4L481.4 826.2L482.3 827.0L483.1 827.8L484.0 828.5L484.8 829.3L485.7 830.0L486.5 830.7L487.4 831.4L488.2 832.0L489.1 832.7L489.9 833.3L490.8 833.9L491.6 834.5L492.5 835.0L493.3 835.6L494.2 836.1L495.0 836.6L495.9 837.1L496.8 837.6L497.6 838.1L498.5 838.6L499.3 839.0L500.2 839.5L501.0 839.9L501.9 840.3L502.7 840.7L503.6 841.2L504.4 841.6L505.3 842.0L506.1 842.4L507.0 842.8L507.8 843.2L508.7 843.6L509.5 844.0L510.4 844.4L511.2 844.8L512.1 845.2L513.0 845.6L513.8 846.0L514.7 846.3L515.5 846.7L516.4 847.1L517.2 847.5L518.1 847.9L518.9 848.3L519.8 848.6L520.6 849.0L521.5 849.4L522.3 849.7L523.2 850.1L524.0 850.4L524.9 850.8L525.7 851.1L526.6 851.5L527.5 851.8L528.3 852.1L529.2 852.4L530.0 852.7L530.9 853.1L531.7 853.4L532.6 853.7L533.4 854.0L534.3 854.3L535.1 854.6L536.0 854.8L536.8 855.1L537.7 855.4L538.5 855.7L539.4 856.0L540.2 856.2L541.1 856.5L542.0 856.8L542.8 857.0L543.7 857.3L544.5 857.5L545.4 857.8L546.2 858.1L547.1 858.3L547.9 858.5L548.8 858.8L549.6 859.0L550.5 859.3L551.3 859.5L552.2 859.7L553.0 860.0L553.9 860.2L554.7 860.4L555.6 860.7L556.4 860.9L557.3 861.1L558.2 861.3L559.0 861.5L559.9 861.7L560.7 862.0L561.6 862.2L562.4 862.4L563.3 862.6L564.1 862.8L565.0 863.0L565.8 863.2L566.7 863.4L567.5 863.6L568.4 863.8L569.2 864.0L570.1 864.1L570.9 864.3L571.8 864.5L572.7 864.7L573.5 864.9L574.4 865.1L575.2 865.3L576.1 865.4L576.9 865.6L577.8 865.8L578.6 866.0L579.5 866.1L580.3 866.3L581.2 866.5L582.0 866.7L582.9 866.8L583.7 867.0L584.6 867.2L585.4 867.3L586.3 867.5L587.2 867.6L588.0 867.8L588.9 868.0L589.7 868.1L590.6 868.3L591.4 868.4L592.3 868.6L593.1 868.7L594.0 868.9L594.8 869.1L595.7 869.2L596.5 869.4L597.4 869.5L598.2 869.6L599.1 869.8L599.9 869.9L600.8 870.1L601.6 870.2L602.5 870.4L603.4 870.5L604.2 870.6L605.1 870.8L605.9 870.9L606.8 871.1L607.6 871.2L608.5 871.3L609.3 871.5L610.2 871.6L611.0 871.7L611.9 871.9L612.7 872.0L613.6 872.1L614.4 872.3L615.3 872.4L616.1 872.5L617.0 872.6L617.9 872.8L618.7 872.9L619.6 873.0L620.4 873.1L621.3 873.3L622.1 873.4L623.0 873.5L623.8 873.6L624.7 873.7L625.5 873.9L626.4 874.0L627.2 874.1L628.1 874.2L628.9 874.3L629.8 874.5L630.6 874.6L631.5 874.7L632.4 874.8L633.2 874.9L634.1 875.0L634.9 875.1L635.8 875.2L636.6 875.4L637.5 875.5L638.3 875.6L639.2 875.7L640.0 875.8L640.9 875.9L641.7 876.0L642.6 876.1L643.4 876.2L644.3 876.3L645.1 876.4L646.0 876.5L646.9 876.6L647.7 876.7L648.6 876.8L649.4 876.9L650.3 877.0L651.1 877.1L652.0 877.2L652.8 877.3L653.7 877.4L654.5 877.5L655.4 877.6L656.2 877.7L657.1 877.8L657.9 877.9L658.8 878.0L659.6 878.1L660.5 878.2L661.3 878.3L662.2 878.4L663.1 878.5L663.9 878.6L664.8 878.7L665.6 878.8L666.5 878.9L667.3 879.0L668.2 879.1L669.0 879.1L669.9 879.2L670.7 879.3L671.6 879.4L672.4 879.5L673.3 879.6L674.1 879.7L675.0 879.8L675.8 879.9L676.7 879.9" fill="none" stroke="#182d5c" stroke-width="2.8"/>
<path d="M563.5 618.5L563.5 613.5L563.6 609.6L563.6 606.3L563.7 603.5L563.7 601.1L563.8 598.9L563.8 597.0L563.9 595.2L563.9 593.6L564.0 592.0L564.0 590.6L564.1 589.3L564.2 588.1L564.2 586.9L564.3 585.8L564.3 584.7L564.4 583.7L564.4 582.8L564.5 581.8L564.5 581.0L564.6 580.1L564.6 579.3L564.7 578.5L564.7 577.8L564.8 577.0L564.8 576.3L564.9 575.6L565.0 574.9L565.0 574.2L565.1 573.5L565.1 572.8L565.2 572.2L565.2 571.5L565.3 570.9L565.3 570.3L565.4 569.7L565.4 569.1L565.5 568.6L565.5 568.0L565.6 567.5L565.7 567.0L565.7 566.5L565.8 566.0L565.8 566.3L565.9 565.9L565.9 565.5L566.0 565.1L566.0 564.7L566.1 564.3L566.1 563.9L566.2 563.5L566.2 563.1L566.3 562.7L566.3 562.3L566.4 562.0L566.5 561.6L566.5 561.2L566.6 560.8L566.6 560.4L566.7 560.1L566.7 559.7L566.8 559.3L566.8 558.9L566.9 558.5L566.9 558.1L567.0 557.8L567.0 557.4L567.1 557.0L567.1 556.6L567.2 556.1L567.3 555.7L567.3 555.3L567.4 554.8L567.4 554.5L567.5 554.3L567.5 554.1L567.6 554.0L567.6 553.9L567.7 553.8L567.7 553.7L567.8 553.6L567.8 553.6L567.9 553.5L567.9 553.5L568.0 553.4L568.1 553.4L568.1 553.4L568.2 553.3L568.2 553.3L568.3 553.2L568.3 553.2L568.4 553.2L568.4 553.2L568.5 553.1L568.5 553.1L568.6 553.1L568.6 553.1L568.7 553.0L568.8 553.0L568.8 553.0L568.9 553.0L568.9 552.9L569.0 552.9L569.0 552.9L569.1 552.9L569.1 552.9L569.2 552.8L569.2 552.8L569.3 552.8L569.3 552.8L569.4 552.8L569.4 552.8L569.5 552.7L569.6 552.7L569.6 552.7L569.7 552.7L570.0 552.6L570.4 552.6L570.7 552.5L571.1 552.5L571.5 552.5L571.8 552.5L572.2 552.6L572.6 552.6L572.9 552.7L573.3 552.8L573.6 552.9L574.0 553.0L574.4 553.1L574.7 553.2L575.1 553.4L575.4 553.5L575.8 553.7L576.2 553.9L576.5 554.1L576.9 554.3L577.3 554.6L577.6 554.8L578.0 555.1L578.3 555.3L578.7 555.6L579.1 555.8L579.4 556.0L579.8 556.2L580.1 556.4L580.5 556.7L580.9 556.9L581.2 557.1L581.6 557.3L582.0 557.5L582.3 557.7L582.7 557.9L583.0 558.1L583.4 558.3L583.8 558.4L584.1 558.6L584.5 558.8L584.8 559.0L585.2 559.2L585.6 559.3L585.9 559.5L586.3 559.7L586.7 559.9L587.0 560.0L587.4 560.2L587.7 560.4L588.1 560.6L588.5 560.7L588.8 560.9L589.2 561.1L589.5 561.2L589.9 561.4L590.3 561.6L590.6 561.7L591.0 561.9L591.4 562.1L591.7 562.2L592.1 562.4L592.4 562.5L592.8 562.7L593.2 562.8L593.5 563.0L593.9 563.1L594.2 563.3L594.6 563.4L595.0 563.6L595.3 563.7L595.7 563.8L596.1 564.0L596.4 564.1L596.8 564.2L597.1 564.3L597.5 564.5L597.9 564.6L598.2 564.7L598.6 564.8L599.0 564.9L599.3 565.0L599.7 565.1L600.0 565.2L600.4 565.2L600.8 565.3L601.1 565.4L601.5 565.5L601.8 565.5L602.2 565.6L602.6 565.7L602.9 565.7L603.3 565.8L603.7 565.9L604.0 565.9L604.4 566.0L604.7 566.0L605.1 566.1L605.5 566.2L605.8 566.2L606.2 566.3L606.5 566.4L606.9 566.4L607.3 566.5L607.6 566.6L608.0 566.7L608.4 566.7L608.7 566.8L609.1 566.9L609.4 567.0L609.8 567.0L610.2 567.1L610.5 567.2L610.9 567.3L611.2 567.4L611.6 567.4L612.0 567.5L612.3 567.6L612.7 567.7L613.1 567.8L613.4 567.8L613.8 567.9L614.1 568.0L614.5 568.1L614.9 568.1L615.2 568.2L615.6 568.3L615.9 568.4L616.3 568.5L616.7 568.5L617.0 568.6L617.4 568.7L617.8 568.8L618.1 568.8L618.5 568.9L618.8 569.0L619.2 569.1L619.6 569.1L619.9 569.2L620.3 569.3L620.6 569.4L621.0 569.4L621.4 569.5L621.7 569.6L622.1 569.7L622.5 569.7L622.8 569.8L623.2 569.9L623.5 570.0L623.9 570.0L624.3 570.1L624.6 570.2L625.0 570.3L625.3 570.3L625.7 570.4L626.1 570.5L626.4 570.6L626.8 570.6L627.2 570.7L627.5 570.8L627.9 570.9L628.2 570.9L628.6 571.0L629.0 571.1L629.3 571.1L629.7 571.2L630.0 571.3L630.4 571.4L630.8 571.4L631.1 571.5L631.5 571.6L631.9 571.7L632.2 571.7L632.6 571.8L632.9 571.9L633.3 572.0L633.7 572.0L634.0 572.1L634.4 572.2L634.7 572.2L635.1 572.3L635.5 572.4L635.8 572.5L636.2 572.5L636.6 572.6L636.9 572.7L637.3 572.8L637.6 572.8L638.0 572.9L638.4 573.0L638.7 573.0L639.1 573.1L639.4 573.2L639.8 573.3L640.2 573.3L640.5 573.4L640.9 573.5L641.3 573.6L641.6 573.6L642.0 573.7L642.3 573.8L642.7 573.8L643.1 573.9L643.4 574.0L643.8 574.1L644.2 574.1L644.5 574.2L644.9 574.3L645.2 574.4L645.6 574.4L646.0 574.5L646.3 574.6L646.7 574.6L647.0 574.7L647.4 574.8L647.8 574.9L648.1 574.9L648.5 575.0L648.9 575.1L649.2 575.2L649.6 575.2L649.9 575.3L650.3 575.4L650.7 575.4L651.0 575.5L651.4 575.6L651.7 575.7L652.1 575.7L652.5 575.8L652.8 575.9L653.2 575.9L653.6 576.0L653.9 576.1L654.3 576.2L654.6 576.2L655.0 576.3L655.4 576.4L655.7 576.5L656.1 576.5L656.4 576.6L656.8 576.7L657.2 576.7L657.5 576.8L657.9 576.9L658.3 577.0L658.6 577.0L659.0 577.1L659.3 577.2L659.7 577.3L660.1 577.3L660.4 577.4L660.8 577.5L661.1 577.5L661.5 577.6L661.9 577.7L662.2 577.8L662.6 577.8L663.0 577.9L663.3 578.0L663.7 578.0L664.0 578.1L664.4 578.2L664.8 578.3L665.1 578.3L665.5 578.4L665.8 578.5L666.2 578.6L666.6 578.6L666.9 578.7L667.3 578.8L667.7 578.8L668.0 578.9L668.4 579.0L668.7 579.1L669.1 579.1L669.5 579.2L669.8 579.3L670.2 579.4L670.5 579.4L670.9 579.5L671.3 579.6L671.6 579.6L672.0 579.7L672.4 579.8L672.7 579.9L673.1 579.9L673.4 580.0L673.8 580.1L674.2 580.1L674.5 580.2L674.9 580.3L675.2 580.4L675.6 580.4L676.0 580.5L676.3 580.6L676.7 580.7L677.1 580.7L677.4 580.8L677.8 580.9L677.8 614.1L677.4 613.9L677.1 613.8L676.7 613.6L676.3 613.5L676.0 613.3L675.6 613.2L675.2 613.0L674.9 612.8L674.5 612.7L674.2 612.5L673.8 612.4L673.4 612.2L673.1 612.1L672.7 611.9L672.4 611.8L672.0 611.6L671.6 611.4L671.3 611.3L670.9 611.1L670.5 611.0L670.2 610.8L669.8 610.7L669.5 610.5L669.1 610.4L668.7 610.2L668.4 610.0L668.0 609.9L667.7 609.7L667.3 609.6L666.9 609.4L666.6 609.3L666.2 609.1L665.8 609.0L665.5 608.8L665.1 608.6L664.8 608.5L664.4 608.3L664.0 608.2L663.7 608.0L663.3 607.9L663.0 607.7L662.6 607.6L662.2 607.4L661.9 607.3L661.5 607.1L661.1 606.9L660.8 606.8L660.4 606.6L660.1 606.5L659.7 606.3L659.3 606.2L659.0 606.0L658.6 605.9L658.3 605.7L657.9 605.5L657.5 605.4L657.2 605.2L656.8 605.1L656.4 604.9L656.1 604.8L655.7 604.6L655.4 604.5L655.0 604.3L654.6 604.1L654.3 604.0L653.9 603.8L653.6 603.7L653.2 603.5L652.8 603.4L652.5 603.2L652.1 603.1L651.7 602.9L651.4 602.7L651.0 602.6L650.7 602.4L650.3 602.3L649.9 602.1L649.6 602.0L649.2 601.8L648.9 601.7L648.5 601.5L648.1 601.3L647.8 601.2L647.4 601.0L647.0 600.9L646.7 600.7L646.3 600.6L646.0 600.4L645.6 600.3L645.2 600.1L644.9 599.9L644.5 599.8L644.2 599.6L643.8 599.5L643.4 599.3L643.1 599.2L642.7 599.0L642.3 598.9L642.0 598.7L641.6 598.5L641.3 598.4L640.9 598.2L640.5 598.1L640.2 597.9L639.8 597.8L639.4 597.6L639.1 597.5L638.7 597.3L638.4 597.1L638.0 597.0L637.6 596.8L637.3 596.7L636.9 596.5L636.6 596.4L636.2 596.2L635.8 596.1L635.5 595.9L635.1 595.7L634.7 595.6L634.4 595.4L634.0 595.3L633.7 595.1L633.3 595.0L632.9 594.8L632.6 594.6L632.2 594.5L631.9 594.3L631.5 594.2L631.1 594.0L630.8 593.9L630.4 593.7L630.0 593.6L629.7 593.4L629.3 593.2L629.0 593.1L628.6 592.9L628.2 592.8L627.9 592.6L627.5 592.5L627.2 592.3L626.8 592.1L626.4 592.0L626.1 591.8L625.7 591.7L625.3 591.5L625.0 591.4L624.6 591.2L624.3 591.1L623.9 590.9L623.5 590.7L623.2 590.6L622.8 590.4L622.5 590.3L622.1 590.1L621.7 590.0L621.4 589.8L621.0 589.6L620.6 589.5L620.3 589.3L619.9 589.2L619.6 589.0L619.2 588.9L618.8 588.7L618.5 588.5L618.1 588.4L617.8 588.2L617.4 588.1L617.0 587.9L616.7 587.7L616.3 587.6L615.9 587.4L615.6 587.3L615.2 587.1L614.9 587.0L614.5 586.8L614.1 586.6L613.8 586.5L613.4 586.3L613.1 586.1L612.7 586.0L612.3 585.8L612.0 585.6L611.6 585.5L611.2 585.3L610.9 585.1L610.5 585.0L610.2 584.8L609.8 584.6L609.4 584.4L609.1 584.3L608.7 584.1L608.4 583.9L608.0 583.8L607.6 583.6L607.3 583.5L606.9 583.3L606.5 583.1L606.2 583.0L605.8 582.8L605.5 582.6L605.1 582.5L604.7 582.3L604.4 582.2L604.0 582.0L603.7 581.8L603.3 581.7L602.9 581.5L602.6 581.3L602.2 581.2L601.8 581.0L601.5 580.9L601.1 580.7L600.8 580.5L600.4 580.4L600.0 580.2L599.7 580.0L599.3 579.9L599.0 579.7L598.6 579.5L598.2 579.4L597.9 579.2L597.5 579.0L597.1 578.9L596.8 578.7L596.4 578.5L596.1 578.3L595.7 578.1L595.3 578.0L595.0 577.8L594.6 577.6L594.2 577.4L593.9 577.2L593.5 577.0L593.2 576.8L592.8 576.6L592.4 576.4L592.1 576.2L591.7 576.0L591.4 575.8L591.0 575.6L590.6 575.4L590.3 575.2L589.9 575.0L589.5 574.7L589.2 574.5L588.8 574.3L588.5 574.1L588.1 573.8L587.7 573.6L587.4 573.4L587.0 573.1L586.7 572.9L586.3 572.6L585.9 572.3L585.6 572.1L585.2 571.8L584.8 571.5L584.5 571.2L584.1 571.0L583.8 570.6L583.4 570.3L583.0 570.0L582.7 569.7L582.3 569.3L582.0 569.0L581.6 568.6L581.2 568.3L580.9 567.9L580.5 567.6L580.1 567.3L579.8 566.9L579.4 566.7L579.1 566.4L578.7 566.2L578.3 565.9L578.0 565.7L577.6 565.6L577.3 565.4L576.9 565.2L576.5 565.1L576.2 565.0L575.8 564.9L575.4 564.7L575.1 564.7L574.7 564.6L574.4 564.5L574.0 564.5L573.6 564.5L573.3 564.4L572.9 564.4L572.6 564.5L572.2 564.5L571.8 564.6L571.5 564.7L571.1 564.8L570.7 565.0L570.4 565.2L570.0 565.4L569.7 565.8L569.6 565.8L569.6 565.9L569.5 565.9L569.4 566.0L569.4 566.0L569.3 566.1L569.3 566.2L569.2 566.2L569.2 566.3L569.1 566.4L569.1 566.5L569.0 566.6L569.0 566.6L568.9 566.7L568.9 566.8L568.8 566.9L568.8 567.0L568.7 567.1L568.6 567.2L568.6 567.3L568.5 567.4L568.5 567.5L568.4 567.7L568.4 567.8L568.3 567.9L568.3 568.0L568.2 568.2L568.2 568.3L568.1 568.4L568.1 568.6L568.0 568.7L567.9 569.0L567.9 569.1L567.8 569.2L567.8 569.4L567.7 569.5L567.7 569.6L567.6 569.8L567.6 569.9L567.5 570.1L567.5 570.2L567.4 570.4L567.4 570.5L567.3 570.7L567.3 570.9L567.2 571.0L567.1 571.2L567.1 571.4L567.0 571.6L567.0 571.8L566.9 572.0L566.9 572.2L566.8 572.4L566.8 572.6L566.7 572.9L566.7 573.1L566.6 573.3L566.6 573.6L566.5 573.8L566.5 574.1L566.4 574.3L566.3 574.6L566.3 574.9L566.2 575.2L566.2 575.5L566.1 575.8L566.1 576.1L566.0 576.4L566.0 576.7L565.9 577.0L565.9 577.4L565.8 577.7L565.8 578.1L565.7 578.5L565.7 578.9L565.6 579.4L565.5 579.9L565.5 580.5L565.4 581.0L565.4 581.6L565.3 582.3L565.3 583.0L565.2 583.7L565.2 584.5L565.1 585.3L565.1 586.2L565.0 587.1L565.0 588.0L564.9 589.0L564.8 590.0L564.8 591.1L564.7 592.2L564.7 593.4L564.6 594.6L564.6 595.8L564.5 597.1L564.5 598.3L564.4 599.7L564.4 601.0L564.3 602.2L564.3 603.5L564.2 604.8L564.2 606.2L564.1 607.6L564.0 609.2L564.0 610.8L563.9 612.6L563.9 614.6L563.8 616.7L563.8 619.0L563.7 621.6L563.7 622.6L563.6 622.6L563.6 622.6L563.5 622.6L563.5 622.6 Z" fill="#cde9fb" stroke="none"/>
<path d="M563.6 617.0L563.7 613.8L563.7 610.8L563.8 608.1L563.8 605.6L563.9 603.2L563.9 601.1L564.0 599.1L564.0 597.2L564.1 595.5L564.2 593.9L564.2 592.4L564.3 591.0L564.3 589.7L564.4 588.4L564.4 587.3L564.5 586.2L564.5 585.2L564.6 584.3L564.6 583.4L564.7 582.6L564.7 581.9L564.8 581.1L564.8 580.4L564.9 579.7L565.0 579.1L565.0 578.4L565.1 577.8L565.1 577.1L565.2 576.5L565.2 575.9L565.3 575.4L565.3 574.8L565.4 574.3L565.4 573.7L565.5 573.2L565.5 572.7L565.6 572.2L565.7 571.8L565.7 571.3L565.8 570.9L565.8 570.6L565.9 570.2L565.9 569.8L566.0 569.4L566.0 569.0L566.1 568.7L566.1 568.3L566.2 568.0L566.2 567.6L566.3 567.3L566.3 567.0L566.4 566.6L566.5 566.3L566.5 566.0L566.6 565.7L566.6 565.4L566.7 565.2L566.7 564.9L566.8 564.6L566.8 564.4L566.9 564.1L566.9 562.9L567.0 562.7L567.0 562.4L567.1 562.2L567.1 562.0L567.2 561.8L567.3 561.6L567.3 561.3L567.4 561.1L567.4 560.9L567.5 560.8L567.5 560.7L567.6 560.6L567.6 560.4L567.7 560.3L567.7 560.3L567.8 560.2L567.8 560.1L567.9 560.0L567.9 559.9L568.0 559.9L568.1 559.8L568.1 559.7L568.2 559.6L568.2 559.6L568.3 559.5L568.3 559.5L568.4 559.4L568.4 559.3L568.5 559.3L568.5 559.2L568.6 559.2L568.6 559.1L568.7 559.1L568.8 559.0L568.8 559.0L568.9 558.9L568.9 558.9L569.0 558.8L569.0 558.8L569.1 558.7L569.1 558.7L569.2 558.6L569.2 558.6L569.3 558.6L569.3 558.5L569.4 558.5L569.4 558.4L569.5 558.4L569.6 558.4L569.6 558.3L569.7 558.3L570.0 558.0L570.4 557.8L570.7 557.7L571.1 557.5L571.5 557.4L571.8 557.4L572.2 557.3L572.6 557.3L572.9 557.4L573.3 557.4L573.6 557.5L574.0 557.6L574.4 557.7L574.7 557.9L575.1 558.0L575.4 558.2L575.8 558.4L576.2 558.6L576.5 558.7L576.9 559.0L577.3 559.2L577.6 559.4L578.0 559.6L578.3 559.8L578.7 560.0L579.1 560.2L579.4 560.5L579.8 560.7L580.1 560.9L580.5 561.1L580.9 561.3L581.2 561.6L581.6 561.8L582.0 562.0L582.3 562.2L582.7 562.5L583.0 562.7L583.4 562.9L583.8 563.1L584.1 563.3L584.5 563.6L584.8 563.8L585.2 564.0L585.6 564.2L585.9 564.4L586.3 564.6L586.7 564.9L587.0 565.1L587.4 565.3L587.7 565.5L588.1 565.7L588.5 565.9L588.8 566.1L589.2 566.3L589.5 566.5L589.9 566.7L590.3 566.9L590.6 567.1L591.0 567.3L591.4 567.5L591.7 567.7L592.1 567.9L592.4 568.1L592.8 568.3L593.2 568.5L593.5 568.6L593.9 568.8L594.2 569.0L594.6 569.2L595.0 569.4L595.3 569.5L595.7 569.7L596.1 569.9L596.4 570.0L596.8 570.2L597.1 570.4L597.5 570.5L597.9 570.7L598.2 570.8L598.6 571.0L599.0 571.1L599.3 571.3L599.7 571.4L600.0 571.5L600.4 571.7L600.8 571.8L601.1 571.9L601.5 572.1L601.8 572.2L602.2 572.3L602.6 572.4L602.9 572.5L603.3 572.6L603.7 572.7L604.0 572.9L604.4 573.0L604.7 573.1L605.1 573.2L605.5 573.3L605.8 573.4L606.2 573.5L606.5 573.6L606.9 573.8L607.3 573.9L607.6 574.0L608.0 574.1L608.4 574.2L608.7 574.3L609.1 574.4L609.4 574.5L609.8 574.6L610.2 574.8L610.5 574.9L610.9 575.0L611.2 575.1L611.6 575.2L612.0 575.3L612.3 575.4L612.7 575.5L613.1 575.6L613.4 575.8L613.8 575.9L614.1 576.0L614.5 576.1L614.9 576.2L615.2 576.3L615.6 576.4L615.9 576.5L616.3 576.6L616.7 576.7L617.0 576.8L617.4 576.9L617.8 577.0L618.1 577.1L618.5 577.2L618.8 577.3L619.2 577.4L619.6 577.5L619.9 577.6L620.3 577.7L620.6 577.8L621.0 577.9L621.4 578.0L621.7 578.1L622.1 578.2L622.5 578.3L622.8 578.4L623.2 578.5L623.5 578.5L623.9 578.6L624.3 578.7L624.6 578.8L625.0 578.9L625.3 579.0L625.7 579.1L626.1 579.2L626.4 579.3L626.8 579.4L627.2 579.5L627.5 579.6L627.9 579.6L628.2 579.7L628.6 579.8L629.0 579.9L629.3 580.0L629.7 580.1L630.0 580.2L630.4 580.3L630.8 580.3L631.1 580.4L631.5 580.5L631.9 580.6L632.2 580.7L632.6 580.8L632.9 580.9L633.3 580.9L633.7 581.0L634.0 581.1L634.4 581.2L634.7 581.3L635.1 581.4L635.5 581.5L635.8 581.5L636.2 581.6L636.6 581.7L636.9 581.8L637.3 581.9L637.6 582.0L638.0 582.0L638.4 582.1L638.7 582.2L639.1 582.3L639.4 582.4L639.8 582.5L640.2 582.5L640.5 582.6L640.9 582.7L641.3 582.8L641.6 582.9L642.0 582.9L642.3 583.0L642.7 583.1L643.1 583.2L643.4 583.3L643.8 583.3L644.2 583.4L644.5 583.5L644.9 583.6L645.2 583.7L645.6 583.7L646.0 583.8L646.3 583.9L646.7 584.0L647.0 584.1L647.4 584.1L647.8 584.2L648.1 584.3L648.5 584.4L648.9 584.5L649.2 584.5L649.6 584.6L649.9 584.7L650.3 584.8L650.7 584.8L651.0 584.9L651.4 585.0L651.7 585.1L652.1 585.2L652.5 585.2L652.8 585.3L653.2 585.4L653.6 585.5L653.9 585.5L654.3 585.6L654.6 585.7L655.0 585.8L655.4 585.9L655.7 585.9L656.1 586.0L656.4 586.1L656.8 586.2L657.2 586.2L657.5 586.3L657.9 586.4L658.3 586.5L658.6 586.6L659.0 586.6L659.3 586.7L659.7 586.8L660.1 586.9L660.4 586.9L660.8 587.0L661.1 587.1L661.5 587.2L661.9 587.2L662.2 587.3L662.6 587.4L663.0 587.5L663.3 587.5L663.7 587.6L664.0 587.7L664.4 587.8L664.8 587.8L665.1 587.9L665.5 588.0L665.8 588.1L666.2 588.1L666.6 588.2L666.9 588.3L667.3 588.4L667.7 588.5L668.0 588.5L668.4 588.6L668.7 588.7L669.1 588.8L669.5 588.8L669.8 588.9L670.2 589.0L670.5 589.1L670.9 589.1L671.3 589.2L671.6 589.3L672.0 589.4L672.4 589.4L672.7 589.5L673.1 589.6L673.4 589.7L673.8 589.7L674.2 589.8L674.5 589.9L674.9 590.0L675.2 590.0L675.6 590.1L676.0 590.2L676.3 590.3L676.7 590.3L677.1 590.4L677.4 590.5L677.8 590.5" fill="none" stroke="#8b9fd6" stroke-width="1.3"/>
<path d="M563.7 615.3L563.7 612.2L563.8 609.3L563.8 606.7L563.9 604.3L563.9 602.0L564.0 599.9L564.0 598.0L564.1 596.2L564.2 594.6L564.2 593.0L564.3 591.6L564.3 590.3L564.4 589.0L564.4 587.8L564.5 586.7L564.5 585.7L564.6 584.8L564.6 583.9L564.7 583.1L564.7 582.3L564.8 581.6L564.8 580.9L564.9 580.2L565.0 579.5L565.0 578.9L565.1 578.2L565.1 577.6L565.2 577.0L565.2 576.4L565.3 575.9L565.3 575.3L565.4 574.8L565.4 574.3L565.5 573.7L565.5 573.3L565.6 572.8L565.7 572.3L565.7 571.9L565.8 571.4L565.8 571.1L565.9 570.7L565.9 570.3L566.0 569.9L566.0 569.5L566.1 569.2L566.1 568.8L566.2 568.5L566.2 568.1L566.3 567.8L566.3 567.5L566.4 567.2L566.5 566.9L566.5 566.6L566.6 566.3L566.6 566.0L566.7 565.8L566.7 565.5L566.8 565.3L566.8 565.0L566.9 564.8L566.9 563.5L567.0 563.3L567.0 563.0L567.1 562.8L567.1 562.6L567.2 562.5L567.3 562.3L567.3 562.1L567.4 561.9L567.4 561.7L567.5 561.6L567.5 561.5L567.6 561.4L567.6 561.3L567.7 561.2L567.7 561.1L567.8 561.0L567.8 560.9L567.9 560.8L567.9 560.7L568.0 560.7L568.1 560.6L568.1 560.5L568.2 560.4L568.2 560.4L568.3 560.3L568.3 560.2L568.4 560.2L568.4 560.1L568.5 560.0L568.5 560.0L568.6 559.9L568.6 559.9L568.7 559.8L568.8 559.7L568.8 559.7L568.9 559.6L568.9 559.6L569.0 559.5L569.0 559.5L569.1 559.4L569.1 559.4L569.2 559.3L569.2 559.3L569.3 559.3L569.3 559.2L569.4 559.2L569.4 559.1L569.5 559.1L569.6 559.0L569.6 559.0L569.7 558.9L570.0 558.7L570.4 558.5L570.7 558.3L571.1 558.1L571.5 558.0L571.8 557.9L572.2 557.9L572.6 557.9L572.9 557.9L573.3 558.0L573.6 558.0L574.0 558.1L574.4 558.3L574.7 558.4L575.1 558.5L575.4 558.7L575.8 558.9L576.2 559.1L576.5 559.3L576.9 559.5L577.3 559.7L577.6 559.9L578.0 560.1L578.3 560.3L578.7 560.5L579.1 560.7L579.4 560.9L579.8 561.2L580.1 561.4L580.5 561.6L580.9 561.8L581.2 562.0L581.6 562.3L582.0 562.5L582.3 562.7L582.7 562.9L583.0 563.2L583.4 563.4L583.8 563.6L584.1 563.8L584.5 564.0L584.8 564.3L585.2 564.5L585.6 564.7L585.9 564.9L586.3 565.1L586.7 565.3L587.0 565.5L587.4 565.8L587.7 566.0L588.1 566.2L588.5 566.4L588.8 566.6L589.2 566.8L589.5 567.0L589.9 567.2L590.3 567.4L590.6 567.6L591.0 567.8L591.4 568.0L591.7 568.2L592.1 568.4L592.4 568.6L592.8 568.8L593.2 569.0L593.5 569.1L593.9 569.3L594.2 569.5L594.6 569.7L595.0 569.9L595.3 570.0L595.7 570.2L596.1 570.4L596.4 570.6L596.8 570.7L597.1 570.9L597.5 571.0L597.9 571.2L598.2 571.4L598.6 571.5L599.0 571.7L599.3 571.8L599.7 571.9L600.0 572.1L600.4 572.2L600.8 572.3L601.1 572.5L601.5 572.6L601.8 572.7L602.2 572.8L602.6 572.9L602.9 573.1L603.3 573.2L603.7 573.3L604.0 573.4L604.4 573.5L604.7 573.6L605.1 573.7L605.5 573.9L605.8 574.0L606.2 574.1L606.5 574.2L606.9 574.3L607.3 574.4L607.6 574.5L608.0 574.6L608.4 574.8L608.7 574.9L609.1 575.0L609.4 575.1L609.8 575.2L610.2 575.3L610.5 575.5L610.9 575.6L611.2 575.7L611.6 575.8L612.0 575.9L612.3 576.0L612.7 576.2L613.1 576.3L613.4 576.4L613.8 576.5L614.1 576.6L614.5 576.7L614.9 576.8L615.2 576.9L615.6 577.0L615.9 577.2L616.3 577.3L616.7 577.4L617.0 577.5L617.4 577.6L617.8 577.7L618.1 577.8L618.5 577.9L618.8 578.0L619.2 578.1L619.6 578.2L619.9 578.3L620.3 578.4L620.6 578.5L621.0 578.6L621.4 578.7L621.7 578.8L622.1 578.9L622.5 579.0L622.8 579.1L623.2 579.2L623.5 579.3L623.9 579.4L624.3 579.5L624.6 579.6L625.0 579.7L625.3 579.8L625.7 579.9L626.1 580.0L626.4 580.1L626.8 580.1L627.2 580.2L627.5 580.3L627.9 580.4L628.2 580.5L628.6 580.6L629.0 580.7L629.3 580.8L629.7 580.9L630.0 581.0L630.4 581.1L630.8 581.2L631.1 581.2L631.5 581.3L631.9 581.4L632.2 581.5L632.6 581.6L632.9 581.7L633.3 581.8L633.7 581.9L634.0 582.0L634.4 582.0L634.7 582.1L635.1 582.2L635.5 582.3L635.8 582.4L636.2 582.5L636.6 582.6L636.9 582.7L637.3 582.7L637.6 582.8L638.0 582.9L638.4 583.0L638.7 583.1L639.1 583.2L639.4 583.3L639.8 583.3L640.2 583.4L640.5 583.5L640.9 583.6L641.3 583.7L641.6 583.8L642.0 583.8L642.3 583.9L642.7 584.0L643.1 584.1L643.4 584.2L643.8 584.3L644.2 584.3L644.5 584.4L644.9 584.5L645.2 584.6L645.6 584.7L646.0 584.8L646.3 584.8L646.7 584.9L647.0 585.0L647.4 585.1L647.8 585.2L648.1 585.3L648.5 585.3L648.9 585.4L649.2 585.5L649.6 585.6L649.9 585.7L650.3 585.7L650.7 585.8L651.0 585.9L651.4 586.0L651.7 586.1L652.1 586.1L652.5 586.2L652.8 586.3L653.2 586.4L653.6 586.5L653.9 586.5L654.3 586.6L654.6 586.7L655.0 586.8L655.4 586.9L655.7 586.9L656.1 587.0L656.4 587.1L656.8 587.2L657.2 587.3L657.5 587.3L657.9 587.4L658.3 587.5L658.6 587.6L659.0 587.7L659.3 587.7L659.7 587.8L660.1 587.9L660.4 588.0L660.8 588.1L661.1 588.1L661.5 588.2L661.9 588.3L662.2 588.4L662.6 588.4L663.0 588.5L663.3 588.6L663.7 588.7L664.0 588.8L664.4 588.8L664.8 588.9L665.1 589.0L665.5 589.1L665.8 589.1L666.2 589.2L666.6 589.3L666.9 589.4L667.3 589.5L667.7 589.5L668.0 589.6L668.4 589.7L668.7 589.8L669.1 589.8L669.5 589.9L669.8 590.0L670.2 590.1L670.5 590.2L670.9 590.2L671.3 590.3L671.6 590.4L672.0 590.5L672.4 590.5L672.7 590.6L673.1 590.7L673.4 590.8L673.8 590.9L674.2 590.9L674.5 591.0L674.9 591.1L675.2 591.2L675.6 591.2L676.0 591.3L676.3 591.4L676.7 591.5L677.1 591.5L677.4 591.6L677.8 591.7" fill="none" stroke="#8b9fd6" stroke-width="1.3"/>
<path d="M563.7 615.4L563.8 612.5L563.8 609.7L563.9 607.2L563.9 604.8L564.0 602.7L564.0 600.7L564.1 598.9L564.2 597.1L564.2 595.6L564.3 594.1L564.3 592.7L564.4 591.4L564.4 590.2L564.5 589.1L564.5 588.0L564.6 587.0L564.6 586.1L564.7 585.2L564.7 584.4L564.8 583.6L564.8 582.9L564.9 582.1L565.0 581.4L565.0 580.7L565.1 580.1L565.1 579.4L565.2 578.8L565.2 578.2L565.3 577.6L565.3 577.1L565.4 576.5L565.4 576.0L565.5 575.5L565.5 575.0L565.6 574.5L565.7 574.1L565.7 573.6L565.8 573.2L565.8 572.8L565.9 572.4L565.9 572.0L566.0 571.6L566.0 571.3L566.1 570.9L566.1 570.6L566.2 570.2L566.2 569.9L566.3 569.6L566.3 569.3L566.4 569.0L566.5 568.7L566.5 568.4L566.6 568.2L566.6 567.9L566.7 567.7L566.7 567.4L566.8 567.2L566.8 567.0L566.9 566.8L566.9 565.5L567.0 565.3L567.0 565.1L567.1 564.9L567.1 564.8L567.2 564.6L567.3 564.5L567.3 564.3L567.4 564.2L567.4 564.1L567.5 564.0L567.5 563.8L567.6 563.7L567.6 563.6L567.7 563.5L567.7 563.4L567.8 563.3L567.8 563.2L567.9 563.1L567.9 563.0L568.0 562.9L568.1 562.8L568.1 562.7L568.2 562.7L568.2 562.6L568.3 562.5L568.3 562.4L568.4 562.3L568.4 562.2L568.5 562.2L568.5 562.1L568.6 562.0L568.6 562.0L568.7 561.9L568.8 561.8L568.8 561.8L568.9 561.7L568.9 561.6L569.0 561.6L569.0 561.5L569.1 561.5L569.1 561.4L569.2 561.3L569.2 561.3L569.3 561.2L569.3 561.2L569.4 561.1L569.4 561.1L569.5 561.0L569.6 561.0L569.6 560.9L569.7 560.9L570.0 560.6L570.4 560.3L570.7 560.1L571.1 559.9L571.5 559.8L571.8 559.7L572.2 559.6L572.6 559.6L572.9 559.6L573.3 559.7L573.6 559.7L574.0 559.8L574.4 559.9L574.7 560.1L575.1 560.2L575.4 560.4L575.8 560.5L576.2 560.7L576.5 560.9L576.9 561.1L577.3 561.2L577.6 561.4L578.0 561.6L578.3 561.9L578.7 562.1L579.1 562.3L579.4 562.5L579.8 562.7L580.1 563.0L580.5 563.2L580.9 563.4L581.2 563.7L581.6 563.9L582.0 564.2L582.3 564.4L582.7 564.7L583.0 564.9L583.4 565.1L583.8 565.4L584.1 565.6L584.5 565.9L584.8 566.1L585.2 566.3L585.6 566.6L585.9 566.8L586.3 567.0L586.7 567.2L587.0 567.5L587.4 567.7L587.7 567.9L588.1 568.1L588.5 568.3L588.8 568.5L589.2 568.8L589.5 569.0L589.9 569.2L590.3 569.4L590.6 569.6L591.0 569.8L591.4 570.0L591.7 570.2L592.1 570.4L592.4 570.6L592.8 570.8L593.2 571.0L593.5 571.2L593.9 571.4L594.2 571.6L594.6 571.8L595.0 571.9L595.3 572.1L595.7 572.3L596.1 572.5L596.4 572.7L596.8 572.8L597.1 573.0L597.5 573.2L597.9 573.3L598.2 573.5L598.6 573.7L599.0 573.8L599.3 574.0L599.7 574.1L600.0 574.3L600.4 574.4L600.8 574.6L601.1 574.7L601.5 574.8L601.8 575.0L602.2 575.1L602.6 575.2L602.9 575.4L603.3 575.5L603.7 575.6L604.0 575.7L604.4 575.9L604.7 576.0L605.1 576.1L605.5 576.3L605.8 576.4L606.2 576.5L606.5 576.6L606.9 576.8L607.3 576.9L607.6 577.0L608.0 577.1L608.4 577.3L608.7 577.4L609.1 577.5L609.4 577.7L609.8 577.8L610.2 577.9L610.5 578.1L610.9 578.2L611.2 578.3L611.6 578.5L612.0 578.6L612.3 578.7L612.7 578.9L613.1 579.0L613.4 579.1L613.8 579.2L614.1 579.4L614.5 579.5L614.9 579.6L615.2 579.7L615.6 579.9L615.9 580.0L616.3 580.1L616.7 580.2L617.0 580.3L617.4 580.5L617.8 580.6L618.1 580.7L618.5 580.8L618.8 580.9L619.2 581.1L619.6 581.2L619.9 581.3L620.3 581.4L620.6 581.5L621.0 581.6L621.4 581.7L621.7 581.9L622.1 582.0L622.5 582.1L622.8 582.2L623.2 582.3L623.5 582.4L623.9 582.5L624.3 582.6L624.6 582.7L625.0 582.9L625.3 583.0L625.7 583.1L626.1 583.2L626.4 583.3L626.8 583.4L627.2 583.5L627.5 583.6L627.9 583.7L628.2 583.8L628.6 583.9L629.0 584.0L629.3 584.1L629.7 584.2L630.0 584.4L630.4 584.5L630.8 584.6L631.1 584.7L631.5 584.8L631.9 584.9L632.2 585.0L632.6 585.1L632.9 585.2L633.3 585.3L633.7 585.4L634.0 585.5L634.4 585.6L634.7 585.7L635.1 585.8L635.5 585.9L635.8 586.0L636.2 586.1L636.6 586.2L636.9 586.3L637.3 586.4L637.6 586.5L638.0 586.6L638.4 586.7L638.7 586.8L639.1 586.9L639.4 587.0L639.8 587.1L640.2 587.2L640.5 587.3L640.9 587.4L641.3 587.5L641.6 587.6L642.0 587.7L642.3 587.8L642.7 587.9L643.1 588.0L643.4 588.1L643.8 588.1L644.2 588.2L644.5 588.3L644.9 588.4L645.2 588.5L645.6 588.6L646.0 588.7L646.3 588.8L646.7 588.9L647.0 589.0L647.4 589.1L647.8 589.2L648.1 589.3L648.5 589.4L648.9 589.5L649.2 589.6L649.6 589.7L649.9 589.8L650.3 589.9L650.7 589.9L651.0 590.0L651.4 590.1L651.7 590.2L652.1 590.3L652.5 590.4L652.8 590.5L653.2 590.6L653.6 590.7L653.9 590.8L654.3 590.9L654.6 591.0L655.0 591.1L655.4 591.2L655.7 591.2L656.1 591.3L656.4 591.4L656.8 591.5L657.2 591.6L657.5 591.7L657.9 591.8L658.3 591.9L658.6 592.0L659.0 592.1L659.3 592.2L659.7 592.3L660.1 592.3L660.4 592.4L660.8 592.5L661.1 592.6L661.5 592.7L661.9 592.8L662.2 592.9L662.6 593.0L663.0 593.1L663.3 593.2L663.7 593.3L664.0 593.3L664.4 593.4L664.8 593.5L665.1 593.6L665.5 593.7L665.8 593.8L666.2 593.9L666.6 594.0L666.9 594.1L667.3 594.2L667.7 594.2L668.0 594.3L668.4 594.4L668.7 594.5L669.1 594.6L669.5 594.7L669.8 594.8L670.2 594.9L670.5 595.0L670.9 595.0L671.3 595.1L671.6 595.2L672.0 595.3L672.4 595.4L672.7 595.5L673.1 595.6L673.4 595.7L673.8 595.8L674.2 595.9L674.5 595.9L674.9 596.0L675.2 596.1L675.6 596.2L676.0 596.3L676.3 596.4L676.7 596.5L677.1 596.6L677.4 596.6L677.8 596.7" fill="none" stroke="#8b9fd6" stroke-width="1.3"/>
<path d="M563.7 616.0L563.8 613.0L563.8 610.3L563.9 607.8L563.9 605.5L564.0 603.3L564.0 601.4L564.1 599.5L564.2 597.8L564.2 596.3L564.3 594.8L564.3 593.4L564.4 592.1L564.4 590.9L564.5 589.8L564.5 588.7L564.6 587.7L564.6 586.7L564.7 585.8L564.7 585.0L564.8 584.2L564.8 583.4L564.9 582.7L565.0 582.0L565.0 581.3L565.1 580.6L565.1 579.9L565.2 579.3L565.2 578.7L565.3 578.1L565.3 577.5L565.4 577.0L565.4 576.4L565.5 575.9L565.5 575.4L565.6 574.9L565.7 574.5L565.7 574.0L565.8 573.6L565.8 573.2L565.9 572.8L565.9 572.4L566.0 572.1L566.0 571.7L566.1 571.3L566.1 571.0L566.2 570.7L566.2 570.4L566.3 570.0L566.3 569.7L566.4 569.5L566.5 569.2L566.5 568.9L566.6 568.6L566.6 568.4L566.7 568.1L566.7 567.9L566.8 567.7L566.8 567.5L566.9 567.3L566.9 566.0L567.0 565.8L567.0 565.7L567.1 565.5L567.1 565.3L567.2 565.2L567.3 565.0L567.3 564.9L567.4 564.7L567.4 564.6L567.5 564.5L567.5 564.4L567.6 564.2L567.6 564.1L567.7 564.0L567.7 563.9L567.8 563.8L567.8 563.7L567.9 563.6L567.9 563.5L568.0 563.4L568.1 563.3L568.1 563.2L568.2 563.1L568.2 563.0L568.3 563.0L568.3 562.9L568.4 562.8L568.4 562.7L568.5 562.6L568.5 562.6L568.6 562.5L568.6 562.4L568.7 562.3L568.8 562.3L568.8 562.2L568.9 562.1L568.9 562.1L569.0 562.0L569.0 561.9L569.1 561.9L569.1 561.8L569.2 561.8L569.2 561.7L569.3 561.7L569.3 561.6L569.4 561.5L569.4 561.5L569.5 561.4L569.6 561.4L569.6 561.3L569.7 561.3L570.0 561.0L570.4 560.7L570.7 560.5L571.1 560.4L571.5 560.2L571.8 560.1L572.2 560.1L572.6 560.0L572.9 560.1L573.3 560.1L573.6 560.2L574.0 560.3L574.4 560.4L574.7 560.5L575.1 560.6L575.4 560.8L575.8 561.0L576.2 561.1L576.5 561.3L576.9 561.5L577.3 561.7L577.6 561.9L578.0 562.1L578.3 562.3L578.7 562.5L579.1 562.7L579.4 563.0L579.8 563.2L580.1 563.5L580.5 563.7L580.9 564.0L581.2 564.2L581.6 564.5L582.0 564.7L582.3 565.0L582.7 565.3L583.0 565.5L583.4 565.8L583.8 566.0L584.1 566.3L584.5 566.5L584.8 566.8L585.2 567.0L585.6 567.3L585.9 567.5L586.3 567.8L586.7 568.0L587.0 568.2L587.4 568.5L587.7 568.7L588.1 568.9L588.5 569.1L588.8 569.4L589.2 569.6L589.5 569.8L589.9 570.0L590.3 570.2L590.6 570.5L591.0 570.7L591.4 570.9L591.7 571.1L592.1 571.3L592.4 571.5L592.8 571.7L593.2 571.9L593.5 572.1L593.9 572.3L594.2 572.5L594.6 572.7L595.0 572.9L595.3 573.1L595.7 573.3L596.1 573.5L596.4 573.6L596.8 573.8L597.1 574.0L597.5 574.2L597.9 574.4L598.2 574.5L598.6 574.7L599.0 574.9L599.3 575.0L599.7 575.2L600.0 575.3L600.4 575.5L600.8 575.7L601.1 575.8L601.5 576.0L601.8 576.1L602.2 576.2L602.6 576.4L602.9 576.5L603.3 576.7L603.7 576.8L604.0 577.0L604.4 577.1L604.7 577.2L605.1 577.4L605.5 577.5L605.8 577.7L606.2 577.8L606.5 577.9L606.9 578.1L607.3 578.2L607.6 578.4L608.0 578.5L608.4 578.6L608.7 578.8L609.1 578.9L609.4 579.0L609.8 579.2L610.2 579.3L610.5 579.5L610.9 579.6L611.2 579.7L611.6 579.9L612.0 580.0L612.3 580.1L612.7 580.3L613.1 580.4L613.4 580.5L613.8 580.7L614.1 580.8L614.5 580.9L614.9 581.1L615.2 581.2L615.6 581.3L615.9 581.4L616.3 581.6L616.7 581.7L617.0 581.8L617.4 581.9L617.8 582.1L618.1 582.2L618.5 582.3L618.8 582.4L619.2 582.6L619.6 582.7L619.9 582.8L620.3 582.9L620.6 583.0L621.0 583.2L621.4 583.3L621.7 583.4L622.1 583.5L622.5 583.6L622.8 583.8L623.2 583.9L623.5 584.0L623.9 584.1L624.3 584.2L624.6 584.3L625.0 584.4L625.3 584.6L625.7 584.7L626.1 584.8L626.4 584.9L626.8 585.0L627.2 585.1L627.5 585.2L627.9 585.4L628.2 585.5L628.6 585.6L629.0 585.7L629.3 585.8L629.7 585.9L630.0 586.0L630.4 586.1L630.8 586.2L631.1 586.4L631.5 586.5L631.9 586.6L632.2 586.7L632.6 586.8L632.9 586.9L633.3 587.0L633.7 587.1L634.0 587.2L634.4 587.3L634.7 587.4L635.1 587.5L635.5 587.7L635.8 587.8L636.2 587.9L636.6 588.0L636.9 588.1L637.3 588.2L637.6 588.3L638.0 588.4L638.4 588.5L638.7 588.6L639.1 588.7L639.4 588.8L639.8 588.9L640.2 589.0L640.5 589.1L640.9 589.2L641.3 589.3L641.6 589.4L642.0 589.5L642.3 589.6L642.7 589.7L643.1 589.8L643.4 589.9L643.8 590.0L644.2 590.1L644.5 590.2L644.9 590.3L645.2 590.4L645.6 590.6L646.0 590.7L646.3 590.8L646.7 590.9L647.0 591.0L647.4 591.1L647.8 591.2L648.1 591.3L648.5 591.4L648.9 591.5L649.2 591.6L649.6 591.6L649.9 591.7L650.3 591.8L650.7 591.9L651.0 592.0L651.4 592.1L651.7 592.2L652.1 592.3L652.5 592.4L652.8 592.5L653.2 592.6L653.6 592.7L653.9 592.8L654.3 592.9L654.6 593.0L655.0 593.1L655.4 593.2L655.7 593.3L656.1 593.4L656.4 593.5L656.8 593.6L657.2 593.7L657.5 593.8L657.9 593.9L658.3 594.0L658.6 594.1L659.0 594.2L659.3 594.3L659.7 594.4L660.1 594.5L660.4 594.6L660.8 594.7L661.1 594.8L661.5 594.8L661.9 594.9L662.2 595.0L662.6 595.1L663.0 595.2L663.3 595.3L663.7 595.4L664.0 595.5L664.4 595.6L664.8 595.7L665.1 595.8L665.5 595.9L665.8 596.0L666.2 596.1L666.6 596.2L666.9 596.3L667.3 596.4L667.7 596.5L668.0 596.5L668.4 596.6L668.7 596.7L669.1 596.8L669.5 596.9L669.8 597.0L670.2 597.1L670.5 597.2L670.9 597.3L671.3 597.4L671.6 597.5L672.0 597.6L672.4 597.7L672.7 597.8L673.1 597.8L673.4 597.9L673.8 598.0L674.2 598.1L674.5 598.2L674.9 598.3L675.2 598.4L675.6 598.5L676.0 598.6L676.3 598.7L676.7 598.8L677.1 598.9L677.4 598.9L677.8 599.0" fill="none" stroke="#8b9fd6" stroke-width="1.3"/>
<path d="M563.7 616.6L563.8 613.6L563.8 611.0L563.9 608.5L563.9 606.2L564.0 604.1L564.0 602.2L564.1 600.3L564.2 598.7L564.2 597.1L564.3 595.7L564.3 594.3L564.4 593.0L564.4 591.8L564.5 590.6L564.5 589.5L564.6 588.5L564.6 587.5L564.7 586.6L564.7 585.7L564.8 584.9L564.8 584.1L564.9 583.4L565.0 582.6L565.0 581.9L565.1 581.2L565.1 580.5L565.2 579.9L565.2 579.2L565.3 578.6L565.3 578.0L565.4 577.5L565.4 576.9L565.5 576.4L565.5 575.9L565.6 575.4L565.7 575.0L565.7 574.5L565.8 574.1L565.8 573.7L565.9 573.3L565.9 572.9L566.0 572.6L566.0 572.2L566.1 571.9L566.1 571.5L566.2 571.2L566.2 570.9L566.3 570.6L566.3 570.3L566.4 570.0L566.5 569.7L566.5 569.4L566.6 569.2L566.6 568.9L566.7 568.7L566.7 568.4L566.8 568.2L566.8 568.0L566.9 567.8L566.9 566.7L567.0 566.5L567.0 566.3L567.1 566.1L567.1 565.9L567.2 565.8L567.3 565.6L567.3 565.5L567.4 565.4L567.4 565.2L567.5 565.1L567.5 565.0L567.6 564.8L567.6 564.7L567.7 564.6L567.7 564.5L567.8 564.4L567.8 564.3L567.9 564.2L567.9 564.1L568.0 564.0L568.1 563.9L568.1 563.8L568.2 563.7L568.2 563.6L568.3 563.5L568.3 563.4L568.4 563.3L568.4 563.2L568.5 563.2L568.5 563.1L568.6 563.0L568.6 562.9L568.7 562.9L568.8 562.8L568.8 562.7L568.9 562.6L568.9 562.6L569.0 562.5L569.0 562.4L569.1 562.4L569.1 562.3L569.2 562.3L569.2 562.2L569.3 562.2L569.3 562.1L569.4 562.0L569.4 562.0L569.5 561.9L569.6 561.9L569.6 561.8L569.7 561.8L570.0 561.5L570.4 561.2L570.7 561.0L571.1 560.8L571.5 560.7L571.8 560.6L572.2 560.6L572.6 560.5L572.9 560.5L573.3 560.6L573.6 560.6L574.0 560.7L574.4 560.8L574.7 560.9L575.1 561.1L575.4 561.2L575.8 561.4L576.2 561.5L576.5 561.7L576.9 561.9L577.3 562.1L577.6 562.3L578.0 562.5L578.3 562.7L578.7 562.9L579.1 563.1L579.4 563.4L579.8 563.6L580.1 563.9L580.5 564.1L580.9 564.4L581.2 564.6L581.6 564.9L582.0 565.2L582.3 565.5L582.7 565.7L583.0 566.0L583.4 566.3L583.8 566.5L584.1 566.8L584.5 567.0L584.8 567.3L585.2 567.5L585.6 567.8L585.9 568.0L586.3 568.2L586.7 568.5L587.0 568.7L587.4 568.9L587.7 569.2L588.1 569.4L588.5 569.6L588.8 569.9L589.2 570.1L589.5 570.3L589.9 570.5L590.3 570.7L590.6 570.9L591.0 571.2L591.4 571.4L591.7 571.6L592.1 571.8L592.4 572.0L592.8 572.2L593.2 572.4L593.5 572.6L593.9 572.8L594.2 573.0L594.6 573.2L595.0 573.4L595.3 573.5L595.7 573.7L596.1 573.9L596.4 574.1L596.8 574.3L597.1 574.5L597.5 574.6L597.9 574.8L598.2 575.0L598.6 575.1L599.0 575.3L599.3 575.5L599.7 575.6L600.0 575.8L600.4 575.9L600.8 576.1L601.1 576.3L601.5 576.4L601.8 576.5L602.2 576.7L602.6 576.8L602.9 577.0L603.3 577.1L603.7 577.3L604.0 577.4L604.4 577.5L604.7 577.7L605.1 577.8L605.5 578.0L605.8 578.1L606.2 578.2L606.5 578.4L606.9 578.5L607.3 578.7L607.6 578.8L608.0 579.0L608.4 579.1L608.7 579.2L609.1 579.4L609.4 579.5L609.8 579.7L610.2 579.8L610.5 579.9L610.9 580.1L611.2 580.2L611.6 580.4L612.0 580.5L612.3 580.6L612.7 580.8L613.1 580.9L613.4 581.1L613.8 581.2L614.1 581.3L614.5 581.5L614.9 581.6L615.2 581.7L615.6 581.9L615.9 582.0L616.3 582.1L616.7 582.3L617.0 582.4L617.4 582.5L617.8 582.6L618.1 582.8L618.5 582.9L618.8 583.0L619.2 583.2L619.6 583.3L619.9 583.4L620.3 583.5L620.6 583.7L621.0 583.8L621.4 583.9L621.7 584.0L622.1 584.2L622.5 584.3L622.8 584.4L623.2 584.5L623.5 584.7L623.9 584.8L624.3 584.9L624.6 585.0L625.0 585.1L625.3 585.3L625.7 585.4L626.1 585.5L626.4 585.6L626.8 585.7L627.2 585.9L627.5 586.0L627.9 586.1L628.2 586.2L628.6 586.3L629.0 586.5L629.3 586.6L629.7 586.7L630.0 586.8L630.4 586.9L630.8 587.0L631.1 587.2L631.5 587.3L631.9 587.4L632.2 587.5L632.6 587.6L632.9 587.7L633.3 587.8L633.7 588.0L634.0 588.1L634.4 588.2L634.7 588.3L635.1 588.4L635.5 588.5L635.8 588.6L636.2 588.8L636.6 588.9L636.9 589.0L637.3 589.1L637.6 589.2L638.0 589.3L638.4 589.4L638.7 589.5L639.1 589.7L639.4 589.8L639.8 589.9L640.2 590.0L640.5 590.1L640.9 590.2L641.3 590.3L641.6 590.4L642.0 590.5L642.3 590.7L642.7 590.8L643.1 590.9L643.4 591.0L643.8 591.1L644.2 591.2L644.5 591.3L644.9 591.4L645.2 591.5L645.6 591.6L646.0 591.8L646.3 591.9L646.7 592.0L647.0 592.1L647.4 592.2L647.8 592.3L648.1 592.4L648.5 592.5L648.9 592.6L649.2 592.7L649.6 592.8L649.9 592.9L650.3 593.0L650.7 593.2L651.0 593.3L651.4 593.4L651.7 593.5L652.1 593.6L652.5 593.7L652.8 593.8L653.2 593.9L653.6 594.0L653.9 594.1L654.3 594.2L654.6 594.3L655.0 594.4L655.4 594.5L655.7 594.6L656.1 594.8L656.4 594.9L656.8 595.0L657.2 595.1L657.5 595.2L657.9 595.3L658.3 595.4L658.6 595.5L659.0 595.6L659.3 595.7L659.7 595.8L660.1 595.9L660.4 596.0L660.8 596.1L661.1 596.2L661.5 596.3L661.9 596.4L662.2 596.5L662.6 596.6L663.0 596.7L663.3 596.8L663.7 597.0L664.0 597.1L664.4 597.2L664.8 597.3L665.1 597.4L665.5 597.5L665.8 597.6L666.2 597.7L666.6 597.8L666.9 597.9L667.3 598.0L667.7 598.1L668.0 598.2L668.4 598.3L668.7 598.4L669.1 598.5L669.5 598.6L669.8 598.7L670.2 598.8L670.5 598.9L670.9 599.0L671.3 599.1L671.6 599.2L672.0 599.3L672.4 599.4L672.7 599.5L673.1 599.6L673.4 599.7L673.8 599.8L674.2 599.9L674.5 600.0L674.9 600.1L675.2 600.2L675.6 600.3L676.0 600.4L676.3 600.5L676.7 600.7L677.1 600.8L677.4 600.9L677.8 600.9" fill="none" stroke="#8b9fd6" stroke-width="1.3"/>
<path d="M563.5 614.8L563.5 610.1L563.6 606.4L563.6 603.4L563.7 600.8L563.7 598.6L563.8 596.7L563.8 594.9L563.9 593.3L563.9 591.9L564.0 590.6L564.0 589.3L564.1 588.2L564.2 587.1L564.2 586.1L564.3 585.2L564.3 584.3L564.4 583.4L564.4 582.6L564.5 581.8L564.5 581.1L564.6 580.4L564.6 579.7L564.7 579.1L564.7 578.5L564.8 577.9L564.8 577.3L564.9 576.7L565.0 576.2L565.0 575.6L565.1 575.1L565.1 574.6L565.2 574.2L565.2 573.7L565.3 573.2L565.3 572.8L565.4 572.4L565.4 571.9L565.5 571.5L565.5 571.1L565.6 570.8L565.7 570.4L565.7 570.0L565.8 569.6L565.8 569.3L565.9 568.9L565.9 568.6L566.0 568.3L566.0 567.9L566.1 567.6L566.1 567.3L566.2 567.0L566.2 566.8L566.3 566.5L566.3 566.2L566.4 565.9L566.5 565.6L566.5 565.3L566.6 565.0L566.6 564.8L566.7 564.5L566.7 564.2L566.8 564.0L566.8 563.7L566.9 563.5L566.9 563.2L567.0 563.0L567.0 562.7L567.1 562.5L567.1 562.3L567.2 562.0L567.3 561.8L567.3 561.6L567.4 561.4L567.4 561.1L567.5 560.9L567.5 560.7L567.6 560.5L567.6 560.3L567.7 560.1L567.7 559.9L567.8 559.7L567.8 559.5L567.9 559.3L567.9 559.1L568.0 558.9L568.1 558.8L568.1 558.6L568.2 558.4L568.2 558.3L568.3 558.1L568.3 558.0L568.4 557.9L568.4 557.7L568.5 557.6L568.5 557.5L568.6 557.4L568.6 557.3L568.7 557.2L568.8 557.0L568.8 556.9L568.9 556.8L568.9 556.7L569.0 556.6L569.0 556.5L569.1 556.5L569.1 556.4L569.2 556.3L569.2 556.2L569.3 556.2L569.3 556.1L569.4 556.0L569.4 556.0L569.5 555.9L569.6 555.9L569.6 555.8L569.7 555.8L570.0 555.5L570.4 555.4L570.7 555.3L571.1 555.2L571.5 555.2L571.8 555.2L572.2 555.3L572.6 555.3L572.9 555.4L573.3 555.4L573.6 555.5L574.0 555.5L574.4 555.6L574.7 555.7L575.1 555.8L575.4 555.9L575.8 556.0L576.2 556.1L576.5 556.2L576.9 556.4L577.3 556.5L577.6 556.7L578.0 556.8L578.3 557.0L578.7 557.2L579.1 557.3L579.4 557.5L579.8 557.7L580.1 557.8L580.5 558.0L580.9 558.2L581.2 558.3L581.6 558.5L582.0 558.7L582.3 558.8L582.7 559.0L583.0 559.2L583.4 559.3L583.8 559.5L584.1 559.6L584.5 559.8L584.8 560.0L585.2 560.1L585.6 560.3L585.9 560.4L586.3 560.6L586.7 560.8L587.0 560.9L587.4 561.1L587.7 561.2L588.1 561.4L588.5 561.5L588.8 561.7L589.2 561.8L589.5 562.0L589.9 562.1L590.3 562.3L590.6 562.4L591.0 562.6L591.4 562.7L591.7 562.9L592.1 563.0L592.4 563.2L592.8 563.3L593.2 563.4L593.5 563.6L593.9 563.7L594.2 563.9L594.6 564.0L595.0 564.1L595.3 564.3L595.7 564.4L596.1 564.6L596.4 564.7L596.8 564.8L597.1 565.0L597.5 565.1L597.9 565.2L598.2 565.4L598.6 565.5L599.0 565.6L599.3 565.7L599.7 565.9L600.0 566.0L600.4 566.1L600.8 566.2L601.1 566.3L601.5 566.4L601.8 566.6L602.2 566.7L602.6 566.8L602.9 566.9L603.3 567.0L603.7 567.1L604.0 567.2L604.4 567.3L604.7 567.4L605.1 567.5L605.5 567.6L605.8 567.7L606.2 567.8L606.5 567.9L606.9 568.0L607.3 568.1L607.6 568.2L608.0 568.3L608.4 568.4L608.7 568.5L609.1 568.6L609.4 568.7L609.8 568.8L610.2 568.9L610.5 568.9L610.9 569.0L611.2 569.1L611.6 569.2L612.0 569.3L612.3 569.4L612.7 569.5L613.1 569.6L613.4 569.7L613.8 569.8L614.1 569.9L614.5 570.0L614.9 570.1L615.2 570.2L615.6 570.3L615.9 570.4L616.3 570.5L616.7 570.6L617.0 570.6L617.4 570.7L617.8 570.8L618.1 570.9L618.5 571.0L618.8 571.1L619.2 571.2L619.6 571.3L619.9 571.3L620.3 571.4L620.6 571.5L621.0 571.6L621.4 571.7L621.7 571.8L622.1 571.9L622.5 571.9L622.8 572.0L623.2 572.1L623.5 572.2L623.9 572.3L624.3 572.4L624.6 572.4L625.0 572.5L625.3 572.6L625.7 572.7L626.1 572.8L626.4 572.8L626.8 572.9L627.2 573.0L627.5 573.1L627.9 573.1L628.2 573.2L628.6 573.3L629.0 573.4L629.3 573.5L629.7 573.5L630.0 573.6L630.4 573.7L630.8 573.8L631.1 573.8L631.5 573.9L631.9 574.0L632.2 574.0L632.6 574.1L632.9 574.2L633.3 574.3L633.7 574.3L634.0 574.4L634.4 574.5L634.7 574.5L635.1 574.6L635.5 574.7L635.8 574.8L636.2 574.8L636.6 574.9L636.9 575.0L637.3 575.0L637.6 575.1L638.0 575.2L638.4 575.2L638.7 575.3L639.1 575.4L639.4 575.4L639.8 575.5L640.2 575.6L640.5 575.6L640.9 575.7L641.3 575.8L641.6 575.8L642.0 575.9L642.3 576.0L642.7 576.0L643.1 576.1L643.4 576.2L643.8 576.2L644.2 576.3L644.5 576.4L644.9 576.4L645.2 576.5L645.6 576.6L646.0 576.6L646.3 576.7L646.7 576.7L647.0 576.8L647.4 576.9L647.8 576.9L648.1 577.0L648.5 577.1L648.9 577.1L649.2 577.2L649.6 577.2L649.9 577.3L650.3 577.4L650.7 577.4L651.0 577.5L651.4 577.5L651.7 577.6L652.1 577.7L652.5 577.7L652.8 577.8L653.2 577.8L653.6 577.9L653.9 578.0L654.3 578.0L654.6 578.1L655.0 578.1L655.4 578.2L655.7 578.2L656.1 578.3L656.4 578.4L656.8 578.4L657.2 578.5L657.5 578.5L657.9 578.6L658.3 578.7L658.6 578.7L659.0 578.8L659.3 578.8L659.7 578.9L660.1 578.9L660.4 579.0L660.8 579.0L661.1 579.1L661.5 579.2L661.9 579.2L662.2 579.3L662.6 579.3L663.0 579.4L663.3 579.4L663.7 579.5L664.0 579.5L664.4 579.6L664.8 579.7L665.1 579.7L665.5 579.8L665.8 579.8L666.2 579.9L666.6 579.9L666.9 580.0L667.3 580.0L667.7 580.1L668.0 580.2L668.4 580.2L668.7 580.3L669.1 580.3L669.5 580.4L669.8 580.4L670.2 580.5L670.5 580.5L670.9 580.6L671.3 580.6L671.6 580.7L672.0 580.7L672.4 580.8L672.7 580.8L673.1 580.9L673.4 581.0L673.8 581.0L674.2 581.1L674.5 581.1L674.9 581.2L675.2 581.2L675.6 581.3L676.0 581.3L676.3 581.4L676.7 581.4L677.1 581.5L677.4 581.5L677.8 581.6" fill="none" stroke="#8b9fd6" stroke-width="1.3"/>
<path d="M563.7 617.5L563.7 614.3L563.8 611.2L563.8 608.4L563.9 605.8L563.9 603.5L564.0 601.3L564.0 599.2L564.1 597.3L564.2 595.6L564.2 594.0L564.3 592.5L564.3 591.1L564.4 589.8L564.4 588.6L564.5 587.5L564.5 586.4L564.6 585.5L564.6 584.6L564.7 583.7L564.7 583.0L564.8 582.3L564.8 581.6L564.9 580.9L565.0 580.2L565.0 579.6L565.1 578.9L565.1 578.3L565.2 577.7L565.2 577.2L565.3 576.6L565.3 576.1L565.4 575.5L565.4 575.0L565.5 574.5L565.5 574.0L565.6 573.6L565.7 573.1L565.7 572.7L565.8 572.2L565.8 571.8L565.9 571.4L565.9 571.0L566.0 570.6L566.0 570.3L566.1 569.9L566.1 569.5L566.2 569.2L566.2 568.9L566.3 568.6L566.3 568.3L566.4 568.0L566.5 567.7L566.5 567.4L566.6 567.1L566.6 566.9L566.7 566.6L566.7 566.4L566.8 566.2L566.8 566.0L566.9 565.7L566.9 564.3L567.0 564.1L567.0 563.9L567.1 563.7L567.1 563.6L567.2 563.4L567.3 563.3L567.3 563.2L567.4 563.0L567.4 562.9L567.5 562.8L567.5 562.7L567.6 562.6L567.6 562.5L567.7 562.4L567.7 562.3L567.8 562.2L567.8 562.1L567.9 562.0L567.9 561.9L568.0 561.8L568.1 561.7L568.1 561.6L568.2 561.6L568.2 561.5L568.3 561.4L568.3 561.3L568.4 561.3L568.4 561.2L568.5 561.1L568.5 561.1L568.6 561.0L568.6 560.9L568.7 560.9L568.8 560.8L568.8 560.8L568.9 560.7L568.9 560.6L569.0 560.6L569.0 560.5L569.1 560.5L569.1 560.4L569.2 560.4L569.2 560.3L569.3 560.3L569.3 560.2L569.4 560.2L569.4 560.1L569.5 560.1L569.6 560.0L569.6 560.0L569.7 559.9L570.0 559.6L570.4 559.4L570.7 559.2L571.1 559.0L571.5 558.8L571.8 558.7L572.2 558.7L572.6 558.7L572.9 558.7L573.3 558.7L573.6 558.8L574.0 558.9L574.4 559.0L574.7 559.2L575.1 559.3L575.4 559.5L575.8 559.6L576.2 559.8L576.5 560.0L576.9 560.2L577.3 560.4L577.6 560.6L578.0 560.8L578.3 561.0L578.7 561.2L579.1 561.4L579.4 561.6L579.8 561.9L580.1 562.1L580.5 562.3L580.9 562.5L581.2 562.7L581.6 563.0L582.0 563.2L582.3 563.4L582.7 563.7L583.0 563.9L583.4 564.1L583.8 564.3L584.1 564.6L584.5 564.8L584.8 565.0L585.2 565.2L585.6 565.5L585.9 565.7L586.3 565.9L586.7 566.1L587.0 566.3L587.4 566.6L587.7 566.8L588.1 567.0L588.5 567.2L588.8 567.4L589.2 567.6L589.5 567.8L589.9 568.0L590.3 568.3L590.6 568.5L591.0 568.7L591.4 568.9L591.7 569.1L592.1 569.3L592.4 569.5L592.8 569.7L593.2 569.8L593.5 570.0L593.9 570.2L594.2 570.4L594.6 570.6L595.0 570.8L595.3 571.0L595.7 571.1L596.1 571.3L596.4 571.5L596.8 571.7L597.1 571.8L597.5 572.0L597.9 572.2L598.2 572.3L598.6 572.5L599.0 572.6L599.3 572.8L599.7 572.9L600.0 573.1L600.4 573.2L600.8 573.4L601.1 573.5L601.5 573.6L601.8 573.8L602.2 573.9L602.6 574.0L602.9 574.1L603.3 574.3L603.7 574.4L604.0 574.5L604.4 574.6L604.7 574.7L605.1 574.9L605.5 575.0L605.8 575.1L606.2 575.2L606.5 575.3L606.9 575.5L607.3 575.6L607.6 575.7L608.0 575.8L608.4 576.0L608.7 576.1L609.1 576.2L609.4 576.3L609.8 576.5L610.2 576.6L610.5 576.7L610.9 576.8L611.2 576.9L611.6 577.1L612.0 577.2L612.3 577.3L612.7 577.4L613.1 577.6L613.4 577.7L613.8 577.8L614.1 577.9L614.5 578.0L614.9 578.2L615.2 578.3L615.6 578.4L615.9 578.5L616.3 578.6L616.7 578.7L617.0 578.8L617.4 578.9L617.8 579.1L618.1 579.2L618.5 579.3L618.8 579.4L619.2 579.5L619.6 579.6L619.9 579.7L620.3 579.8L620.6 579.9L621.0 580.0L621.4 580.1L621.7 580.2L622.1 580.3L622.5 580.4L622.8 580.5L623.2 580.6L623.5 580.7L623.9 580.8L624.3 580.9L624.6 581.0L625.0 581.1L625.3 581.2L625.7 581.3L626.1 581.4L626.4 581.5L626.8 581.6L627.2 581.7L627.5 581.8L627.9 581.9L628.2 582.0L628.6 582.1L629.0 582.2L629.3 582.3L629.7 582.4L630.0 582.5L630.4 582.6L630.8 582.7L631.1 582.8L631.5 582.9L631.9 583.0L632.2 583.1L632.6 583.2L632.9 583.3L633.3 583.3L633.7 583.4L634.0 583.5L634.4 583.6L634.7 583.7L635.1 583.8L635.5 583.9L635.8 584.0L636.2 584.1L636.6 584.2L636.9 584.3L637.3 584.3L637.6 584.4L638.0 584.5L638.4 584.6L638.7 584.7L639.1 584.8L639.4 584.9L639.8 585.0L640.2 585.0L640.5 585.1L640.9 585.2L641.3 585.3L641.6 585.4L642.0 585.5L642.3 585.6L642.7 585.7L643.1 585.7L643.4 585.8L643.8 585.9L644.2 586.0L644.5 586.1L644.9 586.2L645.2 586.3L645.6 586.3L646.0 586.4L646.3 586.5L646.7 586.6L647.0 586.7L647.4 586.8L647.8 586.8L648.1 586.9L648.5 587.0L648.9 587.1L649.2 587.2L649.6 587.3L649.9 587.3L650.3 587.4L650.7 587.5L651.0 587.6L651.4 587.7L651.7 587.8L652.1 587.8L652.5 587.9L652.8 588.0L653.2 588.1L653.6 588.2L653.9 588.2L654.3 588.3L654.6 588.4L655.0 588.5L655.4 588.6L655.7 588.7L656.1 588.7L656.4 588.8L656.8 588.9L657.2 589.0L657.5 589.1L657.9 589.1L658.3 589.2L658.6 589.3L659.0 589.4L659.3 589.5L659.7 589.5L660.1 589.6L660.4 589.7L660.8 589.8L661.1 589.9L661.5 589.9L661.9 590.0L662.2 590.1L662.6 590.2L663.0 590.3L663.3 590.3L663.7 590.4L664.0 590.5L664.4 590.6L664.8 590.7L665.1 590.7L665.5 590.8L665.8 590.9L666.2 591.0L666.6 591.1L666.9 591.1L667.3 591.2L667.7 591.3L668.0 591.4L668.4 591.5L668.7 591.5L669.1 591.6L669.5 591.7L669.8 591.8L670.2 591.9L670.5 591.9L670.9 592.0L671.3 592.1L671.6 592.2L672.0 592.2L672.4 592.3L672.7 592.4L673.1 592.5L673.4 592.6L673.8 592.6L674.2 592.7L674.5 592.8L674.9 592.9L675.2 592.9L675.6 593.0L676.0 593.1L676.3 593.2L676.7 593.3L677.1 593.3L677.4 593.4L677.8 593.5" fill="none" stroke="#182d5c" stroke-width="2.3"/>
<path d="M188.50 535.07L188.50 650.00" stroke="#000" stroke-width="1.0" fill="none"/>
<path d="M188.00 649.50L303.10 649.50" stroke="#000" stroke-width="1.0" fill="none"/>
<path d="M188.20 649.16L190.40 649.16" stroke="#000" stroke-width="0.6" fill="none"/>
<path d="M188.20 637.71L189.50 637.71" stroke="#000" stroke-width="0.6" fill="none"/>
<path d="M188.20 631.02L189.50 631.02" stroke="#000" stroke-width="0.6" fill="none"/>
<path d="M188.20 626.26L189.50 626.26" stroke="#000" stroke-width="0.6" fill="none"/>
<path d="M188.20 622.58L189.50 622.58" stroke="#000" stroke-width="0.6" fill="none"/>
<path d="M188.20 619.57L189.50 619.57" stroke="#000" stroke-width="0.6" fill="none"/>
<path d="M188.20 617.02L189.50 617.02" stroke="#000" stroke-width="0.6" fill="none"/>
<path d="M188.20 614.82L189.50 614.82" stroke="#000" stroke-width="0.6" fill="none"/>
<path d="M188.20 612.87L189.50 612.87" stroke="#000" stroke-width="0.6" fill="none"/>
<path d="M188.20 611.13L190.40 611.13" stroke="#000" stroke-width="0.6" fill="none"/>
<path d="M188.20 599.68L189.50 599.68" stroke="#000" stroke-width="0.6" fill="none"/>
<path d="M188.20 592.99L189.50 592.99" stroke="#000" stroke-width="0.6" fill="none"/>
<path d="M188.20 588.23L189.50 588.23" stroke="#000" stroke-width="0.6" fill="none"/>
<path d="M188.20 584.55L189.50 584.55" stroke="#000" stroke-width="0.6" fill="none"/>
<path d="M188.20 581.54L189.50 581.54" stroke="#000" stroke-width="0.6" fill="none"/>
<path d="M188.20 578.99L189.50 578.99" stroke="#000" stroke-width="0.6" fill="none"/>
<path d="M188.20 576.79L189.50 576.79" stroke="#000" stroke-width="0.6" fill="none"/>
<path d="M188.20 574.84L189.50 574.84" stroke="#000" stroke-width="0.6" fill="none"/>
<path d="M188.20 573.10L190.40 573.10" stroke="#000" stroke-width="0.6" fill="none"/>
<path d="M188.20 561.65L189.50 561.65" stroke="#000" stroke-width="0.6" fill="none"/>
<path d="M188.20 554.96L189.50 554.96" stroke="#000" stroke-width="0.6" fill="none"/>
<path d="M188.20 550.20L189.50 550.20" stroke="#000" stroke-width="0.6" fill="none"/>
<path d="M188.20 546.52L189.50 546.52" stroke="#000" stroke-width="0.6" fill="none"/>
<path d="M188.20 543.51L189.50 543.51" stroke="#000" stroke-width="0.6" fill="none"/>
<path d="M188.20 540.96L189.50 540.96" stroke="#000" stroke-width="0.6" fill="none"/>
<path d="M188.20 538.76L189.50 538.76" stroke="#000" stroke-width="0.6" fill="none"/>
<path d="M188.20 536.81L189.50 536.81" stroke="#000" stroke-width="0.6" fill="none"/>
<path d="M188.20 649.16L188.20 646.96" stroke="#000" stroke-width="0.9" fill="none"/>
<text transform="translate(188.20,669.36) scale(0.93,1)" font-size="16" text-anchor="middle">0</text>
<path d="M226.50 649.16L226.50 646.96" stroke="#000" stroke-width="0.9" fill="none"/>
<text transform="translate(226.50,669.36) scale(0.93,1)" font-size="16" text-anchor="middle">4</text>
<path d="M264.80 649.16L264.80 646.96" stroke="#000" stroke-width="0.9" fill="none"/>
<text transform="translate(264.80,669.36) scale(0.93,1)" font-size="16" text-anchor="middle">8</text>
<path d="M303.10 649.16L303.10 646.96" stroke="#000" stroke-width="0.9" fill="none"/>
<text transform="translate(303.10,669.36) scale(0.93,1)" font-size="16" text-anchor="middle">12</text>
<text transform="translate(176.00,543.07) scale(0.93,1)" font-size="16" text-anchor="end">10</text>
<text x="181.60" y="534.57" font-size="12.5" text-anchor="end">1</text>
<text transform="translate(176.00,581.10) scale(0.93,1)" font-size="16" text-anchor="end">10</text>
<text x="181.60" y="572.60" font-size="12.5" text-anchor="end">0</text>
<path d="M563.50 535.07L563.50 650.00" stroke="#000" stroke-width="1.0" fill="none"/>
<path d="M563.00 649.50L677.78 649.50" stroke="#000" stroke-width="1.0" fill="none"/>
<path d="M563.30 649.16L565.50 649.16" stroke="#000" stroke-width="0.6" fill="none"/>
<path d="M563.30 637.71L564.60 637.71" stroke="#000" stroke-width="0.6" fill="none"/>
<path d="M563.30 631.02L564.60 631.02" stroke="#000" stroke-width="0.6" fill="none"/>
<path d="M563.30 626.26L564.60 626.26" stroke="#000" stroke-width="0.6" fill="none"/>
<path d="M563.30 622.58L564.60 622.58" stroke="#000" stroke-width="0.6" fill="none"/>
<path d="M563.30 619.57L564.60 619.57" stroke="#000" stroke-width="0.6" fill="none"/>
<path d="M563.30 617.02L564.60 617.02" stroke="#000" stroke-width="0.6" fill="none"/>
<path d="M563.30 614.82L564.60 614.82" stroke="#000" stroke-width="0.6" fill="none"/>
<path d="M563.30 612.87L564.60 612.87" stroke="#000" stroke-width="0.6" fill="none"/>
<path d="M563.30 611.13L565.50 611.13" stroke="#000" stroke-width="0.6" fill="none"/>
<path d="M563.30 599.68L564.60 599.68" stroke="#000" stroke-width="0.6" fill="none"/>
<path d="M563.30 592.99L564.60 592.99" stroke="#000" stroke-width="0.6" fill="none"/>
<path d="M563.30 588.23L564.60 588.23" stroke="#000" stroke-width="0.6" fill="none"/>
<path d="M563.30 584.55L564.60 584.55" stroke="#000" stroke-width="0.6" fill="none"/>
<path d="M563.30 581.54L564.60 581.54" stroke="#000" stroke-width="0.6" fill="none"/>
<path d="M563.30 578.99L564.60 578.99" stroke="#000" stroke-width="0.6" fill="none"/>
<path d="M563.30 576.79L564.60 576.79" stroke="#000" stroke-width="0.6" fill="none"/>
<path d="M563.30 574.84L564.60 574.84" stroke="#000" stroke-width="0.6" fill="none"/>
<path d="M563.30 573.10L565.50 573.10" stroke="#000" stroke-width="0.6" fill="none"/>
<path d="M563.30 561.65L564.60 561.65" stroke="#000" stroke-width="0.6" fill="none"/>
<path d="M563.30 554.96L564.60 554.96" stroke="#000" stroke-width="0.6" fill="none"/>
<path d="M563.30 550.20L564.60 550.20" stroke="#000" stroke-width="0.6" fill="none"/>
<path d="M563.30 546.52L564.60 546.52" stroke="#000" stroke-width="0.6" fill="none"/>
<path d="M563.30 543.51L564.60 543.51" stroke="#000" stroke-width="0.6" fill="none"/>
<path d="M563.30 540.96L564.60 540.96" stroke="#000" stroke-width="0.6" fill="none"/>
<path d="M563.30 538.76L564.60 538.76" stroke="#000" stroke-width="0.6" fill="none"/>
<path d="M563.30 536.81L564.60 536.81" stroke="#000" stroke-width="0.6" fill="none"/>
<path d="M563.30 649.16L563.30 646.96" stroke="#000" stroke-width="0.9" fill="none"/>
<text transform="translate(563.30,669.36) scale(0.93,1)" font-size="16" text-anchor="middle">0</text>
<path d="M601.46 649.16L601.46 646.96" stroke="#000" stroke-width="0.9" fill="none"/>
<text transform="translate(601.46,669.36) scale(0.93,1)" font-size="16" text-anchor="middle">6</text>
<path d="M639.62 649.16L639.62 646.96" stroke="#000" stroke-width="0.9" fill="none"/>
<text transform="translate(639.62,669.36) scale(0.93,1)" font-size="16" text-anchor="middle">12</text>
<path d="M677.78 649.16L677.78 646.96" stroke="#000" stroke-width="0.9" fill="none"/>
<text transform="translate(677.78,669.36) scale(0.93,1)" font-size="16" text-anchor="middle">18</text>
<text transform="translate(551.10,543.07) scale(0.93,1)" font-size="16" text-anchor="end">10</text>
<text x="556.70" y="534.57" font-size="12.5" text-anchor="end">1</text>
<text transform="translate(551.10,581.10) scale(0.93,1)" font-size="16" text-anchor="end">10</text>
<text x="556.70" y="572.60" font-size="12.5" text-anchor="end">0</text>
<path d="M51.40 25.00L51.40 399.40" stroke="#000" stroke-width="1.1" fill="none"/>
<path d="M50.90 398.90L321.40 398.90" stroke="#000" stroke-width="1.1" fill="none"/>
<path d="M48.90 377.20L51.40 377.20" stroke="#000" stroke-width="1.1" fill="none"/>
<path d="M48.90 340.69L51.40 340.69" stroke="#000" stroke-width="1.1" fill="none"/>
<path d="M48.90 314.79L51.40 314.79" stroke="#000" stroke-width="1.1" fill="none"/>
<path d="M48.90 294.70L51.40 294.70" stroke="#000" stroke-width="1.1" fill="none"/>
<path d="M48.90 278.29L51.40 278.29" stroke="#000" stroke-width="1.1" fill="none"/>
<path d="M48.90 264.41L51.40 264.41" stroke="#000" stroke-width="1.1" fill="none"/>
<path d="M48.90 252.39L51.40 252.39" stroke="#000" stroke-width="1.1" fill="none"/>
<path d="M48.90 241.79L51.40 241.79" stroke="#000" stroke-width="1.1" fill="none"/>
<path d="M46.90 232.30L51.40 232.30" stroke="#000" stroke-width="1.1" fill="none"/>
<path d="M48.90 169.90L51.40 169.90" stroke="#000" stroke-width="1.1" fill="none"/>
<path d="M48.90 133.39L51.40 133.39" stroke="#000" stroke-width="1.1" fill="none"/>
<path d="M48.90 107.49L51.40 107.49" stroke="#000" stroke-width="1.1" fill="none"/>
<path d="M48.90 87.40L51.40 87.40" stroke="#000" stroke-width="1.1" fill="none"/>
<path d="M48.90 70.99L51.40 70.99" stroke="#000" stroke-width="1.1" fill="none"/>
<path d="M48.90 57.11L51.40 57.11" stroke="#000" stroke-width="1.1" fill="none"/>
<path d="M48.90 45.09L51.40 45.09" stroke="#000" stroke-width="1.1" fill="none"/>
<path d="M48.90 34.49L51.40 34.49" stroke="#000" stroke-width="1.1" fill="none"/>
<path d="M46.90 25.00L51.40 25.00" stroke="#000" stroke-width="1.1" fill="none"/>
<path d="M51.40 398.90L51.40 402.90" stroke="#000" stroke-width="1.1" fill="none"/>
<text transform="translate(51.40,420.90) scale(0.93,1)" font-size="16" text-anchor="middle">0</text>
<path d="M96.40 398.90L96.40 402.90" stroke="#000" stroke-width="1.1" fill="none"/>
<text transform="translate(96.40,420.90) scale(0.93,1)" font-size="16" text-anchor="middle">1</text>
<path d="M141.40 398.90L141.40 402.90" stroke="#000" stroke-width="1.1" fill="none"/>
<text transform="translate(141.40,420.90) scale(0.93,1)" font-size="16" text-anchor="middle">2</text>
<path d="M186.40 398.90L186.40 402.90" stroke="#000" stroke-width="1.1" fill="none"/>
<text transform="translate(186.40,420.90) scale(0.93,1)" font-size="16" text-anchor="middle">3</text>
<path d="M231.40 398.90L231.40 402.90" stroke="#000" stroke-width="1.1" fill="none"/>
<text transform="translate(231.40,420.90) scale(0.93,1)" font-size="16" text-anchor="middle">4</text>
<path d="M276.40 398.90L276.40 402.90" stroke="#000" stroke-width="1.1" fill="none"/>
<text transform="translate(276.40,420.90) scale(0.93,1)" font-size="16" text-anchor="middle">5</text>
<path d="M321.40 398.90L321.40 402.90" stroke="#000" stroke-width="1.1" fill="none"/>
<text transform="translate(321.40,420.90) scale(0.93,1)" font-size="16" text-anchor="middle">6</text>
<path d="M407.00 24.90L407.00 399.40" stroke="#000" stroke-width="1.1" fill="none"/>
<path d="M406.50 398.90L677.00 398.90" stroke="#000" stroke-width="1.1" fill="none"/>
<path d="M404.50 371.83L407.00 371.83" stroke="#000" stroke-width="1.1" fill="none"/>
<path d="M404.50 335.87L407.00 335.87" stroke="#000" stroke-width="1.1" fill="none"/>
<path d="M404.50 310.36L407.00 310.36" stroke="#000" stroke-width="1.1" fill="none"/>
<path d="M404.50 290.57L407.00 290.57" stroke="#000" stroke-width="1.1" fill="none"/>
<path d="M404.50 274.40L407.00 274.40" stroke="#000" stroke-width="1.1" fill="none"/>
<path d="M404.50 260.73L407.00 260.73" stroke="#000" stroke-width="1.1" fill="none"/>
<path d="M404.50 248.89L407.00 248.89" stroke="#000" stroke-width="1.1" fill="none"/>
<path d="M404.50 238.44L407.00 238.44" stroke="#000" stroke-width="1.1" fill="none"/>
<path d="M402.50 229.10L407.00 229.10" stroke="#000" stroke-width="1.1" fill="none"/>
<path d="M404.50 167.63L407.00 167.63" stroke="#000" stroke-width="1.1" fill="none"/>
<path d="M404.50 131.67L407.00 131.67" stroke="#000" stroke-width="1.1" fill="none"/>
<path d="M404.50 106.16L407.00 106.16" stroke="#000" stroke-width="1.1" fill="none"/>
<path d="M404.50 86.37L407.00 86.37" stroke="#000" stroke-width="1.1" fill="none"/>
<path d="M404.50 70.20L407.00 70.20" stroke="#000" stroke-width="1.1" fill="none"/>
<path d="M404.50 56.53L407.00 56.53" stroke="#000" stroke-width="1.1" fill="none"/>
<path d="M404.50 44.69L407.00 44.69" stroke="#000" stroke-width="1.1" fill="none"/>
<path d="M404.50 34.24L407.00 34.24" stroke="#000" stroke-width="1.1" fill="none"/>
<path d="M402.50 24.90L407.00 24.90" stroke="#000" stroke-width="1.1" fill="none"/>
<path d="M407.00 398.90L407.00 402.90" stroke="#000" stroke-width="1.1" fill="none"/>
<text transform="translate(407.00,420.90) scale(0.93,1)" font-size="16" text-anchor="middle">0</text>
<path d="M452.00 398.90L452.00 402.90" stroke="#000" stroke-width="1.1" fill="none"/>
<text transform="translate(452.00,420.90) scale(0.93,1)" font-size="16" text-anchor="middle">1</text>
<path d="M497.00 398.90L497.00 402.90" stroke="#000" stroke-width="1.1" fill="none"/>
<text transform="translate(497.00,420.90) scale(0.93,1)" font-size="16" text-anchor="middle">2</text>
<path d="M542.00 398.90L542.00 402.90" stroke="#000" stroke-width="1.1" fill="none"/>
<text transform="translate(542.00,420.90) scale(0.93,1)" font-size="16" text-anchor="middle">3</text>
<path d="M587.00 398.90L587.00 402.90" stroke="#000" stroke-width="1.1" fill="none"/>
<text transform="translate(587.00,420.90) scale(0.93,1)" font-size="16" text-anchor="middle">4</text>
<path d="M632.00 398.90L632.00 402.90" stroke="#000" stroke-width="1.1" fill="none"/>
<text transform="translate(632.00,420.90) scale(0.93,1)" font-size="16" text-anchor="middle">5</text>
<path d="M677.00 398.90L677.00 402.90" stroke="#000" stroke-width="1.1" fill="none"/>
<text transform="translate(677.00,420.90) scale(0.93,1)" font-size="16" text-anchor="middle">6</text>
<path d="M51.40 523.40L51.40 898.60" stroke="#000" stroke-width="1.0" fill="none"/>
<path d="M50.90 898.10L321.30 898.10" stroke="#000" stroke-width="1.0" fill="none"/>
<path d="M47.10 898.10L51.40 898.10" stroke="#000" stroke-width="1.0" fill="none"/>
<text transform="translate(43.90,903.30) scale(0.93,1)" font-size="16" text-anchor="end">0</text>
<path d="M47.10 835.65L51.40 835.65" stroke="#000" stroke-width="1.0" fill="none"/>
<text transform="translate(43.90,840.85) scale(0.93,1)" font-size="16" text-anchor="end">1</text>
<path d="M47.10 773.20L51.40 773.20" stroke="#000" stroke-width="1.0" fill="none"/>
<text transform="translate(43.90,778.40) scale(0.93,1)" font-size="16" text-anchor="end">2</text>
<path d="M47.10 710.75L51.40 710.75" stroke="#000" stroke-width="1.0" fill="none"/>
<text transform="translate(43.90,715.95) scale(0.93,1)" font-size="16" text-anchor="end">3</text>
<path d="M47.10 648.30L51.40 648.30" stroke="#000" stroke-width="1.0" fill="none"/>
<text transform="translate(43.90,653.50) scale(0.93,1)" font-size="16" text-anchor="end">4</text>
<path d="M47.10 585.85L51.40 585.85" stroke="#000" stroke-width="1.0" fill="none"/>
<text transform="translate(43.90,591.05) scale(0.93,1)" font-size="16" text-anchor="end">5</text>
<path d="M47.10 523.40L51.40 523.40" stroke="#000" stroke-width="1.0" fill="none"/>
<text transform="translate(43.90,528.60) scale(0.93,1)" font-size="16" text-anchor="end">6</text>
<path d="M51.40 898.10L51.40 901.60" stroke="#000" stroke-width="1.0" fill="none"/>
<text transform="translate(51.40,920.10) scale(0.93,1)" font-size="16" text-anchor="middle">0</text>
<path d="M96.36 898.10L96.36 901.60" stroke="#000" stroke-width="1.0" fill="none"/>
<text transform="translate(96.36,920.10) scale(0.93,1)" font-size="16" text-anchor="middle">2</text>
<path d="M141.32 898.10L141.32 901.60" stroke="#000" stroke-width="1.0" fill="none"/>
<text transform="translate(141.32,920.10) scale(0.93,1)" font-size="16" text-anchor="middle">4</text>
<path d="M186.28 898.10L186.28 901.60" stroke="#000" stroke-width="1.0" fill="none"/>
<text transform="translate(186.28,920.10) scale(0.93,1)" font-size="16" text-anchor="middle">6</text>
<path d="M231.24 898.10L231.24 901.60" stroke="#000" stroke-width="1.0" fill="none"/>
<text transform="translate(231.24,920.10) scale(0.93,1)" font-size="16" text-anchor="middle">8</text>
<path d="M276.20 898.10L276.20 901.60" stroke="#000" stroke-width="1.0" fill="none"/>
<text transform="translate(276.20,920.10) scale(0.93,1)" font-size="16" text-anchor="middle">10</text>
<path d="M321.16 898.10L321.16 901.60" stroke="#000" stroke-width="1.0" fill="none"/>
<text transform="translate(321.16,920.10) scale(0.93,1)" font-size="16" text-anchor="middle">12</text>
<path d="M406.70 523.40L406.70 898.60" stroke="#000" stroke-width="1.0" fill="none"/>
<path d="M406.20 898.10L676.70 898.10" stroke="#000" stroke-width="1.0" fill="none"/>
<path d="M402.40 898.10L406.70 898.10" stroke="#000" stroke-width="1.0" fill="none"/>
<text transform="translate(399.20,903.30) scale(0.93,1)" font-size="16" text-anchor="end">0</text>
<path d="M402.40 835.65L406.70 835.65" stroke="#000" stroke-width="1.0" fill="none"/>
<text transform="translate(399.20,840.85) scale(0.93,1)" font-size="16" text-anchor="end">1</text>
<path d="M402.40 773.20L406.70 773.20" stroke="#000" stroke-width="1.0" fill="none"/>
<text transform="translate(399.20,778.40) scale(0.93,1)" font-size="16" text-anchor="end">2</text>
<path d="M402.40 710.75L406.70 710.75" stroke="#000" stroke-width="1.0" fill="none"/>
<text transform="translate(399.20,715.95) scale(0.93,1)" font-size="16" text-anchor="end">3</text>
<path d="M402.40 648.30L406.70 648.30" stroke="#000" stroke-width="1.0" fill="none"/>
<text transform="translate(399.20,653.50) scale(0.93,1)" font-size="16" text-anchor="end">4</text>
<path d="M402.40 585.85L406.70 585.85" stroke="#000" stroke-width="1.0" fill="none"/>
<text transform="translate(399.20,591.05) scale(0.93,1)" font-size="16" text-anchor="end">5</text>
<path d="M402.40 523.40L406.70 523.40" stroke="#000" stroke-width="1.0" fill="none"/>
<text transform="translate(399.20,528.60) scale(0.93,1)" font-size="16" text-anchor="end">6</text>
<path d="M406.70 898.10L406.70 901.60" stroke="#000" stroke-width="1.0" fill="none"/>
<text transform="translate(406.70,920.10) scale(0.93,1)" font-size="16" text-anchor="middle">0</text>
<path d="M451.70 898.10L451.70 901.60" stroke="#000" stroke-width="1.0" fill="none"/>
<text transform="translate(451.70,920.10) scale(0.93,1)" font-size="16" text-anchor="middle">3</text>
<path d="M496.70 898.10L496.70 901.60" stroke="#000" stroke-width="1.0" fill="none"/>
<text transform="translate(496.70,920.10) scale(0.93,1)" font-size="16" text-anchor="middle">6</text>
<path d="M541.70 898.10L541.70 901.60" stroke="#000" stroke-width="1.0" fill="none"/>
<text transform="translate(541.70,920.10) scale(0.93,1)" font-size="16" text-anchor="middle">9</text>
<path d="M586.70 898.10L586.70 901.60" stroke="#000" stroke-width="1.0" fill="none"/>
<text transform="translate(586.70,920.10) scale(0.93,1)" font-size="16" text-anchor="middle">12</text>
<path d="M631.70 898.10L631.70 901.60" stroke="#000" stroke-width="1.0" fill="none"/>
<text transform="translate(631.70,920.10) scale(0.93,1)" font-size="16" text-anchor="middle">15</text>
<path d="M676.70 898.10L676.70 901.60" stroke="#000" stroke-width="1.0" fill="none"/>
<text transform="translate(676.70,920.10) scale(0.93,1)" font-size="16" text-anchor="middle">18</text>
<text transform="translate(34.80,240.50) scale(0.93,1)" font-size="16" text-anchor="end">10</text>
<text x="43.10" y="231.80" font-size="11.5" text-anchor="end">1</text>
<text transform="translate(34.80,33.20) scale(0.93,1)" font-size="16" text-anchor="end">10</text>
<text x="43.10" y="24.50" font-size="11.5" text-anchor="end">2</text>
<text transform="translate(390.40,237.30) scale(0.93,1)" font-size="16" text-anchor="end">10</text>
<text x="398.70" y="228.60" font-size="11.5" text-anchor="end">1</text>
<text transform="translate(390.40,33.10) scale(0.93,1)" font-size="16" text-anchor="end">10</text>
<text x="398.70" y="24.40" font-size="11.5" text-anchor="end">2</text>
<text x="34.20" y="11.60" font-size="16" text-anchor="middle" font-weight="bold" >(a)</text>
<text x="390.00" y="11.60" font-size="16" text-anchor="middle" font-weight="bold" >(b)</text>
<text x="34.20" y="510.30" font-size="16" text-anchor="middle" font-weight="bold" >(c)</text>
<text x="389.80" y="510.30" font-size="16" text-anchor="middle" font-weight="bold" >(d)</text>
<text transform="translate(11.00,212.90) rotate(-90)" x="0" y="0" font-size="16.2" font-weight="bold" text-anchor="middle">Triazolam concentration [ng/mL]</text>
<text transform="translate(366.60,212.90) rotate(-90)" x="0" y="0" font-size="16.2" font-weight="bold" text-anchor="middle">Triazolam concentration [ng/mL]</text>
<text transform="translate(28.60,711.50) rotate(-90)" x="0" y="0" font-size="16.2" font-weight="bold" text-anchor="middle">Triazolam concentration [ng/mL]</text>
<text transform="translate(384.00,711.50) rotate(-90)" x="0" y="0" font-size="16.2" font-weight="bold" text-anchor="middle">Triazolam concentration [ng/mL]</text>
<text x="186.00" y="439.70" font-size="16" text-anchor="middle" font-weight="bold" >Time [h]</text>
<text x="541.80" y="439.70" font-size="16" text-anchor="middle" font-weight="bold" >Time [h]</text>
<text x="185.60" y="938.20" font-size="16" text-anchor="middle" font-weight="bold" >Time [h]</text>
<text x="540.70" y="938.20" font-size="16" text-anchor="middle" font-weight="bold" >Time [h]</text>
<circle cx="56.70" cy="95.00" r="3.1" fill="none" stroke="#ff0000" stroke-width="2.7"/>
<circle cx="57.00" cy="140.00" r="3.1" fill="none" stroke="#ff0000" stroke-width="2.7"/>
<circle cx="61.90" cy="157.20" r="3.1" fill="none" stroke="#ff0000" stroke-width="2.7"/>
<circle cx="61.90" cy="174.60" r="3.1" fill="none" stroke="#ff0000" stroke-width="2.7"/>
<circle cx="60.50" cy="179.20" r="3.1" fill="none" stroke="#ff0000" stroke-width="2.7"/>
<circle cx="65.00" cy="192.20" r="3.1" fill="none" stroke="#ff0000" stroke-width="2.7"/>
<circle cx="65.00" cy="208.00" r="3.1" fill="none" stroke="#ff0000" stroke-width="2.7"/>
<circle cx="76.00" cy="236.00" r="3.1" fill="none" stroke="#ff0000" stroke-width="2.7"/>
<circle cx="87.10" cy="259.40" r="3.1" fill="none" stroke="#ff0000" stroke-width="2.7"/>
<circle cx="97.60" cy="267.40" r="3.1" fill="none" stroke="#ff0000" stroke-width="2.7"/>
<circle cx="98.00" cy="273.50" r="3.1" fill="none" stroke="#ff0000" stroke-width="2.7"/>
<circle cx="109.40" cy="277.20" r="3.1" fill="none" stroke="#ff0000" stroke-width="2.7"/>
<circle cx="109.40" cy="281.00" r="3.1" fill="none" stroke="#ff0000" stroke-width="2.7"/>
<circle cx="143.10" cy="287.60" r="3.1" fill="none" stroke="#ff0000" stroke-width="2.7"/>
<circle cx="143.10" cy="295.90" r="3.1" fill="none" stroke="#ff0000" stroke-width="2.7"/>
<circle cx="165.90" cy="294.70" r="3.1" fill="none" stroke="#ff0000" stroke-width="2.7"/>
<circle cx="165.90" cy="308.40" r="3.1" fill="none" stroke="#ff0000" stroke-width="2.7"/>
<circle cx="210.50" cy="317.20" r="3.1" fill="none" stroke="#ff0000" stroke-width="2.7"/>
<circle cx="210.50" cy="331.50" r="3.1" fill="none" stroke="#ff0000" stroke-width="2.7"/>
<circle cx="257.10" cy="335.40" r="3.1" fill="none" stroke="#ff0000" stroke-width="2.7"/>
<circle cx="255.90" cy="344.90" r="3.1" fill="none" stroke="#ff0000" stroke-width="2.7"/>
<circle cx="413.10" cy="130.90" r="3.1" fill="none" stroke="#ff0000" stroke-width="2.7"/>
<circle cx="413.00" cy="167.20" r="3.1" fill="none" stroke="#ff0000" stroke-width="2.7"/>
<circle cx="416.90" cy="172.80" r="3.1" fill="none" stroke="#ff0000" stroke-width="2.7"/>
<circle cx="420.10" cy="202.50" r="3.1" fill="none" stroke="#ff0000" stroke-width="2.7"/>
<circle cx="416.60" cy="209.70" r="3.1" fill="none" stroke="#ff0000" stroke-width="2.7"/>
<circle cx="420.60" cy="232.80" r="3.1" fill="none" stroke="#ff0000" stroke-width="2.7"/>
<circle cx="432.10" cy="234.40" r="3.1" fill="none" stroke="#ff0000" stroke-width="2.7"/>
<circle cx="442.10" cy="252.60" r="3.1" fill="none" stroke="#ff0000" stroke-width="2.7"/>
<circle cx="431.30" cy="256.50" r="3.1" fill="none" stroke="#ff0000" stroke-width="2.7"/>
<circle cx="442.70" cy="271.80" r="3.1" fill="none" stroke="#ff0000" stroke-width="2.7"/>
<circle cx="453.70" cy="270.80" r="3.1" fill="none" stroke="#ff0000" stroke-width="2.7"/>
<circle cx="452.80" cy="279.70" r="3.1" fill="none" stroke="#ff0000" stroke-width="2.7"/>
<circle cx="465.50" cy="276.50" r="3.1" fill="none" stroke="#ff0000" stroke-width="2.7"/>
<circle cx="464.70" cy="284.60" r="3.1" fill="none" stroke="#ff0000" stroke-width="2.7"/>
<circle cx="498.70" cy="291.70" r="3.1" fill="none" stroke="#ff0000" stroke-width="2.7"/>
<circle cx="498.50" cy="299.20" r="3.1" fill="none" stroke="#ff0000" stroke-width="2.7"/>
<circle cx="521.50" cy="299.50" r="3.1" fill="none" stroke="#ff0000" stroke-width="2.7"/>
<circle cx="521.50" cy="304.00" r="3.1" fill="none" stroke="#ff0000" stroke-width="2.7"/>
<circle cx="566.50" cy="314.90" r="3.1" fill="none" stroke="#ff0000" stroke-width="2.7"/>
<circle cx="566.50" cy="321.40" r="3.1" fill="none" stroke="#ff0000" stroke-width="2.7"/>
<circle cx="611.50" cy="330.30" r="3.1" fill="none" stroke="#ff0000" stroke-width="2.7"/>
<circle cx="53.80" cy="872.00" r="3.1" fill="none" stroke="#ff0000" stroke-width="2.7"/>
<circle cx="66.40" cy="773.50" r="3.1" fill="none" stroke="#ff0000" stroke-width="2.7"/>
<circle cx="68.10" cy="764.70" r="3.1" fill="none" stroke="#ff0000" stroke-width="2.7"/>
<circle cx="72.10" cy="747.50" r="3.1" fill="none" stroke="#ff0000" stroke-width="2.7"/>
<circle cx="82.40" cy="742.40" r="3.1" fill="none" stroke="#ff0000" stroke-width="2.7"/>
<circle cx="93.20" cy="778.90" r="3.1" fill="none" stroke="#ff0000" stroke-width="2.7"/>
<circle cx="105.90" cy="772.20" r="3.1" fill="none" stroke="#ff0000" stroke-width="2.7"/>
<circle cx="117.00" cy="779.80" r="3.1" fill="none" stroke="#ff0000" stroke-width="2.7"/>
<circle cx="139.50" cy="810.50" r="3.1" fill="none" stroke="#ff0000" stroke-width="2.7"/>
<circle cx="184.80" cy="842.30" r="3.1" fill="none" stroke="#ff0000" stroke-width="2.7"/>
<circle cx="234.00" cy="854.20" r="3.1" fill="none" stroke="#ff0000" stroke-width="2.7"/>
<circle cx="274.50" cy="879.00" r="3.1" fill="none" stroke="#ff0000" stroke-width="2.7"/>
<circle cx="321.40" cy="885.20" r="3.1" fill="none" stroke="#ff0000" stroke-width="2.7"/>
<circle cx="408.10" cy="872.40" r="3.1" fill="none" stroke="#ff0000" stroke-width="2.7"/>
<circle cx="411.30" cy="848.00" r="3.1" fill="none" stroke="#ff0000" stroke-width="2.7"/>
<circle cx="412.30" cy="828.40" r="3.1" fill="none" stroke="#ff0000" stroke-width="2.7"/>
<circle cx="422.60" cy="716.60" r="3.1" fill="none" stroke="#ff0000" stroke-width="2.7"/>
<circle cx="429.00" cy="677.80" r="3.1" fill="none" stroke="#ff0000" stroke-width="2.7"/>
<circle cx="437.70" cy="657.10" r="3.1" fill="none" stroke="#ff0000" stroke-width="2.7"/>
<circle cx="442.70" cy="644.20" r="3.1" fill="none" stroke="#ff0000" stroke-width="2.7"/>
<circle cx="451.00" cy="648.80" r="3.1" fill="none" stroke="#ff0000" stroke-width="2.7"/>
<circle cx="466.60" cy="719.00" r="3.1" fill="none" stroke="#ff0000" stroke-width="2.7"/>
<circle cx="496.10" cy="742.60" r="3.1" fill="none" stroke="#ff0000" stroke-width="2.7"/>
<circle cx="552.90" cy="809.90" r="3.1" fill="none" stroke="#ff0000" stroke-width="2.7"/>
<circle cx="587.20" cy="829.80" r="3.1" fill="none" stroke="#ff0000" stroke-width="2.7"/>
<circle cx="631.40" cy="861.00" r="3.1" fill="none" stroke="#ff0000" stroke-width="2.7"/>
<circle cx="676.60" cy="867.30" r="3.1" fill="none" stroke="#ff0000" stroke-width="2.7"/>
<circle cx="189.22" cy="587.51" r="3.0" fill="none" stroke="#ff0000" stroke-width="1.5"/>
<circle cx="194.59" cy="561.69" r="3.0" fill="none" stroke="#ff0000" stroke-width="1.5"/>
<circle cx="195.31" cy="560.56" r="3.0" fill="none" stroke="#ff0000" stroke-width="1.5"/>
<circle cx="197.02" cy="558.56" r="3.0" fill="none" stroke="#ff0000" stroke-width="1.5"/>
<circle cx="201.40" cy="558.01" r="3.0" fill="none" stroke="#ff0000" stroke-width="1.5"/>
<circle cx="206.00" cy="562.42" r="3.0" fill="none" stroke="#ff0000" stroke-width="1.5"/>
<circle cx="211.41" cy="561.52" r="3.0" fill="none" stroke="#ff0000" stroke-width="1.5"/>
<circle cx="216.14" cy="562.55" r="3.0" fill="none" stroke="#ff0000" stroke-width="1.5"/>
<circle cx="225.72" cy="567.51" r="3.0" fill="none" stroke="#ff0000" stroke-width="1.5"/>
<circle cx="245.02" cy="574.96" r="3.0" fill="none" stroke="#ff0000" stroke-width="1.5"/>
<circle cx="265.98" cy="578.92" r="3.0" fill="none" stroke="#ff0000" stroke-width="1.5"/>
<circle cx="283.23" cy="592.67" r="3.0" fill="none" stroke="#ff0000" stroke-width="1.5"/>
<circle cx="303.20" cy="599.15" r="3.0" fill="none" stroke="#ff0000" stroke-width="1.5"/>
<circle cx="563.89" cy="587.76" r="3.0" fill="none" stroke="#ff0000" stroke-width="1.5"/>
<circle cx="565.25" cy="576.74" r="3.0" fill="none" stroke="#ff0000" stroke-width="1.5"/>
<circle cx="565.67" cy="571.29" r="3.0" fill="none" stroke="#ff0000" stroke-width="1.5"/>
<circle cx="570.04" cy="555.48" r="3.0" fill="none" stroke="#ff0000" stroke-width="1.5"/>
<circle cx="572.76" cy="552.28" r="3.0" fill="none" stroke="#ff0000" stroke-width="1.5"/>
<circle cx="576.44" cy="550.80" r="3.0" fill="none" stroke="#ff0000" stroke-width="1.5"/>
<circle cx="578.56" cy="549.93" r="3.0" fill="none" stroke="#ff0000" stroke-width="1.5"/>
<circle cx="582.08" cy="550.24" r="3.0" fill="none" stroke="#ff0000" stroke-width="1.5"/>
<circle cx="588.70" cy="555.70" r="3.0" fill="none" stroke="#ff0000" stroke-width="1.5"/>
<circle cx="601.21" cy="558.03" r="3.0" fill="none" stroke="#ff0000" stroke-width="1.5"/>
<circle cx="625.29" cy="567.40" r="3.0" fill="none" stroke="#ff0000" stroke-width="1.5"/>
<circle cx="639.83" cy="571.62" r="3.0" fill="none" stroke="#ff0000" stroke-width="1.5"/>
<circle cx="658.57" cy="581.70" r="3.0" fill="none" stroke="#ff0000" stroke-width="1.5"/>
<circle cx="677.74" cy="584.77" r="3.0" fill="none" stroke="#ff0000" stroke-width="1.5"/>
</svg></body></html>
